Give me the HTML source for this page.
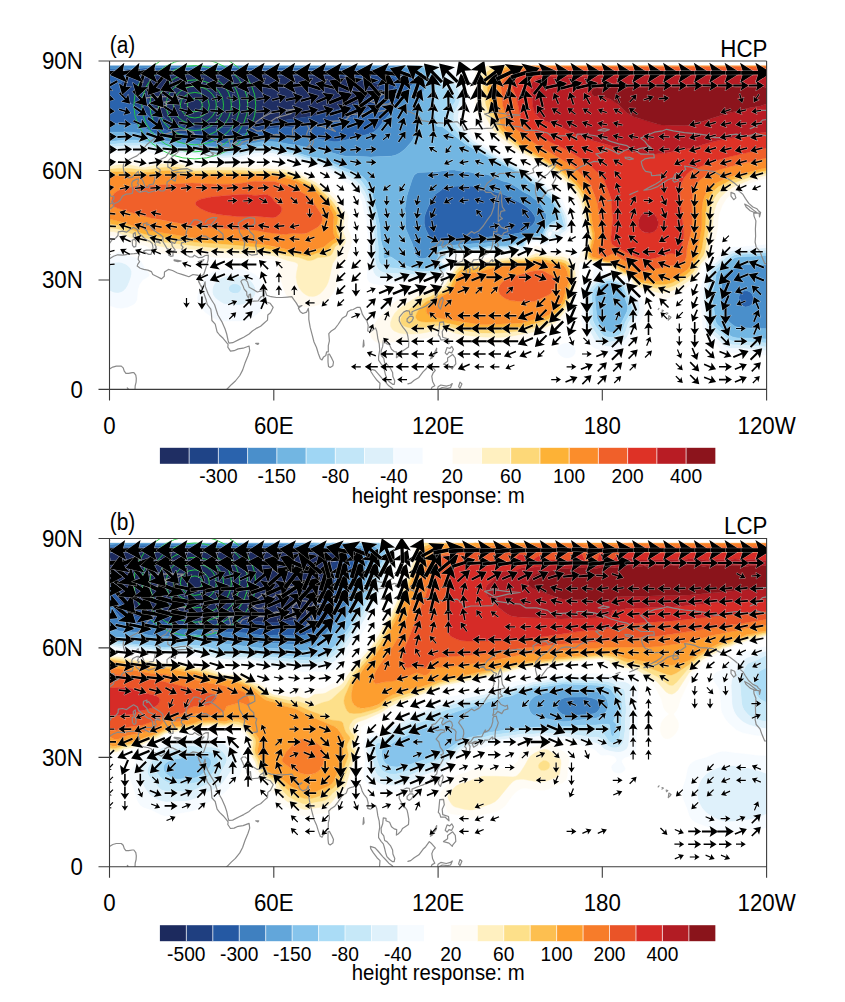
<!DOCTYPE html>
<html><head><meta charset="utf-8"><title>fig</title>
<style>html,body{margin:0;padding:0;background:#fff}svg{display:block}text{font-family:"Liberation Sans",sans-serif;fill:#000}</style></head>
<body><svg width="845" height="1002" viewBox="0 0 845 1002">
<rect width="845" height="1002" fill="#fff"/>
<g shape-rendering="geometricPrecision" stroke-width="0.4" stroke-linejoin="round"><path stroke="#1f2e63" fill="#1f2e63" d="M178.5 74.7L202.5 74.5L216 75.3L232.5 75.4L246 74.6L261 74.6L274.5 75.6L283.5 75.4L292.5 75.7L304.5 74.7L315 75.8L342 75.9L348 76.6L364.5 81.3L375 82.9L378 83.8L379.4 85.2L379.7 86.7L379.1 88.2L377.8 89.7L371.9 94.2L367.5 97.2L362 100.2L352.5 104.6L345 107.5L337.5 109.2L325.5 113L315 115.8L268.5 122.6L255 125.9L250.5 126.4L226.5 127.4L195 127.9L175.5 124.3L172.5 123.2L169 121.2L165 117.8L154.5 107.1L141.3 91.2L140.2 89.7L139.1 86.7L139.4 83.7L141.2 80.7L142.9 79.2L145.5 77.7L150 76.2L154.5 75.8L169.5 75.7L178.5 74.7Z"/><path stroke="#1f4487" fill="#1f4487" d="M146.7 71.7L151.5 71.2L163.5 71.4L184.5 71L235.5 71.4L256.5 71L274.5 71.5L283.5 71.1L294 71.7L303 71.1L313.5 71.6L322.5 71.1L333 71.5L340.5 71.3L348 71.8L364.5 74L381 74.9L388.5 76.2L392.7 77.7L394.9 79.2L395.9 80.7L396.2 82.2L395.5 85.2L392.7 89.7L390 92.5L384 97.3L375 105.3L369 108.8L357 114.7L351 117.2L339 119.9L318 125.3L310.5 126.3L274.5 128L270 128.8L255 132.8L228 135.2L217.5 135.3L195 134.8L175.5 132.7L169.5 131.6L165 129.6L159.3 125.7L145.5 112.6L142.5 110.2L125.5 100.2L122.6 97.2L121 94.2L120.2 91.2L120.1 86.7L120.8 83.7L123.2 80.7L125.4 79.2L131.8 76.2L139.5 73.5L145.5 72ZM180 74.6L169.5 75.7L154.5 75.8L150 76.2L145.5 77.7L142.9 79.2L141.2 80.7L139.4 83.7L139.1 86.7L140.2 89.7L141.3 91.2L154.5 107.1L165 117.8L169 121.2L172.5 123.2L175.5 124.3L195 127.9L226.5 127.4L250.5 126.4L255 125.9L268.5 122.6L315 115.8L325.5 113L337.5 109.2L345 107.5L352.5 104.6L362 100.2L367.5 97.2L371.9 94.2L377.8 89.7L379.1 88.2L379.7 86.7L379.4 85.2L378 83.8L375 82.9L364.5 81.3L348 76.6L342 75.9L315 75.8L304.5 74.7L292.5 75.7L283.5 75.4L274.5 75.6L261 74.6L246 74.6L232.5 75.4L216 75.3L202.5 74.5L181.5 74.5Z"/><path stroke="#2a63ad" fill="#2a63ad" d="M134.8 68.7L151.5 67.6L214.5 67.7L225 67.3L235.5 67.7L262.5 67.5L274.5 67.8L283.5 67.3L294 67.8L303 67.5L313.5 67.8L325.5 67.3L348 67.6L378 69.2L393 69.1L399 69.9L403.5 71.3L411 74.5L413.3 76.2L414.4 77.7L414.9 79.2L414.9 80.7L414.3 82.2L409.5 87.3L397.5 104.8L386 118.2L378 128.4L374.2 131.7L369 134L345 140.3L337.5 141.7L333 141.7L315 138.2L276 135.3L273 135.5L264 137.4L255 138.5L244.5 140.9L235.5 142.4L225 143.2L214.5 142.8L195 140.3L186 140.2L178.5 139.7L165 137.3L160.5 135.9L156 134.1L141 126.1L133.5 123.9L126 123.3L109.5 123.8L109.5 69L124.5 69.2L133.5 68.8ZM147 71.6L140.5 73.2L131.8 76.2L125.4 79.2L123.2 80.7L120.8 83.7L120.1 86.7L120.2 91.2L121 94.2L122.6 97.2L125.5 100.2L142.5 110.2L145.5 112.6L159.3 125.7L165 129.6L169.5 131.6L175.5 132.7L195 134.8L217.5 135.3L228 135.2L255 132.8L270 128.8L274.5 128L315 125.8L351 117.2L357 114.7L373.5 106.3L376.5 104.2L384 97.3L389.8 92.7L392.7 89.7L394.7 86.7L396 83.7L395.9 80.7L394.5 78.9L392.7 77.7L390 76.7L381 74.9L364.5 74L348 71.8L340.5 71.3L333 71.5L322.5 71.1L313.5 71.6L303 71.1L294 71.7L283.5 71.1L274.5 71.5L255 71L235.5 71.4L202.5 71L148.5 71.4ZM444 187.2L447 186.7L457.5 186.1L472.5 186.1L504 194.6L522.2 203.7L526.5 206.7L531 210.9L534.5 215.7L535.3 218.7L534.7 221.7L532.5 225L527.2 229.2L522 232L519 233L507 235.2L493.5 236.2L481.5 238L444 241.6L438.4 241.2L433.5 239.7L431.1 238.2L429.6 236.7L426.3 230.7L425.2 227.7L424.2 223.2L424.3 217.2L425.7 212.7L432 198.2L435 194.6L441.1 190.2L442.5 188.7ZM741.7 292.2L744 291L747 290.8L750 292.1L751.8 293.7L753.2 296.7L753.2 301.2L751.9 304.2L750.1 305.7L748.5 306.5L745.5 306.9L742.5 306L740.4 304.2L739 301.2L738.8 298.2L739.3 295.2L741 292.7Z"/><path stroke="#4a8fcb" fill="#4a8fcb" d="M109.5 65.7L368.8 65.7L379.5 66.1L384.3 65.7L400.8 65.7L415.5 70.8L420 73.2L421.8 74.7L424.3 77.7L425.5 80.7L425.7 82.2L424.6 88.2L421.5 98.6L419 104.7L418.2 107.7L417.5 119.7L414.3 136.2L413.1 139.2L411.1 142.2L405 149L402 151.6L397.9 154.2L394.5 155.6L391.5 156.1L370.5 157.1L355.5 156.2L346.5 156.3L340.5 155.3L331.5 152.4L315 148.4L306 147.1L297 145.2L288 144L277.5 141.9L268.5 141.4L261 141.8L237 146.4L225 147.4L213 146.7L195 144L183 143.5L175.5 142.8L159 139.8L141 133.7L135 132.4L127.5 131.9L109.5 132.2L109.5 123.8L126 123.3L133.5 123.9L141 126.1L156 134.1L160.5 135.9L165 137.3L178.5 139.7L186 140.2L195 140.3L214.5 142.8L225 143.2L235.5 142.4L244.5 140.9L255 138.5L264 137.4L273 135.5L276 135.3L315 138.2L334.5 141.8L340.5 141.3L369 134L374.2 131.7L378 128.4L386 118.2L397.5 104.8L409.5 87.3L414.3 82.2L414.9 80.7L414.9 79.2L414.4 77.7L413.3 76.2L411 74.5L403.5 71.3L399 69.9L393 69.1L378 69.2L345 67.5L324 67.3L313.5 67.8L303 67.5L294 67.8L283.5 67.3L274.5 67.8L262.5 67.5L235.5 67.7L225 67.3L214.5 67.7L151.5 67.6L123 69.2L109.5 69L109.5 67.2ZM444 170.7L450 169.9L454.5 169.9L463.5 171.6L471 172.3L478.5 174.4L486 174.2L489 175.1L492 176.8L498 178.9L502.5 181L507 182L510 183.1L517.5 187.7L523.1 191.7L529.5 194.9L538.7 202.2L541.1 205.2L546 214.1L546.4 215.7L546.1 218.7L544.8 221.7L538.5 232.2L535.5 233.6L529.5 234.5L520.5 238.8L514.5 239.6L507 241.7L498 241.7L481.5 243.2L447 245.6L439.5 246.5L436.5 247.4L434.3 248.7L432.6 250.2L428.5 256.2L426.6 257.7L424.5 258.5L421.5 258.8L418.5 257.9L416.6 256.2L415.6 254.7L412.5 244.2L406 229.2L405.3 224.7L405.6 217.2L405 208.2L406.8 196.2L412 179.7L414 175.6L415.7 173.7L418.5 172.5L436.5 171.7L444 170.7ZM444 187.2L441.1 190.2L435 194.6L432.3 197.7L430.5 201.2L425.7 212.7L424.3 217.2L424.2 223.2L425.7 229.2L428.6 235.2L430.5 237.6L432 238.9L435 240.3L438 241.1L444 241.6L481.5 238L493.5 236.2L505.5 235.4L519 233L523.5 231.3L529.3 227.7L532.5 225L534 223.2L535.2 220.2L535.1 217.2L534 214.8L532.6 212.7L528.2 208.2L523.5 204.5L504 194.6L474 186.4L465 185.9L445.5 186.8ZM739.8 265.2L745.5 264.6L766.6 265.1L766.6 328.8L751.5 328L741 327.8L736.5 327L733.5 325.4L729.6 322.2L726.7 319.2L724.5 315.8L723 311L720.2 296.7L720.6 292.2L723.4 277.2L724.5 275L726.8 272.7L735 267.4L739.5 265.3ZM742.5 291.6L740.1 293.7L738.9 296.7L738.8 299.7L739.5 302.7L741 304.8L744 306.7L745.5 306.9L748.5 306.5L751.5 304.6L752.8 302.7L753.4 299.7L753.2 296.7L751.8 293.7L750 292.1L747 290.8L744 291Z"/><path stroke="#72b6e2" fill="#72b6e2" d="M368.8 65.7L384.3 65.7L379.5 66.1L369 65.7ZM400.8 65.7L420.1 65.7L428.2 70.2L430.5 72.4L432.2 74.7L433.5 77.7L434.1 80.7L434.8 91.2L434.3 110.7L435.5 122.7L436.5 125.7L438 126.5L441 126.4L442.5 126.8L465 143.7L478.5 151.9L496.5 161.4L522 174L526.9 179.7L529.5 182L537 185.4L538.5 186.5L543.6 193.2L551.4 199.2L558 212.8L559 217.2L558.7 218.7L558 219.7L552 222.1L547.5 225.9L544.9 229.2L541.5 236L540 236.5L532.5 237.1L529.5 237.9L525 240.6L522 244.2L520.5 244.4L516 243.4L513 244L508.5 246.2L502.5 246L495 246.9L489 246.5L481.5 247.7L475.5 247.4L468 248.4L460.5 248.4L454.5 249.1L445.5 249.3L442.5 249.7L440.9 250.2L439 251.7L438.3 253.2L438.6 256.2L436.1 260.7L435.8 262.2L436 265.2L435.1 266.7L428.8 268.2L423 268.9L417 268.5L409.5 266.9L401.4 263.7L391.5 257.3L390 256.8L385.5 258.8L384 258.3L383.6 257.7L383.3 256.2L383.5 250.2L380.4 238.2L379.9 226.2L376.9 211.2L374.3 202.2L372.4 193.2L368.5 184.2L366 180.1L362.6 176.7L358.5 174L349.5 169.9L334.5 163.9L327 159.9L321 158.2L312.1 157.2L301.5 154.3L294 151.4L286.5 150.3L276 147.4L268.5 146.4L264 146.3L258 146.7L237 150.9L229.5 151.8L222 151.9L211.5 151L196.5 148.1L178.5 147.2L163.5 145.3L135 140L124.5 140L109.5 141.7L109.5 132.2L130.5 132L139.5 133.3L156 139L165 141.1L180 143.3L196.5 144.1L216 147L225 147.4L232.5 146.9L240 145.9L258 142.2L270 141.4L280.5 142.3L288 144L313.5 148.1L328.5 151.6L340.5 155.3L345 156.2L355.5 156.2L370.5 157.1L390 156.3L394.5 155.6L400.4 152.7L405 149L411 142.4L413.8 137.7L417.5 119.7L418.2 107.7L419 104.7L421.5 98.6L425.6 83.7L425.5 80.7L424.3 77.7L421.8 74.7L420 73.2L415.5 70.8L402 66ZM445.5 170.4L438 171.5L418.5 172.5L415.7 173.7L414 175.6L412.5 178.4L407.2 194.7L405 208.2L405.6 217.2L405.3 224.7L406 229.2L412.5 244.2L415.6 254.7L416.6 256.2L418.5 257.9L420 258.5L423 258.8L426 258L427.5 257.1L429 255.7L432.6 250.2L434.3 248.7L436.5 247.4L439.5 246.5L447 245.6L481.5 243.2L498 241.7L507 241.7L514.5 239.6L520.5 238.8L529.5 234.5L535.5 233.6L538.5 232.2L544.8 221.7L546.1 218.7L546.4 215.7L546 214.1L541.1 205.2L538.7 202.2L529.5 194.9L523.1 191.7L517.5 187.7L510 183.1L507 182L502.5 181L498 178.9L492 176.8L487.5 174.5L484.5 174.1L478.5 174.4L471 172.3L463.5 171.6L454.5 169.9L447 170.2ZM749.9 256.2L757.5 256L766.6 255.2L766.6 265.1L745.5 264.6L741 265L736.5 266.5L726.8 272.7L724 275.7L722.9 278.7L720.3 293.7L720.2 296.7L720.9 301.2L723.2 311.7L724.5 315.8L726.7 319.2L731.3 323.7L735 326.3L739.5 327.7L766.6 328.8L766.6 339L748.5 338L738 338L733 337.2L729 334.9L723.4 329.7L718.5 325.8L716.7 323.7L715.4 320.7L713.9 308.7L712.3 299.7L712.1 295.2L712.4 292.2L714.8 283.2L715.8 275.7L716.9 272.7L720 269.1L733.5 258.4L735 257.6L738 256.9L748.5 256.3ZM606.6 283.2L610.5 282.5L612 282.5L615 283.5L619.9 286.2L622 289.2L627.6 305.7L627.7 308.7L626.9 311.7L621.7 322.2L619.8 328.2L618 330.5L615 332L612 332.3L609 331.8L604.5 329.3L599.6 323.7L597.8 320.7L596.9 317.7L595.1 299.7L595.3 293.7L597.3 289.2L599.9 286.2L602.2 284.7L606 283.4Z"/><path stroke="#9fd6f4" fill="#9fd6f4" d="M420.1 65.7L427.6 65.7L432 69L435.9 73.2L441 83.1L442.5 85L444.6 86.7L451.5 90.8L454.5 94.4L455.6 97.2L455.8 100.2L454.5 103.1L450.6 107.7L448.6 110.7L448 112.2L447.6 115.2L448.1 118.2L450 122.7L453 127.2L457 131.7L464.4 139.2L470 143.7L481.5 150.9L496.5 159.3L522 172.1L530.2 179.7L532.5 181.2L538.5 184L540 185.3L545.1 191.7L552 196.8L554.2 199.2L561.3 214.2L564.1 224.7L564 226.5L562.5 228L561 227.2L558 224.1L556.5 223.6L555 223.6L552 224.6L547.5 228.3L545 232.2L544.2 235.2L544.5 240.2L543 240.6L540 238.2L538.5 237.9L534 238L531 238.6L528 239.8L526.1 241.2L524.8 242.7L523.5 245.7L522 246.7L516 244.7L513 245.4L510 247.2L508.5 247.6L502.5 247.4L495 248.5L489 247.9L481.5 249.2L474 248.9L468 249.8L460.5 249.7L453 250.7L445.5 250.7L442.5 251.1L441.3 251.7L440.4 253.2L441.3 254.7L443.9 256.2L443.5 257.7L439.7 259.2L438.5 260.7L438.4 262.2L439.3 263.7L442.6 265.2L444 266.7L443.7 268.2L442.5 269.4L441 270.1L438 270.7L421.5 271.6L414 271.3L396 268.3L387 267.5L384 266.6L381 264.6L379.3 262.2L378.2 257.7L378.3 247.2L377.2 238.2L376.5 226.2L375.5 220.2L369.7 196.2L365.7 187.2L361.5 181.2L358.5 178.5L355.9 176.7L349.5 173.4L333.6 166.2L324 161.4L319.5 160.3L312 159.2L304.5 157.3L294 153.4L286.5 152.5L276 149.5L268.5 148.5L262.5 148.3L256.5 148.8L237 152.9L229.5 153.7L222 153.8L211.5 152.9L195 149.6L178.5 148.9L162 147.1L147 144.3L138 143.1L127.5 142.9L109.5 144.5L109.5 141.7L124.5 140L133.5 139.9L139.5 140.6L165 145.5L178.5 147.2L196.5 148.1L213 151.2L223.5 151.9L231 151.6L237 150.9L258 146.7L264 146.3L268.5 146.4L276 147.4L286.5 150.3L294 151.4L301.5 154.3L312.1 157.2L321 158.2L325.5 159.3L334.5 163.9L349.5 169.9L358.5 174L361.5 175.8L364.3 178.2L367.7 182.7L372.4 193.2L374.3 202.2L377.2 212.7L379.9 226.2L380.4 238.2L383.5 250.2L383.3 256.2L384 258.3L385.5 258.8L390 256.8L391.5 257.3L398.7 262.2L403.5 264.7L408.8 266.7L414.9 268.2L423 268.9L433.5 267.2L435.1 266.7L436 265.2L435.8 262.2L436.1 260.7L438.6 256.2L438.3 253.2L439 251.7L441 250.2L445.5 249.3L454.5 249.1L462 248.3L468 248.4L474 247.5L481.5 247.7L489 246.5L495 246.9L502.5 246L508.5 246.2L513 244L516 243.4L520.5 244.4L522 244.2L525 240.6L529.5 237.9L532.5 237.1L540 236.5L541.5 236L544 230.7L546 227.6L549 224.4L552 222.1L558 219.7L558.7 218.7L558.9 215.7L558 212.7L551.4 199.2L543.6 193.2L538.5 186.5L537 185.4L529.5 182L526.9 179.7L522 174L496.5 161.4L478.5 151.9L465 143.7L442.5 126.8L441 126.4L438 126.5L436.5 125.7L435.5 122.7L434.3 110.7L434.8 91.2L433.9 79.2L432.2 74.7L429.9 71.7L426 68.7L421.5 66.3ZM760.2 253.2L766.6 252.5L766.6 255.2L757.5 256L738 256.9L735 257.6L732 259.4L727.2 263.7L719.3 269.7L716.9 272.7L715.8 275.7L714.8 283.2L712.2 293.7L712.1 298.2L713.9 308.7L715.1 319.2L715.9 322.2L717.9 325.2L724.5 330.6L729 334.9L732 336.8L736.5 337.9L748.5 338L766.6 339L766.6 343L747 341.7L735 341.5L730.5 340.5L727.5 338.7L721.5 332.9L715.5 328.1L713.3 325.2L712 320.7L710.8 308.7L709.2 298.2L709.2 293.7L711.8 283.2L713 274.2L714.3 271.2L717 268.2L724.7 262.2L730.5 257.1L733.5 255.3L736.5 254.6L759 253.3ZM603.1 281.7L609 280.5L612 280.5L622.7 284.7L624 286.7L626.3 293.7L630.9 302.7L631.8 305.7L632 308.7L631.3 311.7L625.3 322.2L622.3 331.2L619.5 334.5L615 336.8L612 337.4L609 337.3L606 336.7L603 335.3L600 332.1L595.5 325.7L593 320.7L592.5 317.7L592.4 310.2L591.7 298.2L592.1 292.2L593.5 289.2L596.1 286.2L600 283L603 281.7ZM607.5 283L603 284.3L600 286.1L597.3 289.2L595.7 292.2L595.1 295.2L595 298.2L596.9 317.7L597.8 320.7L599.6 323.7L604.5 329.3L609 331.8L612 332.3L615 332L618 330.5L619.8 328.2L621.7 322.2L626.9 311.7L627.7 308.7L627.6 305.7L622.5 290.6L621 287.4L619.5 285.9L614.3 283.2L612 282.5L609 282.6Z"/><path stroke="#c2e6f8" fill="#c2e6f8" d="M427.6 65.7L434.2 65.7L445.5 76.6L453 82.2L456.6 86.7L458.1 89.7L459.5 94.2L460 97.2L459.9 100.2L458.5 104.7L454.6 112.2L453.8 115.2L453.8 118.2L454.5 121.2L457 125.7L465.5 136.2L471 141.6L481.5 148.4L496.5 157.4L522 170.3L531 177.9L540 183L546 189.9L554.2 196.2L556.6 199.2L564.2 215.7L565.4 220.2L566.1 224.7L565.5 228.3L564 229.9L562.5 230.3L561 229.7L558 226.5L556.5 225.8L553.5 226.1L550.5 228L547.6 230.7L546.7 232.2L546 235.2L547 239.7L546.5 241.2L544.5 242.6L543 242.5L540 239.9L538.5 239.1L535.5 238.9L531.1 239.7L528 241.1L526.5 242.4L524.3 247.2L523.5 248.1L522 248.5L516 246L514.5 246.1L510 248.5L508.5 248.9L502.5 248.7L495 249.9L489 249.3L481.5 250.6L474 250.2L468 251.2L459 251L450 252.7L444 252.7L443.1 253.2L445.5 254.9L446.2 256.2L445.7 257.7L441 260.1L440.4 260.7L440.4 262.2L445 265.2L445.8 266.7L445.7 268.2L444 270.6L439.5 272.7L436.5 273.3L429 273.4L418.5 274.3L411 274.4L385.5 273.1L382.5 272.3L379.5 270.5L378 268.8L376.8 266.7L375.4 262.2L375 257.7L374.8 242.7L373.6 226.2L372.5 218.7L367.5 198.6L364.6 191.7L359.6 184.2L354.6 179.7L338.1 170.7L322.5 163.4L318 162.1L304.5 159.4L294 155.4L285 154.3L276 151.7L270 150.7L262.5 150.5L256.5 150.8L237 155.1L229.5 155.7L222 155.9L210 154.8L195 151.3L180 151L163.5 149.4L157.5 148.6L144 146L133.5 145.8L109.5 147.1L109.5 144.5L126 143L136.5 142.9L147 144.3L163.5 147.3L180 149.1L195 149.6L211.5 152.9L223.5 153.9L231 153.6L237 152.9L256.5 148.8L262.5 148.3L268.5 148.5L276 149.5L286.5 152.5L294 153.4L304.5 157.3L312 159.2L319.5 160.3L324 161.4L333.6 166.2L349.5 173.4L355.9 176.7L358.5 178.5L361.5 181.2L365.7 187.2L369.7 196.2L375.5 220.2L376.5 226.2L377.2 238.2L378.3 247.2L378.2 257.7L379.3 262.2L381 264.6L384 266.6L387 267.5L396 268.3L414 271.3L421.5 271.6L438 270.7L441 270.1L442.5 269.4L443.7 268.2L444 266.7L442.6 265.2L439.3 263.7L438.4 262.2L438.5 260.7L439.7 259.2L443.5 257.7L443.9 256.2L441.3 254.7L440.4 253.2L441.3 251.7L442.5 251.1L445.5 250.7L453 250.7L460.5 249.7L468 249.8L474 248.9L481.5 249.2L489 247.9L495 248.5L502.5 247.4L508.5 247.6L510 247.2L513 245.4L516 244.7L522 246.7L523.5 245.7L524.8 242.7L526.1 241.2L528 239.8L531 238.6L534 238L538.5 237.9L540 238.2L543 240.6L544.5 240.2L544.2 235.2L545 232.2L547.5 228.3L552 224.6L555 223.6L556.5 223.6L558 224.1L561 227.2L562.5 228L564 226.5L564.1 224.7L561.3 214.2L554.2 199.2L552 196.8L545.1 191.7L540 185.3L538.5 184L532.5 181.2L530.2 179.7L522 172.1L496.5 159.3L480 150L469.5 143.4L462.8 137.7L454.3 128.7L451.9 125.7L449.2 121.2L448.1 118.2L447.6 115.2L448 112.2L448.6 110.7L455.2 101.7L455.9 98.7L455.1 95.7L453.3 92.7L451.5 90.8L444.6 86.7L442.5 85L441 83.1L435.9 73.2L433.3 70.2L429 66.8ZM553.4 235.2L555 234.2L556.5 234.4L557.5 235.2L557.6 236.7L556.5 237.6L555 237.9L553 236.7ZM764.8 250.2L766.6 250L766.6 252.5L757.5 253.5L736.5 254.6L733.5 255.3L730.5 257.1L724.7 262.2L717 268.2L714.3 271.2L713 274.2L711.8 283.2L709.4 292.2L709.1 296.7L710.8 308.7L712 320.7L713.3 325.2L715.5 328.1L721.5 332.9L727.4 338.7L730.5 340.5L733.5 341.3L747 341.7L766.6 343L766.6 347L745.5 345.2L732 344.8L729 344.2L726 342.5L719.2 335.7L712.5 330.1L710.1 326.7L709 322.2L707.8 308.7L706.2 296.7L706.4 292.2L708.7 283.2L709.9 274.2L710.7 271.2L713 268.2L727.3 256.2L732 253.2L735 252.4L756 251.2L763.5 250.4ZM605.7 278.7L609 278.4L612 278.8L619.5 281.5L624 282.5L625.1 283.2L628.5 292.6L633.3 299.7L634.9 302.7L636 307.2L635.8 310.2L634.7 313.2L628 323.7L625.8 331.2L624 334.9L621 338L618 339.9L615 341.1L610.5 342L606 341.7L603 341L601 340.2L599.1 338.7L590 323.7L588.9 319.2L589.2 310.2L588.7 293.7L589.5 289.6L592.3 286.2L598.5 281.1L601.5 279.4L604.5 278.8ZM604.5 281.4L601.5 282.3L597.8 284.7L593.5 289.2L592.1 292.2L591.7 298.2L592.6 319.2L593.5 322.2L595.2 325.2L600 332.1L603 335.3L604.5 336.2L607.5 337.1L610.5 337.4L613.5 337.2L616.5 336.3L619.5 334.5L622.3 331.2L625.3 322.2L631.3 311.7L632 308.7L631.8 305.7L630.9 302.7L626.3 293.7L624 286.7L622.7 284.7L612 280.5L609 280.5L606 281ZM230.8 284.7L232.5 284L235.5 283.6L239 284.7L240.6 286.2L241.3 287.7L241.3 289.2L240 291.6L238.5 292.7L235.5 293.5L232.5 293.1L231 292.5L229.1 290.7L228.5 289.2L228.6 287.7L229.5 285.9Z"/><path stroke="#ddf0fa" fill="#ddf0fa" d="M434.2 65.7L441.2 65.7L447 70.6L456 76.5L458.5 79.2L460.2 82.2L461.8 86.7L462.8 91.2L463.5 98.7L462.3 104.7L458.6 113.7L458.1 118.2L458.8 121.2L460.4 124.2L470.4 137.7L473.8 140.7L484.5 147.8L490.5 151.2L496.5 155.4L516.7 166.2L523.5 169.4L528 173.2L532.8 176.7L540.5 181.2L547.5 188.7L556.5 195.6L559.2 199.2L562.9 208.2L566.6 215.7L567.5 220.2L567.8 226.2L567.7 227.7L567 229.5L565.5 231.1L561.3 233.7L560.3 236.7L559 238.2L556.5 239.1L555 239.2L550.5 238.5L547.5 242.7L546 243.5L544.5 243.8L541.5 242.9L538.5 240.4L537 240L534 240.2L531 241L527.8 242.7L526.8 244.2L525.3 248.7L523.5 250L522 250.1L520.5 249.7L516 247.3L514.5 247.4L510 249.9L508.5 250.2L502.5 250.1L496.5 251.4L489 250.7L481.5 252.2L474 251.5L468 252.6L459 252.3L453 254L450 255.4L446.2 259.2L442.3 260.7L442.3 262.2L445.5 263.7L447 265.1L447.5 266.7L447.4 268.2L445.7 271.2L444 272.6L438 275.4L435 275.9L427.5 275.8L412.5 277.7L385.5 278.7L382.5 278.6L379.5 278L375.7 275.7L373.5 272.4L372.1 266.7L371.9 241.2L370 220.2L366.8 208.2L365.2 200.7L363.5 196.2L357.8 187.2L355.1 184.2L352.5 182.1L336 172.3L321 165.4L315 163.5L303 161.1L294 157.3L283.5 156.3L276 154L271.5 153.2L256.5 153.2L238.5 157.1L231 157.8L222 158L208.5 156.8L195 153.4L180 153.1L160.5 151.5L144 148.5L109.5 149.7L109.5 147.1L132 145.8L142.5 145.9L163.5 149.4L180 151L195 151.3L210 154.8L216 155.5L223.5 155.9L231 155.7L238.5 154.8L256.5 150.8L268.5 150.6L274.5 151.3L285 154.3L294 155.4L304.5 159.4L318 162.1L322.5 163.4L338.1 170.7L354.6 179.7L359.6 184.2L364.6 191.7L367.5 198.6L372.5 218.7L373.6 226.2L374.8 242.7L375 257.7L375.4 262.2L376.8 266.7L378 268.8L379.5 270.5L382.5 272.3L385.5 273.1L411 274.4L418.5 274.3L429 273.4L436.5 273.3L439.5 272.7L444 270.6L445.7 268.2L445.8 266.7L445 265.2L440.4 262.2L440.4 260.7L441 260.1L445.7 257.7L446.2 256.2L445.5 254.9L443.1 253.2L444 252.7L450 252.7L459 251L468 251.2L474 250.2L481.5 250.6L489 249.3L495 249.9L502.5 248.7L508.5 248.9L510 248.5L514.5 246.1L516 246L522 248.5L523.5 248.1L524.3 247.2L526.5 242.4L528 241.1L531.1 239.7L535.5 238.9L538.5 239.1L540 239.9L543 242.5L544.5 242.6L546.5 241.2L547 239.7L546 235.2L546.7 232.2L547.6 230.7L550.5 228L553.5 226.1L556.5 225.8L558 226.5L561 229.7L562.5 230.3L564 229.9L565.5 228.3L566.1 224.7L565.4 220.2L564.2 215.7L556.6 199.2L554.2 196.2L546 189.9L540 183L531 177.9L522 170.3L496.5 157.4L483 149.3L471.9 142.2L468.2 139.2L461.7 131.7L456 124.2L454.5 121.2L453.8 118.2L453.8 115.2L454.6 112.2L458.5 104.7L459.9 100.2L459.8 95.7L458.1 89.7L456 85.6L454.5 83.6L451.5 81L445.5 76.6L435 66.5ZM550.5 231.7L549 232.6L548.4 233.7L548.3 235.2L549 236.7L550.5 235.9L551.9 232.2ZM555 228.5L553.7 229.2L552.4 230.7L558 231.8L559 230.7L558 228.9L556.5 228.2ZM553.5 235.1L553 236.7L553.5 237.3L555 237.9L556.5 237.6L557.6 236.7L557.5 235.2L556.5 234.4L555 234.2ZM756.2 248.7L766.6 247.6L766.6 250L756 251.2L735 252.4L732 253.2L727.5 256L713 268.2L711.6 269.7L710.2 272.7L709 281.7L706.4 292.2L706.3 298.2L707.6 307.2L709 322.2L710.1 326.7L712.5 330.1L719.2 335.7L725.1 341.7L727.5 343.5L732 344.8L745.5 345.2L766.6 347L766.6 350.8L742.5 348.6L730.5 348.4L726 347L723 344.9L717 338.6L710.1 332.7L708 330.1L707 328.2L706.2 325.2L704.8 308.7L703.3 298.2L703.6 290.7L705.9 281.7L707.2 272.7L708.1 269.7L709.5 267.8L716.5 262.2L724.5 254.7L730.5 251L735 249.9L741 250L756 248.7ZM115.3 262.2L120.3 262.2L123 262.9L126 264.3L129.2 266.7L130.5 268.4L131.6 271.2L131.6 274.2L131 277.2L129.5 281.7L127.5 286.2L125.5 289.2L123 291.5L121.5 292.3L118.5 293.1L114 292.7L109.5 290.8L109.5 263.5L114 262.4ZM227.9 275.7L232.5 275.1L237 275.3L241.5 276.1L245 277.2L248.2 278.7L250.5 280.4L252.9 283.2L254.6 286.2L255.6 289.2L255.8 292.2L255 295L254 296.7L252 298.9L247.5 302.2L244.5 303.8L241.5 304.7L237 305.2L231 305.1L225 304.2L221.5 302.7L217.5 300L215.4 298.2L213.2 295.2L212.3 292.2L212.3 289.2L213.1 286.2L214.8 283.2L217.5 280.3L219.7 278.7L226.5 276ZM231 284.6L229.3 286.2L228.6 287.7L228.5 289.2L229.5 291.2L231 292.5L234 293.5L237 293.2L238.5 292.7L240.7 290.7L241.3 289.2L241.3 287.7L240.6 286.2L239 284.7L237 283.9L234 283.6L232.5 284ZM600.1 275.7L601.5 275.1L603 275L609 276.1L619.5 280L625.5 280.8L626.8 281.7L628.5 287.7L629.9 290.7L631.5 292.9L636.7 298.2L638.5 301.2L639.4 304.2L639.8 308.7L638.9 313.2L637.4 316.2L631.4 325.2L629.2 332.7L628 335.7L625.8 338.7L624 340.4L619.5 343.5L615 345.8L612 346.7L607.5 346.6L601.5 345.1L597 342.8L595.5 341.3L593.7 338.7L587.6 326.7L585.9 322.2L585.4 317.7L586.2 310.2L585.7 301.2L585.8 292.2L586.3 289.2L588 286.1L594 281.5L600 275.7ZM606 278.7L601.5 279.4L598.5 281.1L592.3 286.2L589.5 289.6L588.7 293.7L589.2 310.2L588.9 319.2L590 323.7L599.1 338.7L601.5 340.5L604.5 341.4L609 342L612 341.8L616.5 340.6L619.5 339.1L621.9 337.2L624 334.9L625.8 331.2L628 323.7L634.7 313.2L635.8 310.2L636 307.2L634.9 302.7L633.3 299.7L628.5 292.6L625.1 283.2L624 282.5L619.5 281.5L612 278.8L607.5 278.5Z"/><path stroke="#f5faff" fill="#f5faff" d="M441.2 65.7L449.7 65.7L451.5 67.2L460.3 71.7L462 73.3L463.7 76.2L464.8 79.2L465.6 83.7L466.8 94.2L466.9 98.7L466.1 104.7L462.6 115.2L462.4 118.2L463.5 121.2L468.6 128.7L473.1 136.2L475.5 138.5L480 141.3L485.1 145.2L492 149.2L496.5 152.9L502.5 155.9L507 158.8L513 161.5L517.5 164.4L523.5 166.8L528 170.8L541.5 178.9L546 184.2L551 188.7L557.8 193.2L559.4 194.7L562.2 199.2L565.5 207.9L569.1 214.2L569.8 217.2L569.8 227.7L569.7 229.2L569 230.7L565.5 233.8L562.4 238.2L561 239.4L558 240.2L552 240.9L548.3 244.2L546 245.1L543 244.7L541.5 244.1L538.5 241.9L537 241.3L532.5 241.9L530.4 242.7L528.5 244.2L527.8 245.7L527.3 248.7L526.5 250.2L525 251.4L523.5 251.9L520.5 251.5L516 249L514.5 249.1L511.5 250.8L508.5 251.7L502.5 251.8L496.5 253.1L489 252.4L481.5 253.9L474 253.2L468 254.2L459 253.9L456 254.7L451.5 257.6L448.6 260.7L448 262.2L449.2 265.2L449.3 266.7L448.6 269.7L447.8 271.2L444 274.8L441 276.8L438 278.2L435 278.7L427.5 278.5L412.5 281.3L394.5 283L381 284.9L373.5 283.8L370.5 282.7L369.1 281.7L367.5 279.1L367.1 275.7L367.6 265.2L368.6 257.7L368.2 248.7L368.6 239.7L367.4 230.7L366.7 220.2L363.9 211.2L362.2 202.2L361.2 199.2L355.2 190.2L351 185.5L334.5 174.7L316 166.2L301.5 163L294 159.6L291 159.2L283.5 159L274.5 156.4L271.5 156L256.5 156.2L246 158.5L240 159.4L231 160.1L222 160.2L207 159.1L193.5 156L181.5 155.6L157.5 154L144 151.7L127.5 152.8L109.5 152.7L109.5 149.7L144 148.5L160.5 151.5L180 153.1L195 153.4L208.5 156.8L216 157.7L223.5 158L232.5 157.7L240 156.9L256.5 153.2L270 153.1L274.5 153.7L283.5 156.3L294 157.3L303 161.1L315 163.5L319.3 164.7L336 172.3L352.5 182.1L355.1 184.2L357.8 187.2L363.5 196.2L365.2 200.7L366.8 208.2L370 220.2L371.9 241.2L372.1 266.7L373.5 272.4L375.7 275.7L379.5 278L382.5 278.6L385.5 278.7L412.5 277.7L427.5 275.8L435 275.9L438 275.4L444 272.6L445.7 271.2L447.4 268.2L447.5 266.7L447 265.1L445.5 263.7L442.3 262.2L442.3 260.7L446.2 259.2L450 255.4L453 254L459 252.3L468 252.6L474 251.5L481.5 252.2L489 250.7L496.5 251.4L502.5 250.1L508.5 250.2L510 249.9L514.5 247.4L516 247.3L520.5 249.7L522 250.1L523.5 250L525.3 248.7L526.8 244.2L527.8 242.7L531 241L534 240.2L537 240L538.5 240.4L541.5 242.9L544.5 243.8L546 243.5L547.5 242.7L550.5 238.5L555 239.2L556.5 239.1L559 238.2L560.3 236.7L561.3 233.7L565.5 231.1L567 229.5L567.7 227.7L567.8 226.2L567.5 220.2L566.6 215.7L562.9 208.2L559.2 199.2L556.5 195.6L547.5 188.7L540.5 181.2L532.8 176.7L528 173.2L523.5 169.4L516.7 166.2L496.5 155.4L490.5 151.2L484.5 147.8L473.8 140.7L471.8 139.2L469.1 136.2L460.4 124.2L458.8 121.2L458.1 118.2L458.6 113.7L462.3 104.7L463.5 98.7L463.1 92.7L460.8 83.7L459 79.9L456 76.5L447 70.6L442.5 67.1ZM553.7 229.2L556.5 228.2L558 228.9L559 230.7L558 231.8L553.5 231.1L552.4 230.7L553.5 229.6ZM549.7 232.2L550.5 231.7L551.9 232.2L550.5 235.9L549 236.7L548.3 235.2L548.4 233.7L549 232.6ZM756.2 245.7L766.6 244.5L766.6 247.6L742.5 249.9L735 249.9L730.5 251L724.5 254.7L716.5 262.2L709.1 268.2L707.6 271.2L705.9 281.7L703.6 290.7L703.3 298.2L704.8 308.7L706.2 325.2L707 328.2L708 330.1L710.1 332.7L717 338.6L723 344.9L726 347L730.5 348.4L742.5 348.6L766.6 350.8L766.6 355.2L739.5 352.7L729 352.8L724.5 351.4L721.1 349.2L718.5 346.7L714 341.4L707.3 335.7L704 331.2L702.6 326.7L702.2 316.2L699.8 299.7L699.7 293.7L700.2 289.2L703.1 280.2L704.9 271.2L705.8 268.2L707 266.7L714.5 260.7L721.5 252.6L726 249.6L732 247.2L735 246.9L741 247.2L747 246.3L756 245.7ZM116.8 253.2L118.5 252.2L120 251.9L121.5 252.2L129 256L136.5 257.9L139.1 259.2L141 261.5L144 266.8L148.4 272.7L149.1 274.2L149 275.7L148.5 276.4L142.5 280.2L139.5 284.4L137.9 289.2L136.9 299.7L135.4 302.7L133.5 304.4L127.5 307.2L121.5 308.3L117 307.9L109.5 305.6L109.5 290.8L114 292.7L117 293.2L120 292.8L123 291.5L126 288.5L128.2 284.7L130.5 278.7L131.6 274.2L131.6 271.2L130.4 268.2L127.5 265.2L124.9 263.7L121.5 262.4L118.5 262L114 262.4L109.5 263.5L109.5 256.6L112.5 255.6L115.5 254ZM595.8 268.2L598.5 267.3L600 267.6L608.1 272.7L618 278L621 279L625.5 279.1L627 279.6L628.5 281.2L629.7 286.2L631.5 289.6L640.3 296.7L643.2 301.2L643.9 304.2L644.3 308.7L644.2 311.7L643.5 314.7L642.1 317.7L637 325.2L635.8 328.2L633.6 335.7L632.2 338.7L628.3 343.2L621.6 347.7L615 353.4L612 354.7L610.5 354.8L607.5 354L601.8 350.7L594 347.7L590.5 344.7L588.7 341.7L586.5 334.7L583.7 328.2L581.4 320.7L581.4 316.2L582.5 310.2L582.1 302.7L582.7 290.7L583.5 286.9L585 284L588 281.1L591.9 278.7L593 277.2L593.6 271.2L594.3 269.7L595.5 268.5ZM601.5 275.1L600 275.7L594 281.5L589.5 284.7L587.9 286.2L586.3 289.2L585.8 292.2L585.7 301.2L586.2 310.2L585.4 317.7L585.6 320.7L587.6 326.7L593.7 338.7L595.8 341.7L598.5 343.8L601.5 345.1L607.5 346.6L610.5 346.8L615 345.8L619.5 343.5L624.3 340.2L627 337.2L629.2 332.7L631.4 325.2L637.4 316.2L638.9 313.2L639.7 310.2L639.7 305.7L639 302.7L637.7 299.7L635.4 296.7L631.5 292.9L629.1 289.2L626.8 281.7L625.5 280.8L619.5 280L610.5 276.5L603 275ZM223 269.7L231 268.9L237 269L244.5 270.3L250.5 272.2L255 274.5L258.2 277.2L261.7 281.7L264.9 287.7L266.6 293.7L266.7 298.2L265.5 302.7L262.5 308.3L259.5 312.1L253.5 316.7L247.5 319.7L243 320.9L223.5 321.1L220.5 320.7L217.5 319.8L211.5 316.8L205.5 312.6L201 307.5L198.5 302.7L197.5 298.2L198.2 293.7L202.5 282.9L205.6 277.2L208.5 274.2L211.5 272.5L215.3 271.2L222 269.9ZM228 275.7L223.5 277L219.7 278.7L217.5 280.3L214.8 283.2L213.1 286.2L212.3 289.2L212.3 292.2L213 294.7L214.5 297.1L217.1 299.7L220.5 302.1L223.5 303.7L229.5 305L240 305L243 304.3L246 303L250.5 300.1L253.5 297.3L254.9 295.2L255.8 292.2L255.2 287.7L253.8 284.7L251.7 281.7L249 279.2L246 277.6L241.5 276.1L237 275.3L229.5 275.4ZM560.9 344.7L564 343.5L567 343.3L570 344L573 345.9L574.5 347.7L575.4 350.7L574.8 353.7L573 356L570 357.6L567 358L564 357.4L561 355.9L558.8 353.7L557.6 350.7L558 347.7L559.5 345.8Z"/><path stroke="#fffaf0" fill="#fffaf0" d="M477.7 67.2L478.5 65.7L487.7 65.7L483.3 68.7L481.8 70.2L480.7 71.7L479.6 74.7L478.9 79.2L478.6 83.7L479.2 94.2L480.7 104.7L482.5 110.7L491.5 127.2L494.7 131.7L498 135.1L507 142.2L515.4 148.2L531.9 157.2L553.9 170.7L567.9 182.7L574.5 190.8L579.1 197.7L580.7 200.7L582.1 205.2L588.7 235.2L588.7 238.2L587.7 244.2L584.3 253.2L584.2 256.2L584.8 257.7L586.5 259.6L589.5 261.1L592.5 261.8L597 261.5L600 261.7L611.5 266.7L613.5 268.1L618 272.4L620.5 274.2L622.5 274.9L627 275.6L629.9 277.2L632.4 280.2L634.5 284.2L637.5 286.2L657 292.2L661.5 292.9L666 292.7L670.5 291.6L675 289.5L685.5 283.1L691.5 278.7L694.5 275.7L696 273.6L700.7 263.7L705.1 259.2L707.1 256.2L708 253.2L709 245.7L712.2 230.7L713.5 215.7L714.2 211.2L716.7 203.7L720.2 197.7L724.4 193.2L730.5 188.5L735.8 185.7L748.5 180.4L762 176.3L766.6 175.4L766.6 178.4L763.5 179L751.5 182.6L738 189.1L731.8 193.2L726.1 199.2L722.4 205.2L719 214.2L718.2 218.7L717.8 226.2L717.2 230.7L715.1 239.7L712.5 247.2L711.2 254.7L710 257.7L708 260.4L703.8 263.7L702.4 265.2L700.9 268.2L698.3 275.7L694.5 280.8L687 287.4L681.6 290.7L676.5 294.7L672 297.1L666 298.6L663 298.8L660 298.4L655.5 296.9L643.3 290.7L636 288L633 285.6L630.9 280.2L629.9 278.7L628.5 277.5L627 276.8L622.5 276.5L619.5 275.6L617.4 274.2L610.5 268.3L600 262.9L598.5 262.7L591 263.4L580.5 261.9L579.2 263.7L579 264.6L578.2 280.2L576.6 287.7L574.5 295.3L573 302.7L569.6 310.2L565.3 316.2L561.6 322.2L558.8 325.2L555 327.6L538.5 335.2L534 336.6L507 342.5L501 343.2L462 340.6L447.6 338.7L441 336.4L430.5 337.2L409.5 340.5L399 341.6L381 343.1L376.5 342.2L373.5 340.2L372 338.5L370.6 335.7L370.4 332.7L371.3 329.7L373.6 325.2L377.8 319.2L390 306L397.5 300.2L414 291.1L424.5 287.9L436.5 286.1L441 284.4L444 281.8L448.5 275.9L451.6 271.2L454.8 263.7L456 261.9L459 259.5L462 258.7L480 258.5L501 256.8L513 255L520.5 255.8L525 255.6L528.2 254.7L530.6 253.2L531.8 251.7L533.6 247.2L535.5 245.8L537 245.8L540.1 247.2L542 248.7L543 250.4L544.5 251.8L555 252.8L558 252.3L561 252.6L574.5 257.6L577.5 258.3L579 257.1L581.4 251.7L585.5 244.2L586.4 239.7L586.3 235.2L583.5 224.1L581.4 218.7L580.5 212.1L578.2 203.7L576 199.5L565.5 184.2L549.9 170.7L544.5 167.9L540 164.7L535.5 162.5L529.5 158.5L525 156.6L519 153.2L513 150.5L505.5 145.8L499.5 140.9L494.5 137.7L491.3 134.7L487.3 130.2L483 122.7L477.4 115.2L476.1 112.2L475.4 109.2L474.2 88.2L475 74.7L475.6 71.7L477 68.3ZM534 254.3L529.5 256.5L523.5 257.7L511.5 257.6L486 260.7L474 261.9L465 261.6L460.5 262.7L457.5 265L456 267.1L447 282.3L445.3 284.7L442.5 287.5L439.5 289L430.5 292.2L423 294.3L418.5 296L403.5 305.3L398.9 308.7L395.9 311.7L392.8 316.2L390.9 320.7L390.5 325.2L391.5 328.2L394.5 331.1L398.1 332.7L403.5 333.8L411 334.1L420 333.6L427.5 332.2L438 329.6L442.5 329.2L445.6 329.7L456 333.5L463.5 335.1L480 336.9L496.5 337.6L507 336.9L531 332.5L538.5 330.4L549 325.9L555 322.7L558 320L566.7 308.7L569.3 304.2L570.4 301.2L575.4 281.7L575.6 277.2L574.8 268.2L574.1 265.2L572.4 262.2L570 260L565.5 257.8L561 256.8L553.5 256.7L543 255.2L538.5 253.7L535.5 253.7ZM112 161.7L120 160.6L129 160.7L135 161.5L142.5 163.8L145.5 164.2L156 161.2L162 160.5L169.5 160.3L183 161.7L187.5 162.8L193.5 165.1L196.5 165.6L207 164.8L241.5 164.7L255 165.5L264 164.6L268.5 165.1L274.5 166.4L285 166.3L289.5 167.2L294 169.4L300 171.4L304.5 173.6L310.5 175.8L319.5 180.7L324.5 185.7L330 189.7L338.6 197.7L341.5 202.2L343.7 208.2L348 214.2L348.6 217.2L347.4 223.2L347.4 226.2L348 229.3L351.2 236.7L351.7 241.2L350.4 247.2L347.5 254.7L347.1 257.7L345.6 260.7L342 265.6L340.5 268.8L338.5 274.2L336.2 286.2L332.6 293.7L329.1 298.2L325.3 301.2L318 304.9L312 306.6L307.5 307.1L303 306.5L300 304.9L294.9 301.2L289.5 298L286.5 295.2L284.9 292.2L279 274.2L278.6 271.2L279.2 266.7L279 265.2L277.5 262.2L274.5 259.9L272.2 259.2L264 258.7L255 257.4L240 258.1L216 257.4L208.5 256.4L195 253.4L178.5 254L163.5 253.5L159 253L154.5 251.4L145.5 245.6L133.5 243.9L120 237.7L114 235.9L109.5 235.3L109.5 231.4L114 231.8L118.5 232.9L135 239.3L147 241.8L157.5 245.7L163.5 247.1L175.5 248.4L196.5 249.5L213 252L222 252.8L238.5 253.5L256.5 253.4L274.5 255.9L286.5 260.3L295.1 262.2L297.7 263.7L298.1 265.2L296.5 272.7L296.1 277.2L297 283.2L298.9 287.7L302.4 292.2L306.3 295.2L310.5 296.5L315 296.2L318 295L321 292.9L324 289.6L326.3 286.2L327.8 283.2L329.3 278.7L332.6 263.7L336.5 257.7L339.4 250.2L344.5 244.2L345.2 242.7L345.7 239.7L345.6 238.2L343.5 233.2L342.9 230.7L343.2 224.7L344.8 217.2L344.1 214.2L341 209.7L336.7 202.2L334.4 199.2L328.5 193.4L316.5 183L312 180.5L298.5 174.5L288 170.6L283.5 169.6L274.5 169.6L264 168.3L255 169.2L246 167.9L238.5 167.4L208.5 167.6L195 168.8L181.5 164.7L175.5 163.8L169.5 163.5L159 164.3L145.5 167.5L141 167.1L130.5 164.9L124.5 164.4L118.5 164.7L109.5 166.4L109.5 162.1L111 161.9Z"/><path stroke="#fff0c0" fill="#fff0c0" d="M485.4 67.2L487.7 65.7L501.6 65.7L492.1 68.7L486.8 71.7L484.5 74.7L483.5 77.7L483.1 80.7L483.4 91.2L486.3 106.2L489.2 113.7L496.6 128.7L501 133.7L517.4 146.7L552.8 167.7L558 171.3L571.1 182.7L578.7 191.7L582.2 197.7L584.4 203.7L590.7 235.2L590.6 238.2L589.8 242.7L586.8 253.2L587.1 256.2L588 257.7L591 259.9L592.5 260.3L600 260.7L612.5 265.2L615 266.9L621 272.4L627 274.3L630 275.9L632.9 278.7L636 282.6L639 284.3L655.5 288.1L661.5 288.6L666 288.2L670.5 287.2L675 285.3L684 280L690 275.7L693.9 271.2L697.6 263.7L703 256.2L704.3 253.2L708.6 229.2L709.5 214.2L710.3 208.2L712.5 201.1L715.5 195.9L717.7 193.2L721.5 189.8L726 186.7L732 183.5L750 177L762 173.7L766.6 172.9L766.6 175.4L762 176.3L750.2 179.7L732.8 187.2L726.1 191.7L720.2 197.7L716.7 203.7L714.2 211.2L713.5 215.7L712.2 230.7L709 245.7L708 253.2L707.1 256.2L705.1 259.2L700.5 263.9L696.5 272.7L694.5 275.7L690 279.9L684 284.1L675 289.5L669 292.1L663 293L660 292.8L655.5 291.9L639 286.7L636 285.5L634.5 284.2L632.4 280.2L629.9 277.2L627 275.6L622.5 274.9L620.5 274.2L618 272.4L613.5 268.1L610.5 266.2L600 261.7L591 261.5L588.4 260.7L586 259.2L584.8 257.7L584.1 254.7L584.7 251.7L587.2 245.7L588 242.8L588.7 238.2L588.7 235.2L582.1 205.2L579.9 199.2L576 192.9L569.3 184.2L557.6 173.7L550.5 168.4L531 156.7L525 153.7L514.5 147.6L498 135.1L493.5 130.2L490.6 125.7L482.5 110.7L481 106.2L480 100.8L478.7 88.2L479 77.7L479.6 74.7L480.7 71.7L481.8 70.2L484.5 67.8ZM118.6 164.7L123 164.4L129 164.7L142.5 167.4L145.5 167.5L160.5 164.1L171 163.5L181.5 164.7L195 168.8L208.5 167.6L238.5 167.4L246 167.9L255 169.2L264 168.3L274.5 169.6L283.5 169.6L288 170.6L298.5 174.5L312 180.5L316.5 183L328.5 193.4L334.4 199.2L336.7 202.2L341 209.7L344.1 214.2L344.8 217.2L343.2 224.7L342.9 230.7L343.5 233.2L345.6 238.2L345.7 239.7L345.2 242.7L344.5 244.2L339.4 250.2L336.5 257.7L332.6 263.7L329.3 278.7L327.8 283.2L326.3 286.2L323.1 290.7L320 293.7L316.5 295.7L313.5 296.5L309 296.3L306 295L302.4 292.2L298.9 287.7L297 283.2L296.1 277.2L296.5 272.7L298.1 265.2L297.7 263.7L295.1 262.2L286.5 260.3L274.5 255.9L256.5 253.4L238.5 253.5L222 252.8L213 252L196.5 249.5L175.5 248.4L163.5 247.1L157.5 245.7L147 241.8L135 239.3L118.5 232.9L114 231.8L109.5 231.4L109.5 227.8L115.5 228.4L120 229.4L140.3 236.7L166.5 242.5L193.5 245.7L219 248L259.5 250.5L276 253.3L286.5 255.8L298.5 257.3L307.5 260.5L310.5 260.6L312 260.3L318 257.6L327 256.7L330 255.7L331.4 254.7L332.4 253.2L334.9 247.2L336.3 245.7L340.9 242.7L341.9 241.2L342.2 239.7L342.1 238.2L340.1 233.7L339.4 230.7L339.6 226.2L341.6 217.2L340.9 214.2L334 203.7L330.5 199.2L318 187.5L315 185.1L310.5 182.7L295.5 175.9L286.5 173L282 172.2L265.5 171L253.5 171.5L244.5 170.4L238.5 170.2L211.5 170.3L195 171L190.5 170.3L180 167.8L171 166.8L162 167.3L150 169.6L145.5 170L141 169.9L124.5 168.1L118.5 168.3L109.5 169.2L109.5 166.4L118.5 164.7ZM533.4 254.7L535.5 253.7L537 253.4L544.5 255.4L553.5 256.7L561 256.8L564 257.3L567 258.4L570.9 260.7L573.4 263.7L574.5 266.7L575.6 277.2L575.4 281.7L569.9 302.7L566.7 308.7L558 320L555 322.7L550.5 325.3L538.5 330.4L532.5 332.2L508.5 336.7L498 337.6L480 336.9L463.5 335.1L456 333.5L445.6 329.7L442.5 329.2L438 329.6L427.5 332.2L420 333.6L411 334.1L403.5 333.8L399 333L394.7 331.2L392.7 329.7L390.8 326.7L390.5 325.2L390.6 322.2L392.1 317.7L394.7 313.2L398.9 308.7L403.5 305.3L418.5 296L423 294.3L430.5 292.2L439.5 289L442.5 287.5L445.3 284.7L447 282.3L456 267.1L457.5 265L460.5 262.7L465 261.6L474 261.9L486 260.7L511.5 257.6L523.5 257.7L528 256.9L532.5 255.1ZM532.5 257.7L523.5 259.5L510 259.9L495 261.9L477 264.8L466.5 265L462 265.8L459 267.8L456 271.2L453.2 275.7L448.5 284.8L444.9 289.2L442.6 290.7L436.5 293.2L430.5 296.6L423 299.3L420.1 301.2L404 313.2L401.6 316.2L400.6 319.2L400.5 320.7L401.4 323.7L403.5 325.7L406.5 327L412.5 328.4L417 328.8L420 328.6L438 325.5L442.5 325.2L447 326.1L456 328.9L462 330.4L472.5 332L483 333L496.5 333.1L505.5 332.6L522 330.6L532.5 328.2L546 323.5L552 320.6L556.5 316.8L563.4 308.7L566.5 304.2L567.8 301.2L572.5 284.7L573.3 278.7L572.5 271.2L571.2 266.7L569.4 263.7L567.9 262.2L565.5 260.7L562.5 259.7L553.5 259.1L540 256.9L537 256.7L534 257.2Z"/><path stroke="#fdd878" fill="#fdd878" d="M496.6 67.2L501.6 65.7L509.8 65.7L506.4 67.2L497.3 70.2L493.5 72.1L490.5 74.4L489 76.2L487.4 80.7L487.1 83.7L487.3 88.2L490.8 106.2L493.4 113.7L498.5 125.7L500.2 128.7L504.5 133.2L520.9 146.7L537 156L559.5 169.9L565.5 174.7L574.3 182.7L580.8 190.2L584.3 196.2L586.9 203.7L591.1 227.7L592.5 233.7L592.5 238.2L589 253.2L589.5 256.2L590.6 257.7L592.5 258.8L598.5 259.4L604.5 261.4L610.5 262.6L613.5 263.6L616.5 265.6L621 269.9L623.1 271.2L628.5 273.5L636 279.8L639 281.7L643.5 282.9L654 284.4L661.5 284.6L667.5 284L672 282.8L675 281.5L684 276.1L688.5 272.8L692.2 268.2L696 260.4L700.4 253.2L701.5 250.2L705.2 227.7L705.7 212.7L706.3 206.7L708.3 199.2L711.6 193.2L714.2 190.2L717.7 187.2L722.5 184.2L729 180.9L733.5 179.3L748.5 174.8L762 171.2L766.6 170.5L766.6 172.9L762 173.7L750 177L730.5 184.2L722.9 188.7L719.2 191.7L716.4 194.7L712.7 200.7L710.3 208.2L709.5 214.2L708.6 229.2L704.7 251.7L703.5 255.3L698.5 262.2L693.9 271.2L690 275.7L685.5 279L678 283.6L673.5 286L669 287.6L663 288.5L657 288.3L651 287.2L639 284.3L636 282.6L632.9 278.7L630 275.9L627 274.3L621 272.4L615 266.9L612.5 265.2L600 260.7L592.5 260.3L591 259.9L588 257.7L587.1 256.2L586.8 253.2L589.8 242.7L590.6 238.2L590.7 235.2L584.4 203.7L582.2 197.7L578.7 191.7L571.1 182.7L562.9 175.2L557.2 170.7L532.9 155.7L519.6 148.2L508.5 139.8L499 131.7L496.6 128.7L494.1 124.2L488.5 112.2L485.9 104.7L483.4 91.2L483 82.2L483.9 76.2L486 72.5L490.5 69.4L496.5 67.2ZM159.7 167.7L168 166.9L175.5 167.1L181.5 168.1L190.5 170.3L195 171L211.5 170.3L238.5 170.2L244.5 170.4L253.5 171.5L265.5 171L282 172.2L286.5 173L295.5 175.9L310.5 182.7L315 185.1L318 187.5L330.5 199.2L334 203.7L340.9 214.2L341.6 217.2L339.6 226.2L339.4 230.7L340.1 233.7L342.1 238.2L342.2 239.7L341.9 241.2L340.9 242.7L336.3 245.7L334.9 247.2L332.4 253.2L331.5 254.6L330 255.7L325.5 257L318 257.6L313.5 259.7L310.5 260.6L307.5 260.5L298.5 257.3L286.5 255.8L276 253.3L259.5 250.5L217.5 247.9L193.5 245.7L165 242.3L140.3 236.7L120 229.4L115.5 228.4L109.5 227.8L109.5 223.6L111 223.8L123 226.4L144 233.9L165 237.7L195 242.1L235.5 244.9L262.5 247.7L286.5 252.6L297 253.9L306 256L309 255.7L316.5 253.1L325.5 251.2L328.5 249.2L332.8 244.2L337.5 241.6L339 240.3L339.5 238.2L336.7 232.2L336.3 229.2L336.4 226.2L337.9 218.7L337.7 215.7L336.2 212.7L330.6 203.7L326.9 199.2L315 188L310.5 185.4L295.5 178.3L288 176L282 174.7L265.5 173.3L253.5 173.5L237 172.9L198 173.2L190.5 172.7L178.5 170.8L171 170.3L163.5 170.6L151.2 172.2L142.5 172.5L123 171.7L109.5 171.9L109.5 169.2L118.5 168.3L127.5 168.3L144 170L150 169.6L159 167.8ZM532.4 257.7L535.5 256.9L538.5 256.7L553.5 259.1L561 259.5L565.5 260.7L567.9 262.2L569.4 263.7L571.2 266.7L572.5 271.2L573.3 278.7L572.5 284.7L567.2 302.7L564.5 307.2L558 315.1L554 319.2L550.5 321.5L541.5 325.2L531 328.6L520.5 330.8L504 332.7L495 333.1L481.5 332.9L462 330.4L456 328.9L447 326.1L442.5 325.2L438 325.5L420 328.6L417 328.8L412.5 328.4L406.5 327L403.5 325.7L401.4 323.7L400.5 320.7L400.6 319.2L401.6 316.2L404 313.2L420.1 301.2L423 299.3L430.5 296.6L436.5 293.2L442.6 290.7L444.9 289.2L448.5 284.8L453.2 275.7L456 271.2L459 267.8L462 265.8L466.5 265L477 264.8L495 261.9L510 259.9L523.5 259.5L531 258.1ZM537 259.1L523.5 261.5L513 261.8L502.5 263L477 268.3L472.5 268.7L466.5 268.6L462 269.6L459 271.5L456 275L450.8 286.2L448.5 289.4L445.5 291.8L439.5 294.6L433.5 298.3L427.2 301.2L425 302.7L420.7 307.2L416.7 313.2L415.7 316.2L415.8 317.7L416.5 319.2L418.4 320.7L421.5 321.7L426 322.1L438 321.8L444 322.2L462 326.2L481.5 329L487.5 329.2L501 328.6L523.5 326.7L529.5 325.2L547.5 319.4L550.5 317.8L553.5 315.4L562.5 305.7L564.6 302.7L565.9 299.7L567.7 292.2L570.2 284.7L571.1 280.2L570.2 272.7L568.1 266.7L565.5 263.7L562.5 262.3L552 261.3L543 259.3L538.5 259.1Z"/><path stroke="#fdb236" fill="#fdb236" d="M506.4 67.2L509.8 65.7L518 65.7L504 70.4L498 73.2L495 75.5L493.1 77.7L491.7 80.7L491.1 83.7L491.3 88.2L494.9 107.7L496.3 112.2L502.7 127.2L505.5 130.4L522.5 145.2L559.5 167.2L565.5 171.6L577.5 182.4L583.1 188.7L587 196.2L589.5 203.7L593.2 227.7L594.7 233.7L594.7 238.2L591.2 251.7L591.2 254.7L592 256.2L594 257.5L598.5 258.3L604.5 260.3L612 261L615 262L617.5 263.7L622.5 268.2L628.5 271.6L634.5 276.3L639 279L643.5 280.1L652.5 280.9L663 280.3L669 279.6L672 278.8L675 277.3L682.5 273.1L687 269.9L690.4 265.2L697.7 248.7L701.8 226.2L701.9 211.2L702.5 203.7L704.5 196.2L708 190L711 186.7L715.5 183.2L727.5 177.6L733.5 175.7L742.5 173.7L760.5 168.9L766.6 167.8L766.6 170.5L762 171.2L748.5 174.8L733.5 179.3L728.4 181.2L718.5 186.6L715.5 188.9L712.8 191.7L709 197.7L706.6 205.2L705.7 212.7L705.2 227.7L701.8 248.7L700.5 252.9L696 260.4L692.2 268.2L690 271.3L687 274L684 276.1L676.5 280.6L672 282.8L666 284.2L658.5 284.6L651 284.1L640.5 282.2L637.5 280.9L628.5 273.5L623.1 271.2L621 269.9L616.5 265.6L613.5 263.6L610.5 262.6L604.5 261.4L598.5 259.4L592.5 258.8L590.6 257.7L589.5 256.2L589 253.2L592.5 238.2L592.5 233.7L591.1 227.7L586.9 203.7L584.3 196.2L580.8 190.2L577.1 185.7L572.7 181.2L565.5 174.7L558.6 169.2L537 156L523.3 148.2L519 145.2L502.5 131.4L500.2 128.7L497.8 124.2L492.7 112.2L490.8 106.2L487.5 89.7L487.2 82.2L488.3 77.7L490.2 74.7L491.8 73.2L497.3 70.2L505.5 67.5ZM163 170.7L174 170.4L190.5 172.7L198 173.2L240 172.9L253.5 173.5L265.5 173.3L280.5 174.5L286.5 175.6L294 177.8L313.5 187L316.5 189.3L328.3 200.7L331.6 205.2L337.1 214.2L337.7 215.7L337.9 218.7L336.4 226.2L336.4 230.7L337.2 233.7L339.5 238.2L339.3 239.7L338.1 241.2L332.8 244.2L328.5 249.2L327 250.5L324 251.7L316.5 253.1L310.5 255.4L307.5 255.9L304.5 255.8L297 253.9L286.5 252.6L262.5 247.7L235.5 244.9L195 242.1L165 237.7L144 233.9L123 226.4L117 224.9L109.5 223.6L109.5 219.1L124.5 222.8L142.7 229.2L148.5 230.6L195 238L225 239.7L241.5 241.3L255 243.7L265.5 244.7L274.5 246.9L288 249.6L297 250.7L304.5 252.6L309 251.8L315 249.4L324 246.7L330 241.7L335.2 238.2L334.9 236.7L333.5 233.7L332.9 230.7L334 218.7L333.6 215.7L331.7 211.2L327.1 203.7L324.5 200.7L313.5 189.9L310.5 188.1L294 180.2L286.5 178.1L279 176.5L264 175.5L207 175.9L171 173.9L153 175.1L136.5 175.7L115.5 175.4L109.5 175.9L109.5 171.9L123 171.7L141 172.6L151.5 172.2L162 170.8ZM536.5 259.2L543 259.3L553.5 261.5L561 262L564 262.9L565.5 263.7L568.1 266.7L569.9 271.2L571.1 278.7L570.7 283.2L567.7 292.2L565.9 299.7L564.6 302.7L561 307.5L552.7 316.2L549 318.7L544.5 320.5L528 325.6L520.5 327.1L495 328.9L486 329.2L480 328.9L462 326.2L444 322.2L438 321.8L426 322.1L421.5 321.7L418.5 320.7L417 319.7L415.8 317.7L415.7 316.2L416.7 313.2L418.5 310.2L422 305.7L425 302.7L427.2 301.2L433.5 298.3L439.5 294.6L445.5 291.8L448.5 289.4L450.8 286.2L456 275L459 271.5L462 269.6L466.5 268.6L472.5 268.7L477 268.3L502.5 263L513 261.8L523.5 261.5L535.5 259.3ZM532.5 262.1L523.5 263.7L514.5 264L503.4 265.2L489 268.9L477 272.4L472.5 272.9L465 272.7L462 273.5L459 275.5L457.8 277.2L454.2 286.2L451.3 290.7L448.5 293L441 296.6L435 300.9L429.2 304.2L427 307.2L426.2 310.2L426.3 311.7L427.5 314.1L429 315.3L432 316.5L441 318.4L480 324.5L486 324.8L522 322.9L545.8 316.2L549 314.7L551 313.2L559.5 304.9L562.5 301.2L568.6 281.7L568.5 277.2L567 271.2L565.5 268.1L564 266.3L562.5 265.3L559.5 264.6L552 263.7L543 261.4L540 261.3L534 261.9Z"/><path stroke="#fb8d2b" fill="#fb8d2b" d="M513.6 67.2L518 65.7L766.6 65.7L766.6 67L747 67.1L736.5 66.7L687 67.1L676.5 66.8L565.5 66.9L535.5 67.9L529.5 68.5L523.5 69.7L512.8 73.2L508.5 75.4L505.1 77.7L503.6 79.2L501.7 82.2L500.9 85.2L500.9 88.2L503.3 107.7L509.9 121.2L512.9 125.7L516 128.7L528 138.6L535.5 143.8L573 166.2L586.5 179.1L589.5 182.9L596.2 199.2L597.5 203.7L601.8 233.7L602 241.2L600.9 244.2L598.1 248.7L597.6 251.7L598 253.2L599.3 254.7L601.4 256.2L604.5 257.1L607.5 256.3L612 253.8L615 254.3L631.5 265L636 269L639 270.6L642 271.1L645 270.9L652.5 269.1L661.5 267.6L670.5 265.4L678 264.7L681 263.6L684.4 260.7L685.5 259L686.4 256.2L686.9 248.7L688.6 242.7L691.8 227.7L692.2 220.2L691.8 202.2L692.5 194.7L693.6 190.2L695.6 185.7L697.5 182.7L700.5 179.4L704 176.7L708.8 173.7L717 170.3L730.5 166.4L766.6 158L766.6 167.8L760.5 168.9L742.5 173.7L733.5 175.7L727.5 177.6L715.5 183.2L711 186.7L708 190L704.5 196.2L702.8 202.2L701.9 209.7L701.8 226.2L698.1 247.2L697.2 250.2L690.4 265.2L687.2 269.7L681 274L673.5 278.1L670.5 279.2L664.5 280.2L654 280.9L646.5 280.5L640.5 279.5L636 277.3L628.5 271.6L622.5 268.2L617.5 263.7L615 262L612 261L604.5 260.3L598.5 258.3L594 257.5L592 256.2L591.2 254.7L591.2 251.7L594.7 238.2L594.7 233.7L593.2 227.7L589.5 203.7L587 196.2L583.1 188.7L576.3 181.2L567 172.9L561 168.3L522.5 145.2L505.3 130.2L502.7 127.2L501.2 124.2L496.3 112.2L494.5 106.2L491.3 88.2L491.3 82.2L493.1 77.7L495 75.5L498 73.2L502.5 71L513 67.4ZM145.1 175.2L153 175.1L171 173.9L207 175.9L225 176L255 175.3L267 175.6L280.5 176.8L291 179.2L296.3 181.2L311.6 188.7L315.6 191.7L327.1 203.7L331.7 211.2L333.1 214.2L333.9 217.2L332.9 230.7L333.5 233.7L334.9 236.7L335.2 238.2L330 241.7L324 246.7L306 252.5L303 252.3L295.5 250.5L288 249.6L265.5 244.7L255 243.7L241.5 241.3L225 239.7L195 238L148.5 230.6L142.7 229.2L124.5 222.8L109.5 219.1L109.5 175.9L114 175.5L135 175.8L144 175.3ZM256.5 181.2L241.5 183.2L228 184.2L214.5 184.3L192 183.1L151.5 185.4L130.5 187.4L123.6 188.7L120 189.8L117 191.3L114.4 193.2L113.2 194.7L111.7 197.7L111.2 200.7L111.6 203.7L112.5 205.3L115.5 207.3L136.5 214L156 219L187.5 224.7L198 226.4L207 227.4L238.5 229.4L253.5 230L265.5 232.2L283.5 234.3L294 233.3L303 233.7L306 233.2L310.5 231.3L318 226.9L321 223.5L321.8 221.7L322.3 218.7L321.8 215.7L321.2 214.2L313.2 202.2L309.5 197.7L305.8 194.7L295.2 188.7L291 186.9L274.5 181.4L257.1 181.2ZM531.7 262.2L538.5 261.4L543 261.4L552 263.7L559.5 264.6L562.5 265.3L564 266.3L565.5 268.1L567 271.2L568.5 277.2L568.6 281.7L562.5 301.2L559.5 304.9L551 313.2L549 314.7L545.8 316.2L522 322.9L486 324.8L480 324.5L441 318.4L432 316.5L429 315.3L427.5 314.1L426.3 311.7L426.2 310.2L427 307.2L429.2 304.2L435 300.9L441 296.6L448.5 293L451.3 290.7L454.2 286.2L457.8 277.2L459 275.5L462 273.5L465 272.7L472.5 272.9L477 272.4L489 268.9L503.4 265.2L514.5 264L523.5 263.7L531 262.3ZM532.5 271.1L526.5 272.6L519 275.1L511.5 276.9L507.4 278.7L502.8 281.7L500.1 284.7L498.9 287.7L498.7 290.7L499.6 293.7L500.8 295.2L504.8 298.2L508.5 299.8L514.5 301L522 301.2L528 301.8L532.5 301.6L537 300.4L543 297.4L547.5 295.6L550.5 293.7L552 292.1L553.6 289.2L555.1 284.7L555.5 281.7L555 278.7L553.9 277.2L547.3 272.7L543.9 271.2L541.5 270.6L538.5 270.4L534 270.9Z"/><path stroke="#f0602a" fill="#f0602a" d="M553 67.2L565.5 66.9L726 67L736.5 66.7L747 67.1L766.6 67L766.6 69.9L543 70.1L532.5 71.6L525 74L517.8 77.7L514.5 80.5L513.2 82.2L512.6 83.7L512.4 86.7L513.2 89.7L516.3 97.2L518.7 107.7L519.8 115.2L521.6 119.7L525 124.1L531 129.3L546 139.4L567 150.1L586.4 161.7L599.1 173.7L603 178.2L604.6 181.2L609.8 194.7L611.3 200.7L612.8 218.7L611 236.7L611.1 241.2L612 244.1L614.1 245.7L628.5 253.4L637.5 257.3L642 258.8L646.5 259.3L651 259.1L655.5 258L669 253.6L672 253.4L678 254.8L679.5 254.4L680.6 253.2L681 251.7L681.4 245.7L683.6 238.2L683.8 233.7L683.3 226.2L681.8 215.7L680.2 200.7L680.1 190.2L681.2 184.2L683.1 179.7L686.1 175.2L689.1 172.2L694.5 168.9L709.5 162.9L718.5 159.8L732 156L766.6 148.1L766.6 158L730.5 166.4L715.8 170.7L708 174.2L704 176.7L700.2 179.7L697.5 182.7L695.6 185.7L693.6 190.2L692.5 194.7L691.8 202.2L692.2 220.2L691.9 226.2L690.9 232.2L686.9 248.7L686.4 256.2L685.4 259.2L682.5 262.6L679.5 264.2L676.5 264.9L670.5 265.4L661.5 267.6L643.5 271L640.5 270.9L637 269.7L631.5 265L615 254.3L612 253.8L607.5 256.3L604.5 257.1L601.5 256.3L599.3 254.7L598 253.2L597.6 251.7L597.6 250.2L598.5 247.8L601.5 243L602 241.2L602.1 236.7L601.6 232.2L597.5 203.7L595.6 197.7L590.9 185.7L589.4 182.7L585.6 178.2L573 166.2L535.5 143.8L528 138.6L516 128.7L512.9 125.7L510.7 122.7L503.9 109.2L503 106.2L500.9 86.7L501.7 82.2L503.6 79.2L505.1 77.7L508.5 75.4L512.8 73.2L519 70.9L525 69.3L534 68L552 67.2ZM255.4 181.2L274.5 181.4L291 186.9L295.2 188.7L305.8 194.7L309.5 197.7L313.2 202.2L321.2 214.2L321.8 215.7L322.3 218.7L321.8 221.7L321 223.5L318 226.9L310.5 231.3L307.5 232.7L304.5 233.5L301.5 233.7L294 233.3L285 234.3L280.5 234.1L267 232.4L253.5 230L238.5 229.4L208.5 227.5L190.5 225.3L151.5 217.9L136.5 214L117.8 208.2L114.2 206.7L112.4 205.2L111.2 202.2L111.4 199.2L112.3 196.2L114.4 193.2L117 191.3L120 189.8L129 187.6L136.5 186.6L151.5 185.4L192 183.1L214.5 184.3L228 184.2L241.5 183.2L255 181.2ZM237 194.6L213 196.8L207.1 197.7L200.7 199.2L197.3 200.7L195.8 202.2L195.5 203.7L196.1 205.2L199.9 208.2L206.2 211.2L210.5 212.7L219 214.6L237 216.5L244.5 216.7L255 216.2L273 217.7L276 216.9L279.6 214.2L281.5 211.2L281.8 208.2L280.5 206.1L274.5 201.5L271.9 197.7L270.3 196.2L268.5 195.3L265.5 194.6L262.5 194.6L255 195.5L246 194.3L238.5 194.5ZM532.1 271.2L538.5 270.4L541.5 270.6L544.5 271.4L552.1 275.7L553.9 277.2L555 278.7L555.5 280.2L555.4 283.2L554.2 287.7L552.8 290.7L550.5 293.7L547.5 295.6L543 297.4L538.5 299.7L534 301.3L529.5 301.8L516 301.1L511.5 300.6L508.5 299.8L504.8 298.2L500.8 295.2L499.6 293.7L498.7 290.7L498.9 287.7L500.1 284.7L502.8 281.7L504.9 280.2L511.5 276.9L519 275.1L531 271.4Z"/><path stroke="#de3226" fill="#de3226" d="M542.1 70.2L565.5 69.9L766.6 69.9L766.6 75.2L747 75.3L738 75.7L726 75.4L717 75.9L699 75.2L681 75.8L669 75.6L658.5 75.9L639 75.2L622.5 75.9L595.5 75.8L577.5 76.7L567 76.2L558 77.1L544.5 76.1L540 77.2L536 79.2L533.9 80.7L531.4 83.7L530.8 85.2L530.5 88.2L532.1 97.2L533.2 107.7L534.1 110.7L535.6 113.7L537.9 116.7L540 118.4L544.5 120.6L561 127L583.5 138.1L634.5 152.5L642 153.7L649.5 154.1L658.5 153.8L667.5 152.8L691.5 148.1L711 142.3L720 140L766.6 131.9L766.6 148.1L730.5 156.4L715.5 160.8L693.8 169.2L690 171.5L687 174.2L684 178.1L682.4 181.2L680.8 185.7L680.1 190.2L680.2 200.7L681.8 215.7L683.3 226.2L683.8 233.7L683.6 238.2L681.4 245.7L681 251.7L680.6 253.2L679.5 254.4L678 254.8L672 253.4L669 253.6L655.5 258L649.5 259.2L643.5 259.1L637.5 257.3L627 252.7L614.1 245.7L612 244.1L611.1 241.2L611 236.7L612.8 218.7L611.1 199.2L609.8 194.7L604.6 181.2L603 178.2L600.5 175.2L586.4 161.7L567 150.1L550.5 141.9L544.5 138.4L528.3 127.2L523.7 122.7L521.6 119.7L519.8 115.2L518.7 107.7L516 96L512.7 88.2L512.3 85.2L513 82.6L514.3 80.7L515.8 79.2L520.3 76.2L523.3 74.7L532.2 71.7L541.5 70.2ZM645 212.2L642 214.2L640.5 216.2L639.2 218.7L638.4 223.2L639 226.8L640.5 229.6L642 231.1L643.9 232.2L648 233.1L652.5 232.2L655.5 230.3L657.4 227.7L658.2 224.7L657.8 220.2L655.6 215.7L652.5 212.8L649.5 211.6L646.5 211.7ZM235.6 194.7L246 194.3L255 195.5L264 194.5L267 194.8L270 196L271.9 197.7L274.5 201.5L280.5 206.1L281.8 208.2L281.5 211.2L279.6 214.2L276 216.9L273 217.7L255 216.2L244.5 216.7L237 216.5L219 214.6L210.5 212.7L206.2 211.2L199.9 208.2L196.1 205.2L195.5 203.7L195.8 202.2L197.3 200.7L200.7 199.2L207.1 197.7L213 196.8L235.5 194.7Z"/><path stroke="#b81c24" fill="#b81c24" d="M543.7 76.2L547.5 76.1L558 77.1L567 76.2L577.5 76.7L595.5 75.8L622.5 75.9L639 75.2L658.5 75.9L669 75.6L681 75.8L699 75.2L717 75.9L726 75.4L738 75.7L747 75.3L766.6 75.2L766.6 88.1L763.5 86.8L762 86.5L759.6 86.7L754.5 87.8L747 87.1L739.5 87.8L732 86.7L724.5 87.7L717 88L714 87.9L709.5 86.7L706.5 86.4L700.5 87.3L691.5 86.5L685.5 87.8L682.5 87.9L675 87.8L669 86.8L660 87.7L652.5 86.4L645 87.8L636 87.7L622.5 88.2L619.5 87.9L613.5 86.4L609.8 86.7L601.5 88.5L595.5 88.1L594 88.9L591.9 91.2L591.6 92.7L592.5 94.9L594 95.9L595.5 96.2L600 95.2L610.5 99.2L616.5 103L626.2 112.2L631.5 115.7L637.5 118.1L646.5 120.5L655.5 123.6L663 125.1L685.5 125.5L691.5 125L696 123.9L712.5 117.9L730.5 112.6L741 110.3L750 107.8L760.5 106.1L766.6 103.8L766.6 131.9L720 140L711 142.3L691.5 148.1L664.5 153.2L655.5 154L645 153.9L637.5 153.1L628.5 151.1L609.3 145.2L583.5 138.1L561 127L544.5 120.6L540 118.4L536.6 115.2L534.8 112.2L533.5 109.2L532.9 106.2L532.1 97.2L530.6 89.7L530.5 86.7L531.4 83.7L533.9 80.7L538.7 77.7L543 76.3ZM644 212.7L646.5 211.7L648 211.5L651 212L654 213.9L656.5 217.2L658.1 221.7L658.2 224.7L657 228.4L655.5 230.3L654 231.4L652.5 232.2L649.5 233L645 232.6L641.6 230.7L639.3 227.7L638.5 224.7L638.8 220.2L640.5 216.2L643.5 213Z"/><path stroke="#8c141c" fill="#8c141c" d="M609.8 86.7L615 86.6L619.5 87.9L622.5 88.2L636 87.7L645 87.8L652.5 86.4L660 87.7L669 86.8L675 87.8L682.5 87.9L685.5 87.8L691.5 86.5L700.5 87.3L706.5 86.4L709.5 86.7L714 87.9L717 88L724.5 87.7L732 86.7L739.5 87.8L747 87.1L754.5 87.8L759.6 86.7L762 86.5L763.5 86.8L766.6 88.1L766.6 103.8L760.5 106.1L750 107.8L741 110.3L730.5 112.6L712.5 117.9L693 124.7L685.5 125.5L661.5 124.9L655.5 123.6L633.7 116.7L630 114.8L626.2 112.2L618 104.2L610.5 99.2L600 95.2L595.5 96.2L594 95.9L592.5 94.9L591.6 92.7L591.9 91.2L593 89.7L595.1 88.2L597 87.9L601.5 88.5L609 86.9Z"/></g>
<clipPath id="ka"><rect x="109.5" y="61.1" width="657.1" height="328.3"/></clipPath>
<g clip-path="url(#ka)" fill="none" stroke="#1fd13c" stroke-width="0.9"><ellipse cx="194.8" cy="105.2" rx="7.5" ry="6.6"/><ellipse cx="194.8" cy="105.2" rx="14.5" ry="12.8"/><ellipse cx="194.8" cy="105.2" rx="21.5" ry="18.9"/><ellipse cx="194.8" cy="105.2" rx="28.7" ry="25.3"/><ellipse cx="194.8" cy="105.2" rx="36.6" ry="32.2"/><ellipse cx="194.8" cy="105.2" rx="45" ry="39.6"/><ellipse cx="194.8" cy="105.2" rx="53" ry="46.6"/><ellipse cx="194.8" cy="105.2" rx="61" ry="53.7"/></g>
<g clip-path="url(#ka)"><path d="M109.5 369.0L112.8 367.1L116.3 366.1L121.3 366.1L123.2 367.9L124.3 371.2L125.9 373.3L128.7 373.3L132.2 372.6L133.9 372.6L135.8 375.2L136.3 378.5L136.1 382.1L135.2 385.8L135.0 389.4M109.5 258.8L113.6 256.3L117.7 254.8L123.2 255.2L128.7 254.1L134.1 253.7L137.4 253.3L139.6 254.4L138.5 256.6L138.2 259.5L139.6 261.7L137.7 264.3L137.2 266.1L140.2 268.3L143.7 269.4L147.8 270.1L151.4 271.6L152.8 274.5L157.4 276.7L161.5 278.9L164.3 276.3L164.5 271.9L168.4 269.4L172.5 270.5L177.4 273.0L183.4 274.9L188.9 276.7L193.0 274.5L197.1 275.2L201.2 276.0L203.7 274.5L205.3 269.8L206.7 265.4L208.1 259.9L208.3 255.2L205.3 255.5L202.0 257.4L198.5 257.7L194.4 255.2L192.7 257.0L189.7 257.0L186.7 255.2L184.5 254.4L184.0 251.5L181.8 249.3L183.1 247.1L181.2 245.3L181.5 242.8L184.8 242.0L188.9 240.9L189.4 239.1M189.4 239.1L195.2 239.1L200.7 236.2L205.9 236.2L209.7 238.7L214.9 239.8L220.4 239.8L223.4 237.7L222.8 234.0L219.0 230.7L214.9 227.4L211.6 225.3L209.7 224.5L206.4 225.3L201.5 227.4L198.8 223.8L201.5 221.6L197.1 219.8L193.8 219.8L191.1 223.4L188.4 227.1L186.4 231.5L185.9 235.5L187.3 238.0L189.4 239.1M211.6 224.2L214.4 220.9L216.8 217.6L212.4 217.6L207.0 219.8L205.3 222.3M239.6 232.5L238.7 226.7L238.2 223.1L243.7 219.4L249.1 217.6L254.6 218.3L254.9 223.8L250.8 226.0L247.8 227.1L250.0 231.8L253.8 235.5L253.8 239.5L256.8 241.3L255.7 245.3L256.8 250.8L257.3 254.4L251.9 255.2L246.9 253.0L243.7 249.3L244.8 242.8L242.3 236.9L239.6 232.5M181.5 240.2L176.6 240.2L174.7 243.5L172.5 242.4L171.4 241.7L172.2 246.0L175.2 250.1L173.0 251.1L173.0 255.9L170.8 256.3L168.9 255.2L167.5 251.1L167.5 249.7L171.9 250.8L167.0 248.6L165.1 245.3L162.9 241.7L162.9 236.9L160.4 234.7L156.6 232.2L152.8 229.6L150.6 226.7L148.7 224.2L146.7 225.3L147.0 222.7L143.5 223.8L143.2 227.4L146.7 230.7L148.4 234.7L153.3 236.6L153.6 238.4L158.8 241.3L160.2 243.1L158.5 242.4L156.0 241.7L154.9 244.6L156.3 247.1L153.6 250.8L152.5 250.8L153.0 247.5L152.2 243.5L150.0 241.3L147.8 240.6L144.5 238.4L141.8 235.8L138.5 232.9L137.4 229.6L133.6 227.4L130.0 229.6L126.5 232.2L122.6 231.1L118.3 231.8L118.0 235.5L115.2 238.7L112.0 239.8L109.5 243.5M143.7 250.8L146.5 250.1L152.2 250.1L151.1 254.4L148.7 254.4L143.7 251.9L143.7 250.8M132.2 240.2L134.7 239.1L136.1 241.7L135.8 246.4L133.9 247.1L132.5 245.3L132.2 240.2M133.3 234.0L135.2 232.5L135.5 236.2L134.7 238.4L133.3 236.9L133.3 234.0M174.1 259.9L177.9 260.3L181.2 261.0L177.9 261.7L174.1 260.6L174.1 259.9M198.2 261.7L201.2 260.6L204.0 259.5L202.3 261.7L199.9 263.2L198.2 261.7M198.2 280.0L199.0 282.5L201.5 287.3L203.7 292.7L206.1 299.7L207.2 304.4L210.8 309.1L211.4 313.5L211.9 320.5L215.2 324.1L217.1 331.8L219.6 335.0L223.1 338.3L226.4 342.3L228.1 344.5L227.8 347.1L230.5 351.1L234.1 350.7L238.2 348.9L243.1 348.2L249.1 346.0L249.7 350.7L248.0 355.8L245.0 363.1L242.6 370.1L239.8 375.5L235.4 381.0L231.3 384.7L227.2 389.0L226.4 389.4M198.2 280.0L200.4 285.1L203.1 288.0L205.1 281.8L205.3 286.5L208.1 293.8L211.4 299.7L214.6 304.8L216.6 311.0L217.9 315.0L221.8 321.6L225.0 328.8L226.7 334.0L228.1 340.5L228.9 343.1L232.7 342.7L239.3 339.4L243.7 337.2L249.1 334.0L252.4 331.0L256.8 328.1L260.6 326.3L264.2 323.0L267.5 320.1L267.8 315.0L270.5 312.8L273.2 307.3L270.2 303.3L265.6 301.9L263.9 298.2L263.9 293.5L262.8 296.0L260.6 297.1L258.2 300.8L254.1 301.1L251.3 301.5L250.8 298.2L250.5 294.2L249.1 294.6L248.6 298.2L246.9 295.3L246.7 292.0L244.2 289.1L242.8 285.4L240.9 281.4L242.6 279.6L245.3 279.6L247.5 281.8L249.1 287.3L253.2 289.5L257.3 292.0L261.5 290.9L265.0 290.5L266.7 295.3L271.0 296.7L276.5 297.5L282.0 297.5L287.5 297.1L291.8 296.7L293.8 299.7L296.2 302.9L298.4 306.6L302.0 305.5L298.4 308.1L300.3 311.7L302.8 313.5L306.6 312.1L308.3 308.4L308.8 312.8L308.8 319.4L310.2 327.4L312.1 334.7L314.0 342.0L316.5 347.5L318.4 353.7L320.3 358.8L322.0 359.9L323.6 356.9L325.8 355.5L326.6 351.8L328.3 351.8L328.3 345.6L329.4 340.9L328.8 333.6L331.3 331.0L334.8 328.8L338.1 324.5L342.2 318.3L346.3 315.7L347.7 311.7L350.4 310.2L353.2 309.5L357.3 307.3L360.0 307.3L361.4 311.0L362.2 313.9L364.1 317.2L366.9 320.8L368.2 325.6L367.7 331.0L370.4 331.8L373.7 329.2L375.6 328.1L376.7 331.0L377.3 334.7L377.8 338.3L379.2 343.8L379.7 350.0L378.6 356.6L378.6 360.2L381.1 363.9L383.3 366.4L384.4 370.1L385.5 374.8L386.9 379.2L389.6 382.1L392.6 384.3L394.2 384.3L394.8 381.0L392.9 376.6L392.6 372.6L390.4 368.2L388.8 366.4L386.9 364.2L384.7 363.1L383.8 358.4L381.4 355.5L381.1 351.1L382.7 346.4L383.3 340.5L386.0 340.9L386.0 343.4L389.6 344.9L391.5 349.3L394.2 351.5L396.7 352.2L396.4 357.7L398.1 356.6L401.1 353.7L402.5 351.1L405.2 349.3L408.5 347.1L408.8 342.0L407.9 336.5L407.1 332.9L405.7 330.7L403.0 327.4L401.1 324.5L399.2 320.8L399.4 317.2L401.6 314.3L403.6 312.1L406.6 310.6L409.3 311.0L410.1 314.6L412.0 314.6L412.0 311.7L415.6 310.2L420.3 308.4L422.4 307.7L425.7 306.2L429.8 303.3L433.1 300.0L436.7 296.4L437.5 292.0L440.2 287.3L442.7 282.9L443.5 280.0L440.8 277.4L443.3 276.3L443.0 273.4L440.2 269.8L438.9 264.6L436.1 261.7L438.9 258.1L440.8 255.9L444.9 254.4L444.9 253.0L440.8 252.2L437.5 253.3L435.3 252.6L433.4 250.1L432.0 247.1L435.3 246.4L440.8 240.2L443.5 241.3L441.6 245.3L442.7 247.5L446.3 244.9L449.8 243.5L451.7 244.9L452.6 248.2L451.2 250.8L454.5 252.2L456.1 254.4L455.6 258.1L455.6 263.2L458.6 262.5L462.7 261.0L463.8 256.3L463.5 252.6L461.3 249.0L458.6 245.3L460.0 242.8L464.6 239.8L464.9 236.2L467.6 234.7L471.7 231.5L474.2 233.3L479.1 230.7L483.2 226.0L487.3 219.8L491.4 214.3L493.9 207.0L494.2 201.5L496.6 196.1L493.6 195.0L490.9 192.4L486.0 192.4L484.0 189.9L479.9 189.9L484.0 188.8L487.3 183.3L494.2 177.8L499.7 173.5L507.9 173.1L517.4 172.0L524.3 173.5L528.4 174.2L533.9 172.4L532.8 168.7L538.0 165.1L546.2 164.0L548.4 166.9L551.7 165.1L556.6 161.4L555.8 164.3L553.9 167.6L547.6 174.2L542.1 177.8L538.5 181.5L535.5 185.1L535.5 192.4L537.4 199.7L538.5 203.4L542.9 196.8L547.6 190.6L553.0 188.8L552.5 184.4L555.8 178.6L554.7 174.9L557.7 173.5L561.3 170.5L566.7 169.4L574.9 170.5L580.4 166.9L587.3 164.0L594.1 161.4L599.6 161.8L601.2 158.9L595.8 153.8L599.0 153.4L605.1 151.2L605.6 147.9L611.9 150.5L618.8 154.1L624.2 150.8L630.5 148.3L627.0 145.7L618.8 143.9L610.5 141.4L602.3 137.7L594.1 135.5L583.2 134.1L577.1 134.1L576.3 137.7L569.5 135.5L561.3 135.9L551.1 135.9L547.6 133.0L536.6 130.4L525.7 130.4L520.2 126.8L509.2 125.7L495.5 123.8L492.3 128.2L481.9 128.6L470.9 128.6L464.1 130.4L462.1 125.7L457.2 121.7L443.5 123.1L433.9 122.4L421.6 120.6L418.9 115.8L405.2 110.0L394.2 106.0L384.7 110.3L375.1 112.2L364.1 113.6L350.4 114.7L346.3 119.5L339.5 120.9L329.9 121.3L329.9 126.8L335.4 131.5L323.1 126.8L314.8 124.9L310.7 130.4L312.1 137.7L313.5 141.4L312.1 145.7L306.6 147.6L309.4 145.0L310.7 141.4L308.0 138.4L306.6 134.1L308.8 128.6L306.6 123.8L299.8 123.1L297.0 125.3L292.9 128.6L292.4 131.1L292.9 135.5L298.4 138.1L296.5 140.3L292.9 139.5L290.2 137.7L286.1 136.6L276.5 134.4L273.8 135.1L275.1 138.8L271.0 138.1L265.6 139.2L257.3 139.2L256.0 140.3L249.1 139.9L242.3 142.4L240.1 145.4L235.4 145.4L233.5 143.9L236.8 142.1L234.1 139.5L228.6 139.2L230.0 143.9L230.5 146.8L228.6 147.9L223.9 147.2L219.0 149.7L220.4 153.8L214.9 153.0L210.8 152.3L213.5 154.8L210.8 156.3L204.8 154.5L204.8 152.3L201.2 147.9L198.5 144.6L199.9 146.1L208.1 147.6L217.6 148.3L221.8 146.8L221.8 143.2L214.9 140.3L208.1 137.0L199.9 136.6L191.6 135.1L194.4 134.1L193.0 132.2L186.2 130.4L179.9 130.0L172.5 131.9L165.6 134.1L160.2 135.5L154.7 138.4L150.6 141.4L146.5 145.0L143.7 148.6L141.0 152.3L136.9 155.9L132.8 157.8L127.3 160.7L123.7 163.2L123.2 166.9L123.7 170.5L125.1 175.3L128.7 177.8L132.0 177.5L135.5 174.2L138.2 171.3L138.5 173.5L140.4 176.0L142.4 179.7L144.3 184.4L145.1 187.3L148.4 187.3L149.2 184.8L153.3 184.0L154.7 179.7L155.2 175.3L159.6 173.1L160.2 169.8L156.6 167.6L156.9 163.2L160.2 159.6L165.6 157.0L167.8 154.1L170.6 150.1L175.8 149.4L178.8 151.2L176.6 153.4L171.1 157.8L167.8 161.4L167.8 166.9L171.1 168.7L172.5 170.9L180.7 169.1L187.5 168.7L192.2 170.9L186.2 172.0L177.9 172.4L173.8 173.5L176.0 176.7L175.2 181.1L171.1 178.9L167.0 182.2L167.0 187.7L163.7 191.0L160.7 191.0L158.8 189.5L153.3 191.3L148.4 192.8L146.5 191.0L142.4 191.7L139.6 192.4L136.9 190.6L135.8 188.8L136.9 186.9L139.1 184.4L137.4 183.3L138.2 181.5L138.5 178.9L136.3 179.3L132.8 181.1L131.7 183.3L132.2 186.9L133.0 190.6L132.2 193.5L129.2 193.9L125.9 194.2L122.4 196.1L120.5 199.7L117.7 202.3L113.9 203.7L113.6 206.3L109.5 209.6M109.5 204.1L113.3 202.6L111.7 201.5L113.9 198.6L113.9 196.4L110.6 196.1L110.0 193.9L109.5 193.9M328.0 354.4L329.4 354.0L331.8 358.4L333.5 362.0L332.9 365.7L330.2 367.5L328.5 366.4L328.0 362.0L328.0 354.4M407.1 319.0L409.6 316.4L412.6 316.4L413.4 317.9L411.8 321.2L409.3 323.0L407.1 321.6L407.1 319.0M438.3 305.5L440.0 300.0L442.4 297.5L443.3 299.7L441.9 304.8L440.5 309.1L438.9 307.3L438.3 305.5M466.0 266.8L468.2 265.4L470.9 263.9L473.6 259.9L477.7 259.5L481.9 259.2L483.8 255.2L485.4 252.6L484.9 254.8L488.7 253.0L491.4 249.0L492.8 244.2L492.8 241.3L493.6 239.1L496.4 238.7L496.9 241.7L498.3 245.3L496.9 249.7L495.5 252.6L495.0 258.1L495.0 259.9L492.5 261.7L492.3 259.5L490.6 261.0L489.2 262.8L484.6 262.8L484.0 264.3L481.3 267.2L479.4 264.3L475.0 263.9L471.5 265.7L468.2 265.7L470.1 269.0L469.3 274.9L467.3 276.3L466.0 275.2L466.3 270.8L464.6 269.0L466.0 266.8M472.3 266.5L476.4 264.3L478.3 266.1L476.9 267.9L473.6 269.8L472.3 266.5M492.8 238.0L493.6 235.1L493.6 231.5L496.9 231.8L497.5 224.5L498.3 223.4L501.0 227.1L505.1 228.9L507.3 227.8L507.9 231.5L503.8 232.9L501.8 236.2L497.7 234.0L495.5 236.9L492.8 238.0M498.3 221.6L498.3 216.1L498.3 210.7L498.8 203.4L497.7 199.7L499.1 194.6L500.5 191.3L501.8 196.1L501.6 201.5L502.4 207.0L504.9 210.7L501.0 211.4L499.9 216.1L502.4 218.7L500.5 219.4L498.3 221.6M438.9 331.0L439.7 322.3L443.5 321.9L444.3 327.4L442.2 331.8L442.7 337.2L448.5 339.1L449.0 343.4L445.2 339.8L440.8 339.8L439.7 336.5L438.3 335.0L438.9 331.0M443.5 364.2L447.6 361.3L447.6 358.0L452.6 354.4L455.3 358.0L455.8 363.9L452.8 367.5L452.3 369.0L449.0 365.7L443.5 364.2M430.4 358.8L433.4 354.7L436.7 348.2L436.4 351.8L432.3 357.7L430.4 358.8M447.1 347.5L449.8 348.5L451.7 346.4L453.4 349.3L451.7 352.9L449.0 352.2L447.1 354.7L445.2 352.9L447.1 347.5M407.9 383.9L410.7 383.2L414.2 380.3L418.9 377.4L423.0 371.9L425.7 369.3L429.3 364.2L431.8 366.4L435.3 370.4L433.1 373.0L431.8 376.3L432.6 381.4L434.8 385.8L432.0 387.2L431.2 389.4M370.4 369.0L375.1 370.4L378.4 374.1L382.7 379.2L385.5 382.1L388.8 385.8L392.3 388.3L393.1 389.4M379.5 389.4L380.0 383.2L377.0 380.3L373.4 375.5L370.7 371.2L370.4 369.0M437.5 389.4L438.1 386.8L440.8 385.0L446.3 386.1L450.4 385.0L452.3 383.6L450.6 387.6L447.6 388.3L442.2 387.6L438.9 389.4M458.6 386.5L460.0 382.1L461.9 383.9L460.0 388.3L458.6 386.5M363.6 340.2L364.1 345.6L363.0 347.1L363.6 340.2M255.7 343.4L258.7 343.4L257.9 344.5L255.7 343.4M127.3 387.9L128.1 388.7L127.6 389.4M250.5 127.5L256.0 122.0L262.8 117.3L271.0 112.9L284.7 110.3L297.0 108.9L290.2 114.0L276.5 117.6L268.3 123.1L264.2 130.4L257.3 131.1L250.5 127.5M139.6 99.4L147.8 97.6L158.8 96.8L169.7 96.5L183.4 96.8L177.9 100.1L164.3 102.0L167.0 104.9L158.8 108.5L151.9 109.6L147.8 105.6L141.0 103.0L139.6 99.4M369.6 101.2L377.8 97.6L383.3 93.9L394.2 99.4L388.8 103.8L380.6 104.9L369.6 101.2M484.6 114.0L492.8 112.2L506.5 114.0L520.2 115.1L509.2 116.5L495.5 119.8L484.6 114.0M598.2 130.4L603.7 128.6L609.2 129.7L605.1 131.1L598.2 130.4M766.6 263.6L764.7 263.6L761.7 256.3L760.0 251.5L756.2 247.1L755.1 242.0L755.6 236.2L755.4 228.9L755.9 220.9L754.0 216.1L753.7 212.8L759.2 213.2L759.5 216.9L760.6 212.5L758.4 210.7L757.0 208.8L752.9 207.0L748.8 203.4L745.5 198.6L742.8 194.2L738.4 190.6L738.7 186.9L734.6 183.3L729.6 179.7L724.2 176.7L718.7 174.2L713.2 171.3L706.4 170.5L699.5 170.2L695.4 168.3L689.9 166.9L684.5 166.2L685.8 169.4L680.4 173.1L674.9 174.2L673.5 177.8L668.0 179.7L662.6 183.3L657.1 186.9L650.2 189.5L643.9 190.2L650.2 186.9L655.7 184.0L661.2 180.4L663.9 176.7L659.8 174.9L655.7 175.3L651.6 175.6L651.1 172.4L645.6 171.3L643.4 168.7L642.0 165.1L641.2 161.4L644.8 158.9L650.2 157.8L654.3 157.8L653.8 154.1L648.9 154.1L640.7 154.1L635.2 150.5L639.3 148.6L644.8 147.6L651.6 148.3L647.5 145.0L644.8 141.4L640.7 138.1L647.5 135.1L654.3 132.2L662.6 130.8L666.7 129.3L673.5 130.8L684.5 132.6L695.4 133.7L706.4 135.1L714.6 137.7L722.8 137.7L728.3 135.1L736.5 134.1L743.3 135.9L750.2 135.9L755.6 133.3L761.1 134.8L766.6 135.9M744.7 204.1L748.8 206.3L752.9 209.6L757.0 212.8L755.1 212.8L750.2 210.7L746.1 207.0L744.7 204.1M731.0 192.4L734.6 193.9L735.9 197.9L733.7 199.7L731.0 196.1L731.0 192.4M673.5 178.6L677.6 178.2L678.4 180.7L674.3 182.2L672.7 180.4L673.5 178.6M625.0 157.0L629.7 157.4L633.3 158.9L629.7 159.6L625.6 158.5L625.0 157.0M637.9 191.0L633.8 192.8L629.7 194.6M620.1 195.0L616.0 196.4M611.9 200.1L607.8 200.8M668.3 320.1L670.2 318.3L671.0 317.2L668.9 315.7L668.3 320.1M666.4 314.3L667.8 313.2L666.1 312.8M662.0 311.7L663.4 310.6L662.0 310.2M658.2 309.5L659.0 308.4M750.2 128.6L757.0 125.7L762.5 120.2L766.6 119.5M755.6 112.2L761.1 110.3L766.6 110.3" fill="none" stroke="#8a8a8a" stroke-width="1.2" stroke-linejoin="round" stroke-linecap="round"/></g>
<clipPath id="ca"><rect x="109.5" y="61.1" width="657.1" height="328.3"/></clipPath><g clip-path="url(#ca)" fill="#000" stroke="#fff" stroke-width="0.5" stroke-linejoin="miter" paint-order="stroke"><path d="M391.6 379.0L386.1 379.0L387.0 376.3L381.8 379.6L387.0 382.9L386.1 380.2L391.6 380.2Z"/><path d="M407.0 379.0L401.5 379.0L402.4 376.3L397.2 379.6L402.4 382.9L401.5 380.2L407.0 380.2Z"/><path d="M551.2 380.2L556.7 380.2L555.8 382.9L561.0 379.6L555.8 376.3L556.7 379.0L551.2 379.0Z"/><path d="M565.8 382.8L572.6 380.0L572.8 383.8L577.5 377.1L569.5 375.7L571.9 378.6L565.2 381.3Z"/><path d="M582.9 384.8L588.0 379.6L589.7 383.0L591.5 375.0L583.6 376.8L586.9 378.5L581.8 383.6Z"/><path d="M598.3 384.8L603.4 379.6L605.1 383.0L606.9 375.0L599.0 376.8L602.3 378.5L597.2 383.6Z"/><path d="M614.7 383.5L618.6 379.6L619.8 382.1L621.2 376.1L615.2 377.5L617.7 378.8L613.8 382.6Z"/><path d="M675.4 376.6L679.3 380.4L676.8 381.7L682.8 383.1L681.4 377.1L680.2 379.6L676.3 375.7Z"/><path d="M689.6 375.6L694.7 380.7L691.4 382.4L699.3 384.2L697.5 376.2L695.9 379.6L690.7 374.4Z"/><path d="M703.8 377.9L710.5 380.6L708.1 383.5L716.1 382.1L711.4 375.4L711.2 379.2L704.4 376.4Z"/><path d="M719.0 380.4L726.3 380.4L725.1 384.0L732.0 379.6L725.1 375.2L726.3 378.8L719.0 378.8Z"/><path d="M735.2 382.8L742.0 380.0L742.2 383.8L746.9 377.1L738.9 375.7L741.3 378.6L734.6 381.3Z"/><path d="M753.3 383.5L757.2 379.6L758.4 382.1L759.8 376.1L753.8 377.5L756.3 378.8L752.4 382.6Z"/><path d="M360.8 366.2L355.3 366.2L356.2 363.5L351.0 366.8L356.2 370.1L355.3 367.4L360.8 367.4Z"/><path d="M377.8 366.0L370.5 366.0L371.7 362.5L364.8 366.8L371.7 371.2L370.5 367.6L377.8 367.6Z"/><path d="M393.2 366.0L385.9 366.0L387.1 362.5L380.2 366.8L387.1 371.2L385.9 367.6L393.2 367.6Z"/><path d="M408.6 366.0L401.3 366.0L402.5 362.5L395.6 366.8L402.5 371.2L401.3 367.6L408.6 367.6Z"/><path d="M424.0 366.0L416.7 366.0L417.9 362.5L411.0 366.8L417.9 371.2L416.7 367.6L424.0 367.6Z"/><path d="M439.4 366.0L432.1 366.0L433.3 362.5L426.4 366.8L433.3 371.2L432.1 367.6L439.4 367.6Z"/><path d="M453.2 366.2L447.7 366.2L448.6 363.5L443.4 366.8L448.6 370.1L447.7 367.4L453.2 367.4Z"/><path d="M469.4 363.6L462.7 366.4L462.4 362.6L457.7 369.3L465.7 370.7L463.3 367.9L470.0 365.1Z"/><path d="M484.0 366.2L478.5 366.2L479.4 363.5L474.2 366.8L479.4 370.1L478.5 367.4L484.0 367.4Z"/><path d="M499.4 366.2L493.9 366.2L494.8 363.5L489.6 366.8L494.8 370.1L493.9 367.4L499.4 367.4Z"/><path d="M514.2 364.4L509.1 366.5L508.9 363.7L505.4 368.7L511.4 369.7L509.6 367.6L514.7 365.5Z"/><path d="M566.6 367.4L572.1 367.4L571.2 370.1L576.4 366.8L571.2 363.5L572.1 366.2L566.6 366.2Z"/><path d="M581.2 370.0L588.0 367.3L588.2 371.0L592.9 364.3L584.9 362.9L587.3 365.8L580.6 368.6Z"/><path d="M598.3 372.0L603.4 366.8L605.1 370.2L606.9 362.2L599.0 364.0L602.3 365.7L597.2 370.8Z"/><path d="M613.7 372.0L618.8 366.8L620.5 370.2L622.3 362.2L614.4 364.0L617.7 365.7L612.6 370.8Z"/><path d="M630.1 370.7L634.0 366.8L635.2 369.3L636.6 363.4L630.6 364.7L633.1 366.0L629.2 369.9Z"/><path d="M675.4 363.8L679.3 367.7L676.8 368.9L682.8 370.3L681.4 364.3L680.2 366.8L676.3 362.9Z"/><path d="M689.6 362.8L694.7 367.9L691.4 369.6L699.3 371.4L697.5 363.5L695.9 366.8L690.7 361.6Z"/><path d="M703.8 365.1L710.5 367.9L708.1 370.7L716.1 369.3L711.4 362.6L711.2 366.4L704.4 363.6Z"/><path d="M719.0 367.6L726.3 367.6L725.1 371.2L732.0 366.8L725.1 362.5L726.3 366.0L719.0 366.0Z"/><path d="M735.2 370.0L742.0 367.3L742.2 371.0L746.9 364.3L738.9 362.9L741.3 365.8L734.6 368.6Z"/><path d="M752.3 372.0L757.5 366.8L759.1 370.2L760.9 362.2L753.0 364.0L756.3 365.7L751.2 370.8Z"/><path d="M376.1 355.3L371.0 353.2L372.8 351.1L366.8 352.2L370.3 357.2L370.5 354.4L375.6 356.5Z"/><path d="M393.2 353.2L385.9 353.2L387.1 349.7L380.2 354.0L387.1 358.4L385.9 354.8L393.2 354.8Z"/><path d="M408.6 353.2L401.3 353.2L402.5 349.7L395.6 354.0L402.5 358.4L401.3 354.8L408.6 354.8Z"/><path d="M424.0 353.2L416.7 353.2L417.9 349.7L411.0 354.0L417.9 358.4L416.7 354.8L424.0 354.8Z"/><path d="M437.2 351.6L432.1 353.7L431.9 350.9L428.4 355.9L434.4 357.0L432.6 354.8L437.7 352.7Z"/><path d="M470.2 353.2L462.9 353.2L464.1 349.7L457.2 354.0L464.1 358.4L462.9 354.8L470.2 354.8Z"/><path d="M485.6 353.2L478.3 353.2L479.5 349.7L472.6 354.0L479.5 358.4L478.3 354.8L485.6 354.8Z"/><path d="M501.0 353.2L493.7 353.2L494.9 349.7L488.0 354.0L494.9 358.4L493.7 354.8L501.0 354.8Z"/><path d="M515.6 350.8L508.9 353.6L508.6 349.9L503.9 356.5L511.9 357.9L509.5 355.1L516.2 352.3Z"/><path d="M531.0 350.8L524.3 353.6L524.0 349.9L519.3 356.5L527.3 357.9L524.9 355.1L531.6 352.3Z"/><path d="M543.8 350.1L539.9 354.0L538.6 351.5L537.3 357.5L543.3 356.1L540.7 354.9L544.6 351.0Z"/><path d="M582.0 354.6L587.5 354.6L586.6 357.3L591.8 354.0L586.6 350.7L587.5 353.4L582.0 353.4Z"/><path d="M596.6 357.3L603.4 354.5L603.6 358.2L608.3 351.5L600.3 350.2L602.7 353.0L596.0 355.8Z"/><path d="M612.6 360.6L619.1 354.1L621.3 358.3L623.6 348.2L613.5 350.5L617.7 352.6L611.2 359.1Z"/><path d="M629.1 359.2L634.2 354.0L635.9 357.4L637.7 349.4L629.8 351.2L633.1 352.9L628.0 358.1Z"/><path d="M645.5 357.9L649.4 354.0L650.6 356.6L652.0 350.6L646.0 351.9L648.5 353.2L644.6 357.1Z"/><path d="M676.9 349.7L679.0 354.8L676.2 355.0L681.2 358.6L682.2 352.5L680.1 354.3L678.0 349.3Z"/><path d="M691.5 348.3L694.3 355.1L690.6 355.3L697.2 360.0L698.6 352.0L695.8 354.4L693.0 347.7Z"/><path d="M705.0 350.0L710.1 355.2L706.8 356.8L714.7 358.6L712.9 350.7L711.3 354.0L706.1 348.9Z"/><path d="M719.2 352.3L725.9 355.1L723.5 357.9L731.5 356.5L726.8 349.9L726.6 353.6L719.8 350.8Z"/><path d="M733.7 358.1L742.2 354.6L742.6 359.3L748.6 350.9L738.4 349.1L741.5 352.7L732.9 356.2Z"/><path d="M751.2 360.6L757.8 354.1L759.9 358.3L762.2 348.2L752.1 350.5L756.3 352.6L749.8 359.1Z"/><path d="M390.6 344.3L386.7 340.4L389.2 339.1L383.2 337.8L384.6 343.8L385.9 341.3L389.7 345.1Z"/><path d="M408.6 340.4L401.3 340.4L402.5 336.9L395.6 341.2L402.5 345.6L401.3 342.1L408.6 342.1Z"/><path d="M424.0 340.4L416.7 340.4L417.9 336.9L411.0 341.2L417.9 345.6L416.7 342.1L424.0 342.1Z"/><path d="M439.4 340.4L432.1 340.4L433.3 336.9L426.4 341.2L433.3 345.6L432.1 342.1L439.4 342.1Z"/><path d="M453.2 340.6L447.7 340.6L448.6 338.0L443.4 341.2L448.6 344.5L447.7 341.9L453.2 341.9Z"/><path d="M472.0 340.2L462.7 340.2L464.2 335.7L455.5 341.2L464.2 346.8L462.7 342.3L472.0 342.3Z"/><path d="M487.4 340.2L478.1 340.2L479.6 335.7L470.9 341.2L479.6 346.8L478.1 342.3L487.4 342.3Z"/><path d="M502.8 340.2L493.5 340.2L495.0 335.7L486.3 341.2L495.0 346.8L493.5 342.3L502.8 342.3Z"/><path d="M518.2 340.2L508.9 340.2L510.4 335.7L501.7 341.2L510.4 346.8L508.9 342.3L518.2 342.3Z"/><path d="M532.6 337.1L524.0 340.7L523.7 335.9L517.7 344.4L527.9 346.2L524.8 342.6L533.3 339.0Z"/><path d="M545.8 334.7L539.3 341.2L537.2 337.0L534.9 347.1L545.0 344.8L540.7 342.7L547.3 336.1Z"/><path d="M560.1 336.1L555.0 341.2L553.3 337.9L551.5 345.8L559.5 344.0L556.1 342.4L561.3 337.2Z"/><path d="M569.1 337.0L571.2 342.0L568.4 342.2L573.4 345.8L574.4 339.7L572.3 341.6L570.2 336.5Z"/><path d="M583.0 338.2L586.9 342.1L584.4 343.4L590.4 344.7L589.0 338.7L587.8 341.2L583.9 337.4Z"/><path d="M595.8 342.1L603.1 342.1L601.9 345.6L608.8 341.2L601.9 336.9L603.1 340.4L595.8 340.4Z"/><path d="M612.6 347.8L619.1 341.3L621.3 345.5L623.6 335.4L613.5 337.7L617.7 339.8L611.2 346.4Z"/><path d="M629.1 346.4L634.2 341.3L635.9 344.6L637.7 336.6L629.8 338.4L633.1 340.1L628.0 345.3Z"/><path d="M647.2 346.0L649.3 340.9L651.4 342.8L650.4 336.7L645.4 340.3L648.2 340.5L646.1 345.5Z"/><path d="M678.7 336.3L678.7 341.8L676.0 341.0L679.3 346.1L682.6 341.0L679.9 341.8L679.9 336.3Z"/><path d="M693.9 334.7L693.9 342.0L690.4 340.9L694.7 347.7L699.1 340.9L695.5 342.0L695.5 334.7Z"/><path d="M706.0 334.0L709.6 342.6L704.8 342.9L713.3 348.9L715.0 338.7L711.5 341.8L707.9 333.2Z"/><path d="M720.4 337.2L725.5 342.4L722.2 344.0L730.1 345.8L728.3 337.9L726.7 341.2L721.5 336.1Z"/><path d="M734.4 342.1L741.7 342.1L740.5 345.6L747.4 341.2L740.5 336.9L741.7 340.4L734.4 340.4Z"/><path d="M751.2 347.8L757.8 341.3L759.9 345.5L762.2 335.4L752.1 337.7L756.3 339.8L749.8 346.4Z"/><path d="M370.0 333.2L372.1 328.1L374.2 330.0L373.2 323.9L368.2 327.5L371.0 327.7L368.9 332.8Z"/><path d="M424.0 327.7L416.7 327.7L417.9 324.1L411.0 328.5L417.9 332.8L416.7 329.3L424.0 329.3Z"/><path d="M439.2 330.2L432.5 327.4L434.9 324.6L426.9 326.0L431.6 332.6L431.9 328.9L438.6 331.7Z"/><path d="M454.6 330.2L447.9 327.4L450.3 324.6L442.3 326.0L447.0 332.6L447.3 328.9L454.0 331.7Z"/><path d="M472.0 327.4L462.7 327.4L464.2 322.9L455.5 328.5L464.2 334.0L462.7 329.5L472.0 329.5Z"/><path d="M487.4 327.4L478.1 327.4L479.6 322.9L470.9 328.5L479.6 334.0L478.1 329.5L487.4 329.5Z"/><path d="M502.8 327.4L493.5 327.4L495.0 322.9L486.3 328.5L495.0 334.0L493.5 329.5L502.8 329.5Z"/><path d="M518.2 327.4L508.9 327.4L510.4 322.9L501.7 328.5L510.4 334.0L508.9 329.5L518.2 329.5Z"/><path d="M532.6 324.4L524.0 327.9L523.7 323.2L517.7 331.6L527.9 333.4L524.8 329.8L533.3 326.2Z"/><path d="M546.9 320.5L539.0 328.4L536.4 323.3L533.7 335.5L545.9 332.8L540.8 330.2L548.7 322.3Z"/><path d="M562.3 320.5L554.4 328.4L551.8 323.3L549.1 335.5L561.3 332.8L556.2 330.2L564.1 322.3Z"/><path d="M573.7 320.4L570.2 329.0L566.6 325.9L568.4 336.1L576.8 330.1L572.1 329.8L575.6 321.2Z"/><path d="M585.9 320.2L585.9 329.5L581.4 328.0L586.9 336.7L592.5 328.0L587.9 329.5L587.9 320.2Z"/><path d="M598.4 325.4L602.3 329.3L599.8 330.6L605.8 331.9L604.4 325.9L603.2 328.4L599.3 324.6Z"/><path d="M613.7 333.6L618.8 328.5L620.5 331.8L622.3 323.9L614.4 325.7L617.7 327.3L612.6 332.5Z"/><path d="M631.4 334.8L634.2 328.0L637.0 330.5L635.6 322.5L629.0 327.2L632.7 327.4L629.9 334.2Z"/><path d="M649.3 335.0L649.3 327.7L652.9 328.9L648.5 322.0L644.2 328.9L647.7 327.7L647.7 335.0Z"/><path d="M678.7 323.6L678.7 329.0L676.0 328.2L679.3 333.4L682.6 328.2L679.9 329.0L679.9 323.6Z"/><path d="M693.9 322.0L693.9 329.2L690.4 328.1L694.7 335.0L699.1 328.1L695.5 329.2L695.5 322.0Z"/><path d="M709.1 320.2L709.1 329.5L704.6 328.0L710.1 336.7L715.7 328.0L711.2 329.5L711.2 320.2Z"/><path d="M721.4 321.2L725.0 329.8L720.2 330.1L728.7 336.1L730.4 325.9L726.9 329.0L723.3 320.4Z"/><path d="M736.0 329.1L741.5 329.1L740.6 331.7L745.8 328.5L740.6 325.2L741.5 327.9L736.0 327.9Z"/><path d="M754.6 334.8L757.4 328.0L760.2 330.5L758.8 322.5L752.2 327.2L755.9 327.4L753.1 334.2Z"/><path d="M229.7 319.6L233.6 315.7L234.8 318.2L236.2 312.2L230.2 313.6L232.7 314.8L228.8 318.7Z"/><path d="M244.1 320.8L249.2 315.7L250.9 319.0L252.7 311.1L244.8 312.9L248.1 314.6L242.9 319.7Z"/><path d="M351.6 318.1L356.7 316.0L356.9 318.8L360.4 313.8L354.4 312.8L356.2 314.9L351.2 317.0Z"/><path d="M367.3 320.8L372.4 315.7L374.1 319.0L375.9 311.1L368.0 312.9L371.3 314.6L366.1 319.7Z"/><path d="M385.4 320.4L387.5 315.4L389.6 317.2L388.6 311.1L383.6 314.7L386.4 314.9L384.3 320.0Z"/><path d="M436.8 318.7L432.9 314.8L435.4 313.6L429.5 312.2L430.8 318.2L432.1 315.7L436.0 319.6Z"/><path d="M452.2 318.7L448.3 314.8L450.8 313.6L444.9 312.2L446.2 318.2L447.5 315.7L451.4 319.6Z"/><path d="M470.2 314.9L462.9 314.9L464.1 311.3L457.2 315.7L464.1 320.0L462.9 316.5L470.2 316.5Z"/><path d="M485.6 314.9L478.3 314.9L479.5 311.3L472.6 315.7L479.5 320.0L478.3 316.5L485.6 316.5Z"/><path d="M501.0 314.9L493.7 314.9L494.9 311.3L488.0 315.7L494.9 320.0L493.7 316.5L501.0 316.5Z"/><path d="M516.4 314.9L509.1 314.9L510.3 311.3L503.4 315.7L510.3 320.0L509.1 316.5L516.4 316.5Z"/><path d="M532.6 311.6L524.0 315.1L523.7 310.4L517.7 318.8L527.9 320.6L524.8 317.0L533.3 313.5Z"/><path d="M545.8 309.1L539.3 315.7L537.2 311.4L534.9 321.5L545.0 319.2L540.7 317.1L547.3 310.6Z"/><path d="M562.3 307.7L554.4 315.6L551.8 310.5L549.1 322.7L561.3 320.0L556.2 317.4L564.1 309.5Z"/><path d="M574.2 306.0L569.9 316.3L565.6 312.6L567.7 324.9L577.9 317.7L572.2 317.3L576.5 306.9Z"/><path d="M585.9 307.4L585.9 316.7L581.4 315.2L586.9 323.9L592.5 315.2L587.9 316.7L587.9 307.4Z"/><path d="M601.5 309.2L601.5 316.5L598.0 315.3L602.3 322.2L606.7 315.3L603.1 316.5L603.1 309.2Z"/><path d="M616.4 320.4L618.5 315.4L620.6 317.2L619.6 311.1L614.6 314.7L617.4 314.9L615.3 320.0Z"/><path d="M633.9 322.2L633.9 314.9L637.5 316.1L633.1 309.2L628.8 316.1L632.3 314.9L632.3 322.2Z"/><path d="M649.3 322.2L649.3 314.9L652.9 316.1L648.5 309.2L644.2 316.1L647.7 314.9L647.7 322.2Z"/><path d="M667.8 318.7L663.9 314.8L666.5 313.6L660.5 312.2L661.8 318.2L663.1 315.7L667.0 319.6Z"/><path d="M682.4 311.8L678.5 315.7L677.2 313.1L675.9 319.1L681.9 317.8L679.3 316.5L683.2 312.6Z"/><path d="M696.5 309.4L693.7 316.1L690.9 313.6L692.2 321.7L698.9 317.0L695.2 316.7L698.0 310.0Z"/><path d="M708.9 305.7L708.9 316.9L703.4 315.1L710.1 325.7L716.8 315.1L711.4 316.9L711.4 305.7Z"/><path d="M724.5 307.4L724.5 316.7L720.0 315.2L725.5 323.9L731.1 315.2L726.6 316.7L726.6 307.4Z"/><path d="M754.6 322.0L757.4 315.3L760.2 317.7L758.8 309.7L752.2 314.4L755.9 314.6L753.1 321.4Z"/><path d="M185.9 298.0L185.9 303.5L183.2 302.6L186.5 307.8L189.8 302.6L187.1 303.5L187.1 298.0Z"/><path d="M201.1 296.4L201.1 303.7L197.5 302.5L201.9 309.4L206.3 302.5L202.7 303.7L202.7 296.4Z"/><path d="M228.4 305.3L233.5 303.2L233.7 306.0L237.2 301.0L231.2 300.0L233.0 302.1L227.9 304.2Z"/><path d="M244.1 308.1L249.2 302.9L250.9 306.2L252.7 298.3L244.8 300.1L248.1 301.8L242.9 306.9Z"/><path d="M261.8 309.2L264.6 302.5L267.4 304.9L266.0 296.9L259.3 301.6L263.1 301.9L260.3 308.6Z"/><path d="M314.6 302.3L309.1 302.3L310.0 299.6L304.8 302.9L310.0 306.2L309.1 303.5L314.6 303.5Z"/><path d="M328.1 299.0L324.3 302.9L323.0 300.4L321.6 306.4L327.6 305.0L325.1 303.7L329.0 299.9Z"/><path d="M343.5 299.0L339.7 302.9L338.4 300.4L337.0 306.4L343.0 305.0L340.5 303.7L344.4 299.9Z"/><path d="M367.3 308.1L372.4 302.9L374.1 306.2L375.9 298.3L368.0 300.1L371.3 301.8L366.1 306.9Z"/><path d="M381.6 309.4L388.1 302.9L390.3 307.1L392.5 297.1L382.5 299.3L386.7 301.5L380.2 308.0Z"/><path d="M398.1 308.1L403.2 302.9L404.9 306.2L406.7 298.3L398.8 300.1L402.1 301.8L396.9 306.9Z"/><path d="M413.5 308.1L418.6 302.9L420.3 306.2L422.1 298.3L414.2 300.1L417.5 301.8L412.3 306.9Z"/><path d="M428.9 308.1L434.0 302.9L435.7 306.2L437.5 298.3L429.6 300.1L432.9 301.8L427.8 306.9Z"/><path d="M445.3 306.8L449.2 302.9L450.4 305.4L451.8 299.4L445.8 300.8L448.3 302.0L444.4 305.9Z"/><path d="M529.6 300.5L524.5 302.6L524.3 299.7L520.8 304.8L526.8 305.8L525.0 303.7L530.1 301.6Z"/><path d="M544.7 297.7L539.6 302.9L537.9 299.5L536.1 307.5L544.1 305.7L540.7 304.0L545.9 298.9Z"/><path d="M558.3 294.9L554.8 303.4L551.2 300.3L553.0 310.5L561.4 304.5L556.7 304.2L560.2 295.7Z"/><path d="M574.2 293.2L569.9 303.5L565.6 299.8L567.7 312.1L577.9 304.9L572.2 304.5L576.5 294.1Z"/><path d="M585.7 292.9L585.7 304.1L580.2 302.3L586.9 312.9L593.6 302.3L588.2 304.1L588.2 292.9Z"/><path d="M604.1 296.6L601.3 303.3L598.5 300.9L599.8 308.9L606.5 304.2L602.8 303.9L605.6 297.2Z"/><path d="M622.9 306.9L617.7 301.8L621.1 300.1L613.1 298.3L614.9 306.2L616.6 302.9L621.8 308.1Z"/><path d="M637.2 310.1L633.7 301.6L638.4 301.2L630.0 295.3L628.2 305.5L631.8 302.4L635.3 310.9Z"/><path d="M651.8 308.6L649.0 301.9L652.7 301.6L646.0 296.9L644.7 304.9L647.5 302.5L650.3 309.2Z"/><path d="M669.1 306.9L663.9 301.8L667.3 300.1L659.3 298.3L661.1 306.2L662.8 302.9L668.0 308.1Z"/><path d="M682.4 299.0L678.5 302.9L677.2 300.4L675.9 306.4L681.9 305.0L679.3 303.7L683.2 299.9Z"/><path d="M696.5 296.6L693.7 303.3L690.9 300.9L692.2 308.9L698.9 304.2L695.2 303.9L698.0 297.2Z"/><path d="M712.8 293.2L708.5 303.5L704.2 299.8L706.3 312.1L716.6 304.9L710.8 304.5L715.1 294.1Z"/><path d="M727.7 294.9L724.2 303.4L720.6 300.3L722.4 310.5L730.8 304.5L726.1 304.2L729.6 295.7Z"/><path d="M745.2 300.5L740.2 302.6L739.9 299.7L736.4 304.8L742.5 305.8L740.6 303.7L745.7 301.6Z"/><path d="M759.6 308.6L756.8 301.9L760.5 301.6L753.8 296.9L752.5 304.9L755.3 302.5L758.1 309.2Z"/><path d="M203.2 285.3L201.1 290.4L199.0 288.6L200.0 294.6L205.1 291.1L202.2 290.9L204.3 285.8Z"/><path d="M264.3 296.6L264.3 289.3L267.9 290.5L263.5 283.6L259.2 290.5L262.7 289.3L262.7 296.6Z"/><path d="M279.5 295.0L279.5 289.5L282.2 290.4L278.9 285.2L275.6 290.4L278.3 289.5L278.3 295.0Z"/><path d="M294.9 295.0L294.9 289.5L297.6 290.4L294.3 285.2L291.0 290.4L293.7 289.5L293.7 295.0Z"/><path d="M344.5 284.9L339.4 290.1L337.7 286.7L335.9 294.7L343.9 292.9L340.5 291.2L345.7 286.1Z"/><path d="M355.1 283.6L355.1 290.9L351.6 289.7L355.9 296.6L360.3 289.7L356.7 290.9L356.7 283.6Z"/><path d="M367.0 292.5L372.1 290.4L372.3 293.3L375.8 288.2L369.8 287.2L371.6 289.3L366.6 291.4Z"/><path d="M379.5 294.2L388.0 290.7L388.4 295.4L394.3 286.9L384.1 285.2L387.2 288.8L378.7 292.3Z"/><path d="M393.4 295.1L403.7 290.8L404.1 296.5L411.4 286.3L399.0 284.1L402.7 288.5L392.4 292.8Z"/><path d="M408.8 295.1L419.1 290.8L419.5 296.5L426.8 286.3L414.4 284.1L418.1 288.5L407.8 292.8Z"/><path d="M424.2 295.1L434.5 290.8L434.9 296.5L442.2 286.3L429.8 284.1L433.6 288.5L423.2 292.8Z"/><path d="M442.6 293.3L449.3 290.6L449.6 294.3L454.3 287.6L446.3 286.2L448.7 289.1L442.0 291.8Z"/><path d="M458.0 293.3L464.7 290.6L465.0 294.3L469.7 287.6L461.7 286.2L464.1 289.1L457.4 291.8Z"/><path d="M476.1 294.0L480.0 290.1L481.2 292.6L482.6 286.6L476.6 288.0L479.1 289.3L475.2 293.1Z"/><path d="M491.5 294.0L495.4 290.1L496.6 292.6L498.0 286.6L492.0 288.0L494.5 289.3L490.6 293.1Z"/><path d="M506.9 294.0L510.8 290.1L512.0 292.6L513.4 286.6L507.4 288.0L509.9 289.3L506.0 293.1Z"/><path d="M555.3 283.6L555.3 290.9L551.8 289.7L556.1 296.6L560.5 289.7L556.9 290.9L556.9 283.6Z"/><path d="M574.2 280.4L569.9 290.7L565.6 287.0L567.7 299.3L577.9 292.1L572.2 291.7L576.5 281.3Z"/><path d="M589.6 280.4L585.3 290.7L581.0 287.0L583.1 299.3L593.3 292.1L587.6 291.7L591.9 281.3Z"/><path d="M607.4 283.5L600.9 290.1L598.8 285.8L596.5 295.9L606.6 293.7L602.3 291.5L608.9 285.0Z"/><path d="M625.7 296.3L617.8 288.4L622.9 285.8L610.7 283.0L613.4 295.3L616.0 290.1L623.9 298.1Z"/><path d="M641.1 296.3L633.2 288.4L638.3 285.8L626.1 283.0L628.8 295.3L631.4 290.1L639.3 298.1Z"/><path d="M655.1 295.2L648.6 288.7L652.8 286.5L642.7 284.3L645.0 294.4L647.1 290.1L653.6 296.7Z"/><path d="M670.2 291.8L663.5 289.1L666.0 286.2L657.9 287.6L662.6 294.3L662.9 290.6L669.6 293.3Z"/><path d="M683.4 284.9L678.2 290.1L676.5 286.7L674.7 294.7L682.7 292.9L679.3 291.2L684.5 286.1Z"/><path d="M696.5 283.8L693.7 290.5L690.9 288.1L692.2 296.1L698.9 291.4L695.2 291.1L698.0 284.4Z"/><path d="M712.8 280.4L708.5 290.7L704.2 287.0L706.3 299.3L716.6 292.1L710.8 291.7L715.1 281.3Z"/><path d="M728.2 280.4L723.9 290.7L719.6 287.0L721.7 299.3L732.0 292.1L726.2 291.7L730.5 281.3Z"/><path d="M746.6 286.9L739.9 289.7L739.6 285.9L734.9 292.6L743.0 294.0L740.5 291.1L747.2 288.4Z"/><path d="M761.5 294.1L756.4 289.0L759.7 287.3L751.7 285.5L753.5 293.5L755.2 290.1L760.4 295.3Z"/><path d="M207.6 274.1L200.9 276.9L200.6 273.1L195.9 279.8L203.9 281.2L201.5 278.4L208.2 275.6Z"/><path d="M224.5 273.2L216.0 276.8L215.6 272.0L209.7 280.5L219.9 282.2L216.8 278.6L225.3 275.1Z"/><path d="M238.4 274.1L231.7 276.9L231.4 273.1L226.7 279.8L234.7 281.2L232.3 278.4L239.0 275.6Z"/><path d="M252.9 278.6L247.8 276.5L249.6 274.4L243.6 275.4L247.1 280.5L247.3 277.7L252.4 279.8Z"/><path d="M266.7 283.0L264.0 276.3L267.7 276.0L261.0 271.3L259.6 279.3L262.5 276.9L265.3 283.6Z"/><path d="M279.5 282.2L279.5 276.7L282.2 277.6L278.9 272.4L275.6 277.6L278.3 276.7L278.3 282.2Z"/><path d="M344.5 272.2L339.4 277.3L337.7 274.0L335.9 281.9L343.9 280.1L340.5 278.4L345.7 273.3Z"/><path d="M359.9 272.2L354.8 277.3L353.1 274.0L351.3 281.9L359.3 280.1L355.9 278.4L361.1 273.3Z"/><path d="M380.2 278.1L387.5 278.1L386.3 281.7L393.2 277.3L386.3 273.0L387.5 276.5L380.2 276.5Z"/><path d="M394.9 281.4L403.4 277.9L403.8 282.6L409.7 274.2L399.5 272.4L402.6 276.0L394.1 279.5Z"/><path d="M408.8 282.3L419.1 278.0L419.5 283.7L426.8 273.5L414.4 271.4L418.1 275.7L407.8 280.0Z"/><path d="M424.2 282.3L434.5 278.0L434.9 283.7L442.2 273.5L429.8 271.4L433.6 275.7L423.2 280.0Z"/><path d="M441.1 281.4L449.6 277.9L450.0 282.6L455.9 274.2L445.7 272.4L448.8 276.0L440.3 279.5Z"/><path d="M456.5 281.4L465.0 277.9L465.4 282.6L471.3 274.2L461.1 272.4L464.2 276.0L455.7 279.5Z"/><path d="M471.9 281.4L480.4 277.9L480.8 282.6L486.7 274.2L476.5 272.4L479.6 276.0L471.1 279.5Z"/><path d="M486.3 278.3L495.5 278.3L494.0 282.8L502.8 277.3L494.0 271.8L495.5 276.3L486.3 276.3Z"/><path d="M504.2 280.6L510.9 277.8L511.2 281.5L515.9 274.8L507.9 273.4L510.3 276.3L503.6 279.1Z"/><path d="M518.8 278.1L526.1 278.1L524.9 281.7L531.8 277.3L524.9 273.0L526.1 276.5L518.8 276.5Z"/><path d="M534.4 275.6L541.1 278.4L538.7 281.2L546.7 279.8L542.0 273.1L541.8 276.9L535.0 274.1Z"/><path d="M552.9 271.6L555.7 278.3L551.9 278.6L558.6 283.3L560.0 275.3L557.2 277.7L554.4 271.0Z"/><path d="M570.5 269.1L570.5 278.3L566.0 276.8L571.5 285.6L577.1 276.8L572.5 278.3L572.5 269.1Z"/><path d="M589.1 269.3L585.6 277.8L582.0 274.7L583.8 284.9L592.2 279.0L587.5 278.6L591.0 270.1Z"/><path d="M611.1 272.3L600.7 276.6L600.3 270.9L593.1 281.1L605.4 283.3L601.7 278.9L612.0 274.6Z"/><path d="M625.7 283.5L617.8 275.6L622.9 273.0L610.7 270.2L613.4 282.5L616.0 277.3L623.9 285.3Z"/><path d="M641.1 283.5L633.2 275.6L638.3 273.0L626.1 270.2L628.8 282.5L631.4 277.3L639.3 285.3Z"/><path d="M655.1 282.4L648.6 275.9L652.8 273.8L642.7 271.5L645.0 281.6L647.1 277.3L653.6 283.9Z"/><path d="M670.2 279.1L663.5 276.3L666.0 273.4L657.9 274.8L662.6 281.5L662.9 277.8L669.6 280.6Z"/><path d="M685.8 276.5L678.5 276.5L679.7 273.0L672.8 277.3L679.7 281.7L678.5 278.1L685.8 278.1Z"/><path d="M698.8 272.2L693.6 277.3L691.9 274.0L690.1 281.9L698.1 280.1L694.7 278.4L699.9 273.3Z"/><path d="M715.2 270.8L708.7 277.3L706.6 273.1L704.3 283.2L714.4 280.9L710.2 278.7L716.7 272.2Z"/><path d="M731.7 269.4L723.8 277.3L721.2 272.2L718.5 284.4L730.7 281.6L725.6 279.0L733.5 271.1Z"/><path d="M748.2 273.2L739.6 276.8L739.3 272.0L733.3 280.5L743.5 282.2L740.4 278.6L748.9 275.1Z"/><path d="M764.3 279.5L755.8 276.0L758.9 272.4L748.7 274.2L754.7 282.6L755.0 277.9L763.6 281.4Z"/><path d="M114.5 263.4L108.8 264.0L109.5 261.1L104.4 265.0L110.1 267.9L108.9 265.2L114.7 264.7Z"/><path d="M191.3 265.8L186.2 263.7L188.0 261.6L182.0 262.7L185.5 267.7L185.7 264.9L190.8 267.0Z"/><path d="M208.4 263.7L201.1 263.7L202.3 260.2L195.4 264.5L202.3 268.9L201.1 265.3L208.4 265.3Z"/><path d="M224.5 260.4L216.0 264.0L215.6 259.2L209.7 267.7L219.9 269.5L216.8 265.9L225.3 262.3Z"/><path d="M241.0 263.5L231.7 263.5L233.2 259.0L224.5 264.5L233.2 270.1L231.7 265.6L241.0 265.6Z"/><path d="M256.4 263.5L247.1 263.5L248.6 259.0L239.9 264.5L248.6 270.1L247.1 265.6L256.4 265.6Z"/><path d="M268.7 268.6L263.5 263.4L266.9 261.7L258.9 259.9L260.7 267.9L262.4 264.6L267.5 269.7Z"/><path d="M282.8 267.6L278.9 263.7L281.4 262.4L275.4 261.1L276.8 267.1L278.1 264.5L281.9 268.4Z"/><path d="M344.5 259.4L339.4 264.5L337.7 261.2L335.9 269.1L343.9 267.3L340.5 265.7L345.7 260.5Z"/><path d="M359.9 259.4L354.8 264.5L353.1 261.2L351.3 269.1L359.3 267.3L355.9 265.7L361.1 260.5Z"/><path d="M373.1 258.2L370.3 264.9L367.4 262.5L368.8 270.5L375.5 265.8L371.8 265.6L374.5 258.8Z"/><path d="M386.1 259.6L386.1 265.1L383.4 264.2L386.7 269.4L390.0 264.2L387.3 265.1L387.3 259.6Z"/><path d="M398.2 261.5L402.1 265.4L399.6 266.6L405.6 268.0L404.2 262.0L403.0 264.5L399.1 260.6Z"/><path d="M411.8 267.8L418.5 265.0L418.8 268.7L423.5 262.0L415.5 260.7L417.9 263.5L411.2 266.3Z"/><path d="M425.7 268.6L434.2 265.1L434.6 269.8L440.5 261.4L430.3 259.6L433.4 263.2L424.9 266.7Z"/><path d="M439.6 269.5L449.9 265.2L450.3 271.0L457.6 260.7L445.2 258.6L449.0 262.9L438.6 267.2Z"/><path d="M453.7 265.8L464.9 265.8L463.1 271.2L473.7 264.5L463.1 257.8L464.9 263.3L453.7 263.3Z"/><path d="M469.1 265.8L480.3 265.8L478.5 271.2L489.1 264.5L478.5 257.8L480.3 263.3L469.1 263.3Z"/><path d="M484.5 265.8L495.7 265.8L493.9 271.2L504.5 264.5L493.9 257.8L495.7 263.3L484.5 263.3Z"/><path d="M499.9 265.8L511.1 265.8L509.3 271.2L519.9 264.5L509.3 257.8L511.1 263.3L499.9 263.3Z"/><path d="M515.3 265.8L526.5 265.8L524.7 271.2L535.3 264.5L524.7 257.8L526.5 263.3L515.3 263.3Z"/><path d="M532.7 262.3L541.2 265.9L538.1 269.5L548.3 267.7L542.4 259.2L542.0 264.0L533.5 260.4Z"/><path d="M551.0 260.5L556.1 265.7L552.8 267.3L560.7 269.1L558.9 261.2L557.2 264.5L552.1 259.4Z"/><path d="M568.3 258.8L571.1 265.6L567.4 265.8L574.0 270.5L575.4 262.5L572.6 264.9L569.8 258.2Z"/><path d="M591.0 259.4L585.8 264.5L584.1 261.2L582.3 269.1L590.3 267.3L586.9 265.7L592.1 260.5Z"/><path d="M612.3 263.3L601.1 263.3L602.9 257.8L592.3 264.5L602.9 271.2L601.1 265.8L612.3 265.8Z"/><path d="M625.7 266.7L617.2 263.2L620.3 259.6L610.1 261.4L616.1 269.8L616.4 265.1L625.0 268.6Z"/><path d="M641.1 270.7L633.2 262.8L638.3 260.2L626.1 257.5L628.8 269.7L631.4 264.6L639.3 272.5Z"/><path d="M655.1 269.6L648.6 263.1L652.8 261.0L642.7 258.7L645.0 268.8L647.1 264.6L653.6 271.1Z"/><path d="M670.2 266.3L663.5 263.5L666.0 260.7L657.9 262.0L662.6 268.7L662.9 265.0L669.6 267.8Z"/><path d="M685.0 261.3L678.3 264.1L678.0 260.4L673.3 267.0L681.4 268.4L678.9 265.6L685.6 262.8Z"/><path d="M698.8 259.4L693.6 264.5L691.9 261.2L690.1 269.1L698.1 267.3L694.7 265.7L699.9 260.5Z"/><path d="M712.3 256.5L708.8 265.1L705.2 262.0L707.0 272.2L715.4 266.2L710.7 265.8L714.2 257.3Z"/><path d="M730.6 258.0L724.1 264.5L722.0 260.3L719.7 270.4L729.8 268.1L725.6 266.0L732.1 259.4Z"/><path d="M748.2 260.4L739.6 264.0L739.3 259.2L733.3 267.7L743.5 269.5L740.4 265.9L748.9 262.3Z"/><path d="M764.3 266.7L755.8 263.2L758.9 259.6L748.7 261.4L754.7 269.8L755.0 265.1L763.6 268.6Z"/><path d="M114.3 249.8L108.7 251.3L108.9 248.3L104.5 253.1L110.7 255.0L109.1 252.5L114.7 251.0Z"/><path d="M130.1 253.8L124.6 250.8L127.0 248.7L120.1 249.1L123.4 255.2L124.0 252.0L129.4 255.0Z"/><path d="M145.8 253.0L139.9 250.9L141.9 248.4L135.1 249.8L139.3 255.4L139.4 252.2L145.3 254.3Z"/><path d="M161.0 253.2L155.4 250.9L157.4 248.5L150.7 249.7L154.6 255.2L154.8 252.1L160.5 254.4Z"/><path d="M177.1 251.4L170.4 251.0L171.7 247.8L165.2 251.4L171.2 255.7L170.3 252.4L177.0 252.8Z"/><path d="M192.8 250.9L185.7 251.0L186.9 247.5L180.2 251.8L186.9 256.0L185.8 252.5L192.8 252.5Z"/><path d="M208.4 252.1L201.3 250.8L203.0 247.5L195.5 250.6L201.5 256.1L201.0 252.4L208.2 253.6Z"/><path d="M223.7 251.6L216.6 250.9L218.1 247.5L210.9 251.2L217.3 256.0L216.5 252.5L223.6 253.1Z"/><path d="M239.2 251.2L232.0 250.9L233.3 247.4L226.2 251.5L232.9 256.1L231.9 252.5L239.2 252.8Z"/><path d="M255.0 251.0L247.3 250.9L248.6 247.2L241.2 251.6L248.4 256.4L247.3 252.6L255.0 252.7Z"/><path d="M270.7 251.9L262.8 250.7L264.7 247.1L256.4 250.7L263.2 256.6L262.5 252.5L270.5 253.7Z"/><path d="M286.2 252.4L278.2 250.7L280.4 247.1L271.8 250.2L278.3 256.6L277.9 252.4L285.8 254.2Z"/><path d="M301.4 251.9L293.6 250.8L295.4 247.1L287.3 250.7L294.0 256.5L293.3 252.5L301.2 253.7Z"/><path d="M315.9 249.2L308.7 251.2L308.9 247.4L303.3 253.5L311.3 255.9L309.2 252.7L316.3 250.8Z"/><path d="M330.5 248.7L324.1 251.3L323.9 247.8L319.4 254.1L327.0 255.4L324.7 252.7L331.1 250.1Z"/><path d="M342.6 246.4L339.6 252.0L337.3 249.7L337.8 256.7L344.0 253.3L340.8 252.7L343.8 247.1Z"/><path d="M354.8 247.1L355.4 252.4L352.7 251.8L356.5 256.5L359.0 251.1L356.6 252.2L356.0 247.0Z"/><path d="M370.3 244.9L370.5 252.6L366.7 251.4L371.5 258.7L375.9 251.2L372.2 252.6L372.0 244.8Z"/><path d="M383.5 248.2L386.6 252.6L383.9 253.3L389.4 255.7L389.2 249.7L387.5 251.9L384.5 247.5Z"/><path d="M398.5 247.9L402.0 252.6L399.1 253.6L405.2 256.0L404.7 249.4L403.0 251.9L399.5 247.2Z"/><path d="M414.6 247.6L417.2 252.6L414.4 253.1L419.9 256.2L420.4 249.9L418.4 252.0L415.7 247.0Z"/><path d="M429.3 257.8L434.1 251.6L436.3 255.0L437.3 246.3L429.0 249.2L432.8 250.6L427.9 256.7Z"/><path d="M439.9 254.4L449.5 252.6L448.9 257.6L456.9 250.1L446.7 246.1L449.1 250.5L439.5 252.3Z"/><path d="M453.3 253.1L465.0 253.0L463.1 258.7L474.1 251.7L463.0 244.8L465.0 250.4L453.3 250.5Z"/><path d="M469.2 252.9L480.3 253.0L478.5 258.4L489.1 251.8L478.6 245.1L480.3 250.5L469.2 250.5Z"/><path d="M484.7 253.0L495.7 253.0L494.0 258.3L504.3 251.7L493.9 245.2L495.7 250.5L484.7 250.6Z"/><path d="M500.8 254.9L511.3 252.7L510.7 258.2L519.3 249.8L508.0 245.6L510.8 250.3L500.3 252.6Z"/><path d="M518.1 256.2L526.7 252.3L527.2 257.1L533.0 248.3L522.5 246.8L525.8 250.4L517.2 254.3Z"/><path d="M534.2 250.4L541.2 252.8L539.0 255.8L546.9 253.8L541.7 247.5L541.7 251.2L534.8 248.9Z"/><path d="M550.6 252.2L556.8 252.5L555.6 255.4L561.6 252.0L555.9 248.1L556.8 251.1L550.7 250.9Z"/><path d="M565.5 251.5L572.1 252.6L570.5 255.6L577.4 252.7L571.8 247.8L572.4 251.1L565.8 250.0Z"/><path d="M586.6 259.7L588.0 251.0L592.1 253.1L588.2 243.9L581.6 251.4L586.1 250.7L584.7 259.4Z"/><path d="M606.5 256.0L602.5 250.7L605.7 249.6L598.7 247.0L599.4 254.4L601.3 251.6L605.3 256.9Z"/><path d="M624.7 254.2L617.4 250.5L620.3 247.6L611.2 248.4L615.9 256.3L616.5 252.2L623.9 255.9Z"/><path d="M639.7 253.6L632.7 250.7L635.3 247.7L626.9 249.1L631.7 256.1L632.1 252.2L639.0 255.2Z"/><path d="M654.9 250.7L647.7 251.0L648.7 247.4L642.1 252.0L649.1 256.0L647.8 252.6L655.0 252.3Z"/><path d="M669.9 248.9L662.9 251.2L662.9 247.4L657.7 253.8L665.7 255.8L663.4 252.8L670.4 250.5Z"/><path d="M681.9 246.0L678.3 252.0L675.9 249.3L676.1 257.1L683.1 253.6L679.6 252.8L683.2 246.8Z"/><path d="M696.2 245.3L693.7 252.2L690.8 249.9L692.5 257.9L699.0 252.9L695.2 252.8L697.7 245.9Z"/><path d="M710.9 244.9L709.1 252.4L705.8 250.3L708.6 258.4L714.7 252.4L710.8 252.7L712.5 245.3Z"/><path d="M729.6 246.6L724.4 251.7L722.7 248.4L720.9 256.3L728.9 254.6L725.5 252.9L730.7 247.7Z"/><path d="M747.4 250.9L740.2 250.9L741.3 247.4L734.4 251.8L741.3 256.1L740.2 252.6L747.4 252.6Z"/><path d="M762.8 250.9L755.6 250.9L756.7 247.4L749.8 251.8L756.7 256.1L755.6 252.6L762.8 252.6Z"/><path d="M115.0 238.4L108.9 238.3L109.9 235.3L104.1 238.9L109.7 242.6L108.8 239.6L114.9 239.8Z"/><path d="M131.0 240.9L124.5 237.9L127.0 235.3L119.2 236.3L123.5 243.0L123.9 239.4L130.3 242.3Z"/><path d="M147.0 239.7L139.7 238.0L141.7 234.7L133.8 237.4L139.7 243.4L139.3 239.6L146.6 241.3Z"/><path d="M162.2 239.6L155.1 238.0L157.0 234.8L149.4 237.5L155.1 243.3L154.8 239.6L161.8 241.2Z"/><path d="M177.5 239.1L170.5 238.1L172.1 234.8L164.8 238.1L170.9 243.2L170.2 239.6L177.3 240.7Z"/><path d="M193.0 239.2L185.9 238.0L187.6 234.7L180.1 238.0L186.2 243.3L185.6 239.6L192.8 240.8Z"/><path d="M208.4 238.5L201.2 238.1L202.5 234.6L195.4 238.6L202.1 243.3L201.1 239.7L208.4 240.1Z"/><path d="M223.8 238.6L216.6 238.1L218.0 234.7L210.9 238.6L217.4 243.3L216.5 239.7L223.7 240.2Z"/><path d="M239.2 238.7L232.0 238.1L233.5 234.7L226.3 238.4L232.7 243.3L231.9 239.7L239.0 240.3Z"/><path d="M254.4 239.3L247.5 238.1L249.2 234.9L241.9 237.9L247.7 243.2L247.2 239.6L254.2 240.8Z"/><path d="M269.7 239.1L262.9 238.1L264.4 234.9L257.4 238.1L263.3 243.1L262.7 239.6L269.5 240.6Z"/><path d="M284.7 239.3L278.4 238.1L279.9 235.2L273.2 238.0L278.6 242.8L278.1 239.5L284.5 240.7Z"/><path d="M299.5 238.8L293.8 238.3L294.9 235.6L289.2 238.5L294.3 242.4L293.6 239.5L299.4 240.1Z"/><path d="M314.2 236.6L308.9 238.6L308.8 235.7L305.0 240.7L311.2 242.0L309.4 239.8L314.7 237.8Z"/><path d="M340.3 232.2L339.6 239.7L336.0 238.2L339.9 245.7L345.1 239.0L341.3 239.8L341.9 232.3Z"/><path d="M354.9 234.2L355.4 239.6L352.7 238.9L356.3 243.8L359.1 238.4L356.6 239.5L356.1 234.1Z"/><path d="M369.9 232.0L370.5 239.9L366.6 238.9L371.8 246.0L376.0 238.2L372.2 239.7L371.7 231.9Z"/><path d="M384.0 234.3L386.4 239.8L383.3 240.1L388.9 243.9L389.9 237.2L387.6 239.3L385.2 233.8Z"/><path d="M398.6 235.8L402.0 239.8L399.5 240.8L405.2 242.6L404.3 236.7L402.9 239.0L399.5 235.0Z"/><path d="M414.9 234.3L417.1 239.8L414.1 240.0L419.6 243.9L420.7 237.3L418.4 239.3L416.1 233.8Z"/><path d="M427.0 236.7L433.2 240.0L430.6 242.5L438.4 241.9L434.5 235.1L433.9 238.6L427.8 235.4Z"/><path d="M440.7 240.3L449.3 239.9L448.1 244.1L456.0 238.6L447.6 233.9L449.2 238.0L440.6 238.4Z"/><path d="M455.8 240.7L464.8 239.9L463.8 244.4L471.7 238.2L462.7 233.7L464.6 237.9L455.6 238.8Z"/><path d="M471.2 240.7L480.2 239.9L479.2 244.4L487.1 238.2L478.1 233.7L480.0 237.9L471.0 238.8Z"/><path d="M486.7 240.6L495.6 239.9L494.5 244.3L502.4 238.3L493.6 233.7L495.4 237.9L486.5 238.7Z"/><path d="M502.2 241.8L511.1 239.7L510.7 244.4L517.9 237.2L508.2 233.7L510.7 237.8L501.7 239.8Z"/><path d="M517.4 245.4L527.0 239.4L528.4 245.1L534.0 233.6L521.2 233.5L525.7 237.2L516.0 243.3Z"/><path d="M532.2 239.6L541.7 240.1L539.9 244.6L549.2 239.4L540.5 233.3L541.8 238.0L532.3 237.5Z"/><path d="M549.2 241.3L557.2 239.7L556.7 243.8L563.2 237.5L554.7 234.3L556.8 237.9L548.8 239.6Z"/><path d="M575.4 236.1L570.7 238.7L570.2 236.0L567.4 241.3L573.3 241.6L571.3 239.8L576.0 237.2Z"/><path d="M587.3 246.7L588.0 238.1L592.1 239.8L587.5 231.3L581.7 239.0L586.0 238.0L585.4 246.6Z"/><path d="M602.7 245.9L603.2 238.2L606.9 239.7L602.8 232.1L597.7 239.0L601.5 238.1L601.0 245.8Z"/><path d="M620.6 244.2L618.1 238.0L621.5 237.8L615.6 233.5L614.2 240.7L616.8 238.6L619.2 244.7Z"/><path d="M638.1 242.0L633.0 238.0L635.8 236.2L628.6 235.3L631.0 242.2L632.1 239.1L637.2 243.2Z"/><path d="M668.4 235.2L663.0 238.7L662.1 235.5L659.0 242.1L666.3 242.0L663.7 239.9L669.2 236.4Z"/><path d="M680.3 232.3L678.3 239.5L675.1 237.4L677.6 245.4L683.8 239.7L679.9 240.0L681.9 232.7Z"/><path d="M695.4 232.4L693.8 239.5L690.5 237.6L693.2 245.4L699.1 239.6L695.3 239.9L697.0 232.7Z"/><path d="M710.8 232.3L709.2 239.6L705.9 237.6L708.7 245.4L714.5 239.5L710.8 239.9L712.4 232.7Z"/><path d="M728.5 235.2L724.7 239.0L723.5 236.5L722.2 242.3L728.0 241.0L725.5 239.8L729.3 236.0Z"/><path d="M116.0 225.7L108.8 225.3L110.1 221.9L103.1 225.8L109.7 230.5L108.7 226.9L115.9 227.3Z"/><path d="M131.4 227.4L124.4 225.2L126.6 222.1L118.7 224.2L124.0 230.5L123.9 226.7L130.9 228.9Z"/><path d="M146.4 227.5L139.8 225.2L142.0 222.4L134.5 224.2L139.3 230.2L139.4 226.7L145.9 228.9Z"/><path d="M161.8 226.4L155.1 225.3L156.7 222.3L149.8 225.2L155.4 230.2L154.9 226.8L161.5 227.9Z"/><path d="M177.1 226.4L170.5 225.3L172.1 222.3L165.2 225.2L170.8 230.2L170.3 226.8L176.9 227.9Z"/><path d="M192.5 226.5L185.9 225.3L187.6 222.3L180.7 225.1L186.2 230.2L185.7 226.8L192.2 228.0Z"/><path d="M207.9 226.1L201.3 225.4L202.7 222.3L196.0 225.5L201.8 230.2L201.1 226.8L207.7 227.6Z"/><path d="M223.4 225.8L216.6 225.4L217.9 222.2L211.3 225.9L217.4 230.2L216.5 226.9L223.3 227.3Z"/><path d="M238.8 225.9L232.0 225.4L233.4 222.2L226.7 225.7L232.8 230.2L231.9 226.9L238.7 227.4Z"/><path d="M254.0 225.4L247.4 225.5L248.4 222.2L242.2 226.2L248.5 230.1L247.4 226.9L254.0 226.9Z"/><path d="M269.3 226.6L263.0 225.3L264.6 222.5L257.8 225.1L263.1 230.0L262.7 226.7L269.0 228.0Z"/><path d="M284.4 225.1L278.2 225.5L279.0 222.5L273.4 226.6L279.5 229.9L278.3 226.9L284.5 226.5Z"/><path d="M299.2 224.5L293.6 225.7L293.9 222.8L289.3 227.2L295.3 229.5L293.8 226.9L299.4 225.8Z"/><path d="M326.1 220.4L324.2 226.6L321.5 224.7L323.5 231.7L328.9 227.0L325.6 227.0L327.5 220.8Z"/><path d="M340.4 219.2L339.6 226.9L335.9 225.3L339.8 233.1L345.2 226.2L341.3 227.1L342.1 219.4Z"/><path d="M354.0 221.8L355.5 226.9L352.8 226.8L357.3 230.7L358.9 225.0L356.6 226.6L355.1 221.5Z"/><path d="M369.8 219.2L370.5 227.1L366.5 226.2L372.0 233.2L376.0 225.3L372.3 226.9L371.5 219.0Z"/><path d="M385.2 220.9L386.2 226.9L383.1 226.4L387.6 231.6L390.3 225.3L387.5 226.7L386.5 220.7Z"/><path d="M400.6 221.6L401.6 226.9L398.9 226.5L403.0 230.8L405.2 225.3L402.8 226.6L401.8 221.4Z"/><path d="M415.8 220.8L417.0 227.0L413.8 226.5L418.5 231.6L421.1 225.2L418.3 226.7L417.2 220.6Z"/><path d="M431.1 220.7L432.3 227.0L429.1 226.6L434.0 231.8L436.6 225.1L433.7 226.7L432.5 220.4Z"/><path d="M489.8 227.7L495.2 226.7L494.8 229.4L499.3 225.3L493.6 223.0L495.0 225.5L489.6 226.5Z"/><path d="M504.9 228.1L510.7 226.7L510.5 229.7L515.1 224.9L508.8 222.8L510.4 225.4L504.6 226.8Z"/><path d="M521.2 230.6L526.3 226.3L527.6 229.5L529.9 222.4L522.5 223.3L525.4 225.2L520.3 229.4Z"/><path d="M537.6 233.4L542.0 225.9L545.0 229.3L544.7 219.4L535.9 223.9L540.4 224.9L535.9 232.5Z"/><path d="M549.3 226.7L556.9 227.1L555.5 230.7L562.9 226.5L555.9 221.6L557.0 225.4L549.4 225.1Z"/><path d="M572.5 232.8L572.3 225.4L576.0 226.5L571.4 219.5L567.1 226.7L570.7 225.4L570.8 232.9Z"/><path d="M589.5 233.5L587.7 225.1L592.1 225.6L585.3 218.7L582.0 227.7L585.8 225.5L587.6 233.9Z"/><path d="M603.9 232.6L603.0 225.3L606.7 226.1L601.6 219.7L598.0 227.1L601.4 225.5L602.3 232.8Z"/><path d="M617.6 232.5L618.6 225.5L621.8 227.1L618.6 220.0L613.5 226.0L617.1 225.3L616.1 232.3Z"/><path d="M634.3 231.7L633.8 225.4L636.9 226.2L632.6 220.6L629.4 226.9L632.4 225.6L632.9 231.9Z"/><path d="M663.5 220.6L663.2 226.8L660.2 225.7L663.6 231.7L667.7 226.0L664.6 226.9L664.9 220.7Z"/><path d="M677.5 219.7L678.6 227.1L674.8 226.5L680.4 232.8L683.7 225.1L680.3 226.8L679.1 219.4Z"/><path d="M694.7 219.5L693.8 226.9L690.3 225.3L694.0 232.8L699.2 226.3L695.5 227.1L696.3 219.7Z"/><path d="M709.9 219.5L709.2 226.9L705.7 225.4L709.5 232.8L714.6 226.2L710.9 227.0L711.6 219.7Z"/><path d="M115.4 213.2L108.9 212.6L110.2 209.5L103.7 212.9L109.5 217.3L108.7 214.1L115.3 214.7Z"/><path d="M130.6 214.3L124.4 212.5L126.3 209.8L119.4 211.8L124.2 217.2L124.0 213.9L130.2 215.6Z"/><path d="M145.9 214.2L139.8 212.6L141.6 209.9L134.9 211.9L139.6 217.1L139.5 213.9L145.5 215.5Z"/><path d="M161.0 213.8L155.2 212.6L156.7 210.0L150.6 212.3L155.3 216.9L155.0 213.9L160.7 215.1Z"/><path d="M308.9 208.7L309.1 214.0L306.5 213.2L309.9 218.1L312.9 213.0L310.3 213.9L310.1 208.6Z"/><path d="M322.0 208.0L324.7 214.4L321.2 214.7L327.5 219.1L328.8 211.4L326.1 213.8L323.4 207.4Z"/><path d="M336.8 207.4L340.1 214.5L336.1 215.0L343.4 219.8L344.6 211.0L341.7 213.8L338.4 206.7Z"/><path d="M354.0 208.9L355.5 214.1L352.7 214.0L357.3 218.0L358.9 212.2L356.6 213.8L355.1 208.6Z"/><path d="M368.6 206.6L370.7 214.5L366.5 214.2L373.1 220.4L375.9 211.8L372.4 214.0L370.4 206.2Z"/><path d="M385.0 208.6L386.2 214.1L383.3 213.8L387.8 218.3L390.0 212.4L387.5 213.9L386.2 208.3Z"/><path d="M401.1 208.7L401.6 214.0L398.9 213.4L402.6 218.1L405.3 212.8L402.8 213.9L402.2 208.6Z"/><path d="M417.7 207.9L416.7 213.9L413.9 212.5L416.6 218.8L421.2 213.7L418.1 214.2L419.1 208.1Z"/><path d="M434.6 208.0L432.0 213.7L429.7 211.5L430.6 218.5L436.4 214.7L433.3 214.3L435.9 208.6Z"/><path d="M482.6 216.7L479.2 212.6L481.8 211.6L476.1 209.7L476.8 215.6L478.3 213.3L481.7 217.4Z"/><path d="M529.1 217.4L525.5 212.5L528.5 211.5L522.1 209.0L522.6 215.8L524.4 213.3L528.0 218.2Z"/><path d="M544.1 218.8L541.1 212.4L544.7 212.0L538.1 207.7L537.1 215.5L539.7 213.0L542.7 219.4Z"/><path d="M558.5 219.8L556.7 212.4L560.6 212.8L554.6 206.8L551.8 214.8L555.1 212.8L556.9 220.1Z"/><path d="M573.9 219.1L572.1 212.5L575.6 212.7L569.9 207.5L567.7 214.8L570.6 212.9L572.4 219.5Z"/><path d="M589.1 220.9L587.7 212.3L592.1 213.0L585.6 205.8L581.9 214.7L585.8 212.6L587.3 221.2Z"/><path d="M603.9 219.4L603.0 212.6L606.5 213.2L601.5 207.2L598.3 214.3L601.5 212.8L602.4 219.6Z"/><path d="M618.3 219.4L618.5 212.7L621.8 213.9L617.9 207.4L613.7 213.7L617.0 212.7L616.8 219.4Z"/><path d="M631.8 219.0L634.0 213.0L636.6 215.0L635.1 208.0L629.4 212.4L632.7 212.5L630.5 218.5Z"/><path d="M643.8 213.7L649.1 214.0L648.1 216.6L653.3 213.7L648.4 210.2L649.1 212.8L643.8 212.5Z"/><path d="M661.1 208.3L663.5 214.3L660.2 214.5L666.1 218.8L667.4 211.6L664.9 213.8L662.4 207.7Z"/><path d="M677.6 207.1L678.6 214.3L675.0 213.6L680.3 219.8L683.6 212.4L680.2 214.0L679.2 206.9Z"/><path d="M693.8 206.8L693.9 214.2L690.3 213.1L694.9 220.0L699.1 212.9L695.6 214.2L695.4 206.8Z"/><path d="M710.0 206.8L709.2 214.1L705.8 212.5L709.4 219.9L714.5 213.5L710.8 214.3L711.6 207.0Z"/><path d="M228.0 201.4L233.3 201.2L232.6 203.8L237.5 200.4L232.3 197.4L233.3 200.0L227.9 200.2Z"/><path d="M243.2 201.6L248.8 201.2L248.1 204.0L253.1 200.2L247.6 197.3L248.7 199.9L243.1 200.4Z"/><path d="M259.0 198.7L263.7 201.4L261.6 203.3L267.7 203.0L264.9 197.7L264.3 200.4L259.6 197.7Z"/><path d="M274.7 198.4L279.0 201.4L276.9 203.1L282.8 203.3L280.5 197.8L279.7 200.4L275.3 197.4Z"/><path d="M290.3 197.9L294.3 201.4L292.0 202.8L297.9 203.8L296.2 198.0L295.1 200.5L291.1 197.0Z"/><path d="M305.4 196.5L309.6 201.6L306.4 202.9L313.5 205.1L312.5 197.8L310.7 200.7L306.5 195.6Z"/><path d="M319.6 196.0L325.0 201.8L321.3 203.6L330.0 205.8L328.3 197.0L326.3 200.6L320.9 194.8Z"/><path d="M336.8 195.9L340.2 201.6L336.9 202.4L343.6 205.7L343.7 198.2L341.5 200.8L338.1 195.1Z"/><path d="M353.0 196.3L355.6 201.5L352.7 201.9L358.2 205.2L358.9 198.8L356.8 200.9L354.2 195.7Z"/><path d="M368.8 193.8L370.6 201.7L366.5 201.3L373.0 207.6L375.9 199.1L372.4 201.2L370.5 193.4Z"/><path d="M386.3 195.8L386.1 201.2L383.5 200.2L386.6 205.4L389.9 200.4L387.3 201.2L387.4 195.9Z"/><path d="M403.0 195.9L401.4 201.0L399.2 199.4L400.7 205.1L405.2 201.3L402.5 201.3L404.1 196.3Z"/><path d="M417.9 195.4L416.8 201.1L414.2 199.6L416.5 205.6L421.0 201.0L418.0 201.3L419.1 195.7Z"/><path d="M435.1 195.9L432.1 200.8L430.2 198.5L430.2 204.9L436.0 202.2L433.1 201.5L436.2 196.6Z"/><path d="M452.4 197.4L447.4 200.4L446.8 197.5L443.9 203.3L450.4 203.4L448.1 201.5L453.1 198.5Z"/><path d="M468.5 199.4L463.1 200.1L463.6 197.3L458.9 201.2L464.4 203.8L463.2 201.3L468.7 200.6Z"/><path d="M483.9 201.6L478.8 199.8L480.5 197.6L474.5 199.0L478.3 203.8L478.4 201.0L483.6 202.8Z"/><path d="M499.6 201.2L494.1 199.9L495.6 197.4L489.6 199.4L494.0 204.0L493.8 201.1L499.3 202.5Z"/><path d="M515.5 202.5L509.6 199.7L511.9 197.2L504.7 198.1L508.6 204.3L509.0 201.0L514.9 203.8Z"/><path d="M531.0 203.2L525.1 199.6L527.8 197.3L520.1 197.3L523.4 204.3L524.3 200.9L530.2 204.5Z"/><path d="M545.5 204.3L540.7 199.6L543.8 198.0L536.5 196.4L538.2 203.7L539.7 200.6L544.5 205.3Z"/><path d="M560.9 206.9L556.5 199.3L560.9 198.4L552.2 193.9L551.8 203.7L554.8 200.3L559.2 207.8Z"/><path d="M575.1 204.8L571.7 199.7L574.8 198.9L568.6 196.0L568.6 202.9L570.6 200.4L573.9 205.6Z"/><path d="M590.3 207.6L587.5 199.4L591.9 199.4L584.5 193.4L582.2 202.7L585.7 200.0L588.5 208.2Z"/><path d="M604.7 206.2L602.8 199.7L606.3 199.9L600.7 194.8L598.6 202.1L601.4 200.1L603.3 206.6Z"/><path d="M618.5 206.2L618.4 199.9L621.5 200.9L617.6 195.0L614.0 201.0L617.0 199.9L617.1 206.2Z"/><path d="M631.3 205.6L634.0 200.4L636.1 202.5L635.6 196.0L629.9 199.3L632.8 199.8L630.1 205.0Z"/><path d="M643.8 201.0L649.1 201.2L648.1 203.8L653.3 200.8L648.4 197.4L649.1 200.0L643.8 199.8Z"/><path d="M660.9 195.9L663.6 201.5L660.4 201.9L666.3 205.6L667.1 198.7L664.8 200.9L662.2 195.3Z"/><path d="M678.0 194.5L678.6 201.4L675.2 200.6L679.9 206.8L683.4 199.9L680.2 201.3L679.5 194.4Z"/><path d="M694.6 194.2L693.9 201.3L690.5 199.8L694.1 206.9L699.0 200.6L695.4 201.4L696.1 194.3Z"/><path d="M711.7 194.5L709.1 201.0L706.4 198.7L707.8 206.4L714.2 201.8L710.6 201.6L713.2 195.1Z"/><path d="M104.9 189.3L110.2 188.3L109.8 191.0L114.2 187.0L108.6 184.7L110.0 187.1L104.7 188.1Z"/><path d="M120.0 189.5L125.6 188.3L125.3 191.3L130.0 186.8L123.9 184.5L125.4 187.1L119.7 188.2Z"/><path d="M135.0 189.1L141.0 188.4L140.4 191.5L145.7 187.2L139.6 184.2L140.9 187.1L134.8 187.7Z"/><path d="M150.3 188.8L156.4 188.5L155.6 191.5L161.1 187.5L155.2 184.2L156.3 187.1L150.2 187.5Z"/><path d="M165.8 188.9L171.8 188.4L171.1 191.5L176.5 187.4L170.5 184.2L171.7 187.1L165.7 187.6Z"/><path d="M181.1 189.1L187.2 188.4L186.5 191.6L192.0 187.3L185.8 184.2L187.1 187.1L180.9 187.7Z"/><path d="M196.1 188.3L202.6 188.6L201.4 191.7L207.7 188.1L201.7 183.9L202.6 187.1L196.2 186.9Z"/><path d="M211.3 188.5L218.0 188.6L216.9 191.8L223.3 187.9L217.0 183.8L218.0 187.1L211.3 187.0Z"/><path d="M226.7 189.1L233.5 188.5L232.7 191.9L238.7 187.3L232.0 183.8L233.4 187.0L226.6 187.6Z"/><path d="M242.4 189.1L248.9 188.5L248.1 191.7L253.9 187.3L247.4 184.0L248.7 187.0L242.3 187.6Z"/><path d="M258.0 188.9L264.2 188.5L263.4 191.6L269.1 187.5L262.9 184.1L264.1 187.1L257.9 187.5Z"/><path d="M273.2 186.3L279.3 188.8L277.1 191.3L284.4 190.0L280.0 184.0L279.8 187.4L273.7 185.0Z"/><path d="M288.1 185.8L294.7 188.9L292.1 191.6L300.2 190.6L295.8 183.7L295.4 187.4L288.7 184.3Z"/><path d="M303.0 185.1L310.0 189.0L307.0 191.8L316.0 191.3L311.7 183.4L310.9 187.5L303.8 183.6Z"/><path d="M319.6 184.2L325.2 189.0L322.0 190.9L330.1 192.1L327.7 184.2L326.2 187.7L320.7 183.0Z"/><path d="M336.3 185.3L340.6 188.7L338.3 190.2L344.3 190.8L342.3 185.1L341.3 187.7L337.1 184.4Z"/><path d="M351.1 183.4L355.8 188.9L352.3 190.3L360.1 192.8L359.0 184.7L357.0 187.9L352.3 182.3Z"/><path d="M368.2 182.4L370.9 188.8L367.3 189.1L373.7 193.6L375.0 185.9L372.3 188.2L369.6 181.8Z"/><path d="M390.1 184.5L385.9 187.7L385.0 185.1L383.0 190.7L388.9 190.2L386.6 188.6L390.8 185.4Z"/><path d="M404.4 183.6L401.3 187.9L399.7 185.7L399.3 191.7L404.9 189.5L402.3 188.6L405.4 184.3Z"/><path d="M436.2 184.3L432.1 187.7L431.1 185.2L429.2 190.9L435.2 190.1L432.9 188.7L437.0 185.2Z"/><path d="M452.9 186.2L447.6 187.4L447.9 184.6L443.6 188.8L449.3 190.9L447.9 188.5L453.2 187.4Z"/><path d="M469.2 187.0L463.0 187.2L463.9 184.1L458.2 188.0L464.2 191.5L463.1 188.5L469.2 188.3Z"/><path d="M484.9 188.6L478.6 187.0L480.4 184.2L473.5 186.4L478.5 191.6L478.3 188.3L484.5 189.9Z"/><path d="M500.4 188.8L494.1 186.9L496.0 184.2L488.9 186.1L493.7 191.7L493.6 188.3L499.9 190.2Z"/><path d="M515.2 189.6L509.6 186.9L511.8 184.6L504.9 185.4L508.6 191.3L509.0 188.2L514.6 190.8Z"/><path d="M530.4 190.6L525.2 186.9L527.8 184.9L520.7 184.5L523.4 191.1L524.4 188.0L529.6 191.7Z"/><path d="M546.9 193.1L540.8 186.4L545.0 184.6L535.3 181.9L537.1 191.8L539.3 187.8L545.4 194.4Z"/><path d="M561.3 190.6L556.0 186.8L558.7 184.9L551.4 184.5L554.2 191.2L555.1 188.0L560.4 191.8Z"/><path d="M576.6 192.8L571.7 186.6L575.5 185.2L567.1 182.3L568.1 191.1L570.3 187.7L575.3 193.9Z"/><path d="M591.2 193.5L587.3 186.7L591.3 185.9L583.4 181.7L583.0 190.5L585.7 187.5L589.6 194.4Z"/><path d="M605.0 192.9L602.7 186.9L606.0 186.8L600.4 182.5L598.9 189.5L601.4 187.4L603.6 193.4Z"/><path d="M619.9 192.6L618.2 187.0L621.2 187.1L616.2 182.8L614.5 189.2L616.9 187.4L618.7 193.0Z"/><path d="M662.7 182.8L663.4 188.5L660.5 187.9L664.5 192.9L667.3 187.1L664.6 188.4L664.0 182.7Z"/><path d="M679.5 181.9L678.5 188.4L675.5 186.8L678.4 193.7L683.3 188.1L679.9 188.6L681.0 182.1Z"/><path d="M696.5 182.0L693.7 188.2L691.2 185.8L692.3 193.4L698.6 189.1L695.1 188.8L697.9 182.6Z"/><path d="M713.8 182.9L709.1 187.8L707.4 184.8L705.9 192.2L713.3 190.4L710.2 188.9L714.9 183.9Z"/><path d="M730.4 183.7L724.5 187.6L723.5 184.1L720.3 191.3L728.1 191.1L725.3 188.9L731.2 185.0Z"/><path d="M746.1 184.7L740.0 187.4L739.6 184.0L735.5 190.3L742.9 191.3L740.6 188.8L746.7 186.1Z"/><path d="M760.4 185.3L755.6 187.5L755.3 184.8L752.0 189.8L757.9 190.6L756.1 188.6L760.9 186.4Z"/><path d="M103.6 175.9L110.2 175.8L109.3 179.0L115.5 174.9L109.0 171.1L110.2 174.3L103.5 174.5Z"/><path d="M118.8 175.7L125.6 175.8L124.5 179.1L131.0 175.2L124.6 171.0L125.6 174.3L118.8 174.2Z"/><path d="M133.8 176.0L141.1 175.8L140.0 179.4L146.8 174.9L139.8 170.7L141.1 174.2L133.8 174.4Z"/><path d="M149.4 176.4L156.5 175.8L155.7 179.3L162.0 174.5L155.0 170.8L156.4 174.2L149.3 174.8Z"/><path d="M164.9 175.8L171.8 175.8L170.8 179.2L177.3 175.0L170.7 170.9L171.8 174.3L164.9 174.3Z"/><path d="M179.8 175.3L187.2 175.9L185.7 179.5L193.2 175.6L186.5 170.5L187.4 174.3L179.9 173.7Z"/><path d="M194.9 175.7L202.7 175.9L201.4 179.7L208.8 175.2L201.6 170.4L202.8 174.2L195.0 174.0Z"/><path d="M210.6 175.9L218.1 175.9L216.9 179.5L224.0 175.0L216.9 170.6L218.1 174.2L210.6 174.2Z"/><path d="M226.0 176.0L233.5 175.9L232.4 179.5L239.4 174.9L232.2 170.6L233.5 174.2L226.0 174.3Z"/><path d="M241.0 175.9L249.0 175.9L247.7 179.8L255.2 175.0L247.7 170.3L249.0 174.2L241.0 174.2Z"/><path d="M256.2 175.8L264.4 176.0L263.0 179.9L270.8 175.2L263.1 170.1L264.4 174.1L256.2 174.0Z"/><path d="M271.6 175.0L279.7 176.0L277.9 179.8L286.1 175.9L279.1 170.1L279.9 174.2L271.8 173.3Z"/><path d="M287.3 173.4L294.8 176.2L292.3 179.4L301.0 177.5L295.5 170.4L295.4 174.5L287.9 171.8Z"/><path d="M303.9 173.4L310.1 176.0L307.8 178.6L315.2 177.4L310.9 171.2L310.7 174.6L304.5 172.0Z"/><path d="M319.8 173.0L325.4 176.0L323.1 178.2L330.1 177.7L326.6 171.6L326.0 174.7L320.5 171.8Z"/><path d="M334.1 172.4L340.8 176.2L337.9 178.9L346.5 178.5L342.4 170.8L341.7 174.7L334.9 170.9Z"/><path d="M349.9 172.6L356.2 176.1L353.4 178.6L361.6 178.2L357.7 171.1L357.0 174.7L350.7 171.2Z"/><path d="M367.3 172.4L371.4 175.9L369.0 177.3L375.0 178.2L373.2 172.4L372.1 175.0L368.0 171.5Z"/><path d="M438.0 173.9L432.2 174.5L432.9 171.6L427.8 175.6L433.6 178.5L432.4 175.7L438.1 175.1Z"/><path d="M453.5 174.1L447.7 174.4L448.4 171.5L443.1 175.3L448.8 178.5L447.7 175.7L453.6 175.4Z"/><path d="M468.9 175.0L463.2 174.3L464.4 171.6L458.6 174.5L463.7 178.5L463.0 175.6L468.8 176.2Z"/><path d="M484.0 175.1L478.6 174.4L479.9 171.9L474.4 174.4L479.0 178.3L478.5 175.5L483.8 176.3Z"/><path d="M499.1 176.4L494.2 174.3L496.0 172.2L490.1 173.2L493.5 178.1L493.8 175.4L498.7 177.4Z"/><path d="M515.3 176.7L509.6 174.1L511.7 171.8L504.8 172.8L508.7 178.6L509.0 175.4L514.7 177.9Z"/><path d="M532.3 180.0L525.3 173.6L529.6 171.2L519.0 169.3L521.8 179.6L523.9 175.1L530.9 181.6Z"/><path d="M546.2 177.6L540.5 174.0L543.1 171.8L535.6 171.9L538.9 178.6L539.7 175.3L545.4 178.8Z"/><path d="M562.1 178.8L556.0 173.8L559.4 171.7L550.7 170.6L553.4 178.9L554.9 175.2L561.0 180.2Z"/><path d="M577.5 179.2L571.5 173.8L575.1 171.7L566.2 170.2L568.6 178.9L570.3 175.1L576.3 180.6Z"/><path d="M591.8 178.9L587.0 174.0L590.1 172.4L582.6 170.6L584.2 178.2L585.9 175.0L590.7 180.0Z"/><path d="M606.5 178.8L602.4 174.1L605.4 172.8L598.6 170.8L599.7 177.8L601.4 175.0L605.5 179.7Z"/><path d="M621.5 178.6L617.8 174.2L620.6 173.1L614.4 171.0L615.2 177.5L616.8 175.0L620.5 179.5Z"/><path d="M666.4 170.7L663.1 175.1L661.5 172.8L660.9 179.0L666.7 176.8L664.1 175.9L667.4 171.5Z"/><path d="M682.3 170.0L678.3 175.2L676.5 172.4L675.8 179.6L682.6 177.1L679.5 176.0L683.4 170.9Z"/><path d="M698.9 170.8L693.7 174.9L692.5 171.7L690.1 178.7L697.5 177.9L694.6 176.1L699.8 171.9Z"/><path d="M715.1 171.5L709.1 174.7L708.5 171.3L704.8 177.9L712.4 178.5L709.8 176.0L715.8 172.8Z"/><path d="M731.1 172.3L724.6 174.6L724.5 171.0L719.7 177.1L727.2 178.8L725.1 176.0L731.6 173.7Z"/><path d="M747.1 172.5L740.0 174.5L740.2 170.7L734.6 176.8L742.5 179.2L740.4 176.0L747.5 174.1Z"/><path d="M762.9 172.3L755.3 174.4L755.5 170.4L749.5 176.9L758.0 179.5L755.8 176.1L763.4 174.0Z"/><path d="M102.9 163.5L110.3 163.0L109.4 166.7L116.1 161.8L108.8 157.9L110.2 161.4L102.8 161.8Z"/><path d="M117.9 163.0L125.7 163.1L124.4 166.9L131.9 162.4L124.6 157.6L125.8 161.4L118.0 161.3Z"/><path d="M133.7 161.8L140.9 163.2L139.1 166.5L146.7 163.5L140.8 157.9L141.2 161.6L134.0 160.2Z"/><path d="M148.9 164.3L156.7 163.0L156.1 167.0L162.7 161.0L154.5 157.6L156.4 161.2L148.6 162.6Z"/><path d="M163.6 162.9L172.0 163.2L170.5 167.2L178.6 162.5L170.9 157.2L172.0 161.4L163.7 161.0Z"/><path d="M179.2 161.5L187.2 163.3L185.0 166.9L193.6 163.9L187.2 157.4L187.6 161.6L179.6 159.8Z"/><path d="M194.6 162.6L202.7 163.2L201.1 167.1L209.2 162.8L201.8 157.3L202.8 161.4L194.7 160.8Z"/><path d="M209.2 163.0L218.2 163.3L216.6 167.7L225.4 162.5L217.0 156.8L218.3 161.3L209.2 161.0Z"/><path d="M224.6 163.6L233.7 163.2L232.4 167.7L240.8 161.9L232.0 156.8L233.6 161.2L224.6 161.6Z"/><path d="M240.9 163.6L249.0 163.1L248.0 167.2L255.4 161.8L247.4 157.4L248.9 161.3L240.8 161.8Z"/><path d="M256.8 163.1L264.3 163.1L263.1 166.8L270.2 162.2L263.1 157.8L264.3 161.4L256.8 161.5Z"/><path d="M271.9 162.1L279.6 163.2L277.8 166.8L285.8 163.2L279.2 157.6L279.9 161.5L272.2 160.4Z"/><path d="M286.9 160.7L294.9 163.4L292.3 166.9L301.4 164.7L295.5 157.4L295.5 161.7L287.5 159.0Z"/><path d="M301.3 161.6L310.5 163.5L308.1 167.7L317.9 164.0L310.4 156.6L310.9 161.4L301.7 159.5Z"/><path d="M317.0 160.2L325.7 163.6L322.6 167.2L332.8 165.3L326.7 156.9L326.4 161.7L317.8 158.2Z"/><path d="M333.5 160.6L341.0 163.4L338.5 166.6L347.3 164.7L341.7 157.6L341.6 161.7L334.1 159.0Z"/><path d="M350.1 161.8L356.5 163.1L354.8 166.0L361.6 163.4L356.3 158.4L356.7 161.7L350.3 160.4Z"/><path d="M366.2 162.6L371.9 162.9L370.8 165.7L376.4 162.5L371.2 158.8L372.0 161.6L366.2 161.4Z"/><path d="M452.4 159.7L447.6 162.0L447.2 159.3L444.0 164.3L449.9 165.0L448.1 163.0L452.9 160.8Z"/><path d="M468.3 160.8L463.1 161.8L463.4 159.1L459.0 163.1L464.6 165.3L463.3 162.9L468.5 162.0Z"/><path d="M483.8 163.4L478.8 161.5L480.5 159.4L474.7 160.5L478.2 165.3L478.4 162.6L483.3 164.5Z"/><path d="M501.3 164.7L494.2 161.1L497.1 158.2L488.2 159.0L492.7 166.7L493.4 162.6L500.5 166.3Z"/><path d="M517.3 164.9L509.5 161.0L512.7 157.8L503.0 158.7L508.0 167.1L508.7 162.7L516.4 166.6Z"/><path d="M530.8 164.3L525.0 161.3L527.4 158.9L520.1 159.6L523.8 165.9L524.4 162.6L530.2 165.6Z"/><path d="M547.8 165.4L540.4 161.0L543.8 158.1L534.1 158.3L538.5 166.9L539.4 162.6L546.8 167.0Z"/><path d="M562.8 165.1L555.8 161.1L558.9 158.3L549.9 158.7L554.1 166.6L554.9 162.6L561.9 166.6Z"/><path d="M577.2 165.0L571.3 161.2L574.1 159.0L566.3 158.9L569.6 166.0L570.5 162.5L576.3 166.3Z"/><path d="M592.2 165.3L586.8 161.2L589.7 159.2L582.1 158.6L584.7 165.7L585.9 162.4L591.3 166.5Z"/><path d="M607.4 164.9L602.2 161.3L604.7 159.3L597.6 159.1L600.5 165.6L601.4 162.5L606.6 166.0Z"/><path d="M622.6 164.3L617.5 161.4L619.8 159.4L613.2 159.6L616.2 165.5L616.9 162.5L621.9 165.5Z"/><path d="M684.2 159.1L678.4 161.9L678.0 158.6L674.1 164.7L681.3 165.6L679.0 163.2L684.8 160.4Z"/><path d="M700.2 159.5L693.8 161.8L693.7 158.3L689.0 164.3L696.4 166.0L694.3 163.2L700.7 161.0Z"/><path d="M715.8 159.3L709.1 161.8L709.0 158.2L704.2 164.4L711.9 166.1L709.7 163.3L716.3 160.8Z"/><path d="M731.3 159.8L724.6 161.7L724.8 158.2L719.6 163.9L727.0 166.1L725.0 163.2L731.7 161.3Z"/><path d="M746.6 160.1L740.1 161.7L740.3 158.2L735.1 163.7L742.2 166.1L740.4 163.2L747.0 161.6Z"/><path d="M762.1 160.1L755.5 161.7L755.8 158.2L750.4 163.6L757.6 166.1L755.8 163.2L762.4 161.6Z"/><path d="M101.9 150.5L110.4 150.4L109.1 154.6L117.1 149.4L109.0 144.4L110.4 148.5L101.9 148.6Z"/><path d="M117.7 150.7L125.8 150.3L124.7 154.3L132.1 149.2L124.3 144.6L125.7 148.5L117.6 148.9Z"/><path d="M133.0 150.4L141.2 150.4L139.9 154.4L147.6 149.4L139.8 144.6L141.2 148.6L133.0 148.6Z"/><path d="M147.6 149.1L156.5 150.6L154.3 154.7L163.6 150.9L156.2 144.1L156.8 148.7L148.0 147.1Z"/><path d="M162.4 149.6L172.0 150.6L170.0 155.1L179.6 150.4L171.2 143.7L172.2 148.5L162.7 147.5Z"/><path d="M177.6 150.4L187.5 150.6L185.8 155.4L195.4 149.7L186.1 143.5L187.6 148.4L177.7 148.2Z"/><path d="M192.7 148.8L202.8 150.8L200.1 155.4L210.9 151.3L202.6 143.3L203.2 148.6L193.2 146.5Z"/><path d="M208.3 149.9L218.3 150.7L216.3 155.4L226.2 150.1L217.2 143.5L218.5 148.4L208.5 147.7Z"/><path d="M224.0 151.5L233.9 150.5L232.8 155.5L241.6 148.6L231.6 143.6L233.7 148.3L223.7 149.3Z"/><path d="M239.7 152.6L249.4 150.3L248.9 155.4L256.7 147.4L246.2 143.8L248.9 148.2L239.2 150.4Z"/><path d="M255.2 150.6L264.5 150.5L263.1 155.0L271.8 149.4L262.9 143.9L264.5 148.4L255.2 148.5Z"/><path d="M270.4 148.4L279.6 150.7L277.0 154.8L287.1 151.6L279.8 143.8L280.2 148.7L271.0 146.3Z"/><path d="M286.2 148.7L295.0 150.7L292.7 154.7L302.2 151.2L295.0 144.0L295.5 148.7L286.6 146.7Z"/><path d="M302.7 149.0L310.4 150.5L308.5 154.0L316.5 150.7L310.2 144.8L310.7 148.8L303.1 147.4Z"/><path d="M318.1 148.7L325.7 150.5L323.6 153.9L331.9 151.1L325.8 144.8L326.1 148.8L318.5 147.0Z"/><path d="M334.2 149.7L341.2 150.3L339.8 153.6L346.7 150.0L340.5 145.3L341.3 148.8L334.4 148.2Z"/><path d="M350.3 150.7L356.7 150.1L355.9 153.3L361.6 148.9L355.2 145.7L356.5 148.7L350.2 149.3Z"/><path d="M366.0 150.5L372.0 150.1L371.2 153.1L376.6 149.1L370.7 145.9L371.9 148.8L365.9 149.2Z"/><path d="M437.2 151.5L432.8 148.7L434.9 146.9L428.9 146.9L431.4 152.3L432.1 149.7L436.6 152.5Z"/><path d="M450.8 145.3L447.5 149.6L445.9 147.3L445.4 153.3L451.0 151.2L448.4 150.3L451.7 146.0Z"/><path d="M468.9 150.8L463.4 148.6L465.3 146.2L458.7 147.5L462.7 152.9L462.9 149.9L468.5 152.0Z"/><path d="M486.1 152.7L478.8 148.2L482.2 145.4L472.7 145.4L476.8 154.0L477.8 149.8L485.1 154.3Z"/><path d="M500.6 152.8L494.3 148.3L497.6 146.0L488.9 145.4L492.2 153.5L493.4 149.7L499.6 154.2Z"/><path d="M515.6 152.1L509.7 148.4L512.4 146.2L504.7 146.2L508.0 153.2L508.9 149.7L514.8 153.4Z"/><path d="M532.6 152.6L525.0 148.1L528.4 145.1L518.5 145.5L523.0 154.3L524.0 149.8L531.6 154.3Z"/><path d="M547.0 152.2L540.4 148.3L543.4 145.8L534.9 146.0L538.8 153.6L539.6 149.8L546.1 153.6Z"/><path d="M562.1 151.8L555.8 148.4L558.5 145.9L550.5 146.5L554.4 153.4L555.1 149.8L561.4 153.2Z"/><path d="M577.6 152.0L571.2 148.4L574.0 145.8L565.8 146.3L569.7 153.5L570.4 149.8L576.8 153.4Z"/><path d="M593.0 151.2L586.5 148.5L588.9 145.8L581.2 147.0L585.6 153.5L585.9 149.9L592.3 152.6Z"/><path d="M607.9 150.8L601.9 148.6L604.0 146.0L597.0 147.5L601.3 153.1L601.4 149.9L607.4 152.1Z"/><path d="M622.9 150.5L617.3 148.6L619.2 146.2L612.7 147.8L616.9 152.9L616.9 149.9L622.5 151.8Z"/><path d="M638.2 149.9L632.7 148.7L634.1 146.3L628.2 148.5L632.7 152.8L632.4 150.0L637.9 151.1Z"/><path d="M653.5 149.1L648.0 148.8L649.0 146.2L643.6 149.2L648.6 152.8L647.9 150.1L653.5 150.4Z"/><path d="M669.1 148.4L663.3 148.9L664.0 146.0L658.7 149.9L664.5 152.9L663.4 150.2L669.2 149.7Z"/><path d="M684.7 147.8L678.5 148.9L679.0 145.7L673.8 150.5L680.3 153.1L678.8 150.3L685.0 149.1Z"/><path d="M700.3 147.1L693.8 148.9L694.0 145.5L688.9 151.1L696.2 153.2L694.2 150.4L700.7 148.6Z"/><path d="M715.8 146.9L709.2 149.0L709.3 145.4L704.2 151.3L711.7 153.3L709.6 150.4L716.3 148.4Z"/><path d="M731.4 147.3L724.6 148.9L724.9 145.3L719.4 150.9L726.9 153.5L725.0 150.4L731.8 148.8Z"/><path d="M746.9 147.3L740.0 148.9L740.4 145.2L734.7 150.9L742.2 153.5L740.4 150.4L747.3 148.8Z"/><path d="M762.3 147.3L755.4 148.9L755.7 145.3L750.2 150.9L757.7 153.5L755.8 150.4L762.7 148.8Z"/><path d="M102.3 137.7L110.4 137.6L109.2 141.5L116.7 136.5L109.0 131.9L110.3 135.8L102.3 135.9Z"/><path d="M117.4 137.9L125.8 137.6L124.6 141.7L132.4 136.4L124.3 131.7L125.8 135.7L117.4 136.0Z"/><path d="M132.2 135.8L141.0 137.9L138.6 141.9L148.2 138.6L141.1 131.3L141.5 135.9L132.6 133.8Z"/><path d="M146.0 134.5L156.4 138.2L152.9 142.7L165.0 140.1L157.4 130.2L157.2 135.9L146.8 132.2Z"/><path d="M159.9 135.9L172.2 138.3L169.0 143.9L182.0 138.8L171.9 129.3L172.7 135.6L160.5 133.2Z"/><path d="M175.3 137.2L187.7 138.2L185.2 144.1L197.6 137.6L186.4 129.2L187.9 135.4L175.5 134.4Z"/><path d="M190.8 137.4L203.1 138.1L200.8 144.0L212.9 137.3L201.7 129.3L203.3 135.4L191.0 134.7Z"/><path d="M207.2 137.7L218.5 138.0L216.6 143.4L227.4 136.9L216.8 129.9L218.5 135.5L207.2 135.2Z"/><path d="M222.7 138.7L234.0 137.8L232.6 143.5L242.8 135.9L231.6 130.0L233.8 135.3L222.5 136.2Z"/><path d="M237.4 139.8L249.6 137.8L248.6 144.1L259.0 134.9L246.3 129.5L249.2 135.1L237.0 137.1Z"/><path d="M253.4 139.8L265.0 137.8L264.1 143.7L273.9 134.9L261.7 129.8L264.5 135.2L252.9 137.2Z"/><path d="M270.3 137.4L279.9 137.8L278.2 142.4L287.5 137.0L278.6 130.9L280.0 135.7L270.4 135.3Z"/><path d="M286.1 137.2L295.2 137.7L293.5 142.1L302.4 137.2L294.1 131.2L295.3 135.7L286.2 135.2Z"/><path d="M301.9 137.3L310.6 137.7L309.0 141.9L317.5 137.1L309.5 131.4L310.7 135.8L302.0 135.3Z"/><path d="M318.0 137.0L325.9 137.6L324.3 141.4L332.1 137.2L325.0 131.9L326.0 135.9L318.1 135.3Z"/><path d="M334.4 138.7L341.4 137.3L340.9 141.0L346.8 135.5L339.3 132.6L341.1 135.8L334.1 137.1Z"/><path d="M350.1 139.0L356.8 137.2L356.6 140.8L361.9 135.1L354.5 132.8L356.4 135.8L349.7 137.5Z"/><path d="M366.1 139.2L372.2 137.1L372.2 140.4L376.8 134.9L369.8 133.1L371.7 135.8L365.6 137.8Z"/><path d="M383.4 140.2L387.5 136.8L388.5 139.3L390.4 133.6L384.5 134.4L386.8 135.9L382.7 139.3Z"/><path d="M399.2 142.3L403.2 136.5L405.4 139.4L405.6 131.5L398.4 134.6L401.9 135.6L397.9 141.4Z"/><path d="M416.2 144.7L418.7 136.0L422.6 138.6L419.7 129.0L412.2 135.7L416.8 135.5L414.3 144.1Z"/><path d="M432.8 142.9L433.8 136.1L437.0 137.6L433.8 130.5L428.7 136.5L432.3 135.8L431.3 142.7Z"/><path d="M453.7 137.3L447.8 135.9L449.5 133.2L443.0 135.5L447.8 140.3L447.5 137.2L453.4 138.6Z"/><path d="M469.5 141.3L463.8 135.4L467.6 133.5L458.6 131.4L460.5 140.5L462.4 136.7L468.2 142.6Z"/><path d="M484.4 140.2L479.1 135.6L482.1 133.7L474.4 132.6L476.7 140.1L478.0 136.8L483.4 141.4Z"/><path d="M499.9 140.3L494.5 135.6L497.6 133.7L489.7 132.5L492.0 140.2L493.4 136.8L498.9 141.5Z"/><path d="M516.5 140.8L509.8 135.4L513.6 133.0L504.0 131.8L507.0 140.9L508.6 136.8L515.2 142.3Z"/><path d="M531.2 140.5L525.2 135.5L528.6 133.4L520.0 132.2L522.7 140.5L524.1 136.8L530.1 141.8Z"/><path d="M547.0 139.8L540.5 135.5L543.7 133.0L534.9 132.8L538.5 140.8L539.5 136.9L546.0 141.3Z"/><path d="M562.5 138.9L555.8 135.6L558.4 132.8L550.1 133.8L554.5 140.9L555.0 137.1L561.8 140.3Z"/><path d="M577.7 138.9L571.2 135.6L573.9 133.0L565.7 133.7L569.9 140.8L570.5 137.1L577.0 140.4Z"/><path d="M592.7 137.8L586.5 135.8L588.5 133.1L581.4 134.9L586.1 140.5L586.0 137.2L592.2 139.2Z"/><path d="M607.7 137.1L601.8 135.9L603.4 133.2L597.1 135.6L601.9 140.3L601.6 137.2L607.5 138.4Z"/><path d="M622.9 137.2L617.3 135.9L618.8 133.3L612.6 135.6L617.3 140.2L617.0 137.2L622.7 138.4Z"/><path d="M638.3 137.0L632.6 136.0L634.0 133.4L628.1 135.8L632.8 140.1L632.4 137.2L638.1 138.2Z"/><path d="M653.8 136.9L648.0 135.9L649.4 133.3L643.4 135.9L648.3 140.2L647.8 137.2L653.6 138.1Z"/><path d="M669.3 136.2L663.3 136.0L664.4 133.1L658.6 136.5L664.1 140.3L663.3 137.3L669.3 137.5Z"/><path d="M684.8 135.7L678.6 136.0L679.4 133.0L673.8 137.0L679.9 140.3L678.7 137.4L684.9 137.0Z"/><path d="M700.2 134.6L693.9 136.1L694.1 132.8L689.1 138.1L696.0 140.4L694.2 137.6L700.6 136.0Z"/><path d="M715.6 134.4L709.3 136.2L709.4 132.8L704.4 138.3L711.5 140.4L709.6 137.6L716.0 135.8Z"/><path d="M731.2 134.9L724.7 136.1L725.2 132.7L719.7 137.7L726.6 140.5L725.0 137.5L731.5 136.4Z"/><path d="M746.8 134.9L740.1 136.1L740.6 132.6L734.9 137.7L742.0 140.6L740.3 137.6L747.1 136.4Z"/><path d="M762.4 134.8L755.5 136.0L756.0 132.5L750.1 137.8L757.4 140.8L755.7 137.6L762.7 136.4Z"/><path d="M103.4 124.7L110.2 124.7L109.1 128.0L115.6 123.9L109.1 119.8L110.2 123.1L103.4 123.1Z"/><path d="M118.6 124.3L125.6 124.7L124.3 128.1L131.1 124.3L124.8 119.7L125.7 123.2L118.7 122.7Z"/><path d="M133.2 121.7L140.7 125.1L137.8 128.2L147.1 127.0L142.0 119.2L141.5 123.4L133.9 120.0Z"/><path d="M147.2 119.0L155.9 125.6L151.3 128.8L163.5 129.8L159.2 118.3L157.4 123.6L148.6 117.0Z"/><path d="M162.6 121.0L171.6 125.4L168.0 129.1L179.1 127.7L173.2 118.3L172.5 123.4L163.5 119.1Z"/><path d="M178.6 123.4L187.2 125.0L185.0 129.0L194.2 125.4L187.0 118.6L187.6 123.1L179.0 121.5Z"/><path d="M194.2 124.6L202.8 124.9L201.2 129.0L209.6 124.2L201.6 118.7L202.9 123.0L194.2 122.6Z"/><path d="M209.3 124.9L218.3 124.9L216.8 129.3L225.3 123.9L216.8 118.5L218.3 122.9L209.3 122.9Z"/><path d="M224.6 125.3L233.7 124.9L232.5 129.4L240.8 123.5L231.9 118.5L233.6 122.8L224.5 123.3Z"/><path d="M240.1 125.7L249.2 124.8L248.2 129.4L256.2 123.1L247.1 118.5L249.0 122.8L239.9 123.7Z"/><path d="M254.8 126.8L264.8 124.8L264.2 130.0L272.4 122.1L261.8 118.0L264.4 122.6L254.4 124.6Z"/><path d="M269.9 126.1L280.1 124.9L279.1 130.1L288.1 122.8L277.6 117.8L279.9 122.6L269.6 123.9Z"/><path d="M285.0 125.9L295.5 125.0L294.3 130.2L303.7 123.0L293.2 117.7L295.3 122.6L284.8 123.6Z"/><path d="M301.2 125.9L310.9 124.9L309.8 129.7L318.3 122.9L308.5 118.2L310.6 122.7L301.0 123.8Z"/><path d="M317.2 126.8L326.3 124.7L325.9 129.4L333.2 122.0L323.4 118.6L325.9 122.7L316.8 124.8Z"/><path d="M331.2 127.4L341.9 124.8L341.5 130.5L350.1 121.6L338.4 117.6L341.4 122.4L330.6 125.0Z"/><path d="M347.4 128.2L357.4 124.6L357.5 130.0L364.8 120.7L353.2 118.2L356.6 122.4L346.6 126.0Z"/><path d="M364.4 129.7L372.8 124.2L374.1 129.2L378.8 119.0L367.6 119.2L371.6 122.4L363.2 127.8Z"/><path d="M382.5 131.1L388.1 123.7L390.8 127.7L391.8 117.3L382.0 120.9L386.5 122.5L380.8 129.9Z"/><path d="M400.7 130.7L403.2 123.4L406.3 125.8L404.3 117.4L397.6 122.8L401.6 122.8L399.1 130.1Z"/><path d="M417.3 132.1L418.7 123.1L422.8 125.2L418.7 115.9L412.1 123.6L416.7 122.8L415.3 131.8Z"/><path d="M434.6 131.2L433.7 122.9L437.9 123.9L432.2 116.5L428.0 124.8L431.9 123.1L432.7 131.4Z"/><path d="M453.4 130.4L448.7 122.5L453.3 121.5L444.1 116.9L443.9 127.1L446.9 123.6L451.6 131.4Z"/><path d="M468.1 129.4L464.0 122.7L467.9 121.8L460.1 117.9L459.9 126.7L462.5 123.6L466.6 130.3Z"/><path d="M483.1 128.9L479.4 122.8L482.9 122.0L475.8 118.5L475.7 126.5L478.1 123.7L481.8 129.7Z"/><path d="M498.9 130.2L494.9 122.6L499.3 121.9L490.9 117.1L490.2 126.7L493.2 123.5L497.3 131.1Z"/><path d="M515.0 129.6L510.2 122.6L514.4 121.4L505.7 117.6L506.0 127.1L508.6 123.7L513.4 130.7Z"/><path d="M531.3 128.7L525.4 122.6L529.3 120.7L520.0 118.4L522.0 127.8L524.0 123.9L530.0 130.0Z"/><path d="M547.4 126.9L540.4 122.7L543.6 120.0L534.5 120.1L538.6 128.3L539.5 124.2L546.5 128.4Z"/><path d="M562.2 125.7L555.7 122.9L558.2 120.2L550.4 121.4L554.8 127.9L555.1 124.3L561.6 127.1Z"/><path d="M577.1 125.9L571.2 122.9L573.6 120.6L566.3 121.3L570.1 127.6L570.6 124.2L576.4 127.2Z"/><path d="M592.1 125.2L586.6 123.1L588.5 120.7L582.0 122.0L586.0 127.3L586.1 124.3L591.7 126.4Z"/><path d="M607.3 124.3L601.9 123.2L603.3 120.7L597.5 122.9L602.0 127.2L601.6 124.4L607.0 125.5Z"/><path d="M622.7 124.5L617.3 123.2L618.8 120.7L612.9 122.7L617.2 127.2L617.0 124.4L622.4 125.7Z"/><path d="M700.3 121.9L693.9 123.4L694.2 120.0L689.0 125.2L696.0 127.6L694.2 124.8L700.6 123.3Z"/><path d="M715.6 121.6L709.3 123.4L709.4 120.0L704.5 125.5L711.6 127.6L709.7 124.8L716.0 123.0Z"/><path d="M730.9 122.1L724.7 123.4L725.1 120.2L720.1 125.1L726.6 127.5L725.0 124.7L731.2 123.4Z"/><path d="M746.3 122.5L740.2 123.3L740.8 120.2L735.5 124.7L741.8 127.5L740.4 124.7L746.5 123.8Z"/><path d="M761.8 122.5L755.6 123.3L756.2 120.1L750.8 124.6L757.1 127.6L755.7 124.7L762.0 123.9Z"/><path d="M104.2 111.6L110.1 111.8L109.1 114.6L114.8 111.3L109.3 107.6L110.2 110.5L104.2 110.3Z"/><path d="M118.9 110.0L125.4 112.1L123.3 114.9L130.7 113.0L125.8 107.1L125.8 110.6L119.3 108.5Z"/><path d="M133.3 107.5L140.5 112.4L136.9 115.2L146.8 115.6L142.9 106.5L141.6 110.8L134.4 105.9Z"/><path d="M147.7 105.5L155.8 112.8L150.9 115.6L162.9 117.6L159.6 105.9L157.4 111.0L149.3 103.7Z"/><path d="M163.0 107.2L171.4 112.6L167.4 115.9L178.6 115.9L173.9 105.8L172.6 110.8L164.2 105.4Z"/><path d="M179.1 110.0L187.1 112.2L184.7 115.8L193.7 113.1L187.4 106.2L187.6 110.5L179.6 108.2Z"/><path d="M194.7 110.8L202.6 112.1L200.7 115.8L209.0 112.3L202.3 106.3L202.9 110.4L195.0 109.0Z"/><path d="M210.2 111.6L218.1 112.0L216.6 115.8L224.4 111.5L217.2 106.4L218.2 110.3L210.3 109.8Z"/><path d="M225.7 112.7L233.6 111.9L232.7 115.9L239.8 110.4L231.8 106.4L233.5 110.2L225.5 110.9Z"/><path d="M241.1 113.1L249.1 111.9L248.4 116.0L255.2 110.0L246.9 106.4L248.8 110.1L240.8 111.3Z"/><path d="M256.3 112.6L264.5 111.9L263.5 116.0L270.8 110.5L262.7 106.3L264.3 110.1L256.1 110.8Z"/><path d="M271.5 113.3L280.0 111.9L279.3 116.3L286.5 109.9L277.6 106.1L279.7 110.0L271.1 111.4Z"/><path d="M286.0 114.1L295.6 111.9L295.1 116.9L302.8 109.2L292.5 105.5L295.1 109.8L285.5 111.9Z"/><path d="M301.5 113.9L310.9 112.0L310.4 116.9L318.2 109.4L308.0 105.6L310.5 109.9L301.0 111.8Z"/><path d="M316.9 114.5L326.4 111.9L326.2 117.0L333.6 108.8L323.0 105.5L325.8 109.8L316.3 112.4Z"/><path d="M330.1 115.8L342.2 112.0L342.1 118.5L351.3 107.8L337.6 104.1L341.4 109.4L329.3 113.1Z"/><path d="M346.0 116.8L357.7 111.9L358.2 118.4L366.4 106.7L352.3 104.3L356.6 109.3L344.9 114.2Z"/><path d="M362.5 118.1L373.2 111.6L374.6 117.9L380.9 105.3L366.8 105.1L371.7 109.2L361.0 115.7Z"/><path d="M380.0 119.1L388.5 111.2L391.0 116.6L394.3 104.1L381.5 106.5L386.7 109.3L378.3 117.2Z"/><path d="M398.8 118.9L403.5 110.8L406.8 114.4L406.3 103.8L397.0 108.7L401.7 109.7L397.0 117.9Z"/><path d="M417.2 119.7L418.7 110.3L423.0 112.5L418.8 102.7L411.8 110.7L416.6 109.9L415.1 119.3Z"/><path d="M433.2 119.4L434.0 110.2L438.3 112.1L433.7 103.0L427.4 111.1L432.0 110.0L431.2 119.2Z"/><path d="M447.2 119.6L449.6 110.4L453.7 113.1L450.5 102.9L442.7 110.1L447.6 109.9L445.1 119.1Z"/><path d="M463.2 120.6L465.1 110.2L469.8 112.8L465.4 101.9L457.4 110.5L462.8 109.8L460.9 120.2Z"/><path d="M482.2 120.2L480.0 109.8L485.5 110.4L477.2 101.8L473.0 113.0L477.7 110.2L479.9 120.7Z"/><path d="M499.2 120.3L495.3 109.5L501.2 109.3L491.0 101.5L488.3 114.1L492.9 110.4L496.9 121.2Z"/><path d="M513.2 118.1L510.5 110.0L514.9 110.0L507.5 103.9L505.2 113.1L508.7 110.5L511.4 118.6Z"/><path d="M528.8 118.4L526.0 109.9L530.6 109.9L522.8 103.5L520.4 113.3L524.1 110.5L526.9 119.0Z"/><path d="M545.2 116.4L541.0 110.0L544.8 108.9L536.9 105.4L537.1 114.0L539.6 110.9L543.8 117.3Z"/><path d="M560.9 113.3L555.9 110.2L558.2 108.3L551.7 108.3L554.5 114.2L555.3 111.3L560.2 114.4Z"/><path d="M575.9 113.7L571.4 110.3L573.8 108.6L567.5 108.1L569.7 114.0L570.7 111.2L575.1 114.7Z"/><path d="M591.4 113.2L586.8 110.3L588.9 108.5L582.8 108.5L585.4 114.0L586.1 111.3L590.7 114.3Z"/><path d="M607.0 112.1L602.0 110.4L603.6 108.2L597.8 109.6L601.6 114.2L601.6 111.5L606.6 113.2Z"/><path d="M622.2 112.9L617.5 110.3L619.5 108.5L613.6 108.8L616.4 114.0L616.9 111.3L621.6 114.0Z"/><path d="M637.8 113.7L633.0 110.2L635.4 108.4L628.9 108.0L631.3 114.2L632.2 111.3L637.0 114.7Z"/><path d="M730.5 108.8L724.7 110.7L724.8 107.5L720.4 112.7L726.9 114.5L725.1 112.0L730.9 110.1Z"/><path d="M745.9 109.3L740.2 110.6L740.4 107.6L735.9 112.3L742.0 114.4L740.5 111.9L746.1 110.6Z"/><path d="M761.1 109.8L755.7 110.6L756.2 107.8L751.5 111.8L757.1 114.3L755.8 111.8L761.3 111.0Z"/><path d="M104.7 97.9L109.9 99.0L108.5 101.4L114.1 99.4L109.9 95.2L110.2 97.9L105.0 96.7Z"/><path d="M119.0 93.6L124.9 99.6L121.0 101.5L130.1 103.7L128.2 94.5L126.2 98.3L120.4 92.3Z"/><path d="M132.4 91.6L140.2 100.1L134.8 102.5L147.2 105.9L144.9 93.2L142.1 98.4L134.3 89.9Z"/><path d="M146.4 90.2L155.5 100.4L149.1 103.2L163.8 107.4L161.3 92.3L157.8 98.4L148.7 88.2Z"/><path d="M161.6 93.0L171.4 100.2L166.3 103.8L179.8 104.8L174.9 92.1L172.9 98.0L163.2 90.8Z"/><path d="M178.2 97.1L187.2 99.6L184.6 103.6L194.5 100.5L187.5 92.8L187.7 97.6L178.8 95.2Z"/><path d="M194.9 99.4L202.8 99.2L201.6 103.0L208.9 98.2L201.4 93.7L202.7 97.4L194.9 97.6Z"/><path d="M212.0 100.0L218.1 98.9L217.7 102.0L222.7 97.3L216.3 94.8L217.8 97.5L211.7 98.7Z"/><path d="M227.2 98.5L233.3 99.1L232.1 102.0L238.2 98.8L232.7 94.7L233.4 97.7L227.3 97.2Z"/><path d="M241.1 99.2L248.9 99.2L247.7 103.0L255.1 98.3L247.7 93.6L248.9 97.5L241.1 97.5Z"/><path d="M256.4 100.4L264.5 99.1L263.9 103.2L270.7 97.2L262.3 93.6L264.2 97.3L256.2 98.6Z"/><path d="M272.4 101.0L279.9 99.0L279.7 103.0L285.7 96.5L277.3 93.9L279.5 97.3L271.9 99.3Z"/><path d="M286.0 101.1L295.5 99.2L295.0 104.1L302.8 96.6L292.6 92.7L295.1 97.1L285.6 99.0Z"/><path d="M301.1 102.0L311.1 99.1L310.9 104.5L318.6 95.8L307.5 92.5L310.5 96.9L300.5 99.8Z"/><path d="M316.8 103.2L326.6 99.0L327.1 104.4L333.9 94.5L322.0 92.7L325.7 96.8L315.9 101.0Z"/><path d="M329.5 104.4L342.5 99.2L342.9 106.3L352.1 93.7L336.7 90.9L341.3 96.3L328.4 101.5Z"/><path d="M345.0 105.7L358.0 99.1L359.2 106.5L367.5 92.4L351.3 90.9L356.6 96.2L343.6 102.8Z"/><path d="M360.9 107.8L373.7 98.8L376.0 106.5L382.7 90.2L365.2 91.2L371.7 95.9L358.9 105.0Z"/><path d="M377.4 109.0L389.1 98.5L392.3 105.9L397.1 89.0L379.8 91.9L386.8 95.9L375.1 106.4Z"/><path d="M395.8 108.3L404.1 98.2L407.7 103.8L409.5 89.3L395.6 93.9L401.9 96.3L393.6 106.5Z"/><path d="M414.7 108.0L419.1 97.7L423.4 101.5L421.5 89.1L411.1 96.2L416.9 96.7L412.4 107.0Z"/><path d="M432.8 107.4L434.2 97.4L438.8 99.7L434.2 89.4L426.9 98.0L432.0 97.1L430.6 107.1Z"/><path d="M449.6 107.0L449.4 97.3L454.2 98.7L448.1 89.6L442.5 99.0L447.2 97.3L447.5 107.0Z"/><path d="M465.2 109.3L465.1 97.0L471.1 98.9L463.6 87.3L456.4 99.0L462.3 97.0L462.4 109.3Z"/><path d="M482.1 112.0L480.7 96.5L488.5 98.3L477.8 84.5L469.9 100.0L477.3 96.8L478.7 112.3Z"/><path d="M498.4 111.9L496.0 96.4L503.9 97.7L492.3 84.5L485.4 100.6L492.5 96.9L495.0 112.4Z"/><path d="M513.2 108.2L510.9 96.9L516.8 97.6L507.9 88.2L503.3 100.3L508.4 97.4L510.7 108.7Z"/><path d="M528.8 109.0L526.4 96.8L532.8 97.5L523.2 87.4L518.1 100.4L523.7 97.3L526.1 109.5Z"/><path d="M543.8 106.6L541.5 97.0L546.6 97.5L538.7 89.8L535.1 100.2L539.4 97.6L541.7 107.2Z"/><path d="M559.1 103.5L556.5 97.4L559.9 97.1L553.9 92.9L552.6 100.2L555.2 98.0L557.7 104.1Z"/><path d="M574.2 104.2L572.1 97.4L575.8 97.4L569.6 92.2L567.5 100.0L570.5 97.8L572.7 104.7Z"/><path d="M590.6 103.4L587.2 97.3L590.8 96.7L584.0 92.9L583.4 100.6L585.9 98.0L589.2 104.2Z"/><path d="M606.5 100.6L602.2 97.5L604.4 95.9L598.5 95.5L600.7 101.1L601.5 98.5L605.8 101.6Z"/><path d="M620.2 102.4L618.0 97.6L620.7 97.3L615.8 94.0L614.9 99.9L617.0 98.1L619.1 102.9Z"/><path d="M630.2 102.5L634.0 98.3L635.4 100.8L636.5 94.6L630.4 96.3L633.1 97.5L629.3 101.6Z"/><path d="M643.8 100.6L649.3 98.7L649.4 101.7L653.4 96.6L647.1 95.2L648.9 97.5L643.4 99.4Z"/><path d="M658.8 99.4L664.6 98.9L663.9 101.8L669.1 97.9L663.4 94.9L664.5 97.6L658.7 98.1Z"/><path d="M739.1 93.9L740.5 99.0L737.8 98.9L742.2 102.9L743.9 97.2L741.7 98.7L740.2 93.6Z"/><path d="M758.4 94.0L755.5 98.5L753.8 96.4L753.8 102.3L759.2 99.8L756.5 99.1L759.4 94.6Z"/><path d="M116.8 80.2L108.0 85.1L107.0 80.0L101.7 90.0L112.9 90.5L109.1 87.0L117.9 82.1Z"/><path d="M126.4 76.0L123.4 86.3L118.9 83.2L122.2 94.8L131.3 86.8L125.7 87.0L128.7 76.6Z"/><path d="M142.2 73.6L138.5 86.5L132.7 82.6L137.0 97.1L148.2 87.1L141.3 87.3L145.0 74.4Z"/><path d="M162.4 75.0L153.6 85.7L149.8 79.7L147.8 95.1L162.6 90.2L155.9 87.7L164.8 76.9Z"/><path d="M181.4 79.3L169.2 84.8L168.5 78.0L160.2 90.5L175.0 92.5L170.4 87.5L182.6 82.0Z"/><path d="M197.3 82.6L185.0 84.4L186.1 78.1L175.5 87.1L188.2 92.8L185.4 87.1L197.7 85.3Z"/><path d="M213.5 86.1L200.8 83.9L203.9 78.1L190.6 83.5L201.2 93.3L200.3 86.7L213.0 89.0Z"/><path d="M228.5 85.8L216.2 84.0L219.0 78.3L206.3 83.9L216.9 93.0L215.8 86.7L228.1 88.5Z"/><path d="M243.5 82.7L231.2 84.4L232.4 78.1L221.7 87.0L234.4 92.8L231.6 87.1L243.9 85.4Z"/><path d="M259.2 82.6L246.6 84.3L247.7 77.9L236.8 87.1L249.8 93.0L246.9 87.1L259.6 85.4Z"/><path d="M275.1 86.2L262.4 83.9L265.5 78.1L252.2 83.5L262.8 93.2L261.9 86.7L274.6 89.0Z"/><path d="M289.5 84.7L277.7 84.2L279.9 78.5L268.4 85.1L279.2 92.6L277.6 86.8L289.4 87.3Z"/><path d="M305.4 83.4L292.9 84.3L294.4 78.0L283.1 86.3L295.5 93.0L293.1 87.0L305.6 86.1Z"/><path d="M321.3 87.6L308.8 83.7L312.7 78.3L298.6 82.1L308.1 93.2L307.9 86.5L320.4 90.4Z"/><path d="M335.0 86.7L324.2 84.1L327.3 79.3L315.5 83.2L324.1 92.1L323.7 86.5L334.4 89.1Z"/><path d="M352.4 89.1L339.8 83.6L344.5 78.3L329.2 80.6L337.9 93.4L338.5 86.4L351.2 91.9Z"/><path d="M367.8 93.2L355.7 83.1L362.6 78.9L345.2 76.5L350.5 93.3L353.5 85.8L365.5 95.9Z"/><path d="M381.1 94.4L371.5 83.3L378.5 80.4L362.8 75.6L365.2 91.9L369.1 85.4L378.6 96.5Z"/><path d="M388.0 99.6L388.5 83.9L396.1 86.7L387.2 71.6L377.3 86.1L385.0 83.8L384.5 99.5Z"/><path d="M398.6 99.2L404.3 84.6L410.5 89.8L407.2 72.5L393.1 82.9L401.1 83.3L395.4 97.9Z"/><path d="M414.7 98.9L419.6 84.6L425.8 89.3L421.9 72.7L408.7 83.4L416.5 83.5L411.5 97.8Z"/><path d="M435.0 97.4L434.3 84.0L441.0 85.9L432.3 73.6L424.9 86.7L431.4 84.2L432.0 97.6Z"/><path d="M454.1 94.1L448.9 83.9L454.7 83.0L443.6 76.4L442.5 89.2L446.6 85.0L451.9 95.3Z"/><path d="M468.2 97.2L464.9 83.7L472.0 84.3L460.7 73.5L455.8 88.3L461.9 84.5L465.2 98.0Z"/><path d="M481.2 99.3L480.8 83.8L488.4 86.1L478.7 71.7L469.9 86.6L477.4 83.9L477.8 99.4Z"/><path d="M495.3 99.6L496.4 84.0L503.8 87.0L495.5 71.6L485.1 85.7L492.9 83.7L491.8 99.4Z"/><path d="M509.5 96.6L511.5 84.5L517.1 87.4L511.7 74.7L502.5 85.0L508.8 84.0L506.8 96.2Z"/><path d="M523.4 96.5L527.0 84.7L532.2 88.3L528.5 75.0L518.1 84.0L524.4 83.9L520.8 95.7Z"/><path d="M534.9 95.0L542.6 85.4L546.0 90.7L547.6 77.0L534.6 81.4L540.5 83.7L532.8 93.3Z"/><path d="M545.7 89.3L557.7 86.6L557.1 92.9L566.9 83.2L553.9 78.5L557.1 83.9L545.1 86.6Z"/><path d="M561.3 89.8L573.2 86.5L572.8 92.8L582.1 82.6L568.9 78.6L572.4 83.9L560.6 87.2Z"/><path d="M576.6 89.5L588.5 86.6L588.0 92.9L597.6 82.9L584.5 78.5L587.9 83.9L575.9 86.8Z"/><path d="M591.5 87.8L603.8 86.8L602.3 92.9L613.3 84.7L601.1 78.3L603.5 84.1L591.3 85.1Z"/><path d="M606.7 86.9L619.1 86.9L617.1 92.9L628.7 85.5L617.0 78.2L619.0 84.2L606.7 84.2Z"/><path d="M625.4 86.7L634.1 86.5L632.8 90.7L640.9 85.4L632.6 80.4L634.0 84.6L625.4 84.7Z"/><path d="M640.8 86.5L649.5 86.5L648.1 90.7L656.3 85.5L648.1 80.4L649.5 84.6L640.8 84.6Z"/><path d="M656.2 86.4L664.8 86.5L663.4 90.7L671.7 85.6L663.5 80.3L664.9 84.6L656.2 84.5Z"/><path d="M671.6 86.6L680.3 86.5L678.9 90.7L687.1 85.5L678.8 80.4L680.2 84.6L671.6 84.7Z"/><path d="M687.0 86.6L695.7 86.5L694.3 90.7L702.5 85.4L694.2 80.4L695.6 84.6L687.0 84.7Z"/><path d="M702.4 86.3L711.0 86.5L709.5 90.7L717.9 85.7L709.8 80.3L711.1 84.6L702.4 84.4Z"/><path d="M717.8 86.5L726.5 86.5L725.1 90.7L733.3 85.5L725.0 80.4L726.5 84.6L717.8 84.6Z"/><path d="M733.2 86.6L741.9 86.5L740.5 90.7L748.7 85.5L740.4 80.4L741.9 84.6L733.2 84.6Z"/><path d="M748.6 86.6L757.3 86.5L755.9 90.7L764.1 85.5L755.8 80.4L757.3 84.6L748.6 84.7Z"/><path d="M124.5 70.7L107.7 70.9L110.3 62.7L94.5 73.0L110.5 82.8L107.7 74.6L124.5 74.4Z"/><path d="M139.4 68.7L122.8 71.2L124.3 62.7L110.1 75.0L127.3 82.6L123.4 74.9L140.0 72.3Z"/><path d="M154.7 68.2L138.2 71.3L139.4 62.7L125.5 75.4L143.0 82.5L138.9 74.9L155.4 71.9Z"/><path d="M170.5 69.8L153.8 71.0L155.9 62.7L140.7 73.8L157.3 82.7L154.0 74.7L170.8 73.5Z"/><path d="M186.0 70.4L169.2 71.0L171.6 62.7L156.1 73.3L172.4 82.8L169.4 74.7L186.2 74.1Z"/><path d="M201.5 70.7L184.7 70.9L187.2 62.7L171.5 73.0L187.6 82.8L184.7 74.6L201.5 74.4Z"/><path d="M216.9 71.2L200.1 70.9L203.0 62.7L186.9 72.5L202.6 82.8L200.1 74.6L216.9 74.9Z"/><path d="M232.3 71.2L215.5 70.9L218.4 62.7L202.3 72.5L218.0 82.8L215.5 74.6L232.3 74.9Z"/><path d="M247.7 70.7L230.9 70.9L233.5 62.7L217.7 72.9L233.7 82.8L230.9 74.6L247.7 74.4Z"/><path d="M263.1 70.7L246.3 70.9L248.9 62.7L233.1 73.0L249.1 82.8L246.3 74.6L263.1 74.4Z"/><path d="M278.5 71.2L261.7 70.9L264.6 62.7L248.5 72.4L264.2 82.8L261.7 74.6L278.5 74.9Z"/><path d="M293.9 71.0L277.1 70.9L279.9 62.7L263.9 72.6L279.7 82.8L277.1 74.6L293.9 74.8Z"/><path d="M309.3 70.8L292.5 70.9L295.1 62.7L279.3 72.9L295.3 82.8L292.5 74.6L309.3 74.5Z"/><path d="M324.7 71.1L307.9 70.9L310.8 62.7L294.7 72.5L310.5 82.8L307.9 74.6L324.7 74.8Z"/><path d="M340.1 71.1L323.3 70.9L326.2 62.7L310.1 72.5L325.9 82.8L323.3 74.6L340.1 74.9Z"/><path d="M355.6 71.7L338.8 70.8L341.9 62.8L325.5 72.0L340.9 82.8L338.6 74.5L355.4 75.4Z"/><path d="M371.0 72.5L354.3 70.7L357.9 62.9L341.0 71.2L355.7 82.8L353.9 74.4L370.6 76.2Z"/><path d="M386.4 72.1L369.7 70.8L373.0 62.8L356.4 71.5L371.4 82.8L369.4 74.5L386.1 75.8Z"/><path d="M401.8 73.0L385.2 70.7L389.0 62.9L371.9 70.7L386.2 82.8L384.7 74.4L401.3 76.6Z"/><path d="M414.9 75.8L401.2 70.7L405.9 64.9L389.9 68.2L399.8 81.2L400.1 73.7L413.7 78.8Z"/><path d="M429.1 78.8L417.2 70.5L423.1 66.0L406.8 65.4L413.2 80.4L415.3 73.2L427.3 81.5Z"/><path d="M443.1 81.0L433.0 70.5L439.7 67.3L423.9 63.4L427.2 79.4L430.7 72.8L440.8 83.2Z"/><path d="M458.6 80.8L448.4 70.5L455.0 67.2L439.1 63.5L442.7 79.5L446.1 72.8L456.3 83.1Z"/><path d="M470.1 84.2L464.6 70.7L472.1 70.2L458.8 60.7L455.9 76.8L461.6 71.9L467.1 85.4Z"/><path d="M475.4 85.3L481.2 72.0L486.8 77.0L484.3 60.8L470.8 70.0L478.3 70.7L472.4 84.0Z"/><path d="M485.2 82.0L496.7 73.1L499.2 80.1L504.8 64.8L488.6 66.4L494.8 70.5L483.3 79.5Z"/><path d="M497.2 81.0L512.4 73.6L513.5 82.2L523.4 66.2L504.7 64.1L510.7 70.3L495.6 77.6Z"/><path d="M511.6 79.2L527.6 74.0L527.6 82.6L539.6 68.1L521.3 63.5L526.5 70.4L510.5 75.6Z"/><path d="M526.1 76.7L542.8 74.4L541.2 82.8L555.6 70.7L538.4 62.9L542.2 70.7L525.6 73.0Z"/><path d="M541.2 75.0L558.0 74.6L555.5 82.8L571.1 72.4L555.0 62.7L557.9 70.9L541.1 71.2Z"/><path d="M556.5 74.7L573.3 74.6L570.7 82.8L586.5 72.6L570.5 62.7L573.3 70.9L556.5 71.0Z"/><path d="M572.0 74.8L588.7 74.6L586.2 82.8L601.9 72.6L585.9 62.7L588.7 70.9L571.9 71.1Z"/><path d="M587.3 74.7L604.1 74.6L601.5 82.8L617.3 72.7L601.4 62.7L604.1 70.9L587.3 71.0Z"/><path d="M602.7 74.7L619.5 74.6L616.9 82.8L632.7 72.7L616.8 62.7L619.5 70.9L602.7 71.0Z"/><path d="M618.1 74.7L634.9 74.6L632.3 82.8L648.1 72.7L632.2 62.7L634.9 70.9L618.1 71.0Z"/><path d="M633.5 74.5L650.3 74.6L647.6 82.8L663.5 72.8L647.7 62.7L650.3 70.9L633.5 70.8Z"/><path d="M648.9 74.6L665.7 74.6L663.0 82.8L678.9 72.8L663.0 62.7L665.7 70.9L648.9 70.9Z"/><path d="M664.3 74.7L681.1 74.6L678.5 82.8L694.3 72.7L678.4 62.7L681.1 70.9L664.3 71.0Z"/><path d="M679.7 74.7L696.5 74.6L693.9 82.8L709.7 72.7L693.8 62.7L696.5 70.9L679.7 70.9Z"/><path d="M695.1 74.6L711.9 74.6L709.2 82.8L725.1 72.8L709.3 62.7L711.9 70.9L695.1 70.8Z"/><path d="M710.5 74.7L727.3 74.6L724.7 82.8L740.5 72.7L724.6 62.7L727.3 70.9L710.5 71.0Z"/><path d="M725.9 74.7L742.7 74.6L740.1 82.8L755.9 72.7L740.0 62.7L742.7 70.9L725.9 71.0Z"/><path d="M741.3 74.7L758.1 74.6L755.5 82.8L771.3 72.7L755.4 62.7L758.1 70.9L741.3 71.0Z"/></g>
<g shape-rendering="geometricPrecision" stroke-width="0.4" stroke-linejoin="round"><path stroke="#1c2a5e" fill="#1c2a5e" d="M136.4 550.6L150 549.8L243 549.8L252 550L279 549.7L301.5 551.3L316.5 554.5L321 555L325.5 554.9L331.5 553.8L333 554.2L334.3 555.1L335.2 556.6L335.4 558.1L335 559.6L334.1 561.1L330 565.6L329.3 567.1L325.6 582.1L323.5 588.1L315 604.9L312 609.5L306 615.3L303 617.4L300 618.8L296.8 619.6L276 622.7L268.5 622.8L250.5 620.6L238.5 619.9L193.5 621.1L180 618.9L165 615.1L148.5 612.6L142.5 611L138 609.1L133.6 606.1L130.5 603.3L117.3 588.1L113.7 585.1L109.5 582.9L109.5 553.3L114 552.6L127.5 551.7L135 550.8Z"/><path stroke="#1f3f80" fill="#1f3f80" d="M127.3 549.1L138 548.1L150 547.7L205.5 547.7L214.5 548L243 547.7L252 548L279 547.6L301.5 548.7L319.5 551.1L333 550.3L337.5 551.5L340.7 553.6L343 556.6L343.9 559.6L343.5 562.6L342 565.6L337 573.1L331 592.6L321.7 612.1L319.8 615.1L317.3 618.1L310.5 623.7L304.5 626.8L301.5 627.6L297 628.1L288 628.1L274.5 629L267 629L249 626.8L240 626.1L193.5 625.8L172.5 623.4L139.5 617.6L136.2 616.6L132 614.4L128.8 612.1L125.8 609.1L122.3 604.6L114.3 592.6L111.6 589.6L109.5 588.3L109.5 582.9L113.7 585.1L117.3 588.1L129 601.7L133.6 606.1L139.5 609.8L146.3 612.1L165 615.1L180 618.9L193.5 621.1L238.5 619.9L250.5 620.6L268.5 622.8L276 622.7L296.8 619.6L300 618.8L303 617.4L306 615.3L312 609.5L315 604.9L323.5 588.1L325.6 582.1L329.3 567.1L330 565.6L334.1 561.1L335 559.6L335.4 558.1L335.2 556.6L334.3 555.1L333 554.2L331.5 553.8L325.5 554.9L321 555L316.5 554.5L301.5 551.3L279 549.7L252 550L243 549.8L150 549.8L138 550.4L127.5 551.7L114 552.6L109.5 553.3L109.5 549.7L126 549.2Z"/><path stroke="#2559a3" fill="#2559a3" d="M137.8 546.1L204 545.8L214.5 546.1L241.5 545.7L252 546.1L280.5 545.7L291 546.4L301.5 546.5L321 548.1L336 547.7L342.7 549.1L349.5 552.1L353.8 555.1L354.9 556.6L355.6 559.6L355.1 562.6L353.2 567.1L346.7 577.6L339.6 595.6L335.2 604.6L329.3 615.1L326.2 619.6L322.5 624.1L319.3 627.1L315.4 630.1L312 632.1L307.5 634.1L303 635.4L298.5 635.9L277.5 635L267 636L246 633L213 631.3L198 630L165 629.8L150 627L132 622.9L126.7 621.1L123 619.2L119.8 616.6L116.2 612.1L111 602.2L109.5 600.1L109.5 588.3L111.6 589.6L114.3 592.6L123 605.6L127.5 610.9L130.8 613.6L135 616.1L142.5 618.3L174 623.7L193.5 625.8L240 626.1L249 626.8L267 629L300 627.8L306 626.2L312.2 622.6L315.8 619.6L318.6 616.6L322.4 610.6L331 592.6L337 573.1L342 565.6L343.5 562.6L343.9 559.6L343 556.6L340.7 553.6L338.7 552.1L336 550.9L333 550.3L319.5 551.1L301.5 548.7L279 547.6L252 548L243 547.7L214.5 548L205.5 547.7L150 547.7L138 548.1L126 549.2L109.5 549.7L109.5 546.9L127.5 546.7L136.5 546.2Z"/><path stroke="#3f80c0" fill="#3f80c0" d="M109.5 544.6L115.5 544.1L129 544.3L142.5 543.9L183 543.7L192 544L202.5 543.6L211.5 544L229.5 544L241.5 543.5L252 544L261 543.6L270 543.9L280.5 543.4L291 544.2L306 544.5L325.5 545.4L339 544.7L345 545.3L357 547.8L367.5 549.2L370.9 550.6L371.9 552.1L372 553.6L370.9 556.6L367.5 562.4L363 573.3L353.3 594.1L339.8 616.6L334.4 624.1L325.5 633.9L322.5 636.3L318 639.1L310.5 642.7L306 644.2L301.5 645L295.5 645.1L277.5 643.1L267 643.6L262.5 643.5L249 641.1L235.5 639.9L225 638.3L217.5 638.3L211.5 637.7L195 634.4L181.5 636.4L175.5 637L156 636.2L147 634.8L136.5 632.2L123 631.5L115.5 630.3L109.5 627.8L109.5 600.1L111 602.2L114.5 609.1L117.2 613.6L120 616.8L124.5 620.1L129 622L133.5 623.3L162 629.3L166.5 629.9L175.5 630L196.5 629.9L214.5 631.4L241.5 632.7L249 633.3L261 635.4L267 636L276 635L295.5 636L303 635.4L307.5 634.1L312 632.1L315.4 630.1L319.3 627.1L322.5 624.1L326.2 619.6L331.9 610.6L339.6 595.6L346.7 577.6L353.2 567.1L355.1 562.6L355.6 559.6L354.9 556.6L353.8 555.1L349.5 552.1L342.7 549.1L336 547.7L321 548.1L301.5 546.5L291 546.4L280.5 545.7L252 546.1L243 545.7L214.5 546.1L204 545.8L148.5 545.9L127.5 546.7L109.5 546.9L109.5 546.1ZM564.9 697.6L570 697L586.5 696.9L591 697.6L595.5 699.3L597.7 700.6L599.2 702.1L600.2 703.6L600.4 706.6L600 708.1L598 711.1L596.3 712.6L594 713.7L570 715.7L565.5 715.2L562.3 714.1L560.1 712.6L557.5 709.6L556.9 708.1L556.9 705.1L558.2 702.1L559.4 700.6L561.4 699.1L564 697.9Z"/><path stroke="#62a6da" fill="#62a6da" d="M109.5 543.1L313 543.1L327 543.8L334.1 543.1L347.7 543.1L358.5 545.5L363 545.5L369 544.6L372 545L375 546.4L377.7 549.1L378.6 550.6L379.1 553.6L378.9 555.1L377.6 558.1L372.1 567.1L365.2 583.6L358.5 597.6L345.3 619.6L338.8 628.6L329.4 639.1L325.5 642.1L321 644.6L313.5 648.3L309 649.8L303 650.7L297 650.8L277.5 648.6L259.5 648L229.5 644.6L211.5 642.1L195 638.5L177 641.1L165 641.9L138 639.1L129 637.7L114 636.9L109.5 636L109.5 627.8L114 629.8L118.5 630.9L136.5 632.2L147 634.8L156 636.2L175.5 637L181.5 636.4L195 634.4L211.5 637.7L217.5 638.3L225 638.3L235.5 639.9L249 641.1L262.5 643.5L267 643.6L277.5 643.1L297 645.1L303 644.8L307.5 643.7L318 639.1L324 635.2L327 632.4L333.2 625.6L338.9 618.1L351.6 597.1L354.9 591.1L363.1 573.1L367.5 562.4L371.6 555.1L372 553.6L371.9 552.1L370.5 550.3L367.1 549.1L357 547.8L346.5 545.5L340.5 544.8L325.5 545.4L306 544.5L291 544.2L280.5 543.4L270 543.9L261 543.6L252 544L241.5 543.5L231 544L213 544.1L204 543.7L192 544L183 543.7L142.5 543.9L129 544.3L117 544.1L109.5 544.4ZM558.1 690.1L562.5 689.3L565.5 689.2L589.5 690.6L597 691.8L600 692.8L603 694.5L605.9 697.6L607.4 700.6L608.2 705.1L607.9 708.1L606.6 711.1L603.9 714.1L600 716.6L595.5 718.6L586.5 719L568.5 721.4L562.5 721.7L537.9 717.1L534.1 715.6L531.9 714.1L529.7 711.1L528.9 708.1L528.7 705.1L529.5 702.1L530.3 700.6L533.1 697.6L535.5 695.9L538.5 694.7L558 690.1ZM565.5 697.4L562.5 698.5L559.4 700.6L558.2 702.1L556.9 705.1L556.9 708.1L557.5 709.6L560.1 712.6L562.3 714.1L565.5 715.2L570 715.7L594 713.7L596.3 712.6L598 711.1L600 708.1L600.4 706.6L600.5 705.1L600 703.3L598.5 701.3L597 700.1L591 697.6L586.5 696.9L567 697.2Z"/><path stroke="#86c4ec" fill="#86c4ec" d="M313 543.1L334.1 543.1L327 543.8L313.5 543.1ZM347.7 543.1L378.4 543.1L383.1 547.6L385.5 550.6L385.9 552.1L385.8 555.1L384.6 558.1L378.2 568.6L370.4 588.1L361.5 606.1L348 628.9L336.9 643.6L334.2 646.6L330 649.4L316.5 656L313.5 657L310.5 657.4L297 657.2L282 655.4L241.5 651.9L225 651.7L210 647.6L201 645.9L187.5 645.1L165 647.5L147 645.1L136.5 644.5L126 643L109.5 641.6L109.5 636L114 636.9L129 637.7L138 639.1L165 641.9L177 641.1L195 638.5L214.5 642.6L261 648.1L277.5 648.6L298.5 650.8L307.5 650.1L313.5 648.3L322.9 643.6L328.5 639.9L333 635.4L342.3 624.1L352.7 607.6L358.8 597.1L365.2 583.6L372.1 567.1L377.6 558.1L378.9 555.1L379 552.1L377.7 549.1L375 546.4L372 545L369 544.6L363 545.5L358.5 545.5L348 543.2ZM561.7 684.1L567 684L597 685.3L606 687.2L609.4 688.6L611.2 690.1L617.3 699.1L618.4 703.6L618.4 708.1L617.7 712.6L616.5 715.8L613.8 720.1L613.6 721.6L615 722.5L616.5 724.2L616.9 726.1L615 733.2L613.5 736.1L612 736.1L611.3 735.1L610.4 732.1L609.8 726.1L609.1 724.6L607.5 724.2L604.5 724.2L595.5 725.1L588 724.9L577.5 725.6L570 726.5L562.5 726.4L555 727L546 726.8L516 728.3L489 732.5L478.5 735.6L468 737.8L459 741.4L448.5 748.8L435 756.2L411 764.2L403.5 766.1L397.5 767L391.4 766.6L388.5 765.5L385.8 763.6L384 761.5L382.7 759.1L381.8 756.1L381.6 753.1L382.2 750.1L383.3 748.6L390 744.8L399 738.9L405 736.5L418.5 729.9L423 728.6L429 727.6L441 723.8L441.9 723.1L442.3 721.6L442.4 718.6L443.1 717.1L444 716.3L445.5 715.5L458.2 711.1L472.5 706.5L480 705.3L487.5 702.1L496.5 700L502.5 697.6L511.5 695.9L517.5 693.1L526.5 691.3L534 688.1L543 687.1L561 684.2ZM559.5 689.8L538.5 694.7L535.5 695.9L533.1 697.6L530.3 700.6L529.5 702.1L528.7 705.1L528.9 708.1L529.7 711.1L531.9 714.1L534.1 715.6L537.9 717.1L562.5 721.7L568.5 721.4L586.5 719L595.5 718.6L600 716.6L603.9 714.1L606.6 711.1L607.9 708.1L608.2 705.1L607.4 700.6L605.9 697.6L603.1 694.6L598.5 692.2L591 690.7L565.5 689.2L561 689.5ZM188.2 756.1L199.5 755.3L204 755.5L207 756.4L208.9 757.6L210.3 759.1L211 760.6L211.3 762.1L210.8 765.1L209.2 768.1L208 769.6L200.5 775.6L196.5 777.5L193.5 778.2L184.5 778.4L178.5 779.2L174 778.8L170.4 777.1L166.5 774.1L165 772.5L163.5 769.6L163.4 766.6L164.1 765.1L165.2 763.6L168 761.4L172.5 759.6L183 757.7L187.5 756.2Z"/><path stroke="#aadcf6" fill="#aadcf6" d="M378.4 543.1L381.3 543.1L387 548.6L388.3 550.6L388.6 552.1L388.5 555.1L386.6 559.6L381.2 568.6L372.9 589.6L363.1 609.1L350.8 630.1L337.5 648.3L334.5 651L331.5 652.9L318 659.1L315 659.9L310.5 660.4L300 660.1L253.5 655.3L241.5 654.5L225 654.3L220.5 653.4L206.9 649.6L199.5 648.3L186 647.6L163.5 649L109.5 643.1L109.5 641.6L117 642.2L127.5 643.1L136.5 644.5L147 645.1L165 647.5L184.5 645.3L190.5 645.2L201 645.9L205.4 646.6L225 651.7L241.5 651.9L282 655.4L298.5 657.3L309 657.4L315 656.6L330 649.4L334.5 646.3L348 628.9L359.9 609.1L370.4 588.1L378.2 568.6L384.6 558.1L385.8 555.1L385.9 552.1L385.5 550.6L383.1 547.6L379.5 544.2ZM763.3 669.1L766.6 667.6L766.6 702.4L762 700.4L758.4 697.6L755.5 693.1L753.4 687.1L753.3 682.6L754.7 678.1L757.5 673.4L759 671.8L762 669.8ZM557.3 682.6L565.5 682L597 683L605.4 684.1L609 684.9L612 686.4L613.5 687.6L619.3 694.6L620.8 697.6L621.9 702.1L622.2 708.1L621.3 718.6L621.7 727.6L619.8 736.6L617.9 741.1L616.2 742.6L613.5 743.4L610.5 742.6L609 741.4L604.5 735.1L601.5 731.9L598.7 730.6L595.5 730L588 729.5L564 729.1L555 730L544.5 729.9L517.5 731.6L490.5 735.6L466.5 741.9L459 745.2L450 752.2L438 759.9L400.5 773.3L396 774.1L390 774L385.3 772.6L382.8 771.1L381.3 769.6L379.3 766.6L377.2 760.6L375 750.1L374.9 747.1L375.3 745.6L376.5 743.6L378 742.7L384 742L388.5 740.3L391.2 738.1L394.5 734.6L396 733.7L405 730.8L417 723.6L427.5 719.6L439.2 712.6L444 710.5L471 703.3L481.5 701.3L487.5 699L496.5 697L502.9 694.6L511.5 692.9L518.8 690.1L526.5 689L534 686L543 685L556.5 682.7ZM562.5 684L543 687.1L534 688.1L526.5 691.3L519 692.6L511.5 695.9L504 697.2L496.5 700L489 701.6L481.5 704.8L472.1 706.6L445.2 715.6L443.1 717.1L442.4 718.6L442.3 721.6L441.9 723.1L441 723.8L429 727.6L421.5 729L417 730.5L406.5 735.8L397.6 739.6L390 744.8L383.3 748.6L382.2 750.1L381.7 751.6L381.6 754.6L382.5 758.7L384 761.5L385.8 763.6L388.5 765.5L391.5 766.6L396 767.1L402 766.4L409.5 764.6L435 756.2L448.5 748.8L459 741.4L468 737.8L478.5 735.6L489 732.5L516 728.3L546 726.8L555 727L562.5 726.4L570 726.5L577.5 725.6L588 724.9L595.5 725.1L604.5 724.2L607.5 724.2L609.1 724.6L609.8 726.1L610.4 732.1L611.3 735.1L612 736.1L613.5 736.1L615 733.2L616.9 726.1L616.5 724.2L615 722.5L613.6 721.6L613.8 720.1L616.5 715.8L617.7 712.6L618.4 708.1L618.4 703.6L617.3 699.1L611.2 690.1L609.4 688.6L606 687.2L597 685.3L564 684ZM187.7 751.6L204 751.3L210 752.1L212.8 753.1L215.2 754.6L216.6 756.1L218 759.1L218.1 762.1L216.8 766.6L214.4 771.1L211.5 774.5L207.9 777.1L201 780.7L196.5 782.5L192 783.4L175.5 784.2L171 783.6L168 782.6L163.6 780.1L160.2 777.1L156.6 772.6L155.6 769.6L155.9 766.6L157.2 763.6L159.7 760.6L163.5 757.9L168 756.2L180 753.7L187.5 751.6ZM189 755.9L183 757.7L174 759.2L169.5 760.7L166.9 762.1L165.2 763.6L164.1 765.1L163.2 768.1L164.1 771.1L166.5 774.1L170.4 777.1L173.5 778.6L178.5 779.2L184.5 778.4L192 778.4L196.5 777.5L199.5 776.2L206.3 771.1L208.5 769L210.2 766.6L211.2 763.6L211.3 762.1L211 760.6L210 758.7L208.5 757.3L205.5 755.9L201 755.2L190.5 755.8Z"/><path stroke="#c6e8f8" fill="#c6e8f8" d="M381.3 543.1L384.3 543.1L389.5 547.6L391.1 550.6L391.2 555.1L389.6 559.6L383.7 570.1L377.5 586.6L374.3 594.1L365 612.1L354.5 630.1L342 648.2L339 651.9L334.5 655.8L330 658.5L324 661L319.5 662.4L315 663.2L310.5 663.6L304.5 663.5L267 659.7L250.5 657.2L232.5 657.2L223.5 656.6L217.5 655.5L202.5 651.4L196.5 650.5L189 650L172.5 650.6L156 650.2L138 647.6L121.5 646.5L109.5 644.5L109.5 643.1L111 643.2L163.5 649L168 649L184.5 647.7L190.5 647.7L204 649L220.5 653.4L225 654.3L241.5 654.5L253.5 655.3L271.5 657.3L304.5 660.4L312 660.4L318 659.1L331.5 652.9L334.5 651L337.5 648.3L350.8 630.1L362.3 610.6L372.9 589.6L381.2 568.6L386.6 559.6L388 556.6L388.7 553.6L388.3 550.6L386.1 547.6L382.5 544.4ZM765.6 655.6L766.6 655.3L766.6 667.6L760.6 670.6L757.5 673.4L754 679.6L753.2 684.1L753.4 687.1L754.2 690.1L757.5 696.5L760.5 699.5L766.6 702.4L766.6 721.8L759 720.2L753 718.2L748.9 715.6L744.8 711.1L742.5 706.9L741.7 703.6L740 684.1L740.3 679.6L741.1 676.6L744.3 669.1L746.9 664.6L748.6 663.1L757.5 659.8L765 655.8ZM553.6 681.1L559.5 680.2L567 679.9L594 680.5L607.5 681.5L612 682.7L614.6 684.1L618 687.1L619.5 687.9L622.5 688.5L624 689.4L624.8 691.6L626 706.6L626 712.6L625.2 721.6L625.3 729.1L623.7 739.6L622.9 742.6L620.9 745.6L618.6 747.1L616.5 747.8L612 747.8L609 746.6L606 744.3L601.5 739.1L598.5 737.6L595.5 737.1L589.5 737.2L583.5 735.9L576 734.9L568.5 733.1L562.5 732.9L553.5 733.6L543 732.9L534 733.9L519 734.4L492 738.2L465 745.3L462 746.5L459 748.5L451.5 755.2L444 761.2L439.5 764.2L435 766.1L423.8 769.6L400.5 779.3L394.5 780.3L388.5 779.9L382.5 778.4L379.8 777.1L377.8 775.6L375.7 772.6L374.5 769.6L372.3 757.6L370.2 748.6L370.5 744.1L372 741.3L373.9 739.6L376.5 738.7L382.5 739L385.5 738.2L387.8 736.6L392.4 730.6L394.5 729.1L402 727.1L417 717.7L442.5 707.2L455.5 703.6L481.5 698.3L489 695.8L496.5 694.3L504 691.7L511.5 690.3L517.5 688L526.5 686.6L532.5 684.3L553.5 681.1ZM558 682.5L543 685L534 686L526.5 689L518.8 690.1L511.5 692.9L502.9 694.6L496.5 697L487.5 699L481.5 701.3L471 703.3L444 710.5L439.2 712.6L427.5 719.6L417 723.6L405 730.8L396 733.7L394.5 734.6L390 739.2L387 741.1L384 742L378 742.7L376.5 743.6L375.3 745.6L374.9 748.6L377.2 760.6L379.5 766.9L382.5 770.8L385.5 772.7L390 774L396 774.1L403.5 772.3L438 759.9L450 752.2L459 745.2L463.5 743L469.5 741L478.5 739L489 735.9L499.5 734.1L519 731.4L543 730L555 730L564 729.1L591 729.7L598.5 730.6L601.5 731.9L604.5 735.1L608.7 741.1L610.5 742.6L613.5 743.4L616.5 742.5L618 741L619.4 738.1L621.5 729.1L621.8 726.1L621.3 718.6L622.1 711.1L622.1 705.1L621.6 700.6L620.2 696.1L613.5 687.6L612 686.4L609 684.9L605.4 684.1L597 683L567 682L559.5 682.3ZM182.1 747.1L186 746L190.5 745.7L201 746.8L211.5 747.1L216 747.8L219 748.8L222 750.9L225.1 754.6L226.5 757.6L226.8 760.6L225.9 763.6L222 770.4L218.8 777.1L216.5 780.1L213 782.3L203.1 786.1L192 791L189 791.8L186 792L175.5 791.2L166.5 791.2L162 790.2L159 788.1L154.1 781.6L149.7 777.1L148.5 775.5L147.4 772.6L147.3 771.1L147.9 768.1L150 763.6L153.6 759.1L157 756.1L163.5 752.3L172.5 750.4L181.5 747.3ZM189 751.4L168 756.2L164 757.6L161.5 759.1L159 761.3L157.2 763.6L155.9 766.6L155.6 769.6L156.6 772.6L159 775.8L163.5 780L166.5 781.9L171 783.6L174 784.1L178.5 784.2L193.5 783.2L198 782L202.5 780L207.9 777.1L211.9 774.1L214.5 770.9L217.4 765.1L218.2 760.6L217.5 757.6L215.2 754.6L213 753.2L210 752.1L205.5 751.4L190.5 751.4Z"/><path stroke="#dff1fb" fill="#dff1fb" d="M384.3 543.1L388.8 543.1L392.3 546.1L394.1 549.1L394.4 553.6L393.5 558.1L386.7 571.6L377.8 595.6L368.1 613.6L357.6 631.6L344.5 651.1L340.5 656L336 660.3L333 662.5L328.5 664.7L324 665.9L319.5 666.5L309 667.1L304.5 667L294 665.4L264 662.6L250.5 659.5L234 660.3L219 658.6L213 657.4L199.5 653.5L195 652.6L175.5 652.9L165 651.9L154.5 652.2L147 651.3L138 649.1L127.5 649.1L121.5 648.6L109.5 645.9L109.5 644.5L121.5 646.5L138 647.6L150 649.6L157.5 650.3L174 650.6L189 650L196.5 650.5L202.5 651.4L217.5 655.5L223.5 656.6L232.5 657.2L250.5 657.2L267 659.7L304.5 663.5L310.5 663.6L315 663.2L319.5 662.4L324 661L328.5 659.2L333 656.8L337.5 653.3L340.5 650.1L353.5 631.6L366.6 609.1L375.7 591.1L383.7 570.1L389.6 559.6L390.8 556.6L391.4 552.1L390.5 549.1L388.5 546.6L385.5 544.2ZM765.7 651.1L766.6 650.9L766.6 655.3L765 655.8L757.5 659.8L750 662.4L748.5 663.2L746.9 664.6L745 667.6L741.7 675.1L740.3 679.6L740 682.6L741.7 703.6L742.4 706.6L743.8 709.6L747.3 714.1L751.5 717.5L758.6 720.1L766.6 721.8L766.6 728.7L756 727.1L748.5 724.9L742.5 721.6L737.6 717.1L734.5 712.6L732.4 706.6L731.7 700.6L731.1 687.1L731.4 681.1L732.8 676.6L737.6 667.6L741.7 661.6L744 659.5L747 657.6L754.5 655.4L762 652.1L765 651.2ZM556.2 678.1L568.5 677.4L576 677.9L607.5 678.2L612 679L619.5 681.3L625.5 682.1L628.5 683.3L630 684.5L631.5 687.1L631.8 690.1L630.4 699.1L630.9 712.6L629 742.6L628.4 745.6L627 748.6L624 750.9L621 751.9L616.5 752.2L609 750.9L604.5 749.2L600 745.3L597 743.5L594 742.7L586.5 741.8L567 736.9L562.5 736.5L552 737.2L546 735.8L543 735.6L534 737L520.5 737.2L493.5 740.8L465 748.1L460.5 750.6L445.5 765.2L439.5 769.8L436.5 771.1L423 775.5L405 783.4L400.5 784.9L393 785.8L388.5 785.6L384 784.9L379.5 783.4L376.5 781.9L372.5 778.6L370.6 775.6L369.7 772.6L368.7 759.1L366.4 747.1L366.6 744.1L367.7 741.1L370.2 738.1L372 736.9L375 736L381 736.7L384 735.8L386.6 733.6L390 728.9L393 726L402 722.1L415.5 714.1L439.5 704.7L451.5 700.9L483 694.7L489 692.8L496.5 691.3L502.5 689.1L511.5 687.4L517.5 685.1L525.6 684.1L532.5 681.9L549 679.7L555 678.3ZM555 680.8L532.5 684.3L526.5 686.6L517.5 688L511.5 690.3L504 691.7L496.5 694.3L489 695.8L481.5 698.3L455.5 703.6L442.5 707.2L417 717.7L402 727.1L394.5 729.1L392.4 730.6L387.8 736.6L385.5 738.2L382.5 739L376.5 738.7L373.9 739.6L372 741.3L370.5 744.1L370.2 748.6L372.3 757.6L374.5 769.6L375.7 772.6L377.8 775.6L379.8 777.1L382.5 778.4L388.5 779.9L394.5 780.3L400.5 779.3L423.8 769.6L435 766.1L439.5 764.2L444 761.2L451.5 755.2L459 748.5L462 746.5L465 745.3L492 738.2L519 734.4L534 733.9L543 732.9L553.5 733.6L562.5 732.9L568.5 733.1L576 734.9L583.5 735.9L589.5 737.2L595.5 737.1L598.5 737.6L601.5 739.1L606 744.3L609 746.6L612 747.8L616.5 747.8L618.6 747.1L620.9 745.6L622.9 742.6L623.7 739.6L625.3 729.1L625.2 721.6L626 712.6L626 706.6L624.8 691.6L624 689.4L622.5 688.5L619.5 687.9L618 687.1L614.6 684.1L612 682.7L607.5 681.5L594 680.5L568.5 680L561 680.1L556.5 680.5ZM188.3 741.1L196.5 740.7L205.5 741.7L219 742.3L223.5 743.4L226.5 745.9L234.2 754.6L235.3 757.6L235.5 760.6L234.5 765.1L233 768.1L223.9 781.6L220.5 785.5L216 788.5L205.5 793.1L195 798.7L192 799.9L187.5 800.9L166.5 802L160.5 800.9L154.5 798.3L150 795L145.5 789.2L141.6 781.6L140.7 778.6L140.3 775.6L141.1 769.6L143.3 763.6L146.4 759.1L151.7 754.6L160.5 748.6L165 746.4L187.5 741.2ZM183 746.8L173.6 750.1L163.5 752.3L157.5 755.7L153.6 759.1L150 763.6L147.9 768.1L147.3 771.1L147.4 772.6L148.5 775.5L149.7 777.1L154.1 781.6L159 788.1L162 790.2L165 791L168 791.3L175.5 791.2L186 792L190.5 791.5L213 782.3L216.5 780.1L218.8 777.1L222 770.4L225.9 763.6L226.8 760.6L226.8 759.1L225.9 756.1L223.5 752.4L220.5 749.7L217.5 748.2L211.5 747.1L201 746.8L192 745.8L187.5 745.8L184.5 746.4ZM721.3 766.6L729 765.4L738 765.9L756 769.7L766.6 773.6L766.6 814L756 818.3L748.5 819.8L735 821.6L729 821.9L723 821.3L717 819.3L711 816.1L705 811.6L702 808.1L698.4 801.1L697 795.1L697.4 789.1L699 784.1L702 778.6L706.1 774.1L712.5 770L720 767Z"/><path stroke="#f6fbff" fill="#f6fbff" d="M388.8 543.1L396.2 543.1L398.2 546.1L398.6 547.6L398.4 553.6L397.1 559.6L393.3 567.1L391.5 571.6L384.7 592.6L381.2 601.6L379.7 604.6L376.5 608.9L370.5 618.7L361.1 634.6L347 655.6L337.5 666.4L334.5 669L331.5 670.6L325.5 671.7L315 671.3L304.5 671.9L301.5 671.5L294 669.4L283.5 669L274.5 667.4L262.5 666.9L258 665.6L252.4 663.1L250.5 662.6L247.5 662.6L237 664.1L231 664L225 662.5L217.5 661.7L207 659.4L202.5 658.2L195 655.5L174 655.4L165 653.8L159 654.5L153 654.4L144 653.1L138.3 651.1L136.5 650.8L129 651.3L118.5 650.4L109.5 647.7L109.5 645.9L121.5 648.6L127.5 649.1L138 649.1L147 651.3L154.5 652.2L165 651.9L175.5 652.9L195 652.6L199.5 653.5L213 657.4L219 658.6L234 660.3L250.5 659.5L264 662.6L294 665.4L304.5 667L309 667.1L319.5 666.5L324 665.9L328.5 664.7L333 662.5L336 660.3L340.5 656L344.5 651.1L357.6 631.6L375.6 600.1L379.7 591.1L386.7 571.6L392.1 561.1L393.9 556.6L394.5 552.1L394.1 549.1L392.3 546.1L390 544.1ZM766.4 646.6L766.6 650.9L762 652.1L754.5 655.4L747 657.6L744 659.5L741.7 661.6L738.5 666.1L733.4 675.1L731.8 679.6L731.1 685.6L732.1 705.1L733.8 711.1L736.4 715.6L741 720.4L744 722.6L747.9 724.6L756 727.1L766.6 728.7L766.6 736.4L754.5 735L742.5 732.6L736.5 729.8L728.9 723.1L725.3 718.6L722.2 712.6L721.2 708.1L720.3 694.6L719.6 690.1L718.5 687.4L714 681.1L713.2 678.1L713.9 675.1L715.5 673.1L717 672.1L723 670L730.5 663.1L733.9 658.6L742.5 652.8L747 651L753 650.4L759.7 648.1L765 646.8ZM553.3 675.1L556.5 674.2L562.5 674.3L568.5 673.6L576 674.3L582 673.9L588 674.3L594 673.6L600 674.4L607.5 674.3L629.3 678.1L633 679.8L636.2 682.6L638 685.6L638.7 690.1L637.1 697.6L638 712.6L635.7 750.1L634.5 753.1L633.2 754.6L631.5 755.6L627 756.7L624.8 757.6L622.8 759.1L621.7 760.6L621.6 762.1L625 768.1L624.9 769.6L624 771L621 772.7L618 773.1L615.6 772.6L613.5 771.4L612.1 769.6L611.7 768.1L611.7 766.6L612.4 765.1L615.9 762.1L616.8 760.6L616.6 759.1L615.5 757.6L613.4 756.1L609 754.9L601.5 755.3L599.9 754.6L595.5 750.1L592.5 748.2L585 746.4L567 740.9L562.5 740.2L553.5 740.3L544.5 738L541.5 738.4L535.5 740L522 740.3L493.5 744.2L484.5 746.9L465 751.4L462 753.3L445.5 771.3L441 775.3L436.5 777.4L428.5 780.1L417.6 784.6L406.5 789.8L402 791.2L397.5 791.9L390 792.3L382.5 791.7L378 790.2L372 787.3L369 785.4L366.8 783.1L365.1 780.1L364 775.6L364 772.6L365.2 762.1L364.9 756.1L363.2 745.6L364 741.1L367 736.6L370.5 733.8L373.5 732.8L376.5 733.1L379.5 733.9L381 733.8L382.5 733L385.6 729.1L387.6 724.6L390 722.4L405 715.3L414 710.3L423 706.4L430.5 704.1L436.5 701.2L442.5 699.4L448.5 696.9L456 695.9L462 694.1L469.5 693.2L475.5 691.7L483 690.5L489 688.5L496.5 687.1L502.5 684.8L510 683.7L514.5 681.7L517.5 680.9L523.5 680.4L531 678.6L537 678.3L543 677L549 676.5L552 675.5ZM556.5 678L549.4 679.6L532.5 681.9L525.6 684.1L517.5 685.1L511.5 687.4L502.5 689.1L496.5 691.3L489 692.8L483 694.7L451.5 700.9L439.5 704.7L415.5 714.1L402 722.1L393 726L390 728.9L386.6 733.6L384 735.8L381 736.7L375 736L372.6 736.6L370.5 737.8L368.7 739.6L367.5 741.5L366.6 744.1L366.4 747.1L368.7 759.1L369.7 772.6L371.4 777.1L373.5 779.7L376.1 781.6L382.5 784.5L390 785.8L397.5 785.5L403.5 784L423 775.5L436.5 771.1L439.5 769.8L445.5 765.2L459.4 751.6L463.5 748.7L468 747.2L483 743.7L493.5 740.8L520.5 737.2L534 737L543 735.6L546 735.8L552 737.2L564.8 736.6L568.5 737.2L576 739.3L586.5 741.8L594 742.7L597 743.5L600 745.3L604.5 749.2L606.4 750.1L610.5 751.3L616.5 752.2L619.5 752.2L622.5 751.5L625.4 750.1L627 748.6L628.5 745.4L629.9 730.6L630.9 711.1L630.4 699.1L631.8 688.6L631.5 687.1L630 684.5L628.5 683.3L625.5 682.1L619.5 681.3L612 679L607.5 678.2L576 677.9L568.5 677.4L558 677.8ZM196.4 736.6L204 736.2L217.5 737.4L225 738.7L227.6 739.6L229.8 741.1L234 745.2L238.5 748.7L240 750.8L241 753.1L242 757.6L242.3 762.1L241.5 769.2L240.7 772.6L238.5 776.7L232.5 783L227.9 789.1L223.5 793.4L219 796.5L210 801.1L199.5 807.9L195 810L190.5 811.3L180 813.1L168 815.8L165 815.8L160.9 814.6L151.8 810.1L144 807.4L141 805.7L139.5 804.3L137.7 801.1L132.5 784.6L129.5 777.1L129 774.1L129.2 772.6L129.9 771.1L133.7 766.6L136.1 760.6L138.8 757.6L143 754.6L158.2 745.6L164.6 742.6L171 740.6L187.5 737.5L195 736.7ZM189 741L166.5 745.9L162 747.8L157.5 750.5L149.6 756.1L145.1 760.6L143.3 763.6L142 766.6L140.7 771.1L140.3 774.1L140.4 777.1L141.1 780.1L144.5 787.6L148.7 793.6L151.5 796.3L154.1 798.1L159 800.4L165 801.9L169.5 802L186 801.1L190.5 800.3L195 798.7L205.5 793.1L216 788.5L219.7 786.1L223.5 782.1L233 768.1L234.5 765.1L235.5 760.6L235.3 757.6L234.2 754.6L226.5 745.9L223.5 743.4L220.9 742.6L217.5 742.2L205.5 741.7L195 740.6L190.5 740.8ZM716.8 753.1L721.5 751.8L726 751.7L735 753.1L747 754.2L759 755.8L766.6 755.9L766.6 773.6L760.3 771.1L754.5 769.3L741 766.5L733.5 765.4L727.5 765.5L721.5 766.6L716.8 768.1L711 770.8L706.1 774.1L702 778.6L699.4 783.1L697.5 788.7L697 793.6L697.5 798.1L699 802.6L702 808.1L706.5 813L712.5 817L720 820.5L726 821.8L735 821.6L751.5 819.3L758.1 817.6L766.6 814L766.6 828L739.5 830.2L726 832L721.5 832L717 830.9L706.5 826.3L697.5 823.1L694.5 821.6L691.5 819.1L689.7 816.1L686.8 807.1L683 798.1L682.1 793.6L682.5 789.1L685.9 778.6L688.1 768.1L690 764.4L693 761.9L696 760.6L706.5 757.4L715.5 753.6Z"/><path stroke="#fffcf5" fill="#fffcf5" d="M414 543.1L419 543.1L417 545.9L416.3 547.6L415.9 555.1L415 558.1L399.8 595.6L394.5 607.1L390 616.2L384.7 624.1L379.5 634.1L369.6 649.6L358.8 661.6L347.8 675.1L343.5 682.2L342 684L339 686.2L331.5 689.5L325.5 693L322.5 693.7L315 694.2L313.5 694.9L309 697.9L306 698.5L303 698L298.5 696.3L294 697.3L291 697.4L283.5 696.1L274.5 695L272.9 694.6L270.2 693.1L264 687.7L259.5 684.8L249.4 681.1L243 677.5L238.5 675.7L234 675.1L226.5 675.2L223.5 674.8L210 669.4L204 668.3L193.5 667.8L186 665.2L181.5 664.1L174 663.5L165 664L150 661L144 660.5L136.5 660.6L123 657.5L117 656.8L109.5 656.7L109.5 655.1L117 654.8L124.5 655.5L130.5 656.7L136.5 658.9L145.5 658.4L151.5 658.9L157.5 659.9L165 662.1L174 661L181.5 661.4L187.5 662.8L195 666.2L204 665.7L211.5 667L216 668.6L222.2 672.1L225 673.2L234 672.3L240 672.7L244.5 674.6L250.5 678.6L259.5 680.8L263.7 682.6L267 684.8L274.5 691.6L276 691.9L291 692L294 687.8L295.5 686.9L297 686.7L300 687.6L304.5 691.9L306 692.1L313.5 689L316.5 688.6L322.5 688.8L324 688.4L330 684.7L337.5 681.7L340.1 679.6L343.5 674L348 669.6L366.8 648.1L372.2 639.1L377.3 631.6L382.1 622.6L388.5 613.6L394.7 600.1L397.5 595L405.1 576.1L407.1 570.1L409.5 565.1L412.9 556.6L413.4 553.6L413 547.6L413.6 544.6ZM763.9 636.1L766.6 635.6L766.6 637.5L759 640.3L756 640.9L748.5 641.5L742.5 644.2L736.5 645.4L730.5 648.3L724.5 649.5L717 655L708 659.4L703.2 663.1L699 668.2L693 674.3L691.2 676.6L680.6 699.1L677.8 708.1L676.5 710.6L673.7 714.1L674.3 715.6L677.5 720.1L678.5 723.1L678.5 727.6L677.4 730.6L675.5 733.6L673.5 735.8L670.5 738L667.5 738.9L664.5 738.3L663 737.1L661.5 735.1L660.5 732.1L660.2 727.6L661.2 723.1L663 719.8L666 716.4L669.2 714.1L666 711.6L664.5 709.6L663.2 706.6L661.4 699.1L655.8 688.6L652.7 684.1L651 682.6L634.5 672.1L631.5 671.1L621 669.9L615 668.4L609.2 666.1L604.5 662.3L601.5 660.9L598.5 660.6L586.5 661.6L582 662.4L576 662.5L568.5 663.5L562.5 663.7L556.5 665.1L549 665.7L543 667.3L536 667.6L529.5 669L523.5 669.5L516 671.8L508.5 673.2L502.5 675.2L495 676.5L489 678.6L483 679.4L475.5 681.5L469.5 682.2L463.5 683.8L456 684.9L442.5 688.2L436.5 691.2L430.5 693.4L424.5 696.3L417 698.8L411 701.6L405 703.7L393 708.8L385.5 713.4L375.1 718.6L362.3 726.1L360.4 727.6L361.1 732.1L357.5 744.1L357.5 745.6L359.6 751.6L359.6 756.1L355.9 763.6L352.2 777.1L350.2 787.6L348.8 790.6L346.8 793.6L339.9 801.1L333.9 808.6L330.3 811.6L327 812.8L318 813.8L307.5 815.8L303 815.7L298.5 814L289.5 808.4L278.4 802.6L276.6 801.1L277 796.6L276.2 795.1L271.5 792.4L270.3 790.6L271.2 786.1L269.6 784.6L264 780.9L259.5 777.1L257.8 775.6L255.4 772.6L254.1 769.6L252.5 762.1L249.2 756.1L248.2 753.1L247.8 750.1L248.5 744.1L248.1 741.1L242.2 732.1L240.7 730.6L238.5 729.8L229.5 729.7L225 728.7L219 729.2L210 727.6L202.5 728.8L196.5 729.2L187.5 731.9L180 732.6L166.5 735L160.5 738.9L156 740.8L150 742.6L142.5 746.9L123 751.5L117 754.4L114 754.7L111 753.7L109.5 753L109.5 750.8L114 752.1L117 751.8L123 749.4L141 745.1L148.6 741.1L156 738.8L159 737.4L165 733.5L178.5 730.7L187.5 729.8L195 727.4L210 725.6L219 726.7L225 726.2L231 726.7L237 726.6L240 727.2L243 728.9L244.5 730.6L250.4 739.6L251.2 742.6L250.4 750.1L250.8 753.1L251.9 756.1L255.3 762.1L257 768.1L258.4 771.1L260.8 774.1L265.5 778.3L273.7 783.1L275.5 784.6L276.2 786.1L276 787.6L274.7 789.1L274.1 790.6L279 793.4L283.5 798.4L286.8 801.1L297 806.9L301.5 808.8L304.5 809.5L307.5 809.5L324 806.7L328.5 805L331.3 802.6L336.4 796.6L343.5 789.4L346.2 784.6L352.5 763.6L353.8 760.6L356.9 756.1L357.5 754.6L357.5 751.6L354.6 745.6L354.7 744.1L356.4 739.6L357 736.6L356.4 733.6L353.8 729.1L354 726.1L355.5 723.8L358.5 721.8L366 719.3L381 712.4L390.1 706.6L394.5 704.3L416 696.1L423 693.8L435 689L442.2 685.6L487.5 676.5L522.9 667.6L535.5 665.8L541.5 665.3L562.5 661.9L600 658.6L604.5 659.4L609 660.8L609.9 661.6L610.5 663.1L612 664.4L613.5 664.9L622.5 667.2L633 668.5L637.5 670.2L646.5 675.7L654 679.6L657.7 682.6L666 691.9L669 693.8L672 694.2L675 692.8L678 690L688.6 673.6L696 666.5L700.5 661.4L704.2 658.6L715.5 653L722.9 648.1L724.5 647.5L730.5 646.3L736.5 643.3L742.5 642.1L748.5 639.5L757.5 638.4L763.5 636.2ZM541.6 744.1L544.5 742.9L546 742.6L547.5 742.9L555 747.5L563.5 751.6L565.6 753.1L568 756.1L568.7 757.6L569.1 760.6L567.4 768.1L567.4 774.1L567 777.1L565.5 780.5L562.5 783L555 785.8L549 788.9L544.5 790.2L540 790.2L525 788.1L522 788.4L520.5 788.9L517.5 790.8L514.4 793.6L511.7 796.6L505.5 805.4L501 809.3L495 812.1L481.5 814.8L474 817.8L469.5 817.8L459 814.9L451.5 814L448.9 813.1L447.5 811.6L444.6 804.1L440.4 796.6L440.3 793.6L442 790.6L446.5 786.1L451.5 779L453.6 777.1L457.5 775L466.5 772.8L471 770.3L475.5 768.9L486 767.9L492 768.6L502.5 768.7L507 768.1L513.4 765.1L517.3 762.1L518.1 760.6L519.9 754.6L522 751.6L523.8 750.1L526.8 748.6L537 746.3L541.5 744.2ZM541.5 750L534.7 753.1L530.4 756.1L528.2 759.1L525 765.1L520.5 772L517.5 775.2L516 776.2L513 776.9L486 776.1L481.5 776.7L459 784.1L456 786L450 791.9L447.8 795.1L447.6 796.6L448.5 799.3L451.5 804.1L452.9 805.6L454.5 806.7L457.5 807.9L466.5 809.7L472.5 809.9L490.2 804.1L493.7 802.6L496.5 800.5L510 784.4L513 781.5L516 779.8L520.5 779.2L523.5 779.3L535.5 781.5L543 781.9L547.5 780.9L553.7 778.6L557 777.1L558.8 775.6L560 772.6L560.8 765.1L561 762.1L560.3 759.1L557.8 756.1L549 750.6L546 749.2L543 749.5Z"/><path stroke="#fff0c0" fill="#fff0c0" d="M417.9 544.6L419 543.1L424.4 543.1L420.4 546.1L419.2 547.6L418.6 549.1L417.9 555.1L417.1 558.1L401.3 597.1L393 615.3L386.9 625.6L381 636.9L371.7 651.1L361 663.1L350.7 676.6L346.5 684.1L343.5 688.3L331.5 699.2L328.5 701L322.5 702.6L315 705.4L310.5 705.3L298.5 701.6L288 700.3L270.5 696.1L267.6 694.6L259.9 688.6L256.5 686.5L241.5 679.6L237 678L222 676L207 671.2L201 670.1L192 669.1L180 666.3L174 665.7L163.5 665.4L147 662.7L135 661.8L118.5 658.8L109.5 658L109.5 656.7L117 656.8L123 657.5L136.5 660.6L144 660.5L150 661L165 664L174 663.5L180 663.8L186 665.2L193.5 667.8L204 668.3L208.5 669.1L213 670.4L223.5 674.8L226.5 675.2L234 675.1L238.5 675.7L243 677.5L249.4 681.1L259.5 684.8L264 687.7L270.2 693.1L272.9 694.6L274.5 695L283.5 696.1L291 697.4L294 697.3L298.5 696.3L303 698L306 698.5L309 697.9L313.5 694.9L315 694.2L322.5 693.7L325.5 693L331.5 689.5L339 686.2L342 684L343.5 682.2L347.8 675.1L358.8 661.6L369.6 649.6L379.5 634.1L384.7 624.1L390.6 615.1L399.8 595.6L415.5 556.7L416 553.6L416 549.1L417 545.9ZM763.2 634.6L766.6 634L766.6 635.6L763.9 636.1L757.5 638.4L748.5 639.5L742.5 642.1L736.5 643.3L730.5 646.3L723 648L717 652.1L706.9 657.1L702 660L696 666.5L688.6 673.6L678 690L675 692.8L672 694.2L669 693.8L666 691.9L657.7 682.6L654 679.6L646.5 675.7L637.5 670.2L633 668.5L622.5 667.2L613.5 664.9L612 664.4L610.5 663.1L609.9 661.6L609 660.8L604.5 659.4L600 658.6L562.5 661.9L541.5 665.3L535.5 665.8L522.9 667.6L487.5 676.5L442.2 685.6L435 689L423 693.8L416 696.1L394.5 704.3L390.1 706.6L381 712.4L366 719.3L358.5 721.8L355.5 723.8L354 726.1L353.8 729.1L356.4 733.6L357 736.6L356.4 739.6L354.7 744.1L354.6 745.6L357.5 751.6L357.5 754.6L356.9 756.1L353.8 760.6L352.5 763.6L346.7 783.1L345 787.1L342 791.1L336.4 796.6L331.5 802.4L328.5 805L324 806.7L316.5 807.8L309 809.3L306 809.6L303 809.2L297 806.9L286.5 800.9L283.5 798.4L279 793.4L274.1 790.6L274.7 789.1L276 787.6L276.2 786.1L275.5 784.6L273.7 783.1L265.5 778.3L260.8 774.1L258.4 771.1L257 768.1L255.3 762.1L251.9 756.1L250.8 753.1L250.4 750.1L251.2 742.6L250.4 739.6L244.5 730.6L243 728.9L240 727.2L237 726.6L231 726.7L225 726.2L219 726.7L210 725.6L195 727.4L187.5 729.8L178.5 730.7L165 733.5L159 737.4L156 738.8L148.6 741.1L141 745.1L123 749.4L117 751.8L114 752.1L109.5 750.8L109.5 749.2L112.5 750L115.5 750.1L126 746.9L138.4 744.1L148 739.6L156 736.9L163.5 732.7L169.5 730.5L186 728.2L199.5 725.1L208.5 724L223.5 725L237 724.1L241.5 725.3L244.5 727.4L246 729L252.9 739.6L253.5 742.6L252.7 750.1L253.1 753.1L257 760.6L259.8 768.1L262.5 772.3L268.5 777.5L275.8 781.6L277.7 783.1L278.9 784.6L281.1 789.1L282.2 790.6L286.5 794.9L289.5 797.2L297 801.3L301.5 803.3L304.5 803.9L309 803.7L315 802.2L322.5 801L326.2 799.6L339 788L342 783.8L349.9 762.1L351.3 759.1L354.3 754.6L354.8 753.1L354.5 751.6L351.6 748.6L350.8 747.1L350.9 745.6L351.4 744.1L353.9 739.6L354.3 738.1L354.2 736.6L353.5 735.1L350.6 732.1L349.3 729.1L349.5 726.1L351.7 721.6L353.1 720.1L355.5 718.6L366 715.6L379.5 710.2L390 703.3L396 700.4L421.5 691.9L441 684L486 674.8L520.5 666.4L559.5 660.8L597 657.2L603 657.2L612 658.3L613.5 658.9L618 662.4L621 663.7L625.5 664.8L633 665.7L637.5 667L657.2 676.6L669 685.1L672 685.5L675 683.9L685 672.1L693 665.3L698 660.1L700.5 658.1L715.5 650.4L723 646.2L730.5 644.4L736.5 641.6L742.5 640.3L748.5 637.8L756 636.8L762 634.9ZM541.3 750.1L544.5 749.2L547.5 749.8L556.5 755.2L559.3 757.6L560.3 759.1L560.8 760.6L561 763.6L559.6 774.1L558 776.4L555 778.1L546 781.3L541.5 782L534 781.3L523.5 779.3L520.5 779.2L516 779.8L513 781.5L510 784.4L498 799L495 801.7L490.5 804L472.5 809.9L469.5 810L465 809.4L455.3 807.1L453 805.7L451.5 804.1L448.6 799.6L447.6 796.6L447.8 795.1L448.5 793.6L456 786L460.5 783.6L466.5 781.9L479.9 777.1L483 776.3L495 776.3L513 776.9L516 776.2L517.5 775.2L520.5 772L525 765.1L528.2 759.1L530.4 756.1L534.7 753.1L540 750.6ZM544.5 760.5L543 760.7L540.6 762.1L538.6 765.1L538.4 766.6L538.8 768.1L540.1 769.6L543 770.5L544.5 770.5L547.3 769.6L549 768.1L549.7 766.6L549.8 765.1L549 762.9L547.5 761.5L545.1 760.6Z"/><path stroke="#fde08a" fill="#fde08a" d="M422.4 544.6L424.4 543.1L441.9 543.1L433.5 543.8L429 544.8L424.5 546.5L422.8 547.6L421.5 549.1L418.6 559.6L402.7 598.6L394.1 618.1L389.8 625.6L382.9 639.1L380.1 643.6L372 654.9L363.1 664.6L352.5 679.4L346.1 693.1L344.2 699.1L344 702.1L344.6 705.1L345.7 708.1L347.3 711.1L349 712.6L351 713.3L361.5 713.1L375 709.2L380.6 706.6L388.5 700.7L393 698.3L412.5 691.9L420 689.9L430.5 686.2L439.5 682.4L450 680L483.3 673.6L504 668.5L510 667.4L519 664.9L529.5 663.2L537 662.5L558 659.4L588 656.7L595.5 655.7L604.5 655.5L607.5 655.8L615 657.3L625.5 661.8L634.5 663L639 664.1L667.5 674.7L670.5 675.1L672 674.9L676.5 672.9L690 663.9L699 656.3L721.5 644.8L729 643.1L735 640.2L742.5 638.5L748.5 636.1L754.5 635.4L765 632.6L766.6 632.4L766.6 634L763.2 634.6L756 636.8L748.5 637.8L742.5 640.3L736.5 641.6L730.5 644.4L723 646.2L715.5 650.4L702 657.2L699 659.2L693 665.3L686.6 670.6L676.5 682.4L673.5 684.9L672 685.5L669 685.1L657.2 676.6L637.5 667L633 665.7L625.5 664.8L621 663.7L618 662.4L613.5 658.9L612 658.3L603 657.2L597 657.2L559.5 660.8L520.5 666.4L486 674.8L441 684L421.5 691.9L397.5 699.8L391.5 702.4L382.5 708.5L378 710.9L366 715.6L357 718L354 719.4L352.5 720.7L350 724.6L349.2 727.6L349.3 729.1L350.6 732.1L353.5 735.1L354.2 736.6L353.9 739.6L351.4 744.1L350.9 745.6L350.8 747.1L351.6 748.6L354.5 751.6L354.8 753.1L354.3 754.6L351.3 759.1L349.9 762.1L343 781.6L341.6 784.6L339 788L332.5 793.6L328.5 797.8L325.5 800L322.5 801L315 802.2L309 803.7L306 804L303 803.7L297 801.3L288 796.2L282 790.3L278.9 784.6L277.7 783.1L275.8 781.6L267.9 777.1L264.3 774.1L261.5 771.1L259.8 768.1L257 760.6L253.1 753.1L252.7 750.1L253.5 742.6L252.9 739.6L246 729L243 726.2L240 724.7L235.5 724L223.5 725L210 723.9L201 724.9L186 728.2L169.5 730.5L163.5 732.7L156 736.9L148 739.6L139.5 743.7L124.5 747.3L117 749.8L114 750.2L109.5 749.2L109.5 747.5L112.5 748.4L115.5 748.3L127.5 744.7L136.5 743L145.5 738.9L154.5 735.8L168 729.1L171 728.2L186 726.6L202.5 722.8L214.5 722.4L225 723.7L234 721.6L238.5 721.7L243 723.5L246.3 726.1L254.9 738.1L255.5 739.6L256 742.6L254.9 750.1L255.3 753.1L259.4 760.6L262.4 768.1L264.6 771.1L270 775.9L280 781.6L286.5 788.8L291 792.3L303 798.1L306 798.8L309 798.8L312.6 798.1L319.5 796L325.5 793.1L335.3 786.1L337.7 783.1L339.2 780.1L348.2 756.1L348.2 753.1L347.2 750.1L346.7 747.1L347.4 744.1L349.8 739.6L350.1 738.1L349.4 736.6L345.7 732.1L344.5 729.1L343.5 724.6L342 722L339 720.9L331.5 720L328.5 719.1L319.5 714.3L310.5 711.1L297 705.1L285 702.8L268.5 698L264.9 696.1L257.3 690.1L252.6 687.1L241.5 682L235.5 680L226.6 678.1L219 677.1L204 672.8L196.5 671.1L189 670.3L174 667.8L157.5 666.4L138 663.3L127.5 662.4L109.5 659.2L109.5 658L118.5 658.8L135 661.8L148.5 662.9L162 665.2L174 665.7L180 666.3L192 669.1L201 670.1L207 671.2L222 676L237 678L241.5 679.6L256.5 686.5L259.9 688.6L267.6 694.6L270.5 696.1L288 700.3L298.5 701.6L310.5 705.3L315 705.4L322.5 702.6L328.5 701L331.5 699.2L343.5 688.3L346.5 684.1L350.7 676.6L361 663.1L371.7 651.1L380.6 637.6L386.9 625.6L392.4 616.6L401.3 597.1L417.1 558.1L417.9 555.1L418.6 549.1L420 546.5L421.5 545.2ZM543.9 760.6L546 760.8L548.3 762.1L549.4 763.6L549.8 765.1L549.7 766.6L549 768.1L547.3 769.6L544.5 770.5L541.5 770.2L540.1 769.6L538.8 768.1L538.4 766.6L538.6 765.1L540 762.7L543 760.7Z"/><path stroke="#fdbf50" fill="#fdbf50" d="M429.7 544.6L433.5 543.8L441.9 543.1L476 543.1L469.5 544L454.5 543.8L435 546L428.6 547.6L426 548.9L424.1 550.6L423 552.4L420.7 559.6L414.4 574.6L399.6 612.1L396.2 619.6L385.4 640.6L382.6 645.1L374.9 655.6L365.4 666.1L356.2 679.6L354 683.6L351.8 691.6L351.4 697.6L351.9 700.6L353 703.6L354.2 705.1L356.1 706.6L360 708.1L363 708.2L375 705.9L378 704.7L387 697.8L393 694.6L403.5 691.9L411 689.1L418.5 687.5L429 684.2L438 680.3L442.8 679.6L450 677.8L457.5 676.7L463.5 675.1L469.5 674.3L477 672.4L483 671.6L489 669.8L496.5 668.5L502.5 666.7L510 665.5L516 663.5L523.5 662.4L529.5 661.1L537 660.7L543 659.5L549 659.2L556.5 657.7L562.5 657.5L568.5 656.5L576 656.2L594 654L607.5 653.4L618 655.4L625.5 658.3L628.5 659L636 659.7L646.5 661.7L667.5 664.8L672 665L676.5 664.5L684 662.4L689.7 660.1L697.5 654.4L702 652.5L708 648.8L720 642.9L727.5 641.4L735 638.1L741 636.9L747 634.6L754.5 633.5L760.5 631.7L766.6 630.7L766.6 632.4L762 633.2L754.5 635.4L748.5 636.1L742.5 638.5L735 640.2L729 643.1L723 644.3L720.8 645.1L699 656.3L690 663.9L676.5 672.9L672 674.9L670.5 675.1L667.5 674.7L639 664.1L634.5 663L625.5 661.8L615 657.3L607.5 655.8L604.5 655.5L595.5 655.7L588 656.7L558 659.4L537 662.5L529.5 663.2L519 664.9L510 667.4L504 668.5L483.3 673.6L450 680L439.5 682.4L430.5 686.2L420 689.9L412.5 691.9L393 698.3L388.5 700.7L380.6 706.6L375 709.2L361.5 713.1L354 713.5L349.5 712.9L347.3 711.1L345.7 708.1L344.2 703.6L344 700.6L344.5 697.6L345.5 694.6L350.8 682.6L353.3 678.1L362 666.1L372.6 654.1L380.1 643.6L382.9 639.1L389.8 625.6L394.1 618.1L398.3 609.1L418.6 559.6L421.5 549.1L422.8 547.6L424.5 546.5L429 544.8ZM109.5 660.1L109.5 659.2L111 659.4L129 662.6L138 663.3L157.5 666.4L174 667.8L189 670.3L196.5 671.1L204 672.8L219 677.1L228 678.4L237 680.4L241.5 682L252.6 687.1L257.3 690.1L264.9 696.1L268.5 698L285 702.8L297 705.1L310.5 711.1L319.5 714.3L328.5 719.1L331.5 720L339 720.9L341.3 721.6L342.9 723.1L344.5 729.1L345.7 732.1L349.4 736.6L350.1 738.1L349.8 739.6L347.4 744.1L346.7 747.1L348.4 754.6L347.8 757.6L339.2 780.1L337.5 783.4L333.6 787.6L324 794L321 795.4L315 797.4L310.5 798.6L307.5 798.8L304.5 798.5L301.5 797.5L291 792.3L286.5 788.8L280 781.6L270 775.9L264.6 771.1L262.4 768.1L259.4 760.6L255.3 753.1L254.9 750.1L256 742.6L255.5 739.6L254.9 738.1L246.3 726.1L243 723.5L238.5 721.7L234 721.6L225 723.7L214.5 722.4L202.5 722.8L186 726.6L171 728.2L168 729.1L154.5 735.8L145.5 738.9L136.5 743L127.5 744.7L115.5 748.3L112.5 748.4L111 748L109.5 747.5L109.5 744.7L112.5 746.3L115.5 746.2L127.5 742.8L136.5 741.1L144 737.7L151.5 735.3L157.5 732.7L164.4 729.1L168 726.6L178.5 726L184.5 725.2L193.5 723.2L199.5 721L216 720.6L225 721.4L232.5 718.9L235.5 718.5L238.5 718.7L243 720.5L247.5 723.9L249.5 726.1L253.5 732L256.4 735.1L258.5 738.1L259 739.6L259.3 742.6L257.6 750.1L257.9 753.1L261.4 759.1L264.5 766.6L267 770L273 775.1L280.5 778.5L283.2 780.1L291 786.5L306 793L309 793.7L313.5 792.7L328.5 785.9L331.5 784L333.5 781.6L342.3 760.6L343 756.1L342.7 747.1L343.8 739.6L342.8 736.6L339 730.6L336.2 727.6L334.5 726.5L310.5 716.5L295.5 708.7L283.5 705.9L274.5 702.5L268.5 701.1L265.5 700L262.5 698.1L255 691.6L250.9 688.6L244.5 685.5L237 682.8L225.9 679.6L219 678.9L213 677.7L195 672.5L184.5 671.8L166.5 668.6L153 667.9L137 664.6L126 664.3L120 663.2L109.5 660.6Z"/><path stroke="#fd9e2f" fill="#fd9e2f" d="M447.2 544.6L457.5 543.7L469.5 544L476 543.1L766.6 543.1L766.6 543.8L645 543.8L630 543.3L615 544.5L601.5 543.9L591 545L582 543.9L576 543.6L537 543.7L519 545.2L498 545.1L481.5 546.8L457.5 548L442.5 549.6L437.4 550.6L433.9 552.1L431.7 553.6L430.1 555.1L428.3 558.1L425.7 565.6L411.3 601.6L409.5 607.5L407.8 615.1L400 634.6L390 650.9L378.8 666.1L375.4 672.1L374.4 675.1L373.6 679.6L374.2 682.6L375 683.5L376.5 683.8L378 683.6L384 682.1L397.5 680.1L402 678.8L415.5 673.1L417 672.8L418.5 673L423 675.1L426 675.2L428.6 673.6L432 669.1L435.1 667.6L439.5 667.1L448.5 667.1L457.5 665.5L477 663.3L490.5 661.1L496.5 659.6L504 658.4L523.5 654.2L544.5 652.4L564 650.2L609 647.1L646.5 647.3L657 646.5L687 642.4L712.5 635.2L721.5 633.8L727.5 632.2L736.5 630.7L744 628.8L766.6 625L766.6 630.7L760.5 631.7L754.5 633.5L747 634.6L741 636.9L735 638.1L727.5 641.4L720 642.9L708 648.8L702 652.5L697.5 654.4L689.7 660.1L684 662.4L676.5 664.5L672 665L667.5 664.8L646.5 661.7L636 659.7L628.5 659L625.5 658.3L618 655.4L607.5 653.4L594 654L576 656.2L568.5 656.5L562.5 657.5L556.5 657.7L549 659.2L543 659.5L537 660.7L529.5 661.1L523.5 662.4L516 663.5L510 665.5L502.5 666.7L496.5 668.5L489 669.8L483 671.6L477 672.4L469.5 674.3L463.5 675.1L457.5 676.7L450 677.8L442.8 679.6L438 680.3L429 684.2L418.5 687.5L411 689.1L403.5 691.9L393 694.6L387 697.8L379.7 703.6L377.1 705.1L372.3 706.6L364.5 708.1L360.3 708.1L357 707.1L354.2 705.1L352.3 702.1L351.4 697.6L351.6 693.1L352.8 687.1L354.4 682.6L365.4 666.1L374.9 655.6L382.6 645.1L385.4 640.6L396.2 619.6L399.6 612.1L414.4 574.6L420.7 559.6L423 552.4L424.1 550.6L426 548.9L430.5 546.9L435 546L447 544.6ZM109.5 661.6L109.5 660.6L120 663.2L126 664.3L137 664.6L153 667.9L166.5 668.6L184.5 671.8L195 672.5L213 677.7L219 678.9L226.5 679.7L238.5 683.3L246 686.1L250.9 688.6L255 691.6L262.5 698.1L265.5 700L268.5 701.1L274.5 702.5L283.5 705.9L295.5 708.7L310.5 716.5L334.5 726.5L337.5 728.8L340.5 732.9L343.5 738.1L343.8 741.1L342.7 747.1L343 756.1L342.3 760.6L333.5 781.6L331.5 784L328.5 785.9L313.5 792.7L309 793.7L306 793L291 786.5L283.2 780.1L280.5 778.5L273 775.1L267 770L264.5 766.6L261.4 759.1L257.9 753.1L257.6 750.1L259.3 742.6L259 739.6L258.5 738.1L256.4 735.1L253.5 732L249.5 726.1L247.5 723.9L243 720.5L238.5 718.7L235.5 718.5L232.5 718.9L225 721.4L216 720.6L199.5 721L193.5 723.2L184.5 725.2L178.5 726L168 726.6L164.4 729.1L157.5 732.7L151.5 735.3L144 737.7L136.5 741.1L127.5 742.8L117 745.9L112.5 746.3L109.5 744.7L109.5 736.5L114 738.9L115.5 739.2L118.5 739L127.5 735.4L138 733.6L148.5 730.9L157.5 727.9L160.1 726.1L162.3 723.1L163.5 721.8L165 721L168 720.7L177 721.8L186 720.3L189.8 718.6L193.5 714.7L195 713.7L196.5 713.4L198 713.5L205.5 715.8L208.5 715.8L213 715.1L217.5 714L223.5 711.7L224.4 711.1L225 710.1L226.4 706.6L228 705.8L240 702.6L243 703.2L247.5 705.4L249 705.4L250.1 703.6L250 702.1L249.3 699.1L247.9 696.1L246 693.6L244.5 692.5L223.9 685.6L208.5 683.2L192 679.1L180 677.5L165 674.1L151.5 673.5L135 670.6L124.5 669.8L109.5 667.7L109.5 663.1ZM300 739.6L298.5 740.2L295.5 742.3L288.9 748.6L282.9 757.6L282.2 759.1L282.1 760.6L282.7 762.1L284.3 763.6L292.9 769.6L298.5 772.5L303 773.8L307.5 774.4L310.5 774.4L313.5 773.8L316.5 772.6L319.5 770.3L321.3 768.1L322.8 765.1L323.7 762.1L324.1 757.6L323.7 753.1L322.9 750.1L321.3 747.1L320 745.6L316.5 743.1L310.5 740.4L307.5 739.5L304.5 739L301.5 739.2Z"/><path stroke="#f77c2a" fill="#f77c2a" d="M527.4 544.6L537 543.7L574.5 543.6L582 543.9L591 545L601.5 543.9L615 544.5L630 543.3L645 543.8L766.6 543.8L766.6 546.9L675 547.1L628.5 546.5L622.5 546.9L613.5 548.2L603 546.9L598.5 547.5L592.5 549.8L591 550L589.5 549.7L584.2 547.6L580.5 546.9L568.5 547.2L558 546.9L549 547.4L538.5 546.9L519 548.2L508.5 549.9L504 550.3L484.5 551.2L468 550.6L460.5 551.7L443.2 555.1L441 556.1L438.7 558.1L436.5 561.1L435 564.1L425.2 597.1L408.5 639.1L403.9 649.6L402.7 655.6L402.9 663.1L403.7 666.1L405 667.5L406.5 668.1L408 668.1L412.5 666.3L415.5 665.7L418.5 666L424.5 668.1L426 667.3L429 663.1L432 660.4L436.5 658.2L442.5 657.1L483 654L523.1 648.1L562.5 644.1L600 641.7L627 638.2L654 636.8L735 624.6L766.6 619.2L766.6 625L744 628.8L736.5 630.7L727.5 632.2L721.5 633.8L712.5 635.2L687 642.4L658.5 646.4L646.5 647.3L610.5 647.1L562.5 650.4L544.5 652.4L523.5 654.2L489 661.3L477 663.3L456 665.7L450 667L436.5 667.3L433.5 668.2L432 669.1L428.6 673.6L426 675.2L423 675.1L418.5 673L417 672.8L415.5 673.1L403.5 678.3L399 679.8L393 681L384 682.1L376.5 683.8L375 683.5L374.2 682.6L373.6 681.1L374 676.6L375.4 672.1L378.8 666.1L390 650.9L400 634.6L407.8 615.1L409.5 607.5L411.3 601.6L425.7 565.6L427.7 559.6L429.1 556.6L431.7 553.6L435 551.6L439.5 550L456 548.2L481.5 546.8L499.5 545L513 545.3L526.5 544.7ZM109.5 669.1L109.5 667.7L111 667.8L124.5 669.8L135 670.6L151.5 673.5L165 674.1L180 677.5L192 679.1L208.5 683.2L223.5 685.5L243 691.8L245.4 693.1L246.9 694.6L248.6 697.6L249.7 700.6L250.1 703.6L249 705.4L247.5 705.4L243 703.2L240 702.6L228 705.8L226.4 706.6L225 710.1L224.4 711.1L223.5 711.7L217.2 714.1L211.5 715.5L205.5 715.8L198 713.5L196.5 713.4L195 713.7L193.5 714.7L189.8 718.6L186 720.3L177 721.8L168 720.7L165 721L163.5 721.8L159 727L156 728.4L147 731.3L138 733.6L127.5 735.4L118.5 739L115.5 739.2L114 738.9L109.5 736.5L109.5 729.1L112.5 730.1L115.5 730.3L125.4 727.6L141 725.3L154.5 721L168 714.4L177 714.6L180.5 714.1L183.9 712.6L189.8 708.1L193.5 706.4L198 705.7L205.5 705.8L209.1 705.1L211.5 703.8L213.4 702.1L215.9 699.1L216.5 697.6L216.3 696.1L213 694.2L168 682.5L159 680.7L118.5 675L109.5 674.1L109.5 670.6ZM299.9 739.6L303 739L306 739.2L312 741L316.5 743.1L319.5 745.2L321.3 747.1L322.5 749.1L323.4 751.6L324 756.1L323.9 760.6L323.3 763.6L322.1 766.6L320.2 769.6L318 771.6L315 773.3L312 774.1L307.5 774.4L303 773.8L298.9 772.6L292.9 769.6L284.3 763.6L282.7 762.1L282.1 760.6L282.2 759.1L286.6 751.6L291 746.4L295.5 742.3L298.5 740.2Z"/><path stroke="#ea5428" fill="#ea5428" d="M530.5 547.6L538.5 546.9L549 547.4L558 546.9L568.5 547.2L579 546.8L583.5 547.4L589.5 549.7L591 550L592.5 549.8L598.5 547.5L603 546.9L613.5 548.2L622.5 546.9L628.5 546.5L675 547.1L766.6 546.9L766.6 553L717 553.1L693 552.6L678 553.3L642 553L627 552.3L624 552.6L620.9 553.6L618.5 555.1L613.5 559.6L612 559.8L610.5 558.8L607.5 555.1L606 554L603 553.1L600.8 553.6L599.1 555.1L597.5 559.6L596.6 561.1L595.5 561.8L592.5 562.4L588 561.9L585.8 561.1L584.4 559.6L583.3 556.6L582 554.5L580.5 553.4L579 553.1L576.1 553.6L574.5 554.6L571 559.6L568.5 560.4L561 559.5L556.5 560.1L543 559.9L540.5 558.1L540 556.5L538.5 556.1L533.4 559.6L531 560.3L528.8 559.6L526 556.6L523.7 555.1L520.5 554.6L519 555L517.5 556.2L515.2 561.1L513 562.2L498 561.9L484.5 563.7L478.5 564.1L475.5 563.4L471 561.1L469.1 561.1L466.5 562.3L462 565.3L454.5 568.4L452.2 570.1L451 571.6L449.7 576.1L448.9 583.6L447.2 594.1L447 600.1L448.2 619.6L447.3 628.6L447.5 631.6L449 634.6L450.5 636.1L454.5 638.3L459 640L462 640.7L466.5 641L504 640.8L543 636.8L582 631.1L603 629.4L609 628.4L615 626L630 623.5L672 620.9L766.6 610.8L766.6 619.2L735 624.6L654 636.8L627 638.2L600 641.7L562.5 644.1L523.1 648.1L483 654L441 657.2L436.5 658.2L432 660.4L429 663.1L426 667.3L424.5 668.1L417 665.7L414 665.9L408 668.1L405.1 667.6L403.7 666.1L403.1 664.6L402.6 658.6L402.8 654.1L404.5 648.1L408.5 639.1L425.7 595.6L434.5 565.6L436.5 561.1L438.7 558.1L441 556.1L444 554.9L466.5 550.7L471 550.5L483 551.2L489 551.1L505.5 550.3L519 548.2L529.5 547.7ZM109.5 675.1L109.5 674.1L115.5 674.6L162 681.3L171 683.2L187.5 687.4L195 689.8L211.5 693.8L214.1 694.6L216 695.9L216.5 697.6L215.9 699.1L213.4 702.1L211.5 703.8L209.1 705.1L205.5 705.8L198 705.7L193.5 706.4L189.8 708.1L183.9 712.6L180.5 714.1L177 714.6L168 714.4L166.5 714.9L156 720.4L142.5 725L125.4 727.6L117 730.1L112.5 730.1L109.5 729.1L109.5 714.9L117 715.4L133.5 713.9L139.5 711L147 709.5L154.5 707L157.5 704.9L159.4 702.1L159.8 700.6L159.7 699.1L158.8 697.6L156 695.8L142.5 692.4L131.8 688.6L127.5 687.9L120 687.5L109.5 688L109.5 676.6Z"/><path stroke="#d62b27" fill="#d62b27" d="M576.1 553.6L579 553.1L580.8 553.6L582.5 555.1L584.4 559.6L585.8 561.1L588 561.9L591 562.3L594 562.3L596.6 561.1L597.5 559.6L599.1 555.1L600 554.1L601.5 553.3L603 553.1L606 554L607.5 555.1L610.5 558.8L612 559.8L613.5 559.6L618.5 555.1L621 553.6L624 552.6L628.5 552.2L645 553.1L679.5 553.3L693 552.6L717 553.1L766.6 553L766.6 560.2L760.5 560.2L753 559.3L744 559.9L735 558.9L726 560L717 559.6L706.5 560.3L697.5 558.8L693 558.5L688.5 558.9L681 560.2L672 559.2L663 560.1L657 559.7L640.5 560.1L631.5 558.7L627 558.5L622.5 559.6L616.5 563.5L613.5 564.4L610.1 564.1L607.2 562.6L604.5 560.6L603 560.1L601.5 560.8L598.5 564.5L595.5 565.7L592.5 565.8L586.5 565L583.5 564.1L580.5 562.5L579 562.3L576 564.4L573 565.4L540 566.3L529.5 567.8L523.5 567.4L522 567.7L516 570.6L513 571.4L502.5 571.6L499.4 573.1L493.5 579.4L487.3 585.1L485.8 588.1L485.6 589.6L485.9 592.6L487.3 595.6L488.5 597.1L493.2 601.6L498.6 607.6L506.3 613.6L511.5 616L517.5 616.9L561 618.9L597 617.7L610.5 615.6L611.4 615.1L612 611.5L612.7 610.6L613.5 610.3L619.5 609.9L627 608.6L673.5 606.9L712.5 603.1L766.6 599.1L766.6 610.8L672 620.9L630 623.5L615 626L609 628.4L603 629.4L582 631.1L543 636.8L504 640.8L466.5 641L462 640.7L459 640L454.5 638.3L450.5 636.1L448.1 633.1L447.3 630.1L448.2 619.6L447 600.1L447.2 594.1L449.9 574.6L451 571.6L453 569.4L456 567.7L462 565.3L468 561.5L469.5 561L471 561.1L475.5 563.4L478.5 564.1L484.5 563.7L498 561.9L513 562.2L515.2 561.1L517.5 556.2L519 555L520.5 554.6L523.7 555.1L526 556.6L528.8 559.6L531 560.3L533.4 559.6L538.5 556.1L540 556.5L540.5 558.1L543 559.9L556.5 560.1L561 559.5L568.5 560.4L571 559.6L573.9 555.1L576 553.6ZM109.5 688.6L109.5 688L118.5 687.5L127.5 687.9L131.8 688.6L142.5 692.4L156 695.8L158.8 697.6L159.7 699.1L159.8 700.6L159.4 702.1L157.5 704.9L154.5 707L147 709.5L139.5 711L133.5 713.9L117 715.4L109.5 714.9L109.5 690.1Z"/><path stroke="#b21c24" fill="#b21c24" d="M622.5 559.6L625.5 558.7L628.5 558.5L640.5 560.1L657 559.7L663 560.1L672 559.2L681 560.2L688.5 558.9L693 558.5L697.5 558.8L706.5 560.3L717 559.6L726 560L735 558.9L745.5 560L753 559.3L760.5 560.2L766.6 560.2L766.6 565.5L759 566.3L751.5 565.5L745.5 566.8L736.5 565.2L727.5 565.6L712.5 565.3L703.5 566.4L696 565L691.5 564.7L687 565L681 566.2L673.5 565.3L664.5 566L658.5 565.4L651 566.4L645 565.8L637.5 566.7L627 565.8L616.5 567.7L603 566.8L597 568.6L594 569L580.5 567.4L571.5 568.9L562.5 568.6L552 571.1L543 571.4L538.1 573.1L531.6 577.6L530.3 579.1L528.8 582.1L529.2 585.1L531 587.3L534.9 589.6L559.5 598.2L567 599.6L580.5 599.7L592.5 601.2L598.5 601.3L610.5 600.5L612 600.1L613.5 598.4L615 597.5L619.5 596.8L690 595L738 590.4L766.6 588.9L766.6 599.1L712.5 603.1L673.5 606.9L627 608.6L619.5 609.9L613.5 610.3L612.7 610.6L612 611.5L611.4 615.1L610.5 615.6L597 617.7L561 618.9L517.5 616.9L511.5 616L506.3 613.6L498.6 607.6L493.2 601.6L488.5 597.1L487.3 595.6L485.9 592.6L485.6 589.6L485.8 588.1L487.3 585.1L493.5 579.4L497.8 574.6L501 572.2L504 571.4L510 571.6L514.5 571.1L522 567.7L523.5 567.4L529.5 567.8L540 566.3L573 565.4L576 564.4L579 562.3L580.5 562.5L583.5 564.1L586.5 565L592.5 565.8L595.5 565.7L598.5 564.5L601.5 560.8L603 560.1L604.5 560.6L607.2 562.6L610.1 564.1L613.5 564.4L616.5 563.5L621 560.5Z"/><path stroke="#8a141b" fill="#8a141b" d="M656.3 565.6L660 565.5L664.5 566L672 565.3L681 566.2L687 565L691.5 564.7L696 565L703.5 566.4L712.5 565.3L727.5 565.6L736.5 565.2L745.5 566.8L751.5 565.5L759 566.3L766.6 565.5L766.6 588.9L738 590.4L690 595L619.5 596.8L615 597.5L613.5 598.4L612 600.1L610.5 600.5L598.5 601.3L592.5 601.2L580.5 599.7L570 599.8L562.5 598.9L558 597.8L535.5 589.8L532 588.1L530.2 586.6L529.2 585.1L528.8 583.6L528.8 582.1L530.3 579.1L531.6 577.6L535.5 574.6L541.5 571.7L552 571.1L562.5 568.6L571.5 568.9L580.5 567.4L594 569L597 568.6L603 566.8L604.5 566.6L615 567.7L618 567.5L627 565.8L637.5 566.7L643.5 565.9L651 566.4L655.5 565.7Z"/></g>
<clipPath id="kb"><rect x="109.5" y="538.5" width="657.1" height="328.3"/></clipPath>
<g clip-path="url(#kb)" fill="none" stroke="#1fd13c" stroke-width="0.9"><ellipse cx="194.8" cy="582.6" rx="7.5" ry="6.6"/><ellipse cx="194.8" cy="582.6" rx="14.5" ry="12.8"/><ellipse cx="194.8" cy="582.6" rx="21.5" ry="18.9"/><ellipse cx="194.8" cy="582.6" rx="28.7" ry="25.3"/><ellipse cx="194.8" cy="582.6" rx="36.6" ry="32.2"/><ellipse cx="194.8" cy="582.6" rx="45" ry="39.6"/><ellipse cx="194.8" cy="582.6" rx="53" ry="46.6"/><ellipse cx="194.8" cy="582.6" rx="61" ry="53.7"/></g>
<g clip-path="url(#kb)"><path d="M109.5 846.4L112.8 844.5L116.3 843.5L121.3 843.5L123.2 845.3L124.3 848.6L125.9 850.7L128.7 850.7L132.2 850.0L133.9 850.0L135.8 852.6L136.3 855.9L136.1 859.5L135.2 863.2L135.0 866.8M109.5 736.2L113.6 733.7L117.7 732.2L123.2 732.6L128.7 731.5L134.1 731.1L137.4 730.7L139.6 731.8L138.5 734.0L138.2 736.9L139.6 739.1L137.7 741.7L137.2 743.5L140.2 745.7L143.7 746.8L147.8 747.5L151.4 749.0L152.8 751.9L157.4 754.1L161.5 756.3L164.3 753.7L164.5 749.3L168.4 746.8L172.5 747.9L177.4 750.4L183.4 752.3L188.9 754.1L193.0 751.9L197.1 752.6L201.2 753.4L203.7 751.9L205.3 747.2L206.7 742.8L208.1 737.3L208.3 732.6L205.3 732.9L202.0 734.8L198.5 735.1L194.4 732.6L192.7 734.4L189.7 734.4L186.7 732.6L184.5 731.8L184.0 728.9L181.8 726.7L183.1 724.5L181.2 722.7L181.5 720.2L184.8 719.4L188.9 718.3L189.4 716.5M189.4 716.5L195.2 716.5L200.7 713.6L205.9 713.6L209.7 716.1L214.9 717.2L220.4 717.2L223.4 715.1L222.8 711.4L219.0 708.1L214.9 704.8L211.6 702.6L209.7 701.9L206.4 702.6L201.5 704.8L198.8 701.2L201.5 699.0L197.1 697.2L193.8 697.2L191.1 700.8L188.4 704.5L186.4 708.9L185.9 712.9L187.3 715.4L189.4 716.5M211.6 701.6L214.4 698.3L216.8 695.0L212.4 695.0L207.0 697.2L205.3 699.7M239.6 709.9L238.7 704.1L238.2 700.5L243.7 696.8L249.1 695.0L254.6 695.7L254.9 701.2L250.8 703.4L247.8 704.5L250.0 709.2L253.8 712.9L253.8 716.9L256.8 718.7L255.7 722.7L256.8 728.2L257.3 731.8L251.9 732.6L246.9 730.4L243.7 726.7L244.8 720.2L242.3 714.3L239.6 709.9M181.5 717.6L176.6 717.6L174.7 720.9L172.5 719.8L171.4 719.1L172.2 723.4L175.2 727.5L173.0 728.5L173.0 733.3L170.8 733.7L168.9 732.6L167.5 728.5L167.5 727.1L171.9 728.2L167.0 726.0L165.1 722.7L162.9 719.1L162.9 714.3L160.4 712.1L156.6 709.6L152.8 707.0L150.6 704.1L148.7 701.6L146.7 702.6L147.0 700.1L143.5 701.2L143.2 704.8L146.7 708.1L148.4 712.1L153.3 714.0L153.6 715.8L158.8 718.7L160.2 720.5L158.5 719.8L156.0 719.1L154.9 722.0L156.3 724.5L153.6 728.2L152.5 728.2L153.0 724.9L152.2 720.9L150.0 718.7L147.8 718.0L144.5 715.8L141.8 713.2L138.5 710.3L137.4 707.0L133.6 704.8L130.0 707.0L126.5 709.6L122.6 708.5L118.3 709.2L118.0 712.9L115.2 716.1L112.0 717.2L109.5 720.9M143.7 728.2L146.5 727.5L152.2 727.5L151.1 731.8L148.7 731.8L143.7 729.3L143.7 728.2M132.2 717.6L134.7 716.5L136.1 719.1L135.8 723.8L133.9 724.5L132.5 722.7L132.2 717.6M133.3 711.4L135.2 709.9L135.5 713.6L134.7 715.8L133.3 714.3L133.3 711.4M174.1 737.3L177.9 737.7L181.2 738.4L177.9 739.1L174.1 738.0L174.1 737.3M198.2 739.1L201.2 738.0L204.0 736.9L202.3 739.1L199.9 740.6L198.2 739.1M198.2 757.4L199.0 759.9L201.5 764.7L203.7 770.1L206.1 777.1L207.2 781.8L210.8 786.5L211.4 790.9L211.9 797.9L215.2 801.5L217.1 809.2L219.6 812.4L223.1 815.7L226.4 819.7L228.1 821.9L227.8 824.5L230.5 828.5L234.1 828.1L238.2 826.3L243.1 825.6L249.1 823.4L249.7 828.1L248.0 833.2L245.0 840.5L242.6 847.5L239.8 852.9L235.4 858.4L231.3 862.1L227.2 866.4L226.4 866.8M198.2 757.4L200.4 762.5L203.1 765.4L205.1 759.2L205.3 763.9L208.1 771.2L211.4 777.1L214.6 782.2L216.6 788.4L217.9 792.4L221.8 799.0L225.0 806.2L226.7 811.4L228.1 817.9L228.9 820.5L232.7 820.1L239.3 816.8L243.7 814.6L249.1 811.4L252.4 808.4L256.8 805.5L260.6 803.7L264.2 800.4L267.5 797.5L267.8 792.4L270.5 790.2L273.2 784.7L270.2 780.7L265.6 779.3L263.9 775.6L263.9 770.9L262.8 773.4L260.6 774.5L258.2 778.2L254.1 778.5L251.3 778.9L250.8 775.6L250.5 771.6L249.1 772.0L248.6 775.6L246.9 772.7L246.7 769.4L244.2 766.5L242.8 762.8L240.9 758.8L242.6 757.0L245.3 757.0L247.5 759.2L249.1 764.7L253.2 766.9L257.3 769.4L261.5 768.3L265.0 767.9L266.7 772.7L271.0 774.1L276.5 774.9L282.0 774.9L287.5 774.5L291.8 774.1L293.8 777.1L296.2 780.3L298.4 784.0L302.0 782.9L298.4 785.5L300.3 789.1L302.8 790.9L306.6 789.5L308.3 785.8L308.8 790.2L308.8 796.8L310.2 804.8L312.1 812.1L314.0 819.4L316.5 824.9L318.4 831.1L320.3 836.2L322.0 837.3L323.6 834.3L325.8 832.9L326.6 829.2L328.3 829.2L328.3 823.0L329.4 818.3L328.8 811.0L331.3 808.4L334.8 806.2L338.1 801.9L342.2 795.7L346.3 793.1L347.7 789.1L350.4 787.6L353.2 786.9L357.3 784.7L360.0 784.7L361.4 788.4L362.2 791.3L364.1 794.6L366.9 798.2L368.2 803.0L367.7 808.4L370.4 809.2L373.7 806.6L375.6 805.5L376.7 808.4L377.3 812.1L377.8 815.7L379.2 821.2L379.7 827.4L378.6 834.0L378.6 837.6L381.1 841.3L383.3 843.8L384.4 847.5L385.5 852.2L386.9 856.6L389.6 859.5L392.6 861.7L394.2 861.7L394.8 858.4L392.9 854.0L392.6 850.0L390.4 845.6L388.8 843.8L386.9 841.6L384.7 840.5L383.8 835.8L381.4 832.9L381.1 828.5L382.7 823.8L383.3 817.9L386.0 818.3L386.0 820.8L389.6 822.3L391.5 826.7L394.2 828.9L396.7 829.6L396.4 835.1L398.1 834.0L401.1 831.1L402.5 828.5L405.2 826.7L408.5 824.5L408.8 819.4L407.9 813.9L407.1 810.3L405.7 808.1L403.0 804.8L401.1 801.9L399.2 798.2L399.4 794.6L401.6 791.7L403.6 789.5L406.6 788.0L409.3 788.4L410.1 792.0L412.0 792.0L412.0 789.1L415.6 787.6L420.3 785.8L422.4 785.1L425.7 783.6L429.8 780.7L433.1 777.4L436.7 773.8L437.5 769.4L440.2 764.7L442.7 760.3L443.5 757.4L440.8 754.8L443.3 753.7L443.0 750.8L440.2 747.2L438.9 742.0L436.1 739.1L438.9 735.5L440.8 733.3L444.9 731.8L444.9 730.4L440.8 729.6L437.5 730.7L435.3 730.0L433.4 727.5L432.0 724.5L435.3 723.8L440.8 717.6L443.5 718.7L441.6 722.7L442.7 724.9L446.3 722.3L449.8 720.9L451.7 722.3L452.6 725.6L451.2 728.2L454.5 729.6L456.1 731.8L455.6 735.5L455.6 740.6L458.6 739.9L462.7 738.4L463.8 733.7L463.5 730.0L461.3 726.4L458.6 722.7L460.0 720.2L464.6 717.2L464.9 713.6L467.6 712.1L471.7 708.9L474.2 710.7L479.1 708.1L483.2 703.4L487.3 697.2L491.4 691.7L493.9 684.4L494.2 678.9L496.6 673.5L493.6 672.4L490.9 669.8L486.0 669.8L484.0 667.3L479.9 667.3L484.0 666.2L487.3 660.7L494.2 655.2L499.7 650.9L507.9 650.5L517.4 649.4L524.3 650.9L528.4 651.6L533.9 649.8L532.8 646.1L538.0 642.5L546.2 641.4L548.4 644.3L551.7 642.5L556.6 638.8L555.8 641.7L553.9 645.0L547.6 651.6L542.1 655.2L538.5 658.9L535.5 662.5L535.5 669.8L537.4 677.1L538.5 680.8L542.9 674.2L547.6 668.0L553.0 666.2L552.5 661.8L555.8 656.0L554.7 652.3L557.7 650.9L561.3 647.9L566.7 646.8L574.9 647.9L580.4 644.3L587.3 641.4L594.1 638.8L599.6 639.2L601.2 636.3L595.8 631.2L599.0 630.8L605.1 628.6L605.6 625.3L611.9 627.9L618.8 631.5L624.2 628.2L630.5 625.7L627.0 623.1L618.8 621.3L610.5 618.8L602.3 615.1L594.1 612.9L583.2 611.5L577.1 611.5L576.3 615.1L569.5 612.9L561.3 613.3L551.1 613.3L547.6 610.4L536.6 607.8L525.7 607.8L520.2 604.2L509.2 603.1L495.5 601.2L492.3 605.6L481.9 606.0L470.9 606.0L464.1 607.8L462.1 603.1L457.2 599.1L443.5 600.5L433.9 599.8L421.6 598.0L418.9 593.2L405.2 587.4L394.2 583.4L384.7 587.7L375.1 589.6L364.1 591.0L350.4 592.1L346.3 596.9L339.5 598.3L329.9 598.7L329.9 604.2L335.4 608.9L323.1 604.2L314.8 602.3L310.7 607.8L312.1 615.1L313.5 618.8L312.1 623.1L306.6 625.0L309.4 622.4L310.7 618.8L308.0 615.8L306.6 611.5L308.8 606.0L306.6 601.2L299.8 600.5L297.0 602.7L292.9 606.0L292.4 608.5L292.9 612.9L298.4 615.5L296.5 617.7L292.9 616.9L290.2 615.1L286.1 614.0L276.5 611.8L273.8 612.5L275.1 616.2L271.0 615.5L265.6 616.6L257.3 616.6L256.0 617.7L249.1 617.3L242.3 619.8L240.1 622.8L235.4 622.8L233.5 621.3L236.8 619.5L234.1 616.9L228.6 616.6L230.0 621.3L230.5 624.2L228.6 625.3L223.9 624.6L219.0 627.1L220.4 631.2L214.9 630.4L210.8 629.7L213.5 632.2L210.8 633.7L204.8 631.9L204.8 629.7L201.2 625.3L198.5 622.0L199.9 623.5L208.1 625.0L217.6 625.7L221.8 624.2L221.8 620.6L214.9 617.7L208.1 614.4L199.9 614.0L191.6 612.5L194.4 611.5L193.0 609.6L186.2 607.8L179.9 607.4L172.5 609.3L165.6 611.5L160.2 612.9L154.7 615.8L150.6 618.8L146.5 622.4L143.7 626.0L141.0 629.7L136.9 633.3L132.8 635.2L127.3 638.1L123.7 640.6L123.2 644.3L123.7 647.9L125.1 652.7L128.7 655.2L132.0 654.9L135.5 651.6L138.2 648.7L138.5 650.9L140.4 653.4L142.4 657.1L144.3 661.8L145.1 664.7L148.4 664.7L149.2 662.2L153.3 661.4L154.7 657.1L155.2 652.7L159.6 650.5L160.2 647.2L156.6 645.0L156.9 640.6L160.2 637.0L165.6 634.4L167.8 631.5L170.6 627.5L175.8 626.8L178.8 628.6L176.6 630.8L171.1 635.2L167.8 638.8L167.8 644.3L171.1 646.1L172.5 648.3L180.7 646.5L187.5 646.1L192.2 648.3L186.2 649.4L177.9 649.8L173.8 650.9L176.0 654.1L175.2 658.5L171.1 656.3L167.0 659.6L167.0 665.1L163.7 668.4L160.7 668.4L158.8 666.9L153.3 668.7L148.4 670.2L146.5 668.4L142.4 669.1L139.6 669.8L136.9 668.0L135.8 666.2L136.9 664.3L139.1 661.8L137.4 660.7L138.2 658.9L138.5 656.3L136.3 656.7L132.8 658.5L131.7 660.7L132.2 664.3L133.0 668.0L132.2 670.9L129.2 671.3L125.9 671.6L122.4 673.5L120.5 677.1L117.7 679.7L113.9 681.1L113.6 683.7L109.5 687.0M109.5 681.5L113.3 680.0L111.7 678.9L113.9 676.0L113.9 673.8L110.6 673.5L110.0 671.3L109.5 671.3M328.0 831.8L329.4 831.4L331.8 835.8L333.5 839.4L332.9 843.1L330.2 844.9L328.5 843.8L328.0 839.4L328.0 831.8M407.1 796.4L409.6 793.8L412.6 793.8L413.4 795.3L411.8 798.6L409.3 800.4L407.1 799.0L407.1 796.4M438.3 782.9L440.0 777.4L442.4 774.9L443.3 777.1L441.9 782.2L440.5 786.5L438.9 784.7L438.3 782.9M466.0 744.2L468.2 742.8L470.9 741.3L473.6 737.3L477.7 736.9L481.9 736.6L483.8 732.6L485.4 730.0L484.9 732.2L488.7 730.4L491.4 726.4L492.8 721.6L492.8 718.7L493.6 716.5L496.4 716.1L496.9 719.1L498.3 722.7L496.9 727.1L495.5 730.0L495.0 735.5L495.0 737.3L492.5 739.1L492.3 736.9L490.6 738.4L489.2 740.2L484.6 740.2L484.0 741.7L481.3 744.6L479.4 741.7L475.0 741.3L471.5 743.1L468.2 743.1L470.1 746.4L469.3 752.3L467.3 753.7L466.0 752.6L466.3 748.2L464.6 746.4L466.0 744.2M472.3 743.9L476.4 741.7L478.3 743.5L476.9 745.3L473.6 747.2L472.3 743.9M492.8 715.4L493.6 712.5L493.6 708.9L496.9 709.2L497.5 701.9L498.3 700.8L501.0 704.5L505.1 706.3L507.3 705.2L507.9 708.9L503.8 710.3L501.8 713.6L497.7 711.4L495.5 714.3L492.8 715.4M498.3 699.0L498.3 693.5L498.3 688.1L498.8 680.8L497.7 677.1L499.1 672.0L500.5 668.7L501.8 673.5L501.6 678.9L502.4 684.4L504.9 688.1L501.0 688.8L499.9 693.5L502.4 696.1L500.5 696.8L498.3 699.0M438.9 808.4L439.7 799.7L443.5 799.3L444.3 804.8L442.2 809.2L442.7 814.6L448.5 816.5L449.0 820.8L445.2 817.2L440.8 817.2L439.7 813.9L438.3 812.4L438.9 808.4M443.5 841.6L447.6 838.7L447.6 835.4L452.6 831.8L455.3 835.4L455.8 841.3L452.8 844.9L452.3 846.4L449.0 843.1L443.5 841.6M430.4 836.2L433.4 832.1L436.7 825.6L436.4 829.2L432.3 835.1L430.4 836.2M447.1 824.9L449.8 825.9L451.7 823.8L453.4 826.7L451.7 830.3L449.0 829.6L447.1 832.1L445.2 830.3L447.1 824.9M407.9 861.3L410.7 860.6L414.2 857.7L418.9 854.8L423.0 849.3L425.7 846.7L429.3 841.6L431.8 843.8L435.3 847.8L433.1 850.4L431.8 853.7L432.6 858.8L434.8 863.2L432.0 864.6L431.2 866.8M370.4 846.4L375.1 847.8L378.4 851.5L382.7 856.6L385.5 859.5L388.8 863.2L392.3 865.7L393.1 866.8M379.5 866.8L380.0 860.6L377.0 857.7L373.4 852.9L370.7 848.6L370.4 846.4M437.5 866.8L438.1 864.2L440.8 862.4L446.3 863.5L450.4 862.4L452.3 861.0L450.6 865.0L447.6 865.7L442.2 865.0L438.9 866.8M458.6 863.9L460.0 859.5L461.9 861.3L460.0 865.7L458.6 863.9M363.6 817.6L364.1 823.0L363.0 824.5L363.6 817.6M255.7 820.8L258.7 820.8L257.9 821.9L255.7 820.8M127.3 865.3L128.1 866.1L127.6 866.8M250.5 604.9L256.0 599.4L262.8 594.7L271.0 590.3L284.7 587.7L297.0 586.3L290.2 591.4L276.5 595.0L268.3 600.5L264.2 607.8L257.3 608.5L250.5 604.9M139.6 576.8L147.8 575.0L158.8 574.2L169.7 573.9L183.4 574.2L177.9 577.5L164.3 579.4L167.0 582.3L158.8 585.9L151.9 587.0L147.8 583.0L141.0 580.4L139.6 576.8M369.6 578.6L377.8 575.0L383.3 571.3L394.2 576.8L388.8 581.2L380.6 582.3L369.6 578.6M484.6 591.4L492.8 589.6L506.5 591.4L520.2 592.5L509.2 593.9L495.5 597.2L484.6 591.4M598.2 607.8L603.7 606.0L609.2 607.1L605.1 608.5L598.2 607.8M766.6 741.0L764.7 741.0L761.7 733.7L760.0 728.9L756.2 724.5L755.1 719.4L755.6 713.6L755.4 706.3L755.9 698.3L754.0 693.5L753.7 690.2L759.2 690.6L759.5 694.3L760.6 689.9L758.4 688.1L757.0 686.2L752.9 684.4L748.8 680.8L745.5 676.0L742.8 671.6L738.4 668.0L738.7 664.3L734.6 660.7L729.6 657.1L724.2 654.1L718.7 651.6L713.2 648.7L706.4 647.9L699.5 647.6L695.4 645.7L689.9 644.3L684.5 643.6L685.8 646.8L680.4 650.5L674.9 651.6L673.5 655.2L668.0 657.1L662.6 660.7L657.1 664.3L650.2 666.9L643.9 667.6L650.2 664.3L655.7 661.4L661.2 657.8L663.9 654.1L659.8 652.3L655.7 652.7L651.6 653.0L651.1 649.8L645.6 648.7L643.4 646.1L642.0 642.5L641.2 638.8L644.8 636.3L650.2 635.2L654.3 635.2L653.8 631.5L648.9 631.5L640.7 631.5L635.2 627.9L639.3 626.0L644.8 625.0L651.6 625.7L647.5 622.4L644.8 618.8L640.7 615.5L647.5 612.5L654.3 609.6L662.6 608.2L666.7 606.7L673.5 608.2L684.5 610.0L695.4 611.1L706.4 612.5L714.6 615.1L722.8 615.1L728.3 612.5L736.5 611.5L743.3 613.3L750.2 613.3L755.6 610.7L761.1 612.2L766.6 613.3M744.7 681.5L748.8 683.7L752.9 687.0L757.0 690.2L755.1 690.2L750.2 688.1L746.1 684.4L744.7 681.5M731.0 669.8L734.6 671.3L735.9 675.3L733.7 677.1L731.0 673.5L731.0 669.8M673.5 656.0L677.6 655.6L678.4 658.1L674.3 659.6L672.7 657.8L673.5 656.0M625.0 634.4L629.7 634.8L633.3 636.3L629.7 637.0L625.6 635.9L625.0 634.4M637.9 668.4L633.8 670.2L629.7 672.0M620.1 672.4L616.0 673.8M611.9 677.5L607.8 678.2M668.3 797.5L670.2 795.7L671.0 794.6L668.9 793.1L668.3 797.5M666.4 791.7L667.8 790.6L666.1 790.2M662.0 789.1L663.4 788.0L662.0 787.6M658.2 786.9L659.0 785.8M750.2 606.0L757.0 603.1L762.5 597.6L766.6 596.9M755.6 589.6L761.1 587.7L766.6 587.7" fill="none" stroke="#8a8a8a" stroke-width="1.2" stroke-linejoin="round" stroke-linecap="round"/></g>
<clipPath id="cb"><rect x="109.5" y="538.5" width="657.1" height="328.3"/></clipPath><g clip-path="url(#cb)" fill="#000" stroke="#fff" stroke-width="0.5" stroke-linejoin="miter" paint-order="stroke"><path d="M675.0 859.4L680.1 857.3L680.3 860.1L683.9 855.1L677.8 854.1L679.6 856.2L674.6 858.3Z"/><path d="M689.8 857.6L695.3 857.6L694.4 860.3L699.6 857.0L694.4 853.7L695.3 856.4L689.8 856.4Z"/><path d="M705.4 855.7L710.4 857.8L708.6 859.9L714.7 858.9L711.1 853.9L710.9 856.7L705.8 854.6Z"/><path d="M720.8 855.7L725.8 857.8L724.0 859.9L730.1 858.9L726.5 853.9L726.3 856.7L721.2 854.6Z"/><path d="M674.4 844.8L679.9 844.8L679.0 847.5L684.2 844.2L679.0 840.9L679.9 843.6L674.4 843.6Z"/><path d="M688.2 845.0L695.5 845.0L694.3 848.6L701.2 844.2L694.3 839.9L695.5 843.4L688.2 843.4Z"/><path d="M703.6 845.0L710.9 845.0L709.7 848.6L716.6 844.2L709.7 839.9L710.9 843.4L703.6 843.4Z"/><path d="M719.0 845.0L726.3 845.0L725.1 848.6L732.0 844.2L725.1 839.9L726.3 843.4L719.0 843.4Z"/><path d="M736.0 844.8L741.5 844.8L740.6 847.5L745.8 844.2L740.6 840.9L741.5 843.6L736.0 843.6Z"/><path d="M298.2 834.5L294.3 830.6L296.8 829.3L290.8 828.0L292.2 834.0L293.5 831.4L297.3 835.3Z"/><path d="M314.6 830.8L309.1 830.8L310.0 828.1L304.8 831.4L310.0 834.7L309.1 832.0L314.6 832.0Z"/><path d="M328.1 827.5L324.3 831.4L323.0 828.9L321.6 834.9L327.6 833.5L325.1 832.3L329.0 828.4Z"/><path d="M436.0 827.5L432.1 831.4L430.8 828.9L429.5 834.9L435.4 833.5L432.9 832.3L436.8 828.4Z"/><path d="M468.6 830.8L463.1 830.8L464.0 828.1L458.8 831.4L464.0 834.7L463.1 832.0L468.6 832.0Z"/><path d="M483.4 829.0L478.3 831.1L478.1 828.3L474.6 833.3L480.6 834.4L478.8 832.2L483.9 830.1Z"/><path d="M566.6 832.0L572.1 832.0L571.2 834.7L576.4 831.4L571.2 828.1L572.1 830.8L566.6 830.8Z"/><path d="M582.6 833.9L587.7 831.8L587.9 834.6L591.5 829.6L585.4 828.5L587.2 830.6L582.2 832.7Z"/><path d="M598.0 833.9L603.1 831.8L603.3 834.6L606.9 829.6L600.8 828.5L602.6 830.6L597.6 832.7Z"/><path d="M660.0 828.4L663.9 832.3L661.4 833.5L667.4 834.9L666.0 828.9L664.8 831.4L660.9 827.5Z"/><path d="M674.6 830.1L679.6 832.2L677.8 834.4L683.9 833.3L680.3 828.3L680.1 831.1L675.0 829.0Z"/><path d="M688.2 832.2L695.5 832.2L694.3 835.8L701.2 831.4L694.3 827.1L695.5 830.6L688.2 830.6Z"/><path d="M701.9 832.5L711.1 832.5L709.6 837.0L718.4 831.4L709.6 825.9L711.1 830.4L701.9 830.4Z"/><path d="M717.3 832.5L726.5 832.5L725.0 837.0L733.8 831.4L725.0 825.9L726.5 830.4L717.3 830.4Z"/><path d="M735.2 834.7L742.0 831.9L742.2 835.6L746.9 828.9L738.9 827.6L741.3 830.4L734.6 833.2Z"/><path d="M752.3 836.6L757.5 831.4L759.1 834.8L760.9 826.8L753.0 828.6L756.3 830.3L751.2 835.5Z"/><path d="M166.8 821.1L171.9 819.0L172.1 821.8L175.6 816.8L169.6 815.7L171.4 817.9L166.3 820.0Z"/><path d="M298.2 821.7L294.3 817.8L296.8 816.5L290.8 815.2L292.2 821.2L293.5 818.7L297.3 822.5Z"/><path d="M314.6 818.0L309.1 818.0L310.0 815.4L304.8 818.6L310.0 821.9L309.1 819.3L314.6 819.3Z"/><path d="M328.1 814.8L324.3 818.6L323.0 816.1L321.6 822.1L327.6 820.8L325.1 819.5L329.0 815.6Z"/><path d="M468.6 818.0L463.1 818.0L464.0 815.4L458.8 818.6L464.0 821.9L463.1 819.3L468.6 819.3Z"/><path d="M483.4 816.2L478.3 818.3L478.1 815.5L474.6 820.5L480.6 821.6L478.8 819.4L483.9 817.3Z"/><path d="M498.8 816.2L493.7 818.3L493.5 815.5L490.0 820.5L496.0 821.6L494.2 819.4L499.3 817.3Z"/><path d="M705.4 817.3L710.4 819.4L708.6 821.6L714.7 820.5L711.1 815.5L710.9 818.3L705.8 816.2Z"/><path d="M720.6 819.3L726.1 819.3L725.2 821.9L730.4 818.6L725.2 815.4L726.1 818.0L720.6 818.0Z"/><path d="M736.6 821.1L741.7 819.0L741.9 821.8L745.5 816.8L739.4 815.7L741.2 817.9L736.2 820.0Z"/><path d="M752.3 823.8L757.5 818.7L759.1 822.0L760.9 814.0L753.0 815.8L756.3 817.5L751.2 822.7Z"/><path d="M112.5 802.0L108.7 805.8L107.4 803.3L106.0 809.3L112.0 808.0L109.5 806.7L113.4 802.8Z"/><path d="M124.3 801.0L124.3 806.4L121.6 805.6L124.9 810.8L128.2 805.6L125.5 806.4L125.5 801.0Z"/><path d="M150.9 804.5L156.0 806.6L154.2 808.8L160.2 807.7L156.7 802.7L156.5 805.5L151.4 803.4Z"/><path d="M164.6 806.7L171.9 806.7L170.7 810.2L177.6 805.9L170.7 801.5L171.9 805.1L164.6 805.1Z"/><path d="M182.2 808.3L187.3 806.2L187.5 809.0L191.0 804.0L185.0 802.9L186.8 805.1L181.7 807.2Z"/><path d="M198.9 809.8L202.8 805.9L204.0 808.4L205.4 802.4L199.4 803.7L201.9 805.0L198.0 808.9Z"/><path d="M282.8 808.9L278.9 805.0L281.4 803.7L275.4 802.4L276.8 808.4L278.1 805.9L281.9 809.8Z"/><path d="M299.5 809.9L294.3 804.7L297.7 803.1L289.7 801.3L291.5 809.2L293.2 805.9L298.3 811.0Z"/><path d="M314.6 805.3L309.1 805.3L310.0 802.6L304.8 805.9L310.0 809.1L309.1 806.5L314.6 806.5Z"/><path d="M328.1 802.0L324.3 805.8L323.0 803.3L321.6 809.3L327.6 808.0L325.1 806.7L329.0 802.8Z"/><path d="M341.8 801.1L339.7 806.2L337.6 804.3L338.6 810.4L343.7 806.8L340.8 806.6L342.9 801.6Z"/><path d="M353.5 801.6L355.6 806.6L352.8 806.8L357.8 810.4L358.8 804.3L356.7 806.2L354.6 801.1Z"/><path d="M366.4 806.5L371.9 806.5L371.0 809.1L376.2 805.9L371.0 802.6L371.9 805.3L366.4 805.3Z"/><path d="M382.4 808.3L387.5 806.2L387.7 809.0L391.2 804.0L385.2 802.9L387.0 805.1L382.0 807.2Z"/><path d="M399.1 809.8L403.0 805.9L404.2 808.4L405.6 802.4L399.6 803.7L402.1 805.0L398.2 808.9Z"/><path d="M416.2 810.6L418.3 805.5L420.4 807.4L419.4 801.3L414.4 804.9L417.2 805.1L415.1 810.2Z"/><path d="M483.4 803.4L478.3 805.5L478.1 802.7L474.6 807.7L480.6 808.8L478.8 806.6L483.9 804.5Z"/><path d="M697.8 802.0L693.9 805.8L692.6 803.3L691.3 809.3L697.3 808.0L694.7 806.7L698.6 802.8Z"/><path d="M755.0 810.6L757.1 805.5L759.3 807.4L758.2 801.3L753.2 804.9L756.0 805.1L753.9 810.2Z"/><path d="M112.5 789.2L108.7 793.1L107.4 790.5L106.0 796.5L112.0 795.2L109.5 793.9L113.4 790.0Z"/><path d="M124.1 786.6L124.1 793.9L120.5 792.7L124.9 799.6L129.3 792.7L125.7 793.9L125.7 786.6Z"/><path d="M137.9 788.8L140.0 793.9L137.2 794.1L142.2 797.6L143.2 791.5L141.1 793.4L139.0 788.3Z"/><path d="M149.4 791.3L156.1 794.1L153.7 796.9L161.7 795.6L157.0 788.9L156.7 792.6L150.0 789.8Z"/><path d="M164.6 793.9L171.9 793.9L170.7 797.4L177.6 793.1L170.7 788.7L171.9 792.3L164.6 792.3Z"/><path d="M180.8 796.3L187.5 793.5L187.8 797.2L192.5 790.6L184.5 789.2L186.9 792.0L180.2 794.8Z"/><path d="M197.9 798.2L203.0 793.1L204.7 796.4L206.5 788.5L198.5 790.3L201.9 792.0L196.7 797.1Z"/><path d="M214.3 797.0L218.2 793.1L219.4 795.6L220.8 789.6L214.8 791.0L217.3 792.2L213.4 796.1Z"/><path d="M267.4 796.1L263.5 792.2L266.0 791.0L260.0 789.6L261.4 795.6L262.7 793.1L266.5 797.0Z"/><path d="M284.1 797.1L278.9 792.0L282.3 790.3L274.3 788.5L276.1 796.4L277.8 793.1L282.9 798.2Z"/><path d="M299.5 797.1L294.3 792.0L297.7 790.3L289.7 788.5L291.5 796.4L293.2 793.1L298.3 798.2Z"/><path d="M316.2 792.3L308.9 792.3L310.1 788.7L303.2 793.1L310.1 797.4L308.9 793.9L316.2 793.9Z"/><path d="M329.1 787.9L324.0 793.1L322.3 789.7L320.5 797.7L328.5 795.9L325.1 794.2L330.3 789.0Z"/><path d="M342.3 786.8L339.5 793.5L336.6 791.0L338.0 799.1L344.7 794.4L341.0 794.1L343.7 787.4Z"/><path d="M355.1 786.6L355.1 793.9L351.6 792.7L355.9 799.6L360.3 792.7L356.7 793.9L356.7 786.6Z"/><path d="M367.4 790.0L371.3 793.9L368.8 795.2L374.8 796.5L373.4 790.5L372.2 793.1L368.3 789.2Z"/><path d="M380.2 793.9L387.5 793.9L386.3 797.4L393.2 793.1L386.3 788.7L387.5 792.3L380.2 792.3Z"/><path d="M396.4 796.3L403.1 793.5L403.4 797.2L408.1 790.6L400.1 789.2L402.5 792.0L395.8 794.8Z"/><path d="M413.5 798.2L418.6 793.1L420.3 796.4L422.1 788.5L414.2 790.3L417.5 792.0L412.3 797.1Z"/><path d="M427.2 796.3L433.9 793.5L434.2 797.2L438.9 790.6L430.9 789.2L433.3 792.0L426.6 794.8Z"/><path d="M445.3 797.0L449.2 793.1L450.4 795.6L451.8 789.6L445.8 791.0L448.3 792.2L444.4 796.1Z"/><path d="M572.8 788.3L570.7 793.4L568.6 791.5L569.6 797.6L574.7 794.1L571.9 793.9L574.0 788.8Z"/><path d="M613.4 795.5L618.5 793.4L618.7 796.2L622.3 791.2L616.2 790.2L618.0 792.3L613.0 794.4Z"/><path d="M682.4 789.2L678.5 793.1L677.2 790.5L675.9 796.5L681.9 795.2L679.3 793.9L683.2 790.0Z"/><path d="M697.8 789.2L693.9 793.1L692.6 790.5L691.3 796.5L697.3 795.2L694.7 793.9L698.6 790.0Z"/><path d="M713.2 789.2L709.3 793.1L708.0 790.5L706.7 796.5L712.7 795.2L710.1 793.9L714.0 790.0Z"/><path d="M729.8 790.6L724.8 792.7L724.5 789.9L721.0 795.0L727.1 796.0L725.2 793.9L730.3 791.8Z"/><path d="M112.5 776.4L108.7 780.3L107.4 777.8L106.0 783.8L112.0 782.4L109.5 781.1L113.4 777.3Z"/><path d="M124.1 773.8L124.1 781.1L120.5 779.9L124.9 786.8L129.3 779.9L125.7 781.1L125.7 773.8Z"/><path d="M139.5 773.8L139.5 781.1L135.9 779.9L140.3 786.8L144.7 779.9L141.1 781.1L141.1 773.8Z"/><path d="M151.8 777.3L155.7 781.1L153.2 782.4L159.2 783.8L157.8 777.8L156.5 780.3L152.7 776.4Z"/><path d="M164.8 778.5L171.5 781.3L169.1 784.2L177.1 782.8L172.4 776.1L172.1 779.8L165.4 777.1Z"/><path d="M180.8 783.5L187.5 780.7L187.8 784.5L192.5 777.8L184.5 776.4L186.9 779.2L180.2 782.0Z"/><path d="M197.9 785.5L203.0 780.3L204.7 783.6L206.5 775.7L198.5 777.5L201.9 779.2L196.7 784.3Z"/><path d="M213.3 785.5L218.4 780.3L220.1 783.6L221.9 775.7L214.0 777.5L217.3 779.2L212.1 784.3Z"/><path d="M229.7 784.2L233.6 780.3L234.8 782.8L236.2 776.8L230.2 778.2L232.7 779.4L228.8 783.3Z"/><path d="M248.9 786.8L248.9 779.5L252.5 780.7L248.1 773.8L243.8 780.7L247.3 779.5L247.3 786.8Z"/><path d="M268.7 784.3L263.5 779.2L266.9 777.5L258.9 775.7L260.7 783.6L262.4 780.3L267.5 785.5Z"/><path d="M285.5 785.4L278.9 778.9L283.2 776.7L273.1 774.5L275.4 784.5L277.5 780.3L284.0 786.8Z"/><path d="M299.5 784.3L294.3 779.2L297.7 777.5L289.7 775.7L291.5 783.6L293.2 780.3L298.3 785.5Z"/><path d="M316.2 779.5L308.9 779.5L310.1 775.9L303.2 780.3L310.1 784.6L308.9 781.1L316.2 781.1Z"/><path d="M329.1 775.1L324.0 780.3L322.3 776.9L320.5 784.9L328.5 783.1L325.1 781.4L330.3 776.3Z"/><path d="M342.7 772.3L339.2 780.8L335.6 777.7L337.4 787.9L345.8 781.9L341.1 781.6L344.6 773.1Z"/><path d="M354.9 772.0L354.9 781.3L350.4 779.8L355.9 788.5L361.4 779.8L356.9 781.3L356.9 772.0Z"/><path d="M366.1 776.3L371.3 781.4L368.0 783.1L375.9 784.9L374.1 776.9L372.4 780.3L367.3 775.1Z"/><path d="M380.2 781.1L387.5 781.1L386.3 784.6L393.2 780.3L386.3 775.9L387.5 779.5L380.2 779.5Z"/><path d="M394.9 784.4L403.4 780.9L403.8 785.6L409.7 777.1L399.5 775.4L402.6 779.0L394.1 782.5Z"/><path d="M410.3 784.4L418.8 780.9L419.2 785.6L425.1 777.1L414.9 775.4L418.0 779.0L409.5 782.5Z"/><path d="M425.7 784.4L434.2 780.9L434.6 785.6L440.5 777.1L430.3 775.4L433.4 779.0L424.9 782.5Z"/><path d="M442.6 783.5L449.3 780.7L449.6 784.5L454.3 777.8L446.3 776.4L448.7 779.2L442.0 782.0Z"/><path d="M459.4 782.7L464.5 780.6L464.7 783.4L468.2 778.4L462.2 777.4L464.0 779.5L459.0 781.6Z"/><path d="M474.2 780.9L479.7 780.9L478.8 783.6L484.0 780.3L478.8 777.0L479.7 779.7L474.2 779.7Z"/><path d="M545.6 779.7L540.1 779.7L541.0 777.0L535.8 780.3L541.0 783.6L540.1 780.9L545.6 780.9Z"/><path d="M557.4 775.5L555.3 780.6L553.2 778.8L554.2 784.8L559.3 781.3L556.5 781.1L558.6 776.0Z"/><path d="M570.9 775.4L570.9 780.9L568.2 780.0L571.5 785.2L574.8 780.0L572.1 780.9L572.1 775.4Z"/><path d="M612.8 780.9L618.3 780.9L617.4 783.6L622.6 780.3L617.4 777.0L618.3 779.7L612.8 779.7Z"/><path d="M630.1 784.2L634.0 780.3L635.2 782.8L636.6 776.8L630.6 778.2L633.1 779.4L629.2 783.3Z"/><path d="M697.8 776.4L693.9 780.3L692.6 777.8L691.3 783.8L697.3 782.4L694.7 781.1L698.6 777.3Z"/><path d="M713.2 776.4L709.3 780.3L708.0 777.8L706.7 783.8L712.7 782.4L710.1 781.1L714.0 777.3Z"/><path d="M729.8 777.9L724.8 780.0L724.5 777.1L721.0 782.2L727.1 783.2L725.2 781.1L730.3 779.0Z"/><path d="M745.8 779.7L740.3 779.7L741.2 777.0L736.0 780.3L741.2 783.6L740.3 780.9L745.8 780.9Z"/><path d="M761.1 781.6L756.0 779.5L757.9 777.4L751.8 778.4L755.3 783.4L755.6 780.6L760.6 782.7Z"/><path d="M112.5 763.6L108.7 767.5L107.4 765.0L106.0 771.0L112.0 769.6L109.5 768.4L113.4 764.5Z"/><path d="M127.1 759.5L123.6 768.0L120.0 764.9L121.7 775.1L130.2 769.2L125.5 768.8L129.0 760.3Z"/><path d="M145.4 760.9L138.9 767.5L136.7 763.2L134.5 773.3L144.6 771.1L140.3 768.9L146.9 762.4Z"/><path d="M160.8 760.9L154.3 767.5L152.1 763.2L149.9 773.3L160.0 771.1L155.7 768.9L162.3 762.4Z"/><path d="M175.1 762.3L170.0 767.5L168.3 764.1L166.5 772.1L174.5 770.3L171.1 768.6L176.3 763.5Z"/><path d="M197.9 772.7L203.0 767.5L204.7 770.9L206.5 762.9L198.5 764.7L201.9 766.4L196.7 771.5Z"/><path d="M215.6 773.8L218.3 767.1L221.2 769.5L219.8 761.5L213.1 766.2L216.9 766.5L214.1 773.2Z"/><path d="M233.5 774.0L233.5 766.7L237.1 767.9L232.7 761.0L228.4 767.9L231.9 766.7L231.9 774.0Z"/><path d="M249.1 775.8L249.1 766.5L253.6 768.0L248.1 759.3L242.6 768.0L247.1 766.5L247.1 775.8Z"/><path d="M267.6 774.7L264.1 766.2L268.8 765.8L260.4 759.9L258.6 770.1L262.2 767.0L265.7 775.5Z"/><path d="M282.1 773.2L279.4 766.5L283.1 766.2L276.4 761.5L275.0 769.5L277.9 767.1L280.7 773.8Z"/><path d="M298.2 770.5L294.3 766.7L296.8 765.4L290.8 764.0L292.2 770.0L293.5 767.5L297.3 771.4Z"/><path d="M324.3 761.0L324.3 768.3L320.8 767.1L325.1 774.0L329.5 767.1L325.9 768.3L325.9 761.0Z"/><path d="M339.3 757.5L339.3 768.7L333.8 766.9L340.5 777.5L347.2 766.9L341.8 768.7L341.8 757.5Z"/><path d="M354.7 757.5L354.7 768.7L349.2 766.9L355.9 777.5L362.6 766.9L357.2 768.7L357.2 757.5Z"/><path d="M370.5 761.0L370.5 768.3L367.0 767.1L371.3 774.0L375.7 767.1L372.1 768.3L372.1 761.0Z"/><path d="M382.0 766.2L387.0 768.3L385.2 770.4L391.2 769.4L387.7 764.4L387.5 767.2L382.4 765.1Z"/><path d="M396.4 770.7L403.1 768.0L403.4 771.7L408.1 765.0L400.1 763.6L402.5 766.5L395.8 769.2Z"/><path d="M410.3 771.6L418.8 768.1L419.2 772.8L425.1 764.3L414.9 762.6L418.0 766.2L409.5 769.7Z"/><path d="M425.7 771.6L434.2 768.1L434.6 772.8L440.5 764.3L430.3 762.6L433.4 766.2L424.9 769.7Z"/><path d="M441.1 771.6L449.6 768.1L450.0 772.8L455.9 764.3L445.7 762.6L448.8 766.2L440.3 769.7Z"/><path d="M459.4 769.9L464.5 767.8L464.7 770.7L468.2 765.6L462.2 764.6L464.0 766.7L459.0 768.8Z"/><path d="M474.8 769.9L479.9 767.8L480.1 770.7L483.6 765.6L477.6 764.6L479.4 766.7L474.4 768.8Z"/><path d="M490.2 769.9L495.3 767.8L495.5 770.7L499.0 765.6L493.0 764.6L494.8 766.7L489.8 768.8Z"/><path d="M505.0 768.1L510.5 768.1L509.6 770.8L514.8 767.5L509.6 764.2L510.5 766.9L505.0 766.9Z"/><path d="M555.5 762.6L555.5 768.1L552.8 767.2L556.1 772.4L559.4 767.2L556.7 768.1L556.7 762.6Z"/><path d="M570.9 762.6L570.9 768.1L568.2 767.2L571.5 772.4L574.8 767.2L572.1 768.1L572.1 762.6Z"/><path d="M713.2 763.6L709.3 767.5L708.0 765.0L706.7 771.0L712.7 769.6L710.1 768.4L714.0 764.5Z"/><path d="M729.8 765.1L724.8 767.2L724.5 764.4L721.0 769.4L727.1 770.4L725.2 768.3L730.3 766.2Z"/><path d="M745.8 766.9L740.3 766.9L741.2 764.2L736.0 767.5L741.2 770.8L740.3 768.1L745.8 768.1Z"/><path d="M761.1 768.8L756.0 766.7L757.9 764.6L751.8 765.6L755.3 770.7L755.6 767.8L760.6 769.9Z"/><path d="M113.5 749.6L108.4 754.7L106.7 751.4L104.9 759.3L112.9 757.5L109.5 755.8L114.7 750.7Z"/><path d="M132.1 750.6L123.6 754.2L123.2 749.4L117.3 757.9L127.5 759.6L124.4 756.0L132.9 752.5Z"/><path d="M149.1 749.7L138.7 754.0L138.3 748.3L131.1 758.5L143.4 760.7L139.7 756.3L150.0 752.0Z"/><path d="M164.5 749.7L154.1 754.0L153.7 748.3L146.5 758.5L158.8 760.7L155.1 756.3L165.4 752.0Z"/><path d="M179.9 749.7L169.5 754.0L169.1 748.3L161.9 758.5L174.2 760.7L170.5 756.3L180.8 752.0Z"/><path d="M194.8 753.7L185.5 753.7L187.0 749.2L178.3 754.7L187.0 760.2L185.5 755.7L194.8 755.7Z"/><path d="M208.4 753.9L201.1 753.9L202.3 750.4L195.4 754.7L202.3 759.1L201.1 755.5L208.4 755.5Z"/><path d="M222.5 758.7L217.3 753.6L220.7 751.9L212.7 750.1L214.5 758.1L216.2 754.7L221.3 759.9Z"/><path d="M236.8 762.0L233.3 753.4L238.0 753.1L229.5 747.1L227.8 757.3L231.4 754.2L234.9 762.7Z"/><path d="M249.1 763.0L249.1 753.7L253.6 755.2L248.1 746.5L242.6 755.2L247.1 753.7L247.1 763.0Z"/><path d="M264.5 763.0L264.5 753.7L269.0 755.2L263.5 746.5L258.0 755.2L262.5 753.7L262.5 763.0Z"/><path d="M277.2 761.0L280.0 754.3L282.8 756.7L281.4 748.7L274.7 753.4L278.5 753.7L275.7 760.4Z"/><path d="M290.0 757.2L295.1 755.1L295.3 757.9L298.8 752.8L292.8 751.8L294.6 753.9L289.5 756.0Z"/><path d="M303.4 753.0L310.1 755.8L307.7 758.6L315.7 757.2L311.0 750.5L310.7 754.3L304.0 751.5Z"/><path d="M319.9 750.7L325.1 755.8L321.8 757.5L329.7 759.3L327.9 751.4L326.2 754.7L321.1 749.6Z"/><path d="M339.5 746.5L339.5 755.7L335.0 754.2L340.5 763.0L346.0 754.2L341.5 755.7L341.5 746.5Z"/><path d="M358.1 746.7L354.6 755.2L351.0 752.1L352.8 762.3L361.2 756.4L356.5 756.0L360.0 747.5Z"/><path d="M373.5 746.7L370.0 755.2L366.4 752.1L368.2 762.3L376.6 756.4L371.9 756.0L375.4 747.5Z"/><path d="M388.0 750.0L385.9 755.0L383.8 753.2L384.8 759.2L389.9 755.7L387.1 755.5L389.2 750.4Z"/><path d="M413.2 757.2L418.3 755.1L418.5 757.9L422.0 752.8L416.0 751.8L417.8 753.9L412.8 756.0Z"/><path d="M425.7 758.8L434.2 755.3L434.6 760.0L440.5 751.6L430.3 749.8L433.4 753.4L424.9 756.9Z"/><path d="M441.1 758.8L449.6 755.3L450.0 760.0L455.9 751.6L445.7 749.8L448.8 753.4L440.3 756.9Z"/><path d="M456.5 758.8L465.0 755.3L465.4 760.0L471.3 751.6L461.1 749.8L464.2 753.4L455.7 756.9Z"/><path d="M473.4 758.0L480.1 755.2L480.4 758.9L485.1 752.2L477.1 750.8L479.5 753.7L472.8 756.5Z"/><path d="M488.0 755.5L495.3 755.5L494.1 759.1L501.0 754.7L494.1 750.4L495.3 753.9L488.0 753.9Z"/><path d="M505.6 757.2L510.7 755.1L510.9 757.9L514.4 752.8L508.4 751.8L510.2 753.9L505.2 756.0Z"/><path d="M522.3 758.6L526.2 754.7L527.4 757.2L528.8 751.3L522.8 752.6L525.3 753.9L521.4 757.8Z"/><path d="M536.4 757.2L541.5 755.1L541.7 757.9L545.2 752.8L539.2 751.8L541.0 753.9L536.0 756.0Z"/><path d="M552.2 751.7L556.1 755.6L553.6 756.8L559.6 758.2L558.2 752.2L557.0 754.7L553.1 750.8Z"/><path d="M567.6 751.7L571.5 755.6L569.0 756.8L575.0 758.2L573.6 752.2L572.4 754.7L568.5 750.8Z"/><path d="M584.5 750.4L586.6 755.5L583.8 755.7L588.8 759.2L589.8 753.2L587.7 755.0L585.6 750.0Z"/><path d="M633.7 759.6L633.7 754.1L636.4 755.0L633.1 749.8L629.8 755.0L632.5 754.1L632.5 759.6Z"/><path d="M649.1 759.6L649.1 754.1L651.8 755.0L648.5 749.8L645.2 755.0L647.9 754.1L647.9 759.6Z"/><path d="M116.0 741.1L108.7 741.1L109.9 737.6L103.0 741.9L109.9 746.3L108.7 742.7L116.0 742.7Z"/><path d="M132.1 737.8L123.6 741.4L123.2 736.6L117.3 745.1L127.5 746.9L124.4 743.3L132.9 739.7Z"/><path d="M149.1 737.0L138.7 741.2L138.3 735.5L131.1 745.8L143.4 747.9L139.7 743.5L150.0 739.3Z"/><path d="M164.5 737.0L154.1 741.2L153.7 735.5L146.5 745.8L158.8 747.9L155.1 743.5L165.4 739.3Z"/><path d="M181.1 740.7L169.9 740.7L171.7 735.2L161.1 741.9L171.7 748.6L169.9 743.2L181.1 743.2Z"/><path d="M196.5 740.7L185.3 740.7L187.1 735.2L176.5 741.9L187.1 748.6L185.3 743.2L196.5 743.2Z"/><path d="M211.9 740.7L200.7 740.7L202.5 735.2L191.9 741.9L202.5 748.6L200.7 743.2L211.9 743.2Z"/><path d="M225.6 740.9L216.3 740.9L217.8 736.4L209.1 741.9L217.8 747.5L216.3 743.0L225.6 743.0Z"/><path d="M239.3 747.0L232.7 740.5L237.0 738.4L226.9 736.1L229.1 746.2L231.3 742.0L237.8 748.5Z"/><path d="M251.3 747.6L248.6 740.9L252.3 740.6L245.6 735.9L244.2 744.0L247.1 741.5L249.8 748.2Z"/><path d="M264.3 748.4L264.3 741.2L267.9 742.3L263.5 735.4L259.2 742.3L262.7 741.2L262.7 748.4Z"/><path d="M275.9 745.8L279.8 741.9L281.0 744.5L282.4 738.5L276.4 739.8L278.9 741.1L275.0 745.0Z"/><path d="M287.8 742.7L295.1 742.7L293.9 746.3L300.8 741.9L293.9 737.6L295.1 741.1L287.8 741.1Z"/><path d="M303.4 740.2L310.1 743.0L307.7 745.8L315.7 744.4L311.0 737.8L310.7 741.5L304.0 738.7Z"/><path d="M319.9 737.9L325.1 743.1L321.8 744.7L329.7 746.5L327.9 738.6L326.2 741.9L321.1 736.8Z"/><path d="M337.3 736.2L340.1 743.0L336.3 743.2L343.0 747.9L344.4 739.9L341.6 742.3L338.8 735.6Z"/><path d="M357.7 735.6L354.9 742.3L352.0 739.9L353.4 747.9L360.1 743.2L356.4 743.0L359.1 736.2Z"/><path d="M376.4 735.4L369.9 741.9L367.8 737.7L365.5 747.8L375.6 745.5L371.3 743.4L377.9 736.8Z"/><path d="M392.9 734.0L385.0 741.9L382.4 736.8L379.6 749.0L391.9 746.2L386.7 743.7L394.7 735.7Z"/><path d="M409.3 737.8L400.8 741.4L400.5 736.6L394.5 745.1L404.7 746.9L401.6 743.3L410.1 739.7Z"/><path d="M422.4 741.3L416.9 741.3L417.8 738.7L412.6 741.9L417.8 745.2L416.9 742.5L422.4 742.5Z"/><path d="M445.3 745.8L449.2 741.9L450.4 744.5L451.8 738.5L445.8 739.8L448.3 741.1L444.4 745.0Z"/><path d="M458.0 745.2L464.7 742.4L465.0 746.1L469.7 739.4L461.7 738.1L464.1 740.9L457.4 743.7Z"/><path d="M474.8 744.4L479.9 742.3L480.1 745.1L483.6 740.1L477.6 739.0L479.4 741.1L474.4 743.2Z"/><path d="M488.0 742.7L495.3 742.7L494.1 746.3L501.0 741.9L494.1 737.6L495.3 741.1L488.0 741.1Z"/><path d="M503.4 742.7L510.7 742.7L509.5 746.3L516.4 741.9L509.5 737.6L510.7 741.1L503.4 741.1Z"/><path d="M518.1 746.0L526.6 742.5L527.0 747.2L532.9 738.8L522.7 737.0L525.8 740.6L517.3 744.1Z"/><path d="M530.7 743.2L541.9 743.2L540.1 748.6L550.7 741.9L540.1 735.2L541.9 740.7L530.7 740.7Z"/><path d="M548.1 739.7L556.6 743.3L553.6 746.9L563.7 745.1L557.8 736.6L557.4 741.4L548.9 737.8Z"/><path d="M565.2 740.2L571.9 743.0L569.5 745.8L577.5 744.4L572.8 737.8L572.6 741.5L565.8 738.7Z"/><path d="M580.6 740.2L587.3 743.0L584.9 745.8L592.9 744.4L588.2 737.8L588.0 741.5L581.2 738.7Z"/><path d="M597.6 740.6L602.6 742.7L600.8 744.9L606.9 743.8L603.3 738.8L603.1 741.6L598.0 739.5Z"/><path d="M613.4 744.4L618.5 742.3L618.7 745.1L622.3 740.1L616.2 739.0L618.0 741.1L613.0 743.2Z"/><path d="M633.7 746.8L633.7 741.3L636.4 742.2L633.1 737.0L629.8 742.2L632.5 741.3L632.5 746.8Z"/><path d="M649.1 746.8L649.1 741.3L651.8 742.2L648.5 737.0L645.2 742.2L647.9 741.3L647.9 746.8Z"/><path d="M114.4 728.5L108.9 728.5L109.8 725.9L104.6 729.1L109.8 732.4L108.9 729.8L114.4 729.8Z"/><path d="M131.4 728.3L124.1 728.3L125.3 724.8L118.4 729.1L125.3 733.5L124.1 730.0L131.4 730.0Z"/><path d="M146.0 725.9L139.3 728.7L139.0 725.0L134.3 731.6L142.3 733.0L139.9 730.2L146.6 727.4Z"/><path d="M161.4 725.9L154.7 728.7L154.4 725.0L149.7 731.6L157.7 733.0L155.3 730.2L162.0 727.4Z"/><path d="M177.6 728.3L170.3 728.3L171.5 724.8L164.6 729.1L171.5 733.5L170.3 730.0L177.6 730.0Z"/><path d="M193.7 725.0L185.2 728.6L184.8 723.9L178.9 732.3L189.1 734.1L186.0 730.5L194.5 726.9Z"/><path d="M211.9 727.9L200.7 727.9L202.5 722.4L191.9 729.1L202.5 735.9L200.7 730.4L211.9 730.4Z"/><path d="M227.3 727.9L216.1 727.9L217.9 722.4L207.3 729.1L217.9 735.9L216.1 730.4L227.3 730.4Z"/><path d="M241.0 728.1L231.7 728.1L233.2 723.6L224.5 729.1L233.2 734.7L231.7 730.2L241.0 730.2Z"/><path d="M253.3 733.2L248.1 728.0L251.5 726.3L243.5 724.6L245.3 732.5L247.0 729.2L252.1 734.3Z"/><path d="M265.9 733.4L263.8 728.4L266.7 728.2L261.6 724.6L260.6 730.7L262.7 728.8L264.8 733.9Z"/><path d="M289.4 729.8L294.9 729.8L294.0 732.4L299.2 729.1L294.0 725.9L294.9 728.5L289.4 728.5Z"/><path d="M303.2 730.0L310.5 730.0L309.3 733.5L316.2 729.1L309.3 724.8L310.5 728.3L303.2 728.3Z"/><path d="M318.8 727.4L325.5 730.2L323.1 733.0L331.1 731.6L326.4 725.0L326.1 728.7L319.4 725.9Z"/><path d="M357.2 724.4L355.1 729.5L353.0 727.6L354.0 733.7L359.1 730.1L356.2 729.9L358.3 724.9Z"/><path d="M375.3 724.0L370.2 729.1L368.5 725.8L366.7 733.7L374.7 732.0L371.3 730.3L376.5 725.1Z"/><path d="M392.9 721.2L385.0 729.1L382.4 724.0L379.6 736.2L391.9 733.5L386.7 730.9L394.7 723.0Z"/><path d="M410.9 724.2L400.5 728.5L400.1 722.7L392.9 733.0L405.2 735.1L401.5 730.8L411.8 726.5Z"/><path d="M426.3 724.2L415.9 728.5L415.5 722.7L408.3 733.0L420.6 735.1L416.9 730.8L427.2 726.5Z"/><path d="M438.6 725.9L431.9 728.7L431.6 725.0L426.9 731.6L434.9 733.0L432.5 730.2L439.2 727.4Z"/><path d="M452.2 732.2L448.3 728.3L450.8 727.0L444.9 725.7L446.2 731.7L447.5 729.2L451.4 733.0Z"/><path d="M505.0 729.8L510.5 729.8L509.6 732.4L514.8 729.1L509.6 725.9L510.5 728.5L505.0 728.5Z"/><path d="M518.8 730.0L526.1 730.0L524.9 733.5L531.8 729.1L524.9 724.8L526.1 728.3L518.8 728.3Z"/><path d="M532.5 730.2L541.7 730.2L540.2 734.7L549.0 729.1L540.2 723.6L541.7 728.1L532.5 728.1Z"/><path d="M546.4 726.5L556.8 730.8L553.0 735.1L565.4 733.0L558.1 722.7L557.7 728.5L547.4 724.2Z"/><path d="M563.3 730.2L572.5 730.2L571.0 734.7L579.8 729.1L571.0 723.6L572.5 728.1L563.3 728.1Z"/><path d="M578.7 730.2L587.9 730.2L586.4 734.7L595.2 729.1L586.4 723.6L587.9 728.1L578.7 728.1Z"/><path d="M595.8 730.0L603.1 730.0L601.9 733.5L608.8 729.1L601.9 724.8L603.1 728.3L595.8 728.3Z"/><path d="M614.7 733.0L618.6 729.2L619.8 731.7L621.2 725.7L615.2 727.0L617.7 728.3L613.8 732.2Z"/><path d="M633.9 735.6L633.9 728.4L637.5 729.5L633.1 722.6L628.8 729.5L632.3 728.4L632.3 735.6Z"/><path d="M649.3 735.6L649.3 728.4L652.9 729.5L648.5 722.6L644.2 729.5L647.7 728.4L647.7 735.6Z"/><path d="M114.4 715.8L108.9 715.8L109.8 713.1L104.6 716.4L109.8 719.6L108.9 717.0L114.4 717.0Z"/><path d="M129.8 715.8L124.3 715.8L125.2 713.1L120.0 716.4L125.2 719.6L124.3 717.0L129.8 717.0Z"/><path d="M144.6 713.9L139.5 716.0L139.3 713.2L135.8 718.2L141.8 719.3L140.0 717.2L145.1 715.1Z"/><path d="M160.6 715.8L155.1 715.8L156.0 713.1L150.8 716.4L156.0 719.6L155.1 717.0L160.6 717.0Z"/><path d="M178.3 712.3L169.8 715.8L169.4 711.1L163.5 719.5L173.7 721.3L170.6 717.7L179.1 714.2Z"/><path d="M192.2 713.1L185.5 715.9L185.2 712.2L180.5 718.9L188.5 720.2L186.1 717.4L192.8 714.6Z"/><path d="M208.4 715.6L201.1 715.6L202.3 712.0L195.4 716.4L202.3 720.7L201.1 717.2L208.4 717.2Z"/><path d="M223.8 715.6L216.5 715.6L217.7 712.0L210.8 716.4L217.7 720.7L216.5 717.2L223.8 717.2Z"/><path d="M239.2 715.6L231.9 715.6L233.1 712.0L226.2 716.4L233.1 720.7L231.9 717.2L239.2 717.2Z"/><path d="M254.6 715.6L247.3 715.6L248.5 712.0L241.6 716.4L248.5 720.7L247.3 717.2L254.6 717.2Z"/><path d="M289.5 715.1L294.6 717.2L292.8 719.3L298.8 718.2L295.3 713.2L295.1 716.0L290.0 713.9Z"/><path d="M305.0 715.1L310.0 717.2L308.2 719.3L314.2 718.2L310.7 713.2L310.5 716.0L305.4 713.9Z"/><path d="M320.2 717.0L325.7 717.0L324.8 719.6L330.0 716.4L324.8 713.1L325.7 715.8L320.2 715.8Z"/><path d="M390.7 711.2L385.6 716.3L383.9 713.0L382.1 721.0L390.1 719.2L386.7 717.5L391.9 712.3Z"/><path d="M409.3 712.3L400.8 715.8L400.5 711.1L394.5 719.5L404.7 721.3L401.6 717.7L410.1 714.2Z"/><path d="M424.7 712.3L416.2 715.8L415.9 711.1L409.9 719.5L420.1 721.3L417.0 717.7L425.5 714.2Z"/><path d="M440.1 712.3L431.6 715.8L431.3 711.1L425.3 719.5L435.5 721.3L432.4 717.7L440.9 714.2Z"/><path d="M453.2 715.8L447.7 715.8L448.6 713.1L443.4 716.4L448.6 719.6L447.7 717.0L453.2 717.0Z"/><path d="M468.6 715.8L463.1 715.8L464.0 713.1L458.8 716.4L464.0 719.6L463.1 717.0L468.6 717.0Z"/><path d="M536.0 715.1L541.0 717.2L539.2 719.3L545.2 718.2L541.7 713.2L541.5 716.0L536.4 713.9Z"/><path d="M549.8 714.6L556.5 717.4L554.1 720.2L562.1 718.9L557.4 712.2L557.2 715.9L550.4 713.1Z"/><path d="M565.0 717.2L572.3 717.2L571.1 720.7L578.0 716.4L571.1 712.0L572.3 715.6L565.0 715.6Z"/><path d="M580.4 717.2L587.7 717.2L586.5 720.7L593.4 716.4L586.5 712.0L587.7 715.6L580.4 715.6Z"/><path d="M599.3 720.3L603.2 716.4L604.4 718.9L605.8 712.9L599.8 714.3L602.3 715.5L598.4 719.4Z"/><path d="M618.5 722.9L618.5 715.6L622.1 716.8L617.7 709.9L613.4 716.8L616.9 715.6L616.9 722.9Z"/><path d="M633.9 722.9L633.9 715.6L637.5 716.8L633.1 709.9L628.8 716.8L632.3 715.6L632.3 722.9Z"/><path d="M649.3 722.9L649.3 715.6L652.9 716.8L648.5 709.9L644.2 716.8L647.7 715.6L647.7 722.9Z"/><path d="M752.0 718.8L757.1 716.7L757.3 719.5L760.9 714.5L754.8 713.4L756.6 715.6L751.6 717.7Z"/><path d="M172.4 698.8L170.3 703.9L168.2 702.1L169.2 708.1L174.2 704.6L171.4 704.4L173.5 699.3Z"/><path d="M187.8 698.8L185.7 703.9L183.6 702.1L184.6 708.1L189.6 704.6L186.8 704.4L188.9 699.3Z"/><path d="M204.9 699.7L201.1 703.6L199.8 701.1L198.4 707.0L204.4 705.7L201.9 704.4L205.8 700.5Z"/><path d="M275.0 700.5L278.9 704.4L276.4 705.7L282.4 707.0L281.0 701.1L279.8 703.6L275.9 699.7Z"/><path d="M290.4 700.5L294.3 704.4L291.8 705.7L297.8 707.0L296.4 701.1L295.2 703.6L291.3 699.7Z"/><path d="M305.0 702.3L310.0 704.4L308.2 706.5L314.2 705.5L310.7 700.4L310.5 703.2L305.4 701.1Z"/><path d="M391.0 701.1L385.9 703.2L385.7 700.4L382.2 705.5L388.2 706.5L386.4 704.4L391.5 702.3Z"/><path d="M407.8 700.3L401.1 703.1L400.8 699.4L396.1 706.1L404.1 707.5L401.7 704.6L408.4 701.8Z"/><path d="M424.7 699.5L416.2 703.0L415.9 698.3L409.9 706.7L420.1 708.5L417.0 704.9L425.5 701.4Z"/><path d="M440.1 699.5L431.6 703.0L431.3 698.3L425.3 706.7L435.5 708.5L432.4 704.9L440.9 701.4Z"/><path d="M454.0 700.3L447.3 703.1L447.0 699.4L442.3 706.1L450.3 707.5L447.9 704.6L454.6 701.8Z"/><path d="M470.2 702.8L462.9 702.8L464.1 699.2L457.2 703.6L464.1 707.9L462.9 704.4L470.2 704.4Z"/><path d="M484.0 703.0L478.5 703.0L479.4 700.3L474.2 703.6L479.4 706.9L478.5 704.2L484.0 704.2Z"/><path d="M497.6 699.7L493.7 703.6L492.4 701.1L491.1 707.0L497.0 705.7L494.5 704.4L498.4 700.5Z"/><path d="M528.4 699.7L524.5 703.6L523.2 701.1L521.9 707.0L527.9 705.7L525.3 704.4L529.2 700.5Z"/><path d="M543.8 699.7L539.9 703.6L538.6 701.1L537.3 707.0L543.3 705.7L540.7 704.4L544.6 700.5Z"/><path d="M559.2 699.7L555.3 703.6L554.0 701.1L552.7 707.0L558.7 705.7L556.1 704.4L560.0 700.5Z"/><path d="M576.3 704.9L571.2 702.8L573.1 700.7L567.0 701.7L570.5 706.7L570.7 703.9L575.8 706.0Z"/><path d="M590.8 706.6L586.9 702.7L589.5 701.5L583.5 700.1L584.8 706.1L586.1 703.6L590.0 707.5Z"/><path d="M607.5 707.6L602.3 702.5L605.7 700.8L597.7 699.0L599.5 706.9L601.2 703.6L606.4 708.7Z"/><path d="M621.0 709.3L618.2 702.6L621.9 702.3L615.2 697.6L613.9 705.6L616.7 703.2L619.5 709.9Z"/><path d="M636.4 709.3L633.6 702.6L637.3 702.3L630.6 697.6L629.3 705.6L632.1 703.2L634.9 709.9Z"/><path d="M649.1 708.5L649.1 703.0L651.8 703.9L648.5 698.7L645.2 703.9L647.9 703.0L647.9 708.5Z"/><path d="M694.1 698.7L694.1 704.2L691.4 703.3L694.7 708.5L698.0 703.3L695.3 704.2L695.3 698.7Z"/><path d="M709.5 698.7L709.5 704.2L706.8 703.3L710.1 708.5L713.4 703.3L710.7 704.2L710.7 698.7Z"/><path d="M751.4 704.2L756.9 704.2L756.0 706.9L761.2 703.6L756.0 700.3L756.9 703.0L751.4 703.0Z"/><path d="M118.5 690.7L125.6 691.7L124.0 695.0L131.2 691.6L125.1 686.5L125.8 690.1L118.7 689.2Z"/><path d="M133.9 689.6L140.8 691.8L138.6 694.8L146.4 692.8L141.3 686.6L141.3 690.3L134.4 688.0Z"/><path d="M149.0 690.0L156.3 691.8L154.2 695.1L162.2 692.4L156.4 686.3L156.7 690.2L149.4 688.3Z"/><path d="M165.0 688.5L171.4 691.9L168.8 694.4L176.8 693.8L172.7 686.8L172.2 690.4L165.8 687.1Z"/><path d="M180.5 689.9L187.0 691.7L185.1 694.6L192.3 692.4L187.2 686.8L187.4 690.3L180.9 688.5Z"/><path d="M195.8 690.0L202.4 691.7L200.5 694.7L207.8 692.4L202.6 686.7L202.8 690.2L196.2 688.5Z"/><path d="M211.4 690.1L217.8 691.7L216.0 694.6L223.1 692.2L217.9 686.8L218.2 690.2L211.7 688.7Z"/><path d="M227.1 688.6L233.0 691.8L230.5 694.2L238.0 693.6L234.3 687.1L233.7 690.5L227.8 687.3Z"/><path d="M241.6 687.6L248.3 692.0L245.1 694.6L254.1 694.7L250.4 686.5L249.3 690.5L242.6 686.2Z"/><path d="M257.5 687.2L263.6 692.0L260.3 694.2L269.0 695.1L266.1 686.9L264.7 690.6L258.5 685.8Z"/><path d="M273.1 690.9L279.5 691.6L278.2 694.6L284.6 691.4L279.0 686.9L279.7 690.2L273.3 689.5Z"/><path d="M290.1 693.8L295.1 691.1L295.7 693.9L298.8 688.4L292.4 687.9L294.5 690.0L289.5 692.7Z"/><path d="M304.9 693.0L310.5 691.2L310.5 694.3L314.8 689.2L308.3 687.5L310.1 690.0L304.5 691.8Z"/><path d="M391.5 687.5L385.8 690.5L385.2 687.2L381.6 693.5L388.8 694.0L386.4 691.7L392.1 688.8Z"/><path d="M408.1 688.2L401.2 690.2L401.3 686.6L396.0 692.6L403.7 694.8L401.6 691.8L408.5 689.7Z"/><path d="M424.1 687.9L416.4 690.2L416.5 686.1L410.6 692.9L419.3 695.3L416.9 691.9L424.7 689.6Z"/><path d="M439.4 687.3L431.8 690.3L431.5 686.1L426.1 693.5L435.1 695.2L432.4 692.0L440.0 688.9Z"/><path d="M454.1 688.6L447.4 690.2L447.7 686.7L442.3 692.3L449.7 694.7L447.8 691.7L454.5 690.0Z"/><path d="M469.2 689.1L462.9 690.2L463.4 687.0L458.1 691.8L464.7 694.5L463.2 691.6L469.4 690.5Z"/><path d="M484.7 689.0L478.3 690.2L478.7 686.9L473.4 691.9L480.2 694.6L478.6 691.6L485.0 690.4Z"/><path d="M500.7 688.4L493.6 690.2L493.9 686.4L488.2 692.4L495.9 695.0L493.9 691.8L501.1 690.0Z"/><path d="M516.5 688.2L508.9 690.2L509.2 686.1L503.1 692.6L511.5 695.3L509.3 691.9L517.0 689.9Z"/><path d="M532.1 688.1L524.2 690.1L524.5 686.0L518.3 692.7L527.0 695.4L524.7 691.9L532.6 689.8Z"/><path d="M547.6 688.7L539.7 690.1L540.3 686.0L533.7 692.0L541.9 695.4L540.0 691.8L547.9 690.5Z"/><path d="M562.9 688.3L555.1 690.1L555.4 686.0L549.1 692.4L557.6 695.4L555.5 691.9L563.3 690.0Z"/><path d="M578.9 690.3L570.7 689.8L572.3 685.9L564.2 690.4L571.7 695.7L570.6 691.7L578.8 692.1Z"/><path d="M594.5 690.3L586.1 689.8L587.7 685.8L579.4 690.3L587.1 695.8L586.0 691.7L594.4 692.2Z"/><path d="M609.1 692.8L601.9 689.7L604.6 686.6L595.9 688.0L600.8 695.3L601.2 691.3L608.4 694.4Z"/><path d="M622.5 694.8L617.8 689.7L621.0 688.2L613.5 686.3L615.0 693.9L616.7 690.8L621.4 695.8Z"/><path d="M633.6 696.4L633.8 690.1L636.8 691.2L633.3 685.2L629.4 691.0L632.5 690.1L632.3 696.3Z"/><path d="M650.9 695.3L648.9 690.0L651.8 689.9L646.8 686.0L645.4 692.2L647.7 690.4L649.7 695.8Z"/><path d="M694.5 686.0L694.1 691.3L691.6 690.3L694.3 695.5L697.9 690.8L695.3 691.4L695.7 686.1Z"/><path d="M706.5 687.7L710.1 691.6L707.6 692.8L713.4 694.3L712.3 688.4L710.9 690.8L707.3 686.9Z"/><path d="M724.6 686.0L725.0 691.4L722.3 690.7L725.9 695.6L728.7 690.3L726.2 691.3L725.8 686.0Z"/><path d="M100.5 678.9L110.6 679.1L108.8 684.0L118.5 678.2L109.1 672.0L110.6 676.9L100.5 676.7Z"/><path d="M115.4 678.0L125.9 679.3L123.6 684.2L134.2 679.2L125.1 671.7L126.2 677.0L115.7 675.7Z"/><path d="M131.1 677.8L141.2 679.3L138.9 684.0L149.4 679.3L140.6 671.9L141.6 677.0L131.4 675.6Z"/><path d="M146.7 678.3L156.7 679.2L154.6 683.9L164.6 678.8L155.7 672.0L156.9 677.0L146.9 676.1Z"/><path d="M162.4 677.0L171.9 679.3L169.2 683.5L179.5 680.0L171.9 672.2L172.4 677.2L162.9 675.0Z"/><path d="M177.8 678.0L187.4 679.2L185.3 683.7L195.1 679.1L186.7 672.2L187.7 677.1L178.0 675.9Z"/><path d="M193.1 676.5L202.6 679.4L199.7 683.6L210.4 680.6L203.1 672.2L203.2 677.3L193.7 674.4Z"/><path d="M207.6 677.1L218.2 679.4L215.4 684.3L226.8 680.1L218.1 671.5L218.7 677.1L208.1 674.8Z"/><path d="M223.1 677.6L233.6 679.4L231.1 684.2L242.1 679.6L233.2 671.6L234.0 677.0L223.5 675.2Z"/><path d="M240.1 675.0L248.5 679.4L245.0 682.8L255.6 681.9L250.3 672.7L249.5 677.5L241.1 673.1Z"/><path d="M257.0 676.7L264.0 679.0L261.7 682.1L269.8 680.1L264.5 673.7L264.5 677.5L257.5 675.2Z"/><path d="M273.8 677.6L279.4 678.8L277.9 681.3L283.9 679.0L279.3 674.6L279.6 677.5L274.0 676.4Z"/><path d="M288.4 678.0L294.9 678.8L293.5 681.8L300.1 678.7L294.4 674.1L295.1 677.4L288.6 676.6Z"/><path d="M303.8 679.3L310.5 678.7L309.7 682.0L315.7 677.4L309.0 674.1L310.4 677.2L303.7 677.8Z"/><path d="M318.9 679.6L326.0 678.7L325.3 682.3L331.4 677.2L324.2 673.9L325.8 677.1L318.7 678.0Z"/><path d="M337.3 683.4L341.6 677.9L343.6 680.9L344.4 673.1L337.0 675.7L340.4 676.9L336.0 682.5Z"/><path d="M352.8 684.2L357.1 677.8L359.5 680.9L359.7 672.3L351.8 675.8L355.7 676.9L351.4 683.3Z"/><path d="M370.3 682.9L372.1 677.6L374.4 679.4L372.9 673.3L368.1 677.2L370.9 677.2L369.1 682.5Z"/><path d="M407.5 675.7L401.2 677.5L401.4 674.2L396.5 679.6L403.5 681.7L401.6 678.9L407.9 677.1Z"/><path d="M423.1 677.2L416.8 677.3L417.8 674.3L412.0 678.1L417.9 681.7L416.9 678.7L423.1 678.6Z"/><path d="M438.1 674.4L431.9 677.7L431.3 674.1L427.4 680.9L435.2 681.5L432.6 679.0L438.8 675.8Z"/><path d="M455.2 675.7L447.3 677.3L447.8 673.2L441.3 679.4L449.7 682.6L447.6 679.1L455.5 677.4Z"/><path d="M471.0 675.5L462.6 677.3L463.1 672.9L456.2 679.6L465.2 682.9L463.0 679.1L471.4 677.4Z"/><path d="M486.3 675.4L478.0 677.3L478.5 673.0L471.7 679.7L480.7 682.9L478.4 679.1L486.7 677.3Z"/><path d="M500.9 675.3L493.5 677.4L493.7 673.5L487.9 679.9L496.2 682.3L494.0 679.0L501.3 677.0Z"/><path d="M515.3 675.6L509.0 677.5L509.1 674.1L504.3 679.7L511.4 681.7L509.5 678.9L515.8 677.0Z"/><path d="M530.7 676.3L524.5 677.5L524.9 674.3L519.8 679.1L526.4 681.6L524.8 678.8L530.9 677.6Z"/><path d="M546.9 676.3L539.8 677.3L540.4 673.7L534.4 679.0L541.7 682.2L540.1 678.9L547.1 677.8Z"/><path d="M562.8 676.1L555.2 677.3L555.8 673.4L549.3 679.1L557.2 682.5L555.4 679.0L563.1 677.8Z"/><path d="M578.5 677.4L570.7 677.1L572.1 673.4L564.6 677.7L571.7 682.7L570.7 678.8L578.5 679.2Z"/><path d="M593.7 677.2L586.1 677.2L587.4 673.5L580.1 677.9L587.3 682.6L586.1 678.8L593.7 678.9Z"/><path d="M608.9 677.5L601.6 677.2L602.9 673.6L595.8 677.7L602.5 682.4L601.5 678.8L608.9 679.1Z"/><path d="M623.9 678.7L617.2 677.1L619.0 674.1L611.7 676.6L617.1 682.1L616.8 678.6L623.6 680.2Z"/><path d="M639.0 680.3L632.8 677.0L635.5 674.5L627.7 675.0L631.5 681.8L632.1 678.3L638.2 681.7Z"/><path d="M654.4 680.5L648.3 676.9L651.0 674.5L643.0 674.8L646.7 681.9L647.5 678.3L653.6 681.9Z"/><path d="M668.9 680.2L663.7 677.1L666.1 675.1L659.3 675.2L662.3 681.3L663.0 678.2L668.2 681.4Z"/><path d="M697.2 672.8L693.8 678.2L691.6 675.7L691.7 682.9L698.2 679.8L695.0 679.0L698.4 673.5Z"/><path d="M710.8 673.3L709.4 678.4L707.1 676.9L708.9 682.6L713.3 678.6L710.6 678.7L711.9 673.6Z"/><path d="M726.6 673.3L724.8 678.3L722.6 676.6L723.9 682.5L728.6 678.8L725.9 678.7L727.7 673.8Z"/><path d="M741.7 672.9L740.2 678.4L737.7 676.8L739.6 682.9L744.3 678.6L741.4 678.8L742.9 673.2Z"/><path d="M757.8 673.5L755.6 678.3L753.6 676.4L754.3 682.3L759.3 679.1L756.6 678.8L758.9 674.0Z"/><path d="M100.6 665.6L110.5 666.4L108.5 671.1L118.3 665.9L109.4 659.3L110.6 664.2L100.8 663.5Z"/><path d="M115.4 665.1L125.9 666.5L123.5 671.4L134.2 666.5L125.2 658.9L126.2 664.2L115.7 662.8Z"/><path d="M130.3 665.0L141.3 666.6L138.7 671.7L150.2 666.7L140.7 658.5L141.7 664.2L130.6 662.5Z"/><path d="M146.1 665.0L156.7 666.6L154.2 671.5L165.2 666.6L156.1 658.8L157.0 664.2L146.4 662.6Z"/><path d="M161.5 666.1L172.2 666.4L170.3 671.6L180.6 665.5L170.7 658.8L172.3 664.1L161.6 663.7Z"/><path d="M177.6 663.9L187.2 666.6L184.4 670.9L195.2 667.6L187.6 659.3L187.8 664.4L178.1 661.8Z"/><path d="M193.3 665.8L202.9 666.3L201.0 670.9L210.4 665.8L201.7 659.5L203.0 664.2L193.4 663.6Z"/><path d="M209.3 663.8L217.9 666.5L215.3 670.3L225.0 667.6L218.4 659.9L218.5 664.6L209.9 661.9Z"/><path d="M225.2 666.0L233.6 666.2L232.1 670.2L240.2 665.4L232.4 660.2L233.6 664.3L225.2 664.1Z"/><path d="M241.1 665.5L248.9 666.2L247.3 669.9L255.1 665.8L248.1 660.5L249.0 664.4L241.2 663.8Z"/><path d="M256.1 665.0L264.2 666.3L262.3 670.0L270.8 666.4L263.8 660.3L264.5 664.5L256.4 663.2Z"/><path d="M271.2 665.2L279.7 666.3L277.8 670.3L286.5 666.2L279.1 660.1L279.9 664.4L271.4 663.3Z"/><path d="M286.2 665.2L295.1 666.3L293.2 670.5L302.3 666.2L294.5 659.8L295.4 664.4L286.5 663.3Z"/><path d="M301.8 666.4L310.7 666.2L309.4 670.5L317.6 665.0L309.1 659.9L310.6 664.2L301.8 664.4Z"/><path d="M318.4 667.8L326.2 665.9L325.9 670.0L332.0 663.5L323.5 660.7L325.7 664.2L318.0 666.1Z"/><path d="M336.9 670.0L341.5 665.2L343.1 668.2L344.6 661.0L337.4 662.7L340.5 664.2L335.9 669.0Z"/><path d="M352.1 671.4L357.1 665.1L359.4 668.6L360.4 659.6L351.9 662.6L355.8 664.0L350.8 670.3Z"/><path d="M367.7 670.8L372.5 665.2L374.4 668.4L375.6 660.2L367.7 662.7L371.2 664.1L366.4 669.7Z"/><path d="M385.4 670.3L387.5 664.9L389.8 666.8L388.6 660.4L383.4 664.2L386.3 664.4L384.2 669.8Z"/><path d="M405.5 669.2L402.3 664.4L405.2 663.6L399.3 660.9L399.4 667.4L401.2 665.1L404.4 669.9Z"/><path d="M423.7 665.1L416.9 664.4L418.3 661.2L411.4 664.6L417.5 669.4L416.7 665.9L423.6 666.6Z"/><path d="M438.1 660.8L431.8 665.0L430.8 661.2L427.2 668.9L435.7 668.8L432.7 666.4L439.1 662.2Z"/><path d="M454.0 664.0L447.6 664.6L448.3 661.3L442.6 665.8L449.0 669.0L447.7 666.0L454.1 665.4Z"/><path d="M469.4 663.7L462.9 664.6L463.6 661.3L457.9 666.0L464.6 669.1L463.1 666.0L469.6 665.2Z"/><path d="M485.1 663.5L478.3 664.6L478.8 661.1L473.0 666.2L480.1 669.2L478.5 666.1L485.3 665.0Z"/><path d="M500.9 663.0L493.6 664.6L494.0 660.8L488.0 666.6L495.9 669.5L493.9 666.2L501.2 664.6Z"/><path d="M517.0 662.6L508.8 664.5L509.2 660.3L502.7 667.0L511.5 670.0L509.3 666.3L517.4 664.4Z"/><path d="M532.9 663.0L524.2 664.4L525.0 660.0L517.6 666.5L526.6 670.3L524.5 666.3L533.2 664.9Z"/><path d="M548.2 663.3L539.7 664.4L540.5 660.1L533.1 666.2L541.8 670.2L539.9 666.3L548.4 665.2Z"/><path d="M563.1 663.2L555.1 664.5L555.8 660.4L549.0 666.3L557.3 670.0L555.4 666.2L563.4 665.0Z"/><path d="M578.1 663.7L570.6 664.5L571.5 660.8L564.9 665.9L572.4 669.6L570.8 666.1L578.2 665.4Z"/><path d="M592.9 663.7L586.1 664.6L586.8 661.1L580.9 666.0L587.8 669.2L586.3 666.1L593.1 665.2Z"/><path d="M608.0 667.2L602.0 664.2L604.4 661.8L596.9 662.6L600.9 669.0L601.4 665.6L607.4 668.5Z"/><path d="M624.2 666.6L617.2 664.2L619.5 661.2L611.5 663.1L616.7 669.5L616.7 665.7L623.7 668.1Z"/><path d="M639.9 665.7L632.5 664.3L634.4 660.9L626.5 664.0L632.7 669.7L632.2 665.9L639.6 667.3Z"/><path d="M654.2 666.2L648.1 664.3L650.0 661.6L643.0 663.6L647.8 669.0L647.7 665.7L653.8 667.5Z"/><path d="M668.8 665.5L663.5 664.5L664.8 662.1L659.1 664.4L663.6 668.5L663.2 665.7L668.6 666.7Z"/><path d="M684.1 662.7L678.5 664.8L678.4 661.7L674.3 667.1L680.9 668.5L679.0 666.1L684.6 664.0Z"/><path d="M699.2 659.7L693.5 665.2L691.8 661.5L689.6 670.1L698.3 668.4L694.7 666.4L700.4 661.0Z"/><path d="M714.0 661.3L709.2 665.1L708.1 662.1L705.8 668.6L712.7 667.9L710.0 666.2L714.9 662.4Z"/><path d="M728.6 661.6L724.7 665.2L723.6 662.7L722.0 668.4L727.9 667.4L725.5 666.0L729.4 662.5Z"/><path d="M743.6 660.2L740.0 665.4L738.0 662.8L737.7 669.9L744.2 667.1L741.1 666.2L744.7 661.0Z"/><path d="M760.4 662.6L755.6 664.9L755.2 662.2L752.1 667.3L758.0 668.0L756.1 666.0L760.9 663.7Z"/><path d="M100.8 653.1L110.5 653.6L108.7 658.2L118.2 652.9L109.3 646.6L110.6 651.4L100.9 650.9Z"/><path d="M115.6 652.7L125.9 653.7L123.7 658.6L134.1 653.4L125.0 646.2L126.1 651.4L115.8 650.4Z"/><path d="M131.5 651.8L141.1 653.7L138.7 658.1L148.9 654.1L140.9 646.6L141.5 651.6L131.9 649.7Z"/><path d="M146.4 653.0L156.7 653.7L154.8 658.6L165.0 653.0L155.5 646.2L156.9 651.4L146.5 650.7Z"/><path d="M161.8 653.2L172.2 653.6L170.3 658.6L180.3 652.8L170.8 646.2L172.3 651.3L161.9 650.9Z"/><path d="M177.9 653.6L187.6 653.5L186.1 658.2L195.1 652.3L185.9 646.7L187.5 651.4L177.9 651.5Z"/><path d="M193.4 651.6L202.7 653.7L200.1 657.9L210.2 654.4L202.7 646.8L203.1 651.6L193.9 649.5Z"/><path d="M208.7 651.3L218.0 653.7L215.3 657.9L225.6 654.6L218.3 646.7L218.6 651.7L209.2 649.2Z"/><path d="M224.1 653.4L233.7 653.5L232.2 658.2L241.3 652.5L232.2 646.7L233.7 651.4L224.1 651.3Z"/><path d="M239.0 652.7L249.1 653.7L247.0 658.4L257.1 653.3L248.2 646.3L249.3 651.4L239.2 650.4Z"/><path d="M254.4 652.8L264.5 653.7L262.4 658.5L272.6 653.2L263.5 646.3L264.7 651.4L254.6 650.5Z"/><path d="M270.1 652.9L279.9 653.6L277.9 658.3L287.7 653.1L278.8 646.5L280.0 651.4L270.2 650.7Z"/><path d="M285.4 652.8L295.3 653.6L293.3 658.3L303.2 653.2L294.3 646.5L295.5 651.4L285.5 650.6Z"/><path d="M301.7 655.1L310.9 653.3L310.3 658.0L317.9 650.8L308.1 647.0L310.5 651.2L301.3 653.1Z"/><path d="M318.4 656.9L326.4 652.9L327.0 657.5L332.3 648.9L322.3 647.8L325.5 651.1L317.5 655.1Z"/><path d="M336.7 657.9L341.6 652.4L343.5 655.7L344.9 647.5L337.0 649.8L340.4 651.3L335.5 656.8Z"/><path d="M352.7 657.5L356.9 652.4L358.8 655.2L359.7 647.8L352.6 650.2L355.8 651.4L351.6 656.6Z"/><path d="M367.4 658.9L372.6 652.3L375.0 655.9L375.9 646.5L367.1 649.7L371.1 651.2L365.9 657.8Z"/><path d="M383.6 658.1L387.8 652.3L390.0 655.3L390.5 647.2L383.0 650.2L386.5 651.3L382.3 657.2Z"/><path d="M401.3 658.5L403.0 651.9L405.9 653.8L403.7 646.6L398.1 651.8L401.6 651.5L399.8 658.1Z"/><path d="M420.4 656.3L417.7 651.7L420.4 651.1L415.2 648.3L414.9 654.3L416.7 652.2L419.4 656.9Z"/><path d="M438.1 650.3L432.1 652.0L432.2 648.8L427.6 653.9L434.2 655.9L432.5 653.3L438.5 651.6Z"/><path d="M454.6 651.6L447.6 651.7L448.7 648.2L442.0 652.5L448.7 656.7L447.6 653.2L454.6 653.2Z"/><path d="M470.4 651.3L462.9 651.6L463.9 647.9L457.0 652.8L464.3 656.9L462.9 653.3L470.5 652.9Z"/><path d="M485.9 651.0L478.2 651.7L479.2 647.8L472.3 653.0L479.9 657.0L478.4 653.4L486.0 652.7Z"/><path d="M501.4 650.6L493.6 651.7L494.3 647.7L487.5 653.4L495.6 657.1L493.8 653.4L501.6 652.3Z"/><path d="M516.8 650.4L508.9 651.7L509.5 647.7L502.9 653.6L511.1 657.1L509.2 653.5L517.1 652.1Z"/><path d="M532.1 650.8L524.4 651.7L525.2 647.8L518.4 653.2L526.2 657.0L524.6 653.4L532.3 652.5Z"/><path d="M547.4 651.0L539.8 651.7L540.7 647.9L534.0 653.0L541.5 656.9L540.0 653.3L547.6 652.7Z"/><path d="M562.9 650.9L555.2 651.7L556.1 647.8L549.3 653.1L557.0 657.0L555.4 653.4L563.0 652.6Z"/><path d="M578.5 651.1L570.6 651.6L571.6 647.7L564.5 652.9L572.3 657.1L570.7 653.4L578.6 652.8Z"/><path d="M594.2 650.8L586.0 651.6L586.9 647.5L579.6 653.1L587.8 657.3L586.1 653.4L594.3 652.7Z"/><path d="M609.7 651.2L601.4 651.6L602.5 647.4L594.9 652.8L603.0 657.4L601.5 653.4L609.8 653.0Z"/><path d="M624.2 653.0L617.1 651.5L619.0 648.3L611.4 651.1L617.2 656.8L616.8 653.1L623.9 654.6Z"/><path d="M638.8 652.0L632.5 651.7L633.6 648.7L627.5 652.2L633.3 656.2L632.4 653.1L638.7 653.4Z"/><path d="M653.9 651.7L647.9 651.8L648.8 648.8L643.1 652.5L648.9 656.1L647.9 653.1L653.9 653.1Z"/><path d="M669.0 651.6L663.3 651.8L664.1 649.0L658.8 652.7L664.4 655.8L663.3 653.1L669.1 652.8Z"/><path d="M684.1 651.8L678.7 651.8L679.6 649.2L674.5 652.5L679.6 655.7L678.8 653.0L684.1 653.0Z"/><path d="M699.8 648.9L693.7 652.1L693.1 648.7L689.3 655.3L697.0 655.9L694.4 653.5L700.5 650.2Z"/><path d="M716.3 648.2L708.9 652.0L708.3 647.8L703.5 655.8L712.8 656.7L709.8 653.7L717.1 649.9Z"/><path d="M731.0 648.9L724.5 652.0L724.0 648.3L719.7 655.2L727.8 656.2L725.2 653.5L731.7 650.4Z"/><path d="M745.6 649.6L740.1 652.1L739.7 649.0L736.0 654.7L742.7 655.6L740.6 653.3L746.1 650.8Z"/><path d="M761.5 649.8L755.4 652.0L755.3 648.7L751.0 654.4L758.0 655.9L755.9 653.3L762.0 651.1Z"/><path d="M99.6 640.5L110.6 640.9L108.6 646.2L119.3 640.1L109.2 633.1L110.7 638.5L99.8 638.0Z"/><path d="M115.3 640.1L125.9 640.9L123.8 646.0L134.4 640.4L124.9 633.2L126.1 638.6L115.5 637.7Z"/><path d="M130.8 639.8L141.3 640.9L139.0 645.9L149.7 640.7L140.4 633.3L141.6 638.6L131.1 637.4Z"/><path d="M145.7 639.8L156.8 641.0L154.4 646.2L165.6 640.7L155.8 633.0L157.0 638.6L146.0 637.4Z"/><path d="M161.1 641.1L172.3 640.9L170.6 646.4L181.2 639.5L170.4 632.9L172.3 638.4L161.0 638.6Z"/><path d="M176.5 642.4L187.9 640.7L186.9 646.6L196.7 638.2L184.9 632.9L187.5 638.2L176.1 639.9Z"/><path d="M191.6 638.7L202.8 641.2L199.8 646.3L212.0 641.9L202.8 632.8L203.4 638.7L192.1 636.2Z"/><path d="M206.9 640.2L218.5 641.0L216.2 646.5L227.6 640.4L217.2 632.7L218.6 638.5L207.1 637.6Z"/><path d="M222.3 639.6L233.8 641.1L231.2 646.4L242.9 640.9L233.0 632.7L234.1 638.5L222.7 637.1Z"/><path d="M237.6 639.7L249.2 641.1L246.6 646.5L258.5 640.9L248.3 632.6L249.5 638.5L237.9 637.1Z"/><path d="M252.4 640.1L264.7 641.1L262.2 646.9L274.5 640.6L263.5 632.2L264.9 638.4L252.7 637.4Z"/><path d="M268.2 640.6L280.1 641.0L278.0 646.8L289.5 640.0L278.5 632.5L280.2 638.4L268.3 638.0Z"/><path d="M284.0 640.6L295.5 641.0L293.5 646.5L304.6 640.0L293.9 632.8L295.6 638.4L284.1 638.0Z"/><path d="M300.5 644.6L311.3 640.4L311.6 646.3L319.4 636.0L306.7 633.4L310.4 638.0L299.6 642.2Z"/><path d="M318.0 646.2L326.7 639.9L328.4 645.2L332.9 634.1L320.9 634.8L325.4 638.0L316.7 644.3Z"/><path d="M336.9 645.9L341.7 639.5L344.1 642.9L344.8 633.9L336.4 637.1L340.3 638.4L335.5 644.9Z"/><path d="M353.0 645.4L357.0 639.5L359.3 642.3L359.4 634.3L352.1 637.6L355.7 638.6L351.7 644.5Z"/><path d="M368.4 645.8L372.5 639.4L374.9 642.4L374.9 633.9L367.3 637.6L371.0 638.5L367.0 644.9Z"/><path d="M384.0 646.6L387.9 639.3L390.8 642.4L390.2 633.2L382.2 637.7L386.3 638.4L382.4 645.7Z"/><path d="M399.6 646.0L403.2 639.3L405.9 642.2L405.4 633.7L397.9 637.8L401.8 638.5L398.1 645.2Z"/><path d="M416.7 645.5L418.4 639.2L421.2 641.0L419.0 634.0L413.6 639.0L417.0 638.8L415.3 645.1Z"/><path d="M436.7 642.9L433.0 638.8L435.6 637.7L429.6 636.0L430.7 642.1L432.1 639.6L435.8 643.7Z"/><path d="M485.5 638.9L478.4 638.9L479.5 635.4L472.8 639.6L479.5 643.9L478.4 640.4L485.5 640.5Z"/><path d="M501.2 638.9L493.7 638.8L495.0 635.2L487.8 639.6L494.9 644.2L493.7 640.5L501.2 640.5Z"/><path d="M517.0 638.1L509.0 638.9L509.9 634.8L502.8 640.4L510.8 644.4L509.2 640.6L517.1 639.8Z"/><path d="M532.7 638.1L524.3 638.8L525.3 634.6L517.9 640.3L526.2 644.6L524.5 640.7L532.9 639.9Z"/><path d="M548.2 638.0L539.7 638.8L540.7 634.5L533.1 640.4L541.7 644.7L539.9 640.7L548.4 639.8Z"/><path d="M563.5 637.8L555.1 638.8L555.9 634.5L548.6 640.6L557.2 644.6L555.3 640.7L563.8 639.7Z"/><path d="M578.8 638.0L570.6 638.8L571.5 634.7L564.2 640.4L572.4 644.5L570.7 640.6L578.9 639.9Z"/><path d="M594.0 638.3L586.0 638.8L587.1 634.9L579.8 640.1L587.7 644.4L586.1 640.6L594.1 640.1Z"/><path d="M609.3 638.0L601.4 638.9L602.2 634.9L595.3 640.4L603.3 644.3L601.6 640.6L609.5 639.7Z"/><path d="M624.3 638.0L616.8 638.9L617.5 635.1L611.1 640.5L618.7 644.1L617.0 640.6L624.5 639.6Z"/><path d="M639.4 638.6L632.3 638.9L633.3 635.4L626.8 639.9L633.7 643.9L632.4 640.5L639.5 640.2Z"/><path d="M654.7 638.5L647.7 638.9L648.6 635.5L642.3 640.1L649.2 643.8L647.8 640.5L654.8 640.0Z"/><path d="M669.8 637.9L663.1 639.0L663.6 635.6L657.9 640.6L664.9 643.6L663.3 640.5L670.1 639.4Z"/><path d="M684.9 638.1L678.5 639.1L679.1 635.8L673.6 640.5L680.3 643.4L678.8 640.5L685.2 639.5Z"/><path d="M699.9 637.5L693.9 639.2L694.1 636.0L689.4 641.1L696.0 643.2L694.3 640.5L700.3 638.8Z"/><path d="M715.4 636.8L709.2 639.2L709.0 635.8L704.6 641.8L711.9 643.2L709.7 640.6L715.9 638.2Z"/><path d="M731.9 637.1L724.5 639.0L724.8 635.1L718.9 641.4L727.1 644.0L725.0 640.7L732.4 638.7Z"/><path d="M748.1 636.6L739.8 639.0L740.0 634.5L733.5 641.8L742.8 644.5L740.3 640.8L748.6 638.5Z"/><path d="M763.3 637.4L755.3 638.9L755.8 634.8L749.2 641.1L757.7 644.3L755.7 640.7L763.6 639.1Z"/><path d="M101.5 626.2L110.2 628.0L107.9 632.0L117.3 628.5L110.1 621.6L110.6 626.1L101.9 624.3Z"/><path d="M115.3 626.0L125.8 628.3L123.0 633.0L134.2 628.9L125.7 620.5L126.3 626.0L115.8 623.7Z"/><path d="M129.0 625.7L141.3 628.5L138.0 634.1L151.3 629.4L141.3 619.3L141.9 625.8L129.6 623.0Z"/><path d="M144.3 626.2L156.8 628.5L153.6 634.2L166.8 628.9L156.4 619.3L157.3 625.7L144.9 623.4Z"/><path d="M159.2 627.4L172.4 628.5L169.7 634.7L182.9 627.8L171.0 618.9L172.6 625.5L159.4 624.4Z"/><path d="M172.4 627.9L188.1 628.7L185.2 636.2L200.5 627.6L186.2 617.4L188.3 625.2L172.6 624.4Z"/><path d="M187.4 628.4L203.6 628.7L200.9 636.5L216.4 627.1L201.2 617.2L203.7 625.1L187.5 624.8Z"/><path d="M204.3 628.2L218.8 628.5L216.3 635.5L230.2 627.2L216.7 618.2L218.9 625.3L204.4 625.0Z"/><path d="M220.4 628.3L234.2 628.4L231.9 635.1L245.0 627.0L232.1 618.6L234.2 625.4L220.4 625.2Z"/><path d="M235.8 627.1L249.4 628.5L246.6 634.9L260.2 628.1L248.2 618.7L249.7 625.5L236.1 624.1Z"/><path d="M251.4 627.1L264.8 628.5L262.0 634.8L275.4 628.1L263.6 618.8L265.1 625.5L251.7 624.1Z"/><path d="M266.9 629.4L280.5 628.2L278.9 635.0L291.0 625.8L277.5 618.8L280.2 625.2L266.7 626.4Z"/><path d="M283.5 628.6L295.7 628.2L294.0 634.2L305.1 626.4L293.4 619.6L295.6 625.5L283.4 626.0Z"/><path d="M299.9 633.9L311.7 627.5L312.9 634.2L320.2 621.2L305.3 620.2L310.3 624.9L298.5 631.3Z"/><path d="M317.6 637.0L327.3 626.9L330.7 633.2L333.8 617.8L318.5 621.6L325.0 624.7L315.3 634.9Z"/><path d="M336.5 633.6L341.9 626.7L344.4 630.5L345.3 620.7L336.1 624.0L340.3 625.5L334.9 632.5Z"/><path d="M352.9 633.8L357.2 626.6L360.0 629.8L359.7 620.4L351.4 624.7L355.6 625.6L351.3 632.8Z"/><path d="M368.8 632.2L372.3 626.7L374.5 629.2L374.4 621.9L367.8 625.1L371.1 625.9L367.6 631.5Z"/><path d="M383.7 634.5L388.1 626.5L391.3 629.9L390.6 619.7L381.7 624.7L386.3 625.5L381.9 633.6Z"/><path d="M400.2 633.7L403.3 626.4L406.3 629.1L404.9 620.3L397.6 625.4L401.6 625.7L398.6 633.1Z"/><path d="M415.8 633.4L418.6 626.4L421.6 628.9L420.0 620.6L413.2 625.6L417.0 625.8L414.2 632.8Z"/><path d="M432.3 632.7L433.8 626.4L436.6 628.1L434.3 621.2L429.1 626.3L432.4 626.0L430.9 632.3Z"/><path d="M449.0 632.7L449.0 626.2L452.2 627.3L448.4 621.0L444.4 627.2L447.6 626.2L447.5 632.7Z"/><path d="M467.4 630.9L463.9 626.0L466.9 625.1L460.6 622.4L460.9 629.2L462.8 626.7L466.3 631.7Z"/><path d="M515.1 626.3L509.3 626.2L510.3 623.4L504.7 626.8L510.2 630.4L509.3 627.5L515.1 627.6Z"/><path d="M530.8 625.8L524.6 626.2L525.4 623.2L519.8 627.2L525.9 630.5L524.7 627.6L530.9 627.2Z"/><path d="M546.5 625.6L540.0 626.2L540.7 622.9L534.9 627.4L541.4 630.7L540.1 627.7L546.6 627.1Z"/><path d="M562.4 625.4L555.3 626.2L556.0 622.6L549.8 627.6L557.0 631.1L555.5 627.7L562.5 627.0Z"/><path d="M578.1 625.1L570.6 626.1L571.3 622.3L564.8 627.8L572.5 631.3L570.8 627.8L578.4 626.8Z"/><path d="M593.8 625.6L586.0 626.1L587.0 622.2L580.0 627.3L587.6 631.5L586.1 627.8L593.9 627.3Z"/><path d="M609.1 624.8L601.3 626.2L601.9 622.1L595.4 628.1L603.5 631.5L601.6 627.9L609.4 626.5Z"/><path d="M624.1 624.5L616.7 626.2L617.1 622.4L611.1 628.4L619.2 631.2L617.1 627.9L624.5 626.1Z"/><path d="M639.6 625.6L632.3 626.1L633.2 622.4L626.6 627.4L633.8 631.2L632.4 627.7L639.8 627.2Z"/><path d="M655.1 625.6L647.7 626.1L648.6 622.4L641.9 627.4L649.2 631.3L647.8 627.7L655.2 627.2Z"/><path d="M670.6 625.3L663.0 626.1L663.9 622.3L657.2 627.6L664.8 631.3L663.2 627.8L670.8 627.0Z"/><path d="M686.1 625.2L678.4 626.1L679.2 622.2L672.4 627.7L680.3 631.4L678.6 627.8L686.3 626.9Z"/><path d="M701.6 625.1L693.8 626.1L694.6 622.2L687.8 627.8L695.7 631.5L694.0 627.8L701.8 626.9Z"/><path d="M717.1 625.0L709.2 626.1L709.9 622.1L703.1 627.9L711.2 631.5L709.4 627.9L717.3 626.7Z"/><path d="M732.4 624.9L724.5 626.1L725.2 622.1L718.5 628.0L726.7 631.5L724.8 627.9L732.7 626.6Z"/><path d="M747.7 624.5L739.9 626.2L740.4 622.1L733.9 628.3L742.3 631.5L740.3 627.9L748.1 626.3Z"/><path d="M763.2 624.8L755.3 626.1L755.9 622.1L749.3 628.1L757.6 631.5L755.6 627.9L763.5 626.5Z"/><path d="M100.8 610.8L109.9 615.6L106.2 619.3L117.6 618.3L111.9 608.4L111.0 613.6L101.9 608.8Z"/><path d="M112.8 606.2L125.1 616.6L118.0 620.9L135.8 623.3L130.4 606.2L127.4 613.8L115.1 603.5Z"/><path d="M126.5 611.2L141.3 616.3L136.5 622.7L153.5 618.6L142.5 604.9L142.5 613.0L127.6 607.9Z"/><path d="M141.5 613.5L157.1 616.1L153.3 623.3L169.7 616.4L156.4 604.6L157.7 612.6L142.0 610.1Z"/><path d="M155.6 612.1L172.4 616.4L167.6 623.9L186.1 618.0L172.8 603.8L173.4 612.7L156.6 608.3Z"/><path d="M170.9 613.3L188.0 616.3L183.8 624.2L201.8 616.8L187.4 603.7L188.7 612.5L171.6 609.5Z"/><path d="M186.9 616.6L203.8 615.9L201.5 624.2L216.9 613.4L200.5 604.0L203.6 612.1L186.8 612.9Z"/><path d="M202.9 617.1L219.2 615.7L217.3 623.9L231.8 612.9L215.6 604.4L218.9 612.1L202.6 613.5Z"/><path d="M218.8 616.1L234.4 615.8L232.1 623.4L246.6 613.8L231.7 604.8L234.3 612.3L218.8 612.6Z"/><path d="M234.5 615.2L249.7 615.8L246.9 623.1L261.6 614.6L247.7 605.0L249.8 612.5L234.7 611.9Z"/><path d="M251.4 615.4L264.9 615.6L262.6 622.2L275.6 614.3L262.9 605.9L265.0 612.6L251.4 612.4Z"/><path d="M268.0 618.1L280.6 615.2L280.0 621.8L290.1 611.5L276.5 606.7L279.9 612.4L267.4 615.3Z"/><path d="M284.6 619.5L296.1 614.9L296.5 621.2L304.6 609.9L290.9 607.5L295.0 612.3L283.5 617.0Z"/><path d="M301.1 624.4L312.0 614.2L315.2 621.2L319.4 605.0L303.0 608.1L309.8 611.8L298.8 622.0Z"/><path d="M318.6 628.3L327.7 613.5L333.4 620.3L333.3 600.9L315.8 609.4L324.5 611.5L315.3 626.2Z"/><path d="M336.5 622.9L342.1 613.7L345.7 617.9L345.5 605.9L334.8 611.2L340.1 612.5L334.5 621.6Z"/><path d="M352.5 621.8L357.3 613.8L360.5 617.4L360.2 606.9L350.9 611.6L355.5 612.7L350.7 620.7Z"/><path d="M368.6 620.3L372.4 613.8L375.0 616.7L374.8 608.2L367.2 612.1L371.0 613.0L367.2 619.5Z"/><path d="M383.5 621.0L388.0 613.8L390.8 617.1L390.7 607.7L382.2 611.8L386.4 612.8L381.9 620.0Z"/><path d="M400.1 622.0L403.4 613.6L407.0 616.5L405.1 606.6L396.9 612.5L401.5 612.8L398.2 621.2Z"/><path d="M415.9 621.2L418.7 613.6L422.0 616.1L419.9 607.2L412.8 612.9L417.0 613.0L414.2 620.6Z"/><path d="M431.8 620.6L433.9 613.6L437.0 615.7L434.8 607.8L428.6 613.2L432.4 613.1L430.2 620.1Z"/><path d="M449.4 620.6L449.1 613.3L452.7 614.3L448.1 607.6L444.0 614.6L447.5 613.3L447.8 620.6Z"/><path d="M465.6 619.9L464.3 613.2L467.8 613.6L462.5 608.2L459.8 615.2L462.8 613.5L464.2 620.2Z"/><path d="M482.4 617.8L479.3 613.3L482.0 612.5L476.3 610.1L476.6 616.2L478.3 613.9L481.4 618.5Z"/><path d="M498.7 616.4L494.4 613.3L496.6 611.7L490.7 611.3L492.9 616.8L493.7 614.2L498.0 617.4Z"/><path d="M546.0 613.9L540.2 613.4L541.4 610.6L535.5 613.6L540.7 617.6L540.0 614.7L545.9 615.2Z"/><path d="M561.9 614.2L555.5 613.3L557.0 610.4L550.5 613.3L555.9 617.9L555.4 614.7L561.7 615.6Z"/><path d="M577.6 613.4L570.8 613.3L571.9 610.0L565.5 614.0L571.8 618.2L570.8 614.8L577.6 614.9Z"/><path d="M593.2 613.2L586.2 613.3L587.2 609.8L580.6 614.2L587.4 618.3L586.2 614.9L593.3 614.8Z"/><path d="M608.4 611.7L601.4 613.5L601.6 609.8L596.0 615.7L603.8 618.2L601.8 615.1L608.8 613.2Z"/><path d="M623.5 610.7L616.7 613.6L616.3 609.8L611.6 616.7L619.8 618.0L617.3 615.2L624.1 612.2Z"/><path d="M639.5 612.8L632.3 613.3L633.2 609.7L626.7 614.6L633.8 618.4L632.4 614.9L639.7 614.4Z"/><path d="M655.0 613.0L647.7 613.3L648.7 609.7L642.0 614.3L649.1 618.4L647.8 614.9L655.1 614.6Z"/><path d="M670.5 613.0L663.1 613.3L664.1 609.7L657.3 614.4L664.5 618.5L663.2 614.9L670.5 614.6Z"/><path d="M685.9 612.6L678.5 613.3L679.3 609.6L672.7 614.8L680.2 618.5L678.6 615.0L686.0 614.2Z"/><path d="M701.3 612.6L693.9 613.3L694.7 609.6L688.1 614.7L695.6 618.5L694.0 615.0L701.4 614.3Z"/><path d="M716.8 612.6L709.2 613.3L710.1 609.6L703.4 614.7L711.0 618.5L709.4 615.0L716.9 614.3Z"/><path d="M732.4 612.5L724.6 613.3L725.5 609.4L718.6 614.8L726.4 618.7L724.8 615.0L732.6 614.2Z"/><path d="M748.0 612.2L739.9 613.3L740.7 609.2L733.7 615.0L742.0 618.9L740.2 615.1L748.3 614.0Z"/><path d="M763.7 612.2L755.3 613.3L756.1 609.0L748.8 615.1L757.4 619.1L755.6 615.1L764.0 614.0Z"/><path d="M99.5 599.2L110.2 602.9L106.7 607.5L119.1 604.6L111.1 594.7L111.1 600.5L100.3 596.8Z"/><path d="M113.1 591.0L124.7 604.0L116.5 607.5L135.2 612.9L132.0 593.7L127.6 601.4L116.0 588.5Z"/><path d="M126.1 594.7L140.9 603.9L134.0 609.6L153.5 609.5L145.0 592.0L142.9 600.7L128.2 591.5Z"/><path d="M140.7 598.0L156.8 603.7L151.5 610.7L170.1 606.3L158.2 591.3L158.1 600.1L141.9 594.5Z"/><path d="M155.8 598.9L172.3 603.6L167.4 610.9L185.8 605.5L173.1 591.2L173.4 600.0L156.9 595.2Z"/><path d="M171.9 600.7L187.9 603.4L184.0 610.7L200.8 603.7L187.2 591.6L188.5 599.8L172.5 597.1Z"/><path d="M188.4 603.9L203.7 602.9L201.7 610.5L215.6 600.4L200.5 592.2L203.4 599.5L188.1 600.5Z"/><path d="M204.2 605.2L219.2 602.7L218.0 610.4L230.7 599.1L215.0 592.5L218.6 599.4L203.7 601.9Z"/><path d="M220.0 603.4L234.3 602.8L232.3 609.9L245.5 600.8L231.6 592.8L234.2 599.7L219.9 600.3Z"/><path d="M235.5 603.7L249.7 602.8L247.9 609.9L260.8 600.5L246.8 592.8L249.5 599.6L235.3 600.5Z"/><path d="M251.8 605.6L265.3 602.5L264.6 609.5L275.5 598.5L260.9 593.4L264.6 599.5L251.1 602.6Z"/><path d="M268.2 607.6L280.9 602.1L281.5 609.2L290.2 596.4L275.0 594.0L279.7 599.3L267.0 604.8Z"/><path d="M284.9 610.9L296.6 601.6L299.3 608.8L304.8 593.0L288.1 594.8L294.5 599.0L282.8 608.3Z"/><path d="M302.3 613.3L312.1 601.1L316.5 607.8L318.4 590.4L301.9 596.1L309.4 598.9L299.6 611.1Z"/><path d="M319.7 615.9L327.7 600.5L333.9 606.9L332.2 587.5L315.5 597.3L324.3 598.8L316.3 614.2Z"/><path d="M335.1 615.5L343.0 600.6L349.0 606.8L347.6 587.9L331.1 597.4L339.7 598.8L331.8 613.8Z"/><path d="M350.9 613.7L358.1 600.7L363.3 606.3L362.3 589.7L347.8 597.7L355.3 599.1L348.1 612.1Z"/><path d="M367.4 611.8L373.2 600.8L377.6 605.3L376.5 591.4L364.4 598.4L370.7 599.5L364.9 610.5Z"/><path d="M383.9 611.0L388.3 600.7L392.7 604.5L390.7 592.1L380.3 599.2L386.0 599.7L381.6 610.0Z"/><path d="M398.5 614.3L404.3 600.5L410.1 605.5L407.3 589.0L393.5 598.6L401.2 599.2L395.4 613.0Z"/><path d="M414.9 611.8L419.2 600.6L424.0 604.5L421.3 591.2L410.5 599.3L416.7 599.6L412.4 610.9Z"/><path d="M431.8 611.7L434.5 600.4L439.6 603.5L435.3 591.2L426.0 600.3L431.9 599.8L429.3 611.2Z"/><path d="M449.6 611.2L449.5 600.1L455.0 601.9L448.3 591.4L441.7 601.9L447.1 600.1L447.1 611.3Z"/><path d="M465.1 607.5L464.4 600.5L468.0 601.3L463.1 595.0L459.5 602.1L462.9 600.6L463.5 607.7Z"/><path d="M481.6 606.1L479.5 600.5L482.6 600.4L477.3 596.2L475.8 602.9L478.3 600.9L480.4 606.6Z"/><path d="M498.6 604.8L494.6 600.4L497.4 599.1L490.9 597.3L492.1 604.0L493.6 601.3L497.7 605.7Z"/><path d="M515.0 603.8L509.7 600.3L512.3 598.4L505.2 598.2L508.1 604.6L509.0 601.5L514.2 605.0Z"/><path d="M530.7 602.1L524.9 600.5L526.6 597.9L520.1 599.9L524.7 604.9L524.5 601.8L530.4 603.3Z"/><path d="M546.4 601.8L540.2 600.5L541.9 597.6L535.2 600.1L540.3 605.1L539.9 601.8L546.1 603.2Z"/><path d="M562.3 602.1L555.6 600.4L557.5 597.4L550.1 599.7L555.4 605.4L555.2 601.9L561.9 603.6Z"/><path d="M577.5 601.0L570.9 600.5L572.2 597.4L565.6 600.9L571.6 605.3L570.8 602.0L577.4 602.5Z"/><path d="M592.9 601.0L586.3 600.5L587.5 597.4L581.0 600.9L587.0 605.3L586.2 602.0L592.8 602.4Z"/><path d="M608.5 599.7L601.5 600.6L602.2 597.0L596.0 602.1L603.2 605.5L601.7 602.2L608.7 601.3Z"/><path d="M624.2 599.1L616.8 600.6L617.2 596.7L611.1 602.7L619.1 605.7L617.1 602.3L624.6 600.7Z"/><path d="M639.9 600.1L632.3 600.5L633.3 596.7L626.3 601.7L633.8 605.9L632.3 602.2L640.0 601.8Z"/><path d="M655.4 600.2L647.7 600.5L648.8 596.6L641.6 601.5L649.1 605.9L647.7 602.2L655.5 601.9Z"/><path d="M670.9 600.2L663.1 600.5L664.2 596.6L657.0 601.5L664.5 606.0L663.1 602.2L670.9 601.9Z"/><path d="M686.4 600.0L678.4 600.5L679.5 596.5L672.2 601.7L680.0 606.0L678.5 602.2L686.5 601.7Z"/><path d="M701.8 599.7L693.8 600.5L694.7 596.4L687.5 602.0L695.6 606.1L693.9 602.3L702.0 601.5Z"/><path d="M717.2 599.7L709.2 600.5L710.1 596.5L703.0 602.0L711.0 606.0L709.4 602.3L717.4 601.5Z"/><path d="M732.5 599.9L724.6 600.5L725.6 596.6L718.5 601.9L726.3 606.0L724.8 602.2L732.6 601.6Z"/><path d="M747.8 599.9L740.0 600.5L741.0 596.6L734.0 601.8L741.7 605.9L740.2 602.2L748.0 601.7Z"/><path d="M763.3 600.1L755.4 600.5L756.5 596.6L749.3 601.7L757.0 606.0L755.5 602.2L763.4 601.8Z"/><path d="M96.4 588.8L110.9 590.3L107.8 597.1L122.4 589.8L109.6 579.8L111.2 587.1L96.8 585.6Z"/><path d="M111.4 580.6L125.2 591.2L117.9 596.2L137.2 597.9L130.5 579.7L127.5 588.1L113.7 577.6Z"/><path d="M126.5 581.3L140.7 591.2L133.6 596.5L153.0 597.4L145.5 579.5L142.9 588.0L128.7 578.1Z"/><path d="M141.4 583.8L156.5 591.0L150.6 597.2L169.2 594.9L159.2 579.1L158.1 587.6L143.0 580.5Z"/><path d="M157.5 584.9L172.0 590.8L166.8 596.9L184.1 593.8L173.8 579.5L173.3 587.5L158.8 581.6Z"/><path d="M174.3 587.5L187.6 590.3L184.1 596.3L198.4 591.0L187.5 580.4L188.2 587.3L174.9 584.5Z"/><path d="M190.6 591.3L203.5 589.8L202.1 596.3L213.4 587.2L200.3 580.9L203.1 586.9L190.2 588.4Z"/><path d="M205.7 592.7L219.1 589.7L218.4 596.7L229.3 585.9L214.8 580.7L218.4 586.7L205.0 589.7Z"/><path d="M221.2 590.5L234.2 589.9L232.4 596.3L244.3 588.0L231.6 580.8L234.0 587.0L221.0 587.6Z"/><path d="M236.4 591.5L249.7 589.8L248.4 596.6L260.0 587.0L246.4 580.7L249.3 586.9L236.0 588.6Z"/><path d="M251.7 594.5L265.5 589.5L265.7 597.1L275.9 584.1L259.8 580.5L264.4 586.4L250.6 591.4Z"/><path d="M267.2 595.7L281.1 589.4L281.9 597.2L291.3 582.9L274.4 580.5L279.7 586.3L265.8 592.6Z"/><path d="M282.8 598.4L296.8 589.1L299.1 597.4L306.8 580.2L288.0 580.6L294.8 586.0L280.7 595.3Z"/><path d="M300.8 601.4L312.4 588.4L316.8 596.1L320.0 576.9L301.3 582.3L309.5 585.8L298.0 598.8Z"/><path d="M320.1 603.3L327.6 587.7L334.1 593.8L331.8 574.5L315.3 584.9L324.2 586.0L316.7 601.7Z"/><path d="M336.7 603.5L342.9 587.5L349.7 593.1L346.1 574.2L330.6 585.7L339.4 586.1L333.2 602.1Z"/><path d="M352.0 601.6L358.1 587.7L363.9 592.9L361.4 576.1L347.2 585.6L355.0 586.3L348.9 600.3Z"/><path d="M367.9 600.2L373.3 587.8L378.4 592.4L376.1 577.4L363.6 585.9L370.5 586.6L365.1 599.0Z"/><path d="M384.1 598.8L388.4 587.8L393.0 591.6L390.5 578.7L379.9 586.6L386.0 586.9L381.7 597.8Z"/><path d="M399.1 600.2L404.0 587.7L409.3 592.1L406.5 577.4L394.4 586.3L401.3 586.6L396.4 599.1Z"/><path d="M414.8 600.2L419.4 587.7L424.8 591.9L421.6 577.3L409.8 586.5L416.6 586.7L412.1 599.2Z"/><path d="M431.6 599.4L434.5 587.6L439.8 590.9L435.6 578.0L425.7 587.4L431.9 586.9L428.9 598.7Z"/><path d="M447.7 598.8L449.8 587.5L454.9 590.4L450.2 578.5L441.5 587.8L447.3 587.1L445.2 598.3Z"/><path d="M462.8 594.9L464.7 588.0L467.8 590.0L465.4 582.3L459.5 587.8L463.2 587.6L461.3 594.5Z"/><path d="M477.9 594.3L480.0 588.1L482.8 590.1L481.0 582.9L475.3 587.6L478.7 587.6L476.5 593.9Z"/><path d="M495.0 594.5L495.3 587.8L498.5 589.1L494.8 582.6L490.5 588.7L493.8 587.8L493.5 594.4Z"/><path d="M512.3 594.0L510.4 587.6L513.8 587.7L508.2 582.8L506.2 590.0L509.0 588.0L510.9 594.4Z"/><path d="M529.9 592.4L525.4 587.5L528.5 586.0L521.2 584.1L522.6 591.5L524.3 588.5L528.9 593.4Z"/><path d="M546.8 591.0L540.4 587.4L543.2 584.9L535.1 585.4L539.0 592.5L539.7 588.8L546.0 592.4Z"/><path d="M562.5 589.4L555.6 587.6L557.6 584.5L550.0 586.9L555.4 592.7L555.2 589.1L562.1 590.9Z"/><path d="M577.4 587.6L570.8 587.8L571.8 584.5L565.6 588.7L572.0 592.5L570.8 589.3L577.5 589.1Z"/><path d="M592.9 588.4L586.3 587.7L587.7 584.6L581.1 587.9L586.9 592.5L586.1 589.2L592.7 589.8Z"/><path d="M608.3 587.1L601.5 587.8L602.2 584.4L596.3 589.2L603.1 592.5L601.7 589.3L608.4 588.6Z"/><path d="M623.6 587.1L616.9 587.9L617.6 584.5L611.8 589.2L618.6 592.4L617.1 589.3L623.7 588.5Z"/><path d="M638.9 587.9L632.4 587.8L633.5 584.7L627.4 588.4L633.4 592.4L632.4 589.2L638.9 589.3Z"/><path d="M654.5 588.1L647.9 587.7L649.1 584.5L642.6 588.2L648.7 592.5L647.8 589.2L654.4 589.6Z"/><path d="M670.1 587.8L663.2 587.7L664.3 584.4L657.7 588.5L664.3 592.7L663.2 589.3L670.1 589.3Z"/><path d="M685.5 587.4L678.5 587.8L679.5 584.3L673.1 588.9L679.9 592.7L678.6 589.3L685.6 588.9Z"/><path d="M700.9 587.2L693.9 587.8L694.7 584.3L688.5 589.1L695.5 592.7L694.0 589.4L701.1 588.7Z"/><path d="M716.6 587.3L709.3 587.8L710.2 584.1L703.6 588.9L710.8 592.9L709.4 589.4L716.7 588.9Z"/><path d="M732.2 587.0L724.6 587.8L725.5 583.9L718.8 589.2L726.4 593.0L724.8 589.4L732.4 588.7Z"/><path d="M747.6 587.1L740.1 587.7L741.0 584.0L734.2 589.1L741.7 593.0L740.2 589.4L747.7 588.8Z"/><path d="M763.1 587.4L755.5 587.7L756.6 584.0L749.6 588.8L756.9 593.0L755.6 589.4L763.1 589.1Z"/><path d="M96.1 576.2L110.9 577.5L107.9 584.5L122.7 576.9L109.5 566.8L111.2 574.2L96.4 572.9Z"/><path d="M111.9 567.1L125.1 578.4L117.4 583.0L136.7 585.8L130.9 567.2L127.6 575.5L114.4 564.2Z"/><path d="M128.9 565.1L140.0 578.4L131.7 581.7L150.2 587.6L147.7 568.4L143.0 575.9L131.8 562.6Z"/><path d="M144.4 566.5L155.6 578.2L148.1 581.8L165.7 586.2L162.1 568.4L158.2 575.7L147.0 564.0Z"/><path d="M162.2 568.7L171.1 577.7L165.3 580.5L179.0 583.7L176.0 570.0L173.0 575.7L164.2 566.8Z"/><path d="M184.9 567.8L185.6 576.8L181.1 575.7L187.1 583.7L191.8 574.8L187.6 576.6L186.9 567.7Z"/><path d="M204.7 580.9L202.3 574.8L205.6 574.6L199.8 570.3L198.4 577.5L201.0 575.3L203.3 581.4Z"/><path d="M209.9 580.4L218.7 576.3L219.3 581.3L225.2 572.0L214.3 570.7L217.8 574.3L208.9 578.5Z"/><path d="M224.5 578.9L234.0 576.5L233.6 581.5L241.1 573.6L230.8 570.2L233.5 574.4L224.0 576.8Z"/><path d="M240.2 580.6L249.6 576.3L250.2 581.6L256.4 571.9L245.0 570.4L248.6 574.2L239.3 578.6Z"/><path d="M255.2 584.6L265.6 575.9L268.1 582.4L272.8 568.0L257.8 570.0L263.7 573.7L253.3 582.3Z"/><path d="M269.6 586.3L281.3 575.9L284.5 583.3L289.4 566.5L272.1 569.3L279.0 573.3L267.3 583.7Z"/><path d="M286.4 589.2L297.0 575.4L302.0 582.8L303.8 563.4L285.5 570.1L293.9 573.1L283.3 586.8Z"/><path d="M305.4 590.7L312.2 574.8L318.9 580.7L315.8 561.5L299.8 572.5L308.7 573.3L301.8 589.2Z"/><path d="M322.5 591.1L327.5 574.5L334.8 579.6L329.6 560.9L314.9 573.6L323.8 573.4L318.8 590.0Z"/><path d="M336.5 590.8L343.0 574.7L349.8 580.5L346.3 561.4L330.5 572.7L339.4 573.3L332.9 589.4Z"/><path d="M350.9 590.5L358.5 574.9L364.8 581.1L362.7 561.8L346.2 572.0L355.0 573.2L347.4 588.8Z"/><path d="M367.2 590.2L373.7 574.8L380.2 580.4L377.1 562.0L361.8 572.7L370.3 573.4L363.8 588.8Z"/><path d="M383.8 587.8L388.7 574.9L394.2 579.3L391.0 564.2L378.7 573.5L385.8 573.8L381.0 586.7Z"/><path d="M399.1 588.2L404.1 574.9L409.8 579.4L406.6 563.8L393.9 573.5L401.2 573.7L396.2 587.1Z"/><path d="M414.1 589.8L419.8 574.7L426.2 579.9L422.6 562.3L408.2 573.1L416.5 573.5L410.8 588.6Z"/><path d="M430.6 588.9L434.9 574.7L441.2 579.1L436.8 563.1L424.2 573.9L431.8 573.7L427.5 587.9Z"/><path d="M445.8 586.8L450.1 574.9L455.2 578.9L452.1 565.1L441.0 573.8L447.5 574.0L443.2 585.8Z"/><path d="M458.1 582.2L465.2 575.8L467.2 580.3L470.0 570.0L459.5 571.9L463.8 574.3L456.7 580.7Z"/><path d="M472.1 580.6L480.5 576.2L481.3 581.0L486.6 571.8L476.0 570.9L479.5 574.3L471.1 578.8Z"/><path d="M487.6 580.8L495.9 576.1L496.9 580.9L501.9 571.5L491.3 571.0L494.9 574.3L486.6 579.0Z"/><path d="M502.6 580.1L511.3 576.3L511.8 581.1L517.7 572.3L507.1 570.7L510.4 574.4L501.7 578.2Z"/><path d="M518.2 580.5L526.7 576.2L527.4 581.1L532.9 571.9L522.3 570.9L525.8 574.3L517.2 578.6Z"/><path d="M533.5 580.3L542.1 576.3L542.7 581.1L548.4 572.1L537.9 570.8L541.2 574.3L532.6 578.4Z"/><path d="M548.4 579.3L557.4 576.4L557.4 581.3L564.2 573.1L553.9 570.5L556.8 574.4L547.7 577.3Z"/><path d="M563.2 577.8L572.7 576.7L571.7 581.4L580.0 574.8L570.4 570.1L572.4 574.6L563.0 575.7Z"/><path d="M578.5 577.5L588.0 576.7L586.9 581.4L595.4 575.0L585.9 570.1L587.9 574.6L578.4 575.4Z"/><path d="M596.1 576.1L603.0 576.6L601.7 579.9L608.5 576.2L602.2 571.5L603.1 575.0L596.2 574.5Z"/><path d="M611.7 574.4L618.2 576.7L616.0 579.4L623.5 577.7L618.7 571.8L618.7 575.3L612.3 573.0Z"/><path d="M736.3 573.9L741.2 576.6L739.1 578.5L745.3 578.1L742.2 572.7L741.7 575.5L736.9 572.8Z"/><path d="M751.6 576.6L756.9 576.3L756.2 578.9L761.1 575.4L755.9 572.6L756.9 575.1L751.6 575.4Z"/><path d="M124.7 560.1L107.5 561.2L109.8 552.6L94.2 563.9L111.0 573.2L107.8 565.0L124.9 563.9Z"/><path d="M138.6 555.4L122.5 561.8L121.9 552.9L110.5 568.7L129.6 572.3L123.9 565.4L140.0 559.0Z"/><path d="M154.4 556.1L137.9 561.7L137.8 552.8L125.6 567.9L144.5 572.5L139.2 565.4L155.6 559.8Z"/><path d="M170.6 558.2L153.5 561.4L154.7 552.6L140.5 565.8L158.5 573.0L154.2 565.2L171.3 562.0Z"/><path d="M186.5 560.4L169.2 561.1L171.6 552.5L155.6 563.6L172.5 573.3L169.3 564.9L186.7 564.2Z"/><path d="M202.0 561.1L184.6 561.0L187.5 552.6L171.0 562.9L187.4 573.3L184.6 564.9L202.0 564.9Z"/><path d="M217.4 560.7L200.0 561.1L202.6 552.5L186.4 563.2L203.0 573.3L200.1 564.9L217.4 564.6Z"/><path d="M232.8 561.0L215.4 561.0L218.2 552.6L201.8 563.0L218.3 573.3L215.4 564.9L232.8 564.8Z"/><path d="M248.3 561.5L230.9 561.0L234.0 552.6L217.2 562.5L233.3 573.4L230.8 564.8L248.1 565.3Z"/><path d="M263.6 561.4L246.3 561.0L249.3 552.6L232.6 562.6L248.8 573.3L246.2 564.8L263.6 565.2Z"/><path d="M279.1 562.4L261.8 560.9L265.3 552.7L248.1 561.6L263.5 573.4L261.5 564.7L278.8 566.2Z"/><path d="M294.5 564.1L277.5 560.7L281.9 552.9L263.7 559.9L277.8 573.3L276.7 564.5L293.7 567.9Z"/><path d="M309.3 567.3L293.4 560.4L299.3 553.8L280.1 556.8L291.1 572.9L291.8 564.0L307.8 570.8Z"/><path d="M322.6 571.8L309.6 560.3L317.3 555.8L298.1 552.7L303.5 571.3L307.0 563.2L320.1 574.6Z"/><path d="M331.0 577.4L326.5 560.6L335.4 561.1L321.1 548.0L315.3 566.6L322.8 561.7L327.3 578.4Z"/><path d="M338.6 578.4L342.8 561.6L350.3 566.4L344.3 547.9L330.2 561.3L339.1 560.7L334.8 577.5Z"/><path d="M353.4 578.4L358.3 561.7L365.6 566.8L360.3 548.1L345.7 560.9L354.6 560.6L349.7 577.3Z"/><path d="M366.6 577.9L373.8 562.0L380.4 568.1L377.7 548.8L361.5 559.5L370.3 560.5L363.1 576.3Z"/><path d="M381.2 577.6L389.3 562.2L395.5 568.6L393.9 549.2L377.1 559.0L385.9 560.4L377.8 575.8Z"/><path d="M398.0 577.0L404.5 562.1L410.7 567.6L407.9 549.7L392.9 559.9L401.2 560.6L394.7 575.5Z"/><path d="M413.4 578.0L420.0 562.0L426.8 567.7L423.4 548.6L407.6 559.9L416.4 560.5L409.9 576.6Z"/><path d="M427.2 577.5L435.5 562.2L441.6 568.7L440.4 549.3L423.4 558.8L432.1 560.4L423.8 575.6Z"/><path d="M439.3 572.4L450.5 563.2L453.2 570.2L458.4 554.7L442.2 556.7L448.5 560.7L437.3 570.0Z"/><path d="M452.7 567.9L465.5 563.9L465.4 570.8L475.2 559.4L460.6 555.5L464.7 561.1L451.8 565.1Z"/><path d="M467.2 565.1L480.6 564.3L478.9 571.0L491.1 562.2L477.9 555.0L480.5 561.4L467.1 562.2Z"/><path d="M482.7 565.6L496.1 564.3L494.6 571.0L506.5 561.8L493.0 555.0L495.8 561.3L482.4 562.6Z"/><path d="M498.3 566.2L511.6 564.2L510.4 571.0L521.8 561.1L508.0 555.1L511.1 561.3L497.8 563.3Z"/><path d="M513.5 565.5L526.9 564.3L525.3 571.0L537.3 561.8L523.9 555.0L526.6 561.3L513.2 562.6Z"/><path d="M528.8 564.7L542.2 564.4L540.2 571.0L552.7 562.6L539.8 554.9L542.1 561.4L528.7 561.8Z"/><path d="M543.9 565.1L557.7 564.4L555.8 571.3L568.5 562.3L555.0 554.7L557.5 561.3L543.7 562.0Z"/><path d="M558.5 565.3L573.2 564.5L571.2 571.8L584.6 562.2L570.3 554.2L573.0 561.2L558.3 562.0Z"/><path d="M573.0 564.7L588.6 564.7L586.1 572.3L600.8 562.9L586.0 553.6L588.6 561.2L573.0 561.3Z"/><path d="M588.6 566.0L604.2 564.5L602.4 572.3L616.2 561.6L600.6 553.7L603.8 561.1L588.3 562.6Z"/><path d="M604.9 566.1L619.5 564.4L618.0 571.8L630.8 561.4L615.9 554.3L619.1 561.1L604.5 562.9Z"/><path d="M625.2 564.3L634.1 563.9L632.9 568.3L641.1 562.6L632.4 557.6L634.0 561.9L625.1 562.3Z"/><path d="M640.5 564.0L649.5 563.9L648.1 568.3L656.5 562.9L648.0 557.6L649.5 561.9L640.5 562.0Z"/><path d="M655.9 564.0L664.9 563.9L663.5 568.3L671.9 562.8L663.4 557.6L664.9 561.9L655.9 562.1Z"/><path d="M671.3 564.1L680.3 563.9L678.9 568.3L687.3 562.8L678.8 557.6L680.3 561.9L671.3 562.1Z"/><path d="M686.7 563.8L695.7 563.9L694.2 568.3L702.7 563.0L694.3 557.6L695.7 562.0L686.7 561.9Z"/><path d="M702.1 563.9L711.1 563.9L709.6 568.3L718.1 563.0L709.7 557.6L711.1 562.0L702.1 561.9Z"/><path d="M717.5 564.0L726.5 563.9L725.1 568.3L733.5 562.9L725.0 557.6L726.5 561.9L717.5 562.0Z"/><path d="M732.9 563.8L741.9 564.0L740.4 568.3L748.9 563.1L740.5 557.6L741.9 562.0L732.9 561.8Z"/><path d="M748.3 563.8L757.3 563.9L755.8 568.3L764.3 563.0L755.9 557.6L757.3 562.0L748.3 561.9Z"/><path d="M124.5 548.2L107.7 548.3L110.3 540.1L94.5 550.3L110.5 560.2L107.7 552.0L124.5 551.9Z"/><path d="M139.8 547.4L123.0 548.4L125.2 540.1L109.9 551.1L126.4 560.1L123.2 552.1L140.0 551.1Z"/><path d="M155.2 547.4L138.4 548.4L140.6 540.1L125.3 551.1L141.8 560.1L138.6 552.1L155.4 551.1Z"/><path d="M170.7 548.0L153.9 548.3L156.4 540.1L140.7 550.5L156.8 560.2L153.9 552.1L170.7 551.7Z"/><path d="M186.1 548.3L169.3 548.3L172.0 540.1L156.1 550.2L172.0 560.2L169.3 552.0L186.1 552.0Z"/><path d="M201.5 548.3L184.7 548.3L187.4 540.1L171.5 550.1L187.4 560.2L184.7 552.0L201.5 552.1Z"/><path d="M216.9 548.3L200.1 548.3L202.8 540.1L186.9 550.1L202.8 560.2L200.1 552.0L216.9 552.0Z"/><path d="M232.3 548.3L215.5 548.3L218.2 540.1L202.3 550.1L218.2 560.2L215.5 552.0L232.3 552.0Z"/><path d="M247.7 548.3L230.9 548.3L233.6 540.1L217.7 550.2L233.6 560.2L230.9 552.0L247.7 552.0Z"/><path d="M263.1 548.3L246.3 548.3L249.0 540.1L233.1 550.2L249.0 560.2L246.3 552.0L263.1 552.0Z"/><path d="M278.5 548.3L261.7 548.3L264.4 540.1L248.5 550.2L264.4 560.2L261.7 552.0L278.5 552.0Z"/><path d="M294.0 548.8L277.2 548.2L280.2 540.1L263.9 549.6L279.5 560.2L277.0 552.0L293.8 552.5Z"/><path d="M309.4 549.6L292.7 548.2L296.0 540.2L279.4 548.9L294.4 560.3L292.4 551.9L309.1 553.3Z"/><path d="M324.8 549.9L308.1 548.1L311.7 540.3L294.8 548.6L309.5 560.2L307.7 551.8L324.4 553.6Z"/><path d="M340.2 549.5L323.5 548.2L326.8 540.2L310.2 549.0L325.2 560.2L323.2 551.9L339.9 553.2Z"/><path d="M355.5 551.7L339.2 547.9L343.7 540.6L325.9 546.8L339.1 560.2L338.3 551.6L354.7 555.4Z"/><path d="M370.5 554.0L354.9 547.8L360.5 541.2L342.0 544.6L353.0 559.8L353.6 551.2L369.2 557.4Z"/><path d="M382.3 557.3L371.2 547.9L377.5 544.0L361.4 541.8L366.3 557.3L369.1 550.4L380.2 559.8Z"/><path d="M393.2 561.5L387.6 548.1L395.1 547.5L381.7 538.2L379.0 554.2L384.6 549.3L390.2 562.8Z"/><path d="M404.2 563.1L403.7 548.5L410.8 550.6L401.7 537.2L393.4 551.2L400.4 548.7L401.0 563.2Z"/><path d="M413.0 562.5L419.7 549.5L424.9 554.8L423.4 538.6L409.4 546.9L416.8 548.0L410.2 561.0Z"/><path d="M422.3 557.8L435.1 550.8L436.4 558.2L444.3 544.0L428.1 542.9L433.5 548.0L420.7 554.9Z"/><path d="M433.9 554.8L450.4 551.6L449.3 560.2L463.1 547.3L445.5 540.5L449.7 548.0L433.2 551.1Z"/><path d="M448.9 553.3L465.7 551.9L463.7 560.3L478.7 548.9L462.0 540.2L465.4 548.2L448.6 549.6Z"/><path d="M464.2 552.4L481.0 552.0L478.5 560.2L494.1 549.8L478.0 540.1L480.9 548.3L464.1 548.7Z"/><path d="M479.7 552.9L496.4 551.9L494.2 560.2L509.5 549.3L493.0 540.2L496.2 548.2L479.4 549.2Z"/><path d="M495.2 553.8L511.9 551.8L510.2 560.2L524.8 548.4L507.8 540.3L511.5 548.1L494.8 550.1Z"/><path d="M510.5 553.2L527.3 551.9L525.2 560.2L540.3 549.0L523.6 540.2L527.0 548.2L510.2 549.5Z"/><path d="M525.8 552.3L542.6 552.0L540.0 560.2L555.7 549.9L539.7 540.1L542.5 548.3L525.7 548.5Z"/><path d="M541.1 552.2L557.9 552.0L555.4 560.2L571.1 550.0L555.1 540.1L557.9 548.3L541.1 548.5Z"/><path d="M556.5 551.6L573.3 552.1L570.3 560.2L586.5 550.6L570.9 540.1L573.4 548.4L556.6 547.8Z"/><path d="M571.8 551.2L588.6 552.1L585.5 560.1L601.9 551.0L586.6 540.1L588.8 548.4L572.0 547.5Z"/><path d="M587.5 552.9L604.2 551.9L602.0 560.2L617.3 549.3L600.8 540.2L604.0 548.2L587.2 549.2Z"/><path d="M602.9 553.2L619.7 551.9L617.6 560.2L632.7 549.0L616.1 540.2L619.4 548.2L602.6 549.5Z"/><path d="M618.2 552.4L635.0 552.0L632.5 560.2L648.1 549.8L632.0 540.1L634.9 548.3L618.1 548.7Z"/><path d="M633.5 551.9L650.3 552.0L647.5 560.2L663.5 550.3L647.7 540.1L650.3 548.3L633.5 548.1Z"/><path d="M648.9 552.0L665.7 552.0L663.0 560.2L678.9 550.2L663.1 540.1L665.7 548.3L648.9 548.3Z"/><path d="M664.3 552.2L681.1 552.0L678.5 560.2L694.3 550.0L678.3 540.1L681.1 548.3L664.3 548.4Z"/><path d="M679.7 552.0L696.5 552.0L693.8 560.2L709.7 550.2L693.8 540.1L696.5 548.3L679.7 548.3Z"/><path d="M695.1 551.9L711.9 552.0L709.2 560.2L725.1 550.3L709.3 540.1L711.9 548.3L695.1 548.2Z"/><path d="M710.5 552.1L727.3 552.0L724.7 560.2L740.5 550.1L724.6 540.1L727.3 548.3L710.5 548.3Z"/><path d="M725.9 552.0L742.7 552.0L740.0 560.2L755.9 550.2L740.0 540.1L742.7 548.3L725.9 548.3Z"/><path d="M741.3 552.0L758.1 552.0L755.4 560.2L771.3 550.2L755.4 540.1L758.1 548.3L741.3 548.3Z"/></g>
<g stroke="#3c3c3c" stroke-width="1.1" fill="none">
<path d="M98.5 61.1H766.6" stroke="#858585" stroke-width="1.5"/>
<path d="M766.6 61.1V400.4M109.5 61.1V400.4M98.5 389.4H766.6"/>
<path d="M98.5 280.0H109.5M98.5 170.5H109.5M273.8 389.4V400.4M438.1 389.4V400.4M602.3 389.4V400.4"/></g>
<text transform="translate(82.8 69.2) scale(0.955 1)" font-size="23.35" text-anchor="end">90N</text>
<text transform="translate(82.8 178.6) scale(0.955 1)" font-size="23.35" text-anchor="end">60N</text>
<text transform="translate(82.8 288.1) scale(0.955 1)" font-size="23.35" text-anchor="end">30N</text>
<text transform="translate(82.8 397.5) scale(0.955 1)" font-size="23.35" text-anchor="end">0</text>
<text transform="translate(109.5 434.0) scale(0.955 1)" font-size="23.35" text-anchor="middle">0</text>
<text transform="translate(273.8 434.0) scale(0.955 1)" font-size="23.35" text-anchor="middle">60E</text>
<text transform="translate(438.1 434.0) scale(0.955 1)" font-size="23.35" text-anchor="middle">120E</text>
<text transform="translate(602.3 434.0) scale(0.955 1)" font-size="23.35" text-anchor="middle">180</text>
<text transform="translate(766.6 434.0) scale(0.955 1)" font-size="23.35" text-anchor="middle">120W</text>
<text transform="translate(109.7 52.8) scale(0.955 1)" font-size="23.66" text-anchor="start" textLength="26.8" lengthAdjust="spacingAndGlyphs">(a)</text>
<text transform="translate(767.4 57.0) scale(0.955 1)" font-size="23.35" text-anchor="end">HCP</text>
<rect x="159.90" y="447.8" width="29.28" height="16.0" fill="#1f2e63"/>
<rect x="189.13" y="447.8" width="29.28" height="16.0" fill="#1f4487"/>
<rect x="218.36" y="447.8" width="29.28" height="16.0" fill="#2a63ad"/>
<rect x="247.59" y="447.8" width="29.28" height="16.0" fill="#4a8fcb"/>
<rect x="276.83" y="447.8" width="29.28" height="16.0" fill="#72b6e2"/>
<rect x="306.06" y="447.8" width="29.28" height="16.0" fill="#9fd6f4"/>
<rect x="335.29" y="447.8" width="29.28" height="16.0" fill="#c2e6f8"/>
<rect x="364.52" y="447.8" width="29.28" height="16.0" fill="#ddf0fa"/>
<rect x="393.75" y="447.8" width="29.28" height="16.0" fill="#f5faff"/>
<rect x="422.98" y="447.8" width="29.28" height="16.0" fill="#ffffff"/>
<rect x="452.22" y="447.8" width="29.28" height="16.0" fill="#fffaf0"/>
<rect x="481.45" y="447.8" width="29.28" height="16.0" fill="#fff0c0"/>
<rect x="510.68" y="447.8" width="29.28" height="16.0" fill="#fdd878"/>
<rect x="539.91" y="447.8" width="29.28" height="16.0" fill="#fdb236"/>
<rect x="569.14" y="447.8" width="29.28" height="16.0" fill="#fb8d2b"/>
<rect x="598.37" y="447.8" width="29.28" height="16.0" fill="#f0602a"/>
<rect x="627.61" y="447.8" width="29.28" height="16.0" fill="#de3226"/>
<rect x="656.84" y="447.8" width="29.28" height="16.0" fill="#b81c24"/>
<rect x="686.07" y="447.8" width="29.28" height="16.0" fill="#8c141c"/>
<path d="M189.13 447.8v16.0M218.36 447.8v16.0M247.59 447.8v16.0M276.83 447.8v16.0M306.06 447.8v16.0M335.29 447.8v16.0M364.52 447.8v16.0M393.75 447.8v16.0M422.98 447.8v16.0M452.22 447.8v16.0M481.45 447.8v16.0M510.68 447.8v16.0M539.91 447.8v16.0M569.14 447.8v16.0M598.37 447.8v16.0M627.61 447.8v16.0M656.84 447.8v16.0M686.07 447.8v16.0" stroke="#fff" stroke-width="0.7" fill="none"/>
<text transform="translate(218.4 483.4) scale(0.955 1)" font-size="20.10" text-anchor="middle">-300</text>
<text transform="translate(276.8 483.4) scale(0.955 1)" font-size="20.10" text-anchor="middle">-150</text>
<text transform="translate(335.3 483.4) scale(0.955 1)" font-size="20.10" text-anchor="middle">-80</text>
<text transform="translate(393.8 483.4) scale(0.955 1)" font-size="20.10" text-anchor="middle">-40</text>
<text transform="translate(452.2 483.4) scale(0.955 1)" font-size="20.10" text-anchor="middle">20</text>
<text transform="translate(510.7 483.4) scale(0.955 1)" font-size="20.10" text-anchor="middle">60</text>
<text transform="translate(569.1 483.4) scale(0.955 1)" font-size="20.10" text-anchor="middle">100</text>
<text transform="translate(627.6 483.4) scale(0.955 1)" font-size="20.10" text-anchor="middle">200</text>
<text transform="translate(686.1 483.4) scale(0.955 1)" font-size="20.10" text-anchor="middle">400</text>
<text transform="translate(438.2 502.9) scale(0.955 1)" font-size="21.57" text-anchor="middle" textLength="180.9" lengthAdjust="spacingAndGlyphs">height response: m</text>
<g stroke="#3c3c3c" stroke-width="1.1" fill="none">
<path d="M98.5 538.5H766.6V877.8M109.5 538.5V877.8M98.5 866.8H766.6"/>
<path d="M98.5 757.4H109.5M98.5 647.9H109.5M273.8 866.8V877.8M438.1 866.8V877.8M602.3 866.8V877.8"/></g>
<text transform="translate(82.8 546.6) scale(0.955 1)" font-size="23.35" text-anchor="end">90N</text>
<text transform="translate(82.8 656.0) scale(0.955 1)" font-size="23.35" text-anchor="end">60N</text>
<text transform="translate(82.8 765.5) scale(0.955 1)" font-size="23.35" text-anchor="end">30N</text>
<text transform="translate(82.8 874.9) scale(0.955 1)" font-size="23.35" text-anchor="end">0</text>
<text transform="translate(109.5 911.4) scale(0.955 1)" font-size="23.35" text-anchor="middle">0</text>
<text transform="translate(273.8 911.4) scale(0.955 1)" font-size="23.35" text-anchor="middle">60E</text>
<text transform="translate(438.1 911.4) scale(0.955 1)" font-size="23.35" text-anchor="middle">120E</text>
<text transform="translate(602.3 911.4) scale(0.955 1)" font-size="23.35" text-anchor="middle">180</text>
<text transform="translate(766.6 911.4) scale(0.955 1)" font-size="23.35" text-anchor="middle">120W</text>
<text transform="translate(109.7 530.2) scale(0.955 1)" font-size="23.66" text-anchor="start" textLength="26.8" lengthAdjust="spacingAndGlyphs">(b)</text>
<text transform="translate(767.4 534.4) scale(0.955 1)" font-size="23.35" text-anchor="end">LCP</text>
<rect x="159.90" y="925.2" width="26.50" height="16.0" fill="#1c2a5e"/>
<rect x="186.35" y="925.2" width="26.50" height="16.0" fill="#1f3f80"/>
<rect x="212.80" y="925.2" width="26.50" height="16.0" fill="#2559a3"/>
<rect x="239.24" y="925.2" width="26.50" height="16.0" fill="#3f80c0"/>
<rect x="265.69" y="925.2" width="26.50" height="16.0" fill="#62a6da"/>
<rect x="292.14" y="925.2" width="26.50" height="16.0" fill="#86c4ec"/>
<rect x="318.59" y="925.2" width="26.50" height="16.0" fill="#aadcf6"/>
<rect x="345.03" y="925.2" width="26.50" height="16.0" fill="#c6e8f8"/>
<rect x="371.48" y="925.2" width="26.50" height="16.0" fill="#dff1fb"/>
<rect x="397.93" y="925.2" width="26.50" height="16.0" fill="#f6fbff"/>
<rect x="424.38" y="925.2" width="26.50" height="16.0" fill="#ffffff"/>
<rect x="450.82" y="925.2" width="26.50" height="16.0" fill="#fffcf5"/>
<rect x="477.27" y="925.2" width="26.50" height="16.0" fill="#fff0c0"/>
<rect x="503.72" y="925.2" width="26.50" height="16.0" fill="#fde08a"/>
<rect x="530.17" y="925.2" width="26.50" height="16.0" fill="#fdbf50"/>
<rect x="556.61" y="925.2" width="26.50" height="16.0" fill="#fd9e2f"/>
<rect x="583.06" y="925.2" width="26.50" height="16.0" fill="#f77c2a"/>
<rect x="609.51" y="925.2" width="26.50" height="16.0" fill="#ea5428"/>
<rect x="635.96" y="925.2" width="26.50" height="16.0" fill="#d62b27"/>
<rect x="662.40" y="925.2" width="26.50" height="16.0" fill="#b21c24"/>
<rect x="688.85" y="925.2" width="26.50" height="16.0" fill="#8a141b"/>
<path d="M186.35 925.2v16.0M212.80 925.2v16.0M239.24 925.2v16.0M265.69 925.2v16.0M292.14 925.2v16.0M318.59 925.2v16.0M345.03 925.2v16.0M371.48 925.2v16.0M397.93 925.2v16.0M424.38 925.2v16.0M450.82 925.2v16.0M477.27 925.2v16.0M503.72 925.2v16.0M530.17 925.2v16.0M556.61 925.2v16.0M583.06 925.2v16.0M609.51 925.2v16.0M635.96 925.2v16.0M662.40 925.2v16.0M688.85 925.2v16.0" stroke="#fff" stroke-width="0.7" fill="none"/>
<text transform="translate(186.3 960.8) scale(0.955 1)" font-size="20.10" text-anchor="middle">-500</text>
<text transform="translate(239.2 960.8) scale(0.955 1)" font-size="20.10" text-anchor="middle">-300</text>
<text transform="translate(292.1 960.8) scale(0.955 1)" font-size="20.10" text-anchor="middle">-150</text>
<text transform="translate(345.0 960.8) scale(0.955 1)" font-size="20.10" text-anchor="middle">-80</text>
<text transform="translate(397.9 960.8) scale(0.955 1)" font-size="20.10" text-anchor="middle">-40</text>
<text transform="translate(450.8 960.8) scale(0.955 1)" font-size="20.10" text-anchor="middle">20</text>
<text transform="translate(503.7 960.8) scale(0.955 1)" font-size="20.10" text-anchor="middle">60</text>
<text transform="translate(556.6 960.8) scale(0.955 1)" font-size="20.10" text-anchor="middle">100</text>
<text transform="translate(609.5 960.8) scale(0.955 1)" font-size="20.10" text-anchor="middle">200</text>
<text transform="translate(662.4 960.8) scale(0.955 1)" font-size="20.10" text-anchor="middle">400</text>
<text transform="translate(438.2 980.3) scale(0.955 1)" font-size="21.57" text-anchor="middle" textLength="180.9" lengthAdjust="spacingAndGlyphs">height response: m</text>
</svg></body></html>
